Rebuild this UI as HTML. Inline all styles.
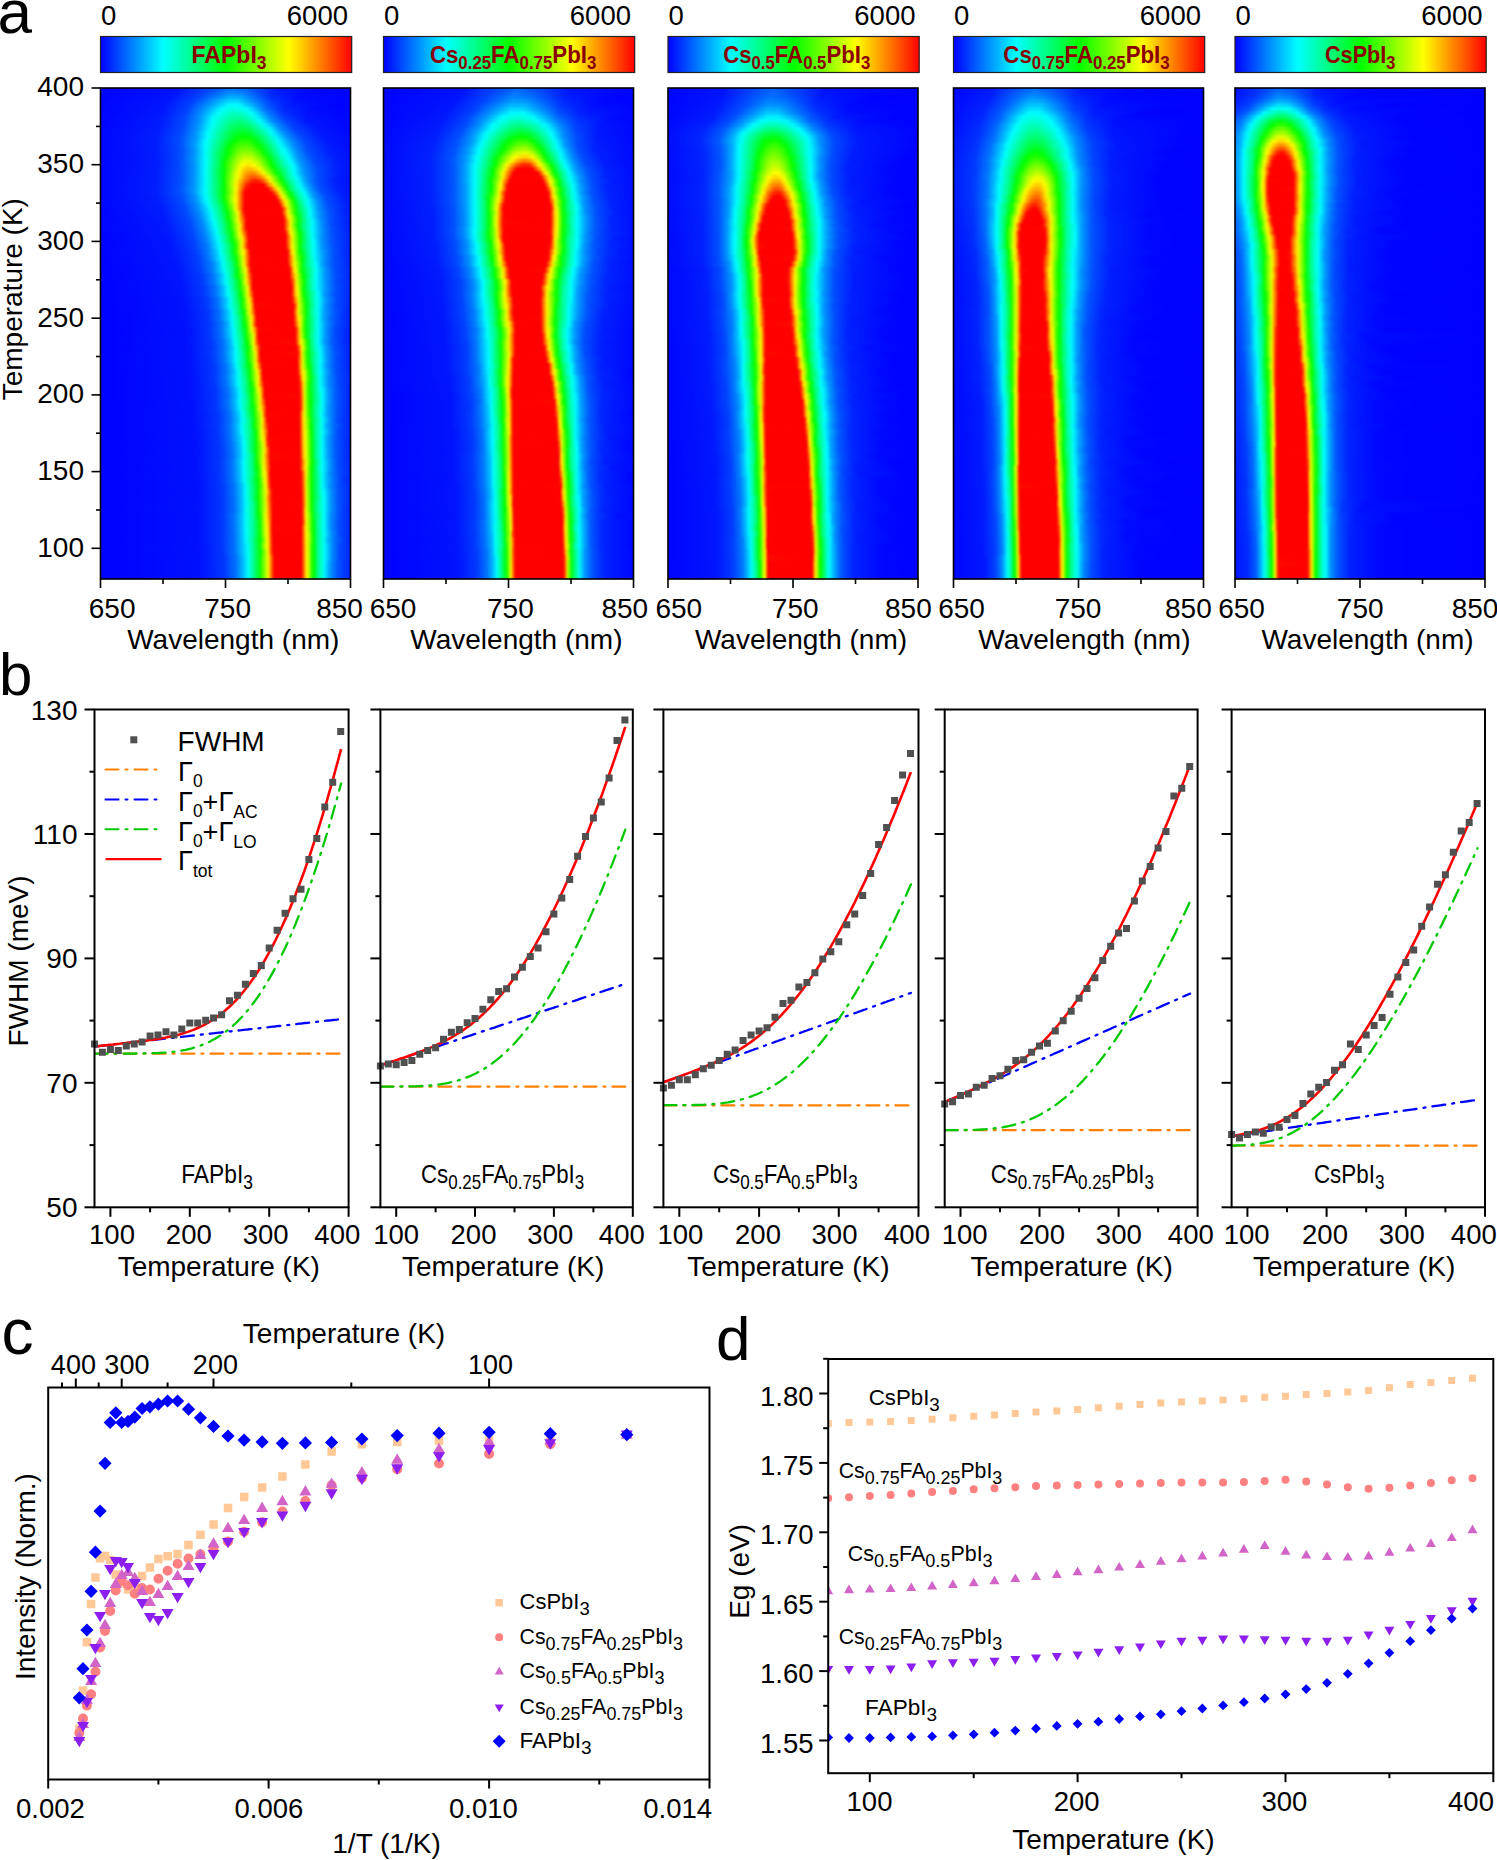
<!DOCTYPE html>
<html><head><meta charset="utf-8"><style>
html,body{margin:0;padding:0;background:#fff;width:1497px;height:1860px;overflow:hidden}
.hm{position:absolute;overflow:hidden}
.hb{position:absolute}
.hb i{position:absolute;left:0;width:100%;display:block}
svg{position:absolute;left:0;top:0}
</style></head><body>
<div class="hm" style="left:100.5px;top:88px;width:250.0px;height:491px"><div class="hb" style="left:-5px;top:-5px;width:260px;height:501px;filter:blur(1.0px)"><i style="top:0px;height:5px;background:linear-gradient(90deg,#0001ff 0px,#01f 84px,#0043ff 116px,#0067ff 138px,#004aff 154px,#0014ff 180px,#0001ff 242px,#0001ff 260px)"></i><i style="top:4px;height:5px;background:linear-gradient(90deg,#0001ff 0px,#0012ff 82px,#0041ff 112px,#0075ff 136px,#0063ff 150px,#001bff 178px,#0003ff 222px,#0001ff 260px)"></i><i style="top:8px;height:5px;background:linear-gradient(90deg,#0001ff 0px,#0013ff 80px,#0041ff 106px,#008dff 134px,#0082ff 146px,#0024ff 176px,#0006ff 210px,#0001ff 260px)"></i><i style="top:12px;height:5px;background:linear-gradient(90deg,#0001ff 0px,#0014ff 76px,#0040ff 102px,#00adff 134px,#00a7ff 144px,#002fff 174px,#000bff 202px,#0001ff 260px)"></i><i style="top:16px;height:5px;background:linear-gradient(90deg,#0002ff 0px,#0015ff 72px,#0042ff 98px,#00d2ff 132px,#00d3ff 142px,#0083ff 158px,#0037ff 176px,#000fff 200px,#0001ff 260px)"></i><i style="top:20px;height:5px;background:linear-gradient(90deg,#0002ff 0px,#0016ff 70px,#04f 94px,#09f 114px,#00f7ff 132px,#00fdff 142px,#00baff 154px,#0052ff 172px,#001dff 190px,#0004ff 234px,#0002ff 260px)"></i><i style="top:24px;height:5px;background:linear-gradient(90deg,#0002ff 0px,#0017ff 68px,#04f 92px,#0090ff 108px,#00fffd 126px,#00ffde 138px,#00fff6 148px,#00f7ff 152px,#0069ff 170px,#002cff 186px,#000aff 216px,#0002ff 260px)"></i><i style="top:28px;height:5px;background:linear-gradient(90deg,#0002ff 0px,#0017ff 66px,#04f 90px,#0093ff 106px,#00fffc 122px,#00ffc2 136px,#00ffc8 146px,#00fffe 156px,#0079ff 172px,#0035ff 186px,#000fff 212px,#0002ff 260px)"></i><i style="top:32px;height:5px;background:linear-gradient(90deg,#0003ff 0px,#0018ff 64px,#0046ff 88px,#0092ff 104px,#00fffe 118px,#00ffac 134px,#00ffa1 144px,#00ffcd 154px,#00fcff 160px,#0085ff 174px,#003eff 188px,#0013ff 210px,#0003ff 260px)"></i><i style="top:36px;height:5px;background:linear-gradient(90deg,#0003ff 0px,#001aff 64px,#004aff 88px,#0093ff 104px,#0ff 116px,#00ff94 134px,#00ff80 144px,#00ffa0 152px,#00fffe 164px,#008bff 176px,#0045ff 190px,#0017ff 210px,#0003ff 260px)"></i><i style="top:40px;height:5px;background:linear-gradient(90deg,#0003ff 0px,#001aff 64px,#004bff 88px,#0094ff 102px,#00fffc 116px,#00ff78 134px,#00ff5f 144px,#00ff7f 154px,#00fffc 168px,#0084ff 182px,#003eff 196px,#0014ff 218px,#0004ff 260px)"></i><i style="top:44px;height:5px;background:linear-gradient(90deg,#0003ff 0px,#001bff 62px,#004bff 86px,#0095ff 102px,#00fffa 114px,#00ff5c 136px,#00ff3e 146px,#00ff56 154px,#00ffcd 168px,#00f8ff 174px,#008cff 184px,#0043ff 198px,#0016ff 222px,#0005ff 260px)"></i><i style="top:48px;height:5px;background:linear-gradient(90deg,#0004ff 0px,#001cff 62px,#004cff 86px,#0096ff 100px,#0ff 112px,#00ff3d 136px,#00ff1d 146px,#00ff2e 154px,#00ff87 164px,#00fffd 176px,#008bff 188px,#0043ff 202px,#0016ff 226px,#0006ff 260px)"></i><i style="top:52px;height:5px;background:linear-gradient(90deg,#0004ff 0px,#001cff 60px,#004dff 84px,#0097ff 100px,#00fffd 112px,#00ff1d 138px,#04ff00 146px,#00ff08 154px,#00ff56 164px,#00f8ff 180px,#0094ff 190px,#004cff 204px,#001cff 224px,#0007ff 260px)"></i><i style="top:56px;height:5px;background:linear-gradient(90deg,#0004ff 0px,#001dff 60px,#004fff 84px,#009cff 100px,#00fffd 110px,#00ff02 138px,#27ff00 146px,#1eff00 154px,#00ff0a 160px,#00fffd 182px,#0093ff 194px,#0048ff 208px,#0019ff 230px,#0008ff 260px)"></i><i style="top:60px;height:5px;background:linear-gradient(90deg,#0004ff 0px,#001dff 60px,#004cff 84px,#0098ff 98px,#00feff 110px,#00ff4b 128px,#00ff02 134px,#4f0 144px,#48ff00 152px,#13ff00 160px,#00ff0c 164px,#00fff9 184px,#0087ff 198px,#0043ff 212px,#0017ff 236px,#0009ff 260px)"></i><i style="top:64px;height:5px;background:linear-gradient(90deg,#0004ff 0px,#001cff 60px,#004bff 84px,#0091ff 98px,#00fffd 110px,#00ff53 126px,#0f0 132px,#5cff00 142px,#72ff00 150px,#5bff00 156px,#02ff00 166px,#00ffe3 184px,#00fdff 188px,#0097ff 198px,#004fff 210px,#001eff 232px,#000aff 260px)"></i><i style="top:68px;height:5px;background:linear-gradient(90deg,#0004ff 0px,#001bff 60px,#004aff 84px,#008fff 98px,#00ebff 108px,#00fff3 110px,#0f5 124px,#06ff00 132px,#74ff00 142px,#98ff00 148px,#89ff00 156px,#40ff00 164px,#0f0 168px,#0fc 184px,#0ff 190px,#09f 200px,#0050ff 212px,#001fff 234px,#000bff 260px)"></i><i style="top:72px;height:5px;background:linear-gradient(90deg,#0004ff 0px,#001cff 62px,#004cff 84px,#0095ff 98px,#00fffb 110px,#00ff67 122px,#00ff05 130px,#93ff00 142px,#beff00 148px,#b3ff00 156px,#69ff00 164px,#00ff05 172px,#00ffcb 186px,#00fffe 192px,#0092ff 202px,#004aff 216px,#001bff 240px,#000dff 260px)"></i><i style="top:76px;height:5px;background:linear-gradient(90deg,#0004ff 0px,#001cff 62px,#004bff 84px,#0095ff 98px,#00fffa 110px,#00ff6d 122px,#00ff06 128px,#b1ff00 142px,#e6ff00 148px,#e5ff00 154px,#aeff00 162px,#04ff00 174px,#00ffc9 188px,#00fffd 194px,#0093ff 204px,#004aff 218px,#001bff 242px,#000eff 260px)"></i><i style="top:80px;height:5px;background:linear-gradient(90deg,#0004ff 0px,#001cff 62px,#004cff 84px,#008fff 98px,#00efff 108px,#00fff8 110px,#00ff68 122px,#04ff00 128px,#cf0 142px,#ff0 146px,#ffe700 152px,#feff00 158px,#9fff00 166px,#00ff03 176px,#00ffb0 188px,#00fffd 196px,#0092ff 206px,#0049ff 220px,#001bff 244px,#000fff 260px)"></i><i style="top:84px;height:5px;background:linear-gradient(90deg,#0004ff 0px,#001cff 60px,#004aff 84px,#0091ff 98px,#00f1ff 108px,#00fff6 110px,#00ff73 120px,#00ff07 128px,#fdff00 144px,#ffc200 150px,#ffbf00 156px,#fff000 162px,#f4ff00 164px,#05ff00 178px,#00ffbe 192px,#00fdff 198px,#009dff 206px,#0051ff 220px,#001fff 240px,#000fff 260px)"></i><i style="top:88px;height:5px;background:linear-gradient(90deg,#0004ff 0px,#001cff 60px,#004bff 84px,#0091ff 98px,#00f1ff 108px,#00fff6 110px,#00ff74 120px,#00ff06 128px,#fffc00 142px,#ffa400 150px,#ff8900 156px,#ff9d00 160px,#ffe900 166px,#f3ff00 168px,#0aff00 180px,#00ff2c 184px,#00ffc4 194px,#00fffd 198px,#0094ff 208px,#004bff 222px,#001bff 244px,#000eff 260px)"></i><i style="top:92px;height:5px;background:linear-gradient(90deg,#0004ff 0px,#001dff 60px,#004bff 84px,#0092ff 98px,#00f0ff 108px,#00fff7 110px,#00ff75 120px,#00ff07 128px,#79ff00 134px,#feff00 142px,#ff8400 150px,#ff5600 156px,#ff5c00 160px,#ff9200 166px,#feff00 172px,#00ff05 184px,#00ffa2 192px,#00fffb 200px,#0092ff 210px,#004cff 222px,#001cff 242px,#000eff 260px)"></i><i style="top:96px;height:5px;background:linear-gradient(90deg,#0004ff 0px,#001eff 60px,#004cff 84px,#0092ff 98px,#00efff 108px,#00fff8 110px,#0f7 120px,#00ff07 128px,#56ff00 132px,#f7ff00 140px,#ff6400 150px,#ff2300 156px,#ff1700 160px,#ff4100 166px,#ffb100 172px,#fff800 174px,#00ff01 186px,#00ff97 194px,#00fbff 202px,#009bff 210px,#0053ff 220px,#0021ff 238px,#000dff 260px)"></i><i style="top:100px;height:5px;background:linear-gradient(90deg,#0005ff 0px,#001eff 60px,#004dff 84px,#0092ff 98px,#00efff 108px,#00ffef 110px,#00ff68 122px,#00ff06 128px,#83ff00 134px,#fff800 140px,#ff2e00 150px,#ff0100 154px,#ff0200 168px,#ff6b00 172px,#fff000 178px,#f2ff00 178px,#09ff00 188px,#00ff4d 192px,#00ffd2 200px,#00f8ff 204px,#0097ff 212px,#0050ff 222px,#001eff 242px,#000eff 260px)"></i><i style="top:104px;height:5px;background:linear-gradient(90deg,#0005ff 0px,#001eff 60px,#0050ff 84px,#0098ff 98px,#00fffa 110px,#00ff78 120px,#00ff05 128px,#a0ff00 136px,#fdff00 140px,#ff0300 150px,#f00 172px,#ffc800 180px,#f8ff00 182px,#19ff00 190px,#01ff00 190px,#00ffa0 198px,#00fbff 206px,#0098ff 214px,#0050ff 224px,#001fff 242px,#000fff 260px)"></i><i style="top:108px;height:5px;background:linear-gradient(90deg,#0005ff 0px,#001eff 60px,#004eff 84px,#0094ff 98px,#00f3ff 108px,#00fff5 110px,#00ff7d 120px,#00ff08 128px,#49ff00 132px,#fff700 140px,#ff0b00 148px,#f00 150px,#f00 176px,#ffa000 182px,#faff00 184px,#2bff00 192px,#00ff08 194px,#00ff98 200px,#00fffd 208px,#009aff 216px,#0051ff 226px,#0020ff 244px,#0010ff 260px)"></i><i style="top:112px;height:5px;background:linear-gradient(90deg,#0005ff 0px,#001dff 62px,#004eff 86px,#0094ff 100px,#00fffd 110px,#00ff86 120px,#03ff00 128px,#b8ff00 136px,#fff700 140px,#ff1200 148px,#f00 148px,#f00 180px,#ff1200 180px,#ffec00 186px,#efff00 188px,#1bff00 194px,#02ff00 196px,#00ff93 202px,#00fffb 210px,#0092ff 218px,#004dff 230px,#001dff 248px,#0012ff 260px)"></i><i style="top:116px;height:5px;background:linear-gradient(90deg,#0004ff 0px,#001dff 62px,#004cff 86px,#0093ff 100px,#00f4ff 110px,#00fff4 112px,#00ff75 122px,#00ff0b 128px,#1eff00 130px,#e2ff00 138px,#feff00 140px,#ff0d00 148px,#f00 150px,#f00 182px,#ffe700 188px,#f3ff00 190px,#35ff00 196px,#00ff01 198px,#00ff96 204px,#00fffe 212px,#09f 220px,#0050ff 230px,#001fff 248px,#0013ff 260px)"></i><i style="top:120px;height:5px;background:linear-gradient(90deg,#0004ff 0px,#001cff 64px,#004aff 88px,#0090ff 102px,#00e5ff 110px,#0ff 112px,#00ff84 122px,#00ff09 130px,#38ff00 132px,#ef0 140px,#fff300 140px,#ff1400 148px,#f00 148px,#f00 184px,#ff0b00 184px,#fff800 190px,#25ff00 198px,#0aff00 198px,#00ff3f 202px,#00ffc3 208px,#00fffa 212px,#0093ff 222px,#004dff 232px,#001dff 252px,#0014ff 260px)"></i><i style="top:124px;height:5px;background:linear-gradient(90deg,#0004ff 0px,#001cff 66px,#004cff 90px,#008eff 102px,#00e2ff 112px,#00fff7 114px,#00ff85 124px,#00ff06 130px,#6eff00 136px,#f8ff00 140px,#ff8700 144px,#f00 148px,#ff0300 186px,#fff500 192px,#9fff00 194px,#0aff00 200px,#00ff3f 202px,#00ffc3 210px,#00fffb 214px,#0092ff 222px,#004cff 234px,#001dff 252px,#0015ff 260px)"></i><i style="top:128px;height:5px;background:linear-gradient(90deg,#0003ff 0px,#001bff 66px,#004aff 90px,#008bff 104px,#00e0ff 112px,#00fff8 116px,#00ff84 124px,#00ff03 132px,#8eff00 138px,#fffc00 142px,#ff0f00 148px,#f00 150px,#f00 186px,#ff0700 186px,#fffc00 192px,#3aff00 198px,#03ff00 200px,#00ff96 208px,#00fffe 214px,#00a2ff 222px,#0059ff 232px,#0024ff 248px,#0016ff 260px)"></i><i style="top:132px;height:5px;background:linear-gradient(90deg,#0003ff 0px,#001aff 68px,#0048ff 92px,#0089ff 104px,#00deff 114px,#00fffa 116px,#00ff84 126px,#0f0 132px,#b2ff00 140px,#ef0 142px,#fff100 142px,#f00 150px,#f00 186px,#ff1400 188px,#ffe300 192px,#f5ff00 194px,#30ff00 200px,#00ff07 202px,#00ff8b 208px,#00fff7 214px,#008bff 224px,#0049ff 236px,#001bff 256px,#0016ff 260px)"></i><i style="top:136px;height:5px;background:linear-gradient(90deg,#0003ff 0px,#0019ff 68px,#0047ff 92px,#0087ff 106px,#00dcff 114px,#00fffa 118px,#00ff83 126px,#04ff00 134px,#bf0 140px,#f9ff00 142px,#ff5900 148px,#ff0f00 150px,#f00 150px,#f00 188px,#fff400 194px,#c1ff00 196px,#07ff00 202px,#00ffa6 210px,#00fffd 216px,#09f 224px,#004fff 234px,#001fff 252px,#0017ff 260px)"></i><i style="top:140px;height:5px;background:linear-gradient(90deg,#0003ff 0px,#0018ff 70px,#0045ff 94px,#0085ff 106px,#00dbff 116px,#00fffb 118px,#00ff82 128px,#00ff0e 134px,#09ff00 134px,#c5ff00 142px,#fff900 144px,#f00 150px,#f00 188px,#ff0d00 188px,#ffe000 194px,#f7ff00 194px,#30ff00 200px,#00ff06 202px,#00ff8b 208px,#00fff8 216px,#008bff 226px,#0049ff 236px,#001aff 256px,#0017ff 260px)"></i><i style="top:144px;height:5px;background:linear-gradient(90deg,#0003ff 0px,#0018ff 70px,#04f 94px,#0084ff 108px,#00daff 116px,#00fffb 120px,#00ff80 128px,#00ff09 134px,#26ff00 136px,#d0ff00 142px,#f0ff00 144px,#ffec00 144px,#ff0e00 150px,#f00 152px,#f00 188px,#fff500 194px,#9cff00 198px,#05ff00 202px,#00ffa8 210px,#0ff 216px,#00a1ff 224px,#0058ff 234px,#0024ff 250px,#0017ff 260px)"></i><i style="top:148px;height:5px;background:linear-gradient(90deg,#0002ff 0px,#0018ff 72px,#0043ff 96px,#0083ff 108px,#00daff 118px,#00fffb 120px,#00ff8e 128px,#00ff04 136px,#7fff00 140px,#feff00 144px,#f00 152px,#f00 188px,#ff1000 190px,#ffe500 194px,#f2ff00 196px,#2bff00 202px,#00ff0b 204px,#00ff8f 210px,#00fffb 216px,#0092ff 226px,#004cff 236px,#001dff 256px,#0018ff 260px)"></i><i style="top:152px;height:5px;background:linear-gradient(90deg,#0002ff 0px,#0017ff 74px,#0042ff 96px,#0082ff 110px,#00daff 118px,#00fffb 122px,#00ff8b 130px,#03ff00 136px,#a8ff00 142px,#eaff00 144px,#fff200 146px,#ff0b00 152px,#f00 154px,#f00 190px,#fffd00 196px,#36ff00 202px,#00ff01 204px,#0f8 210px,#00fff6 216px,#00eaff 218px,#008cff 226px,#0049ff 238px,#001aff 258px,#0018ff 260px)"></i><i style="top:156px;height:5px;background:linear-gradient(90deg,#0002ff 0px,#0017ff 74px,#0041ff 98px,#0081ff 110px,#00daff 120px,#00fffa 122px,#0f8 130px,#00ff0e 136px,#0aff00 138px,#b5ff00 144px,#f9ff00 146px,#ff6f00 150px,#ff1d00 152px,#f00 152px,#f00 190px,#ff1800 190px,#fe0 196px,#eaff00 196px,#41ff00 202px,#08ff00 204px,#00ff82 210px,#00fff2 216px,#00fffe 218px,#00a2ff 224px,#0058ff 234px,#0024ff 252px,#0019ff 260px)"></i><i style="top:160px;height:7px;background:linear-gradient(90deg,#0002ff 0px,#0016ff 76px,#003fff 98px,#007fff 112px,#00d8ff 120px,#00fffb 124px,#00ff87 132px,#00ff0a 138px,#28ff00 140px,#fffa00 146px,#ff0a00 152px,#f00 156px,#f00 190px,#fdff00 196px,#4fff00 202px,#00ff06 204px,#00ff8c 210px,#00fff9 218px,#0092ff 226px,#004cff 238px,#001dff 256px,#0019ff 260px)"></i><i style="top:166px;height:7px;background:linear-gradient(90deg,#0002ff 0px,#0015ff 76px,#003dff 100px,#007bff 112px,#00d4ff 122px,#00fffe 124px,#00ff89 132px,#00ff0a 138px,#2aff00 140px,#e7ff00 146px,#fff200 148px,#f00 154px,#f00 190px,#ff0e00 192px,#ffe900 196px,#ef0 198px,#43ff00 202px,#09ff00 204px,#00ff42 208px,#00ffc7 214px,#0ff 218px,#00a1ff 226px,#0058ff 236px,#0023ff 252px,#0019ff 260px)"></i><i style="top:172px;height:7px;background:linear-gradient(90deg,#0002ff 0px,#0015ff 78px,#003eff 102px,#0080ff 114px,#00d1ff 122px,#00fdff 126px,#00ff9c 132px,#00ff08 140px,#4aff00 142px,#f0ff00 148px,#ffe800 148px,#ff1600 154px,#f00 154px,#f00 192px,#ff1b00 192px,#fff600 198px,#98ff00 200px,#00ff01 206px,#00ff8a 212px,#00fff8 218px,#0093ff 228px,#004cff 238px,#001cff 258px,#001aff 260px)"></i><i style="top:178px;height:7px;background:linear-gradient(90deg,#0002ff 0px,#0014ff 80px,#003cff 102px,#007dff 116px,#00ceff 124px,#00fbff 126px,#00ff9c 134px,#00ff1f 140px,#00ff06 140px,#6dff00 144px,#faff00 148px,#ff5e00 152px,#ff0300 154px,#f00 192px,#fcff00 198px,#4bff00 204px,#10ff00 206px,#00ff0b 206px,#00ff92 212px,#00fffe 220px,#00a1ff 226px,#0057ff 236px,#0023ff 254px,#001aff 260px)"></i><i style="top:184px;height:7px;background:linear-gradient(90deg,#0001ff 0px,#0014ff 82px,#003eff 104px,#007bff 116px,#0cf 124px,#00fff7 128px,#00ff8a 136px,#00ff03 142px,#95ff00 146px,#fff900 150px,#ff1e00 154px,#f00 156px,#ff0300 194px,#ffe700 198px,#ef0 200px,#3fff00 204px,#05ff00 206px,#00ff9a 214px,#00fff8 220px,#0089ff 230px,#0047ff 240px,#001bff 260px)"></i><i style="top:190px;height:7px;background:linear-gradient(90deg,#0001ff 0px,#0014ff 82px,#003cff 106px,#0079ff 118px,#00c9ff 126px,#00fff9 130px,#00ff8a 136px,#01ff00 142px,#9eff00 148px,#e9ff00 150px,#ffed00 150px,#ff0900 156px,#f00 160px,#f00 194px,#f10 194px,#fff600 200px,#72ff00 204px,#14ff00 206px,#00ff07 208px,#00ff91 214px,#00fffe 220px,#00a0ff 228px,#0056ff 238px,#0023ff 254px,#001bff 260px)"></i><i style="top:196px;height:7px;background:linear-gradient(90deg,#0001ff 0px,#0013ff 84px,#003bff 106px,#07f 118px,#00c8ff 126px,#00fffa 130px,#00ff89 138px,#05ff00 144px,#a7ff00 148px,#f5ff00 150px,#ffb400 152px,#ff2500 156px,#f00 156px,#f00 194px,#ff2100 196px,#ffdc00 200px,#f8ff00 200px,#43ff00 206px,#07ff00 208px,#00ff9b 214px,#00fff9 220px,#0090ff 230px,#004aff 240px,#001bff 260px)"></i><i style="top:202px;height:7px;background:linear-gradient(90deg,#0001ff 0px,#0013ff 86px,#003aff 108px,#0075ff 120px,#00c6ff 128px,#00fffa 132px,#00ff87 138px,#00ff12 144px,#0aff00 144px,#b1ff00 150px,#fffd00 152px,#ff1000 156px,#f00 158px,#f00 196px,#fe0 200px,#e6ff00 202px,#3f0 206px,#00ff08 208px,#00ff93 214px,#00fff5 220px,#00eaff 222px,#0092ff 230px,#004fff 240px,#001eff 258px,#001bff 260px)"></i><i style="top:208px;height:7px;background:linear-gradient(90deg,#0001ff 0px,#0013ff 86px,#0039ff 108px,#0074ff 120px,#00c5ff 128px,#00fffa 132px,#00ff86 140px,#00ff0d 144px,#10ff00 146px,#bf0 150px,#e4ff00 152px,#ffef00 152px,#f00 158px,#f00 196px,#ff1400 196px,#ffd700 200px,#fcff00 202px,#41ff00 206px,#04ff00 208px,#00ffa0 216px,#00fffe 222px,#009eff 228px,#0054ff 238px,#0021ff 256px,#001bff 260px)"></i><i style="top:214px;height:7px;background:linear-gradient(90deg,#0001ff 0px,#0012ff 88px,#0038ff 110px,#0073ff 122px,#00c5ff 130px,#00fffa 134px,#00ff83 140px,#00ff08 146px,#35ff00 148px,#f0ff00 152px,#ffe200 154px,#ff1b00 158px,#f00 158px,#f00 196px,#ffed00 202px,#e6ff00 202px,#2fff00 208px,#10ff00 208px,#00ff0d 210px,#00ff9a 216px,#00fffb 222px,#0096ff 230px,#0050ff 240px,#001fff 256px,#001bff 260px)"></i><i style="top:220px;height:7px;background:linear-gradient(90deg,#0001ff 0px,#0012ff 88px,#0037ff 110px,#0073ff 122px,#00c5ff 130px,#00fff9 134px,#00ff80 142px,#00ff02 146px,#83ff00 150px,#fdff00 154px,#ff3e00 158px,#ff0700 158px,#f00 190px,#f00 196px,#ff0d00 198px,#ffd700 202px,#faff00 202px,#3bff00 208px,#00ff03 210px,#00ff95 216px,#00fff9 222px,#008dff 230px,#004bff 240px,#001cff 258px,#001bff 260px)"></i><i style="top:226px;height:7px;background:linear-gradient(90deg,#0001ff 0px,#0012ff 90px,#0037ff 112px,#0073ff 124px,#00c7ff 132px,#00fff7 136px,#00ff7c 142px,#04ff00 148px,#b4ff00 152px,#fff400 154px,#f00 160px,#f00 198px,#ff2800 198px,#fff100 202px,#b6ff00 204px,#06ff00 210px,#00ffa4 216px,#00fff7 222px,#00a1ff 228px,#0059ff 238px,#0025ff 252px,#001aff 260px)"></i><i style="top:232px;height:7px;background:linear-gradient(90deg,#0001ff 0px,#0012ff 90px,#0037ff 112px,#0074ff 124px,#00c9ff 132px,#00faff 136px,#00ffa1 142px,#00ff12 148px,#0cff00 148px,#beff00 154px,#e9ff00 154px,#ffe800 156px,#ff1c00 160px,#f00 160px,#f00 198px,#ff0c00 198px,#ffdf00 202px,#f1ff00 204px,#51ff00 208px,#0eff00 210px,#00ff10 210px,#00ff8d 216px,#00fff6 222px,#00b9ff 226px,#006aff 234px,#0030ff 248px,#0019ff 260px)"></i><i style="top:238px;height:7px;background:linear-gradient(90deg,#0001ff 0px,#01f 90px,#0038ff 114px,#0076ff 126px,#0cf 134px,#00feff 136px,#00ff89 144px,#00ff0c 148px,#12ff00 150px,#c7ff00 154px,#f2ff00 156px,#ffde00 156px,#ff0f00 160px,#f00 162px,#f00 198px,#ff6400 200px,#fffd00 204px,#36ff00 208px,#00ff0b 210px,#00ff8c 216px,#00fff8 222px,#0092ff 230px,#004bff 240px,#001cff 256px,#0018ff 260px)"></i><i style="top:244px;height:7px;background:linear-gradient(90deg,#0001ff 0px,#01f 92px,#0039ff 114px,#0078ff 126px,#00cfff 134px,#00fffd 138px,#00ff84 144px,#00ff07 150px,#5aff00 152px,#faff00 156px,#ff7300 160px,#ff0600 162px,#f00 198px,#ff0f00 200px,#ffeb00 204px,#e3ff00 204px,#3fff00 208px,#00ff05 210px,#00ff8b 216px,#00fff9 222px,#008fff 230px,#004dff 238px,#001eff 254px,#0017ff 260px)"></i><i style="top:250px;height:7px;background:linear-gradient(90deg,#0001ff 0px,#01f 92px,#0037ff 114px,#0073ff 126px,#00c6ff 134px,#00fff8 138px,#00ff7e 146px,#02ff00 150px,#b0ff00 156px,#fff800 158px,#f00 162px,#f00 200px,#ff2a00 200px,#ffd200 204px,#faff00 204px,#4eff00 208px,#07ff00 210px,#00ff9a 216px,#00fff6 222px,#00e4ff 224px,#0090ff 230px,#004dff 238px,#001dff 254px,#0016ff 260px)"></i><i style="top:256px;height:7px;background:linear-gradient(90deg,#0001ff 0px,#0012ff 92px,#0039ff 116px,#0076ff 128px,#0cf 136px,#00feff 138px,#00ff8b 146px,#00ff10 150px,#0dff00 152px,#bfff00 156px,#e9ff00 158px,#ffe800 158px,#ff1d00 162px,#f00 164px,#ff0700 200px,#ffe800 204px,#e5ff00 206px,#3dff00 210px,#00ff08 212px,#00ff8f 216px,#00fffd 222px,#00a1ff 228px,#005aff 236px,#0025ff 250px,#0017ff 260px)"></i><i style="top:262px;height:7px;background:linear-gradient(90deg,#0001ff 0px,#01f 92px,#0037ff 116px,#0072ff 128px,#00c4ff 136px,#00fffa 140px,#00ff82 146px,#00ff04 152px,#80ff00 156px,#fbff00 158px,#ff7400 162px,#ff0800 164px,#f00 170px,#f00 200px,#ff2300 202px,#ff0 206px,#51ff00 210px,#09ff00 212px,#00ff51 214px,#00ffd5 220px,#00f7ff 224px,#009bff 230px,#0051ff 238px,#0020ff 254px,#0017ff 260px)"></i><i style="top:268px;height:7px;background:linear-gradient(90deg,#0001ff 0px,#0012ff 94px,#0039ff 116px,#0076ff 128px,#00cbff 136px,#00fbff 140px,#00ffa2 146px,#08ff00 152px,#b7ff00 158px,#fff200 160px,#f00 164px,#ff0600 202px,#ffe700 206px,#e5ff00 206px,#3dff00 210px,#00ff08 212px,#00ff8f 218px,#00fffe 224px,#00a0ff 230px,#005aff 238px,#0025ff 252px,#0018ff 260px)"></i><i style="top:274px;height:7px;background:linear-gradient(90deg,#0001ff 0px,#01f 94px,#0037ff 116px,#0072ff 128px,#00c3ff 136px,#00fffc 140px,#00ff85 148px,#00ff0a 152px,#34ff00 154px,#f0ff00 160px,#ffe100 160px,#ff1800 164px,#f00 166px,#f00 202px,#ff2900 202px,#ffd200 206px,#faff00 206px,#4dff00 210px,#06ff00 212px,#00ff9c 218px,#00fff8 224px,#008eff 232px,#004bff 240px,#001cff 256px,#0018ff 260px)"></i><i style="top:280px;height:7px;background:linear-gradient(90deg,#0001ff 0px,#0012ff 94px,#0038ff 118px,#0075ff 130px,#00c9ff 138px,#00f9ff 140px,#00ffa5 146px,#00ff1a 152px,#02ff00 154px,#aeff00 158px,#fffd00 160px,#ff0400 166px,#f00 202px,#ff1300 202px,#fff100 206px,#afff00 208px,#13ff00 212px,#00ff0e 214px,#00ff94 218px,#00fcff 224px,#009dff 230px,#0058ff 238px,#0024ff 252px,#0018ff 260px)"></i><i style="top:286px;height:7px;background:linear-gradient(90deg,#0001ff 0px,#01f 94px,#0037ff 118px,#0071ff 130px,#00c1ff 138px,#00fffe 142px,#00ff89 148px,#00ff0f 154px,#0eff00 154px,#bdff00 160px,#e6ff00 160px,#ffec00 162px,#ff2700 166px,#f00 166px,#f00 202px,#ffe000 206px,#ecff00 208px,#42ff00 212px,#00ff03 214px,#00ff8d 218px,#00fffd 224px,#0095ff 232px,#004eff 240px,#001fff 256px,#0019ff 260px)"></i><i style="top:292px;height:7px;background:linear-gradient(90deg,#0001ff 0px,#01f 96px,#0038ff 118px,#0074ff 130px,#00c7ff 138px,#00fff8 142px,#00ff80 150px,#00ff03 154px,#7fff00 158px,#f7ff00 162px,#ffad00 164px,#ff1400 166px,#f00 168px,#f00 202px,#ff2a00 204px,#ffd100 206px,#faff00 208px,#4dff00 212px,#06ff00 214px,#00ff9d 220px,#00fff9 224px,#008dff 232px,#004aff 242px,#001cff 258px,#0019ff 260px)"></i><i style="top:298px;height:7px;background:linear-gradient(90deg,#0001ff 0px,#01f 96px,#0036ff 118px,#0070ff 130px,#00bfff 138px,#00feff 142px,#00ff8c 150px,#00ff14 154px,#09ff00 156px,#b4ff00 160px,#fff700 162px,#ff0100 168px,#f00 202px,#ff1b00 204px,#fff700 208px,#32ff00 212px,#0fff00 214px,#00ff12 214px,#00ff97 220px,#00fff5 224px,#00e4ff 226px,#008fff 232px,#004bff 242px,#001cff 258px,#0019ff 260px)"></i><i style="top:304px;height:7px;background:linear-gradient(90deg,#0001ff 0px,#01f 96px,#0038ff 120px,#0073ff 132px,#00c5ff 140px,#00fffa 144px,#00ff83 150px,#00ff08 156px,#34ff00 158px,#edff00 162px,#ffe500 164px,#ff2300 168px,#f00 168px,#f00 202px,#ff0f00 204px,#ffec00 208px,#e1ff00 208px,#3aff00 212px,#00ff0b 214px,#00ff93 220px,#00fff2 224px,#00fcff 226px,#009cff 232px,#0057ff 240px,#0023ff 254px,#0019ff 260px)"></i><i style="top:310px;height:7px;background:linear-gradient(90deg,#0001ff 0px,#01f 96px,#0036ff 120px,#006fff 132px,#00beff 140px,#00fcff 144px,#00ffa2 150px,#04ff00 156px,#adff00 162px,#ff0 164px,#ff1000 168px,#f00 170px,#ff0500 204px,#ffe300 208px,#eaff00 208px,#41ff00 212px,#00ff05 214px,#00ff8f 220px,#0ff 226px,#009eff 232px,#0058ff 240px,#0024ff 254px,#0019ff 260px)"></i><i style="top:316px;height:7px;background:linear-gradient(90deg,#0001ff 0px,#01f 98px,#0037ff 120px,#0072ff 132px,#00c4ff 140px,#00fffb 144px,#00ff85 152px,#00ff0c 156px,#30ff00 158px,#e6ff00 164px,#ffed00 164px,#f00 170px,#f00 204px,#ffdb00 208px,#f2ff00 208px,#47ff00 212px,#0f0 214px,#00ff8b 220px,#00fffd 226px,#009fff 232px,#0058ff 240px,#0024ff 254px,#0019ff 260px)"></i><i style="top:322px;height:7px;background:linear-gradient(90deg,#0001ff 0px,#01f 98px,#0036ff 120px,#006fff 132px,#00bdff 140px,#00fbff 144px,#00ffa3 150px,#00ff1b 156px,#01ff00 158px,#a8ff00 162px,#f8ff00 164px,#ff7e00 168px,#ff1b00 170px,#f00 170px,#f00 204px,#ffd400 208px,#f8ff00 208px,#4cff00 212px,#05ff00 214px,#00ff9f 220px,#00fffb 226px,#0095ff 232px,#004dff 242px,#001eff 256px,#0019ff 260px)"></i><i style="top:328px;height:7px;background:linear-gradient(90deg,#0001ff 0px,#0010ff 98px,#0037ff 122px,#0072ff 134px,#00c4ff 142px,#00fffb 146px,#00ff86 152px,#00ff0d 158px,#0fff00 158px,#baff00 164px,#fff200 166px,#ff0500 170px,#f00 204px,#ff2a00 204px,#feff00 208px,#51ff00 212px,#09ff00 214px,#00ff6c 218px,#00ffe9 224px,#00f2ff 226px,#0096ff 232px,#004dff 242px,#001eff 256px,#0019ff 260px)"></i><i style="top:334px;height:7px;background:linear-gradient(90deg,#0001ff 0px,#01f 98px,#0036ff 122px,#006fff 134px,#00bdff 142px,#00fbff 146px,#00ffa3 152px,#00ff1b 158px,#01ff00 158px,#a6ff00 164px,#f6ff00 166px,#ffb100 168px,#ff2100 170px,#f00 172px,#f00 204px,#ff2400 204px,#fffa00 208px,#30ff00 214px,#0dff00 214px,#00ff32 216px,#00ffaf 222px,#00fff8 226px,#008bff 234px,#0048ff 242px,#001bff 258px,#0019ff 260px)"></i><i style="top:340px;height:7px;background:linear-gradient(90deg,#0001ff 0px,#0010ff 98px,#0037ff 122px,#0073ff 134px,#00c4ff 142px,#00fffa 146px,#00ff85 154px,#00ff0c 158px,#2fff00 160px,#e2ff00 166px,#fff300 166px,#ff0900 172px,#f00 176px,#f00 204px,#ff1f00 204px,#fff600 208px,#81ff00 212px,#10ff00 214px,#0f1 216px,#00ff97 220px,#00fff6 226px,#00b1ff 230px,#0068ff 238px,#002eff 250px,#0019ff 260px)"></i><i style="top:346px;height:7px;background:linear-gradient(90deg,#0001ff 0px,#01f 100px,#0036ff 122px,#0070ff 134px,#00bfff 142px,#00feff 146px,#00ff8d 154px,#04ff00 160px,#a9ff00 164px,#f8ff00 166px,#ff8100 170px,#ff2100 172px,#f00 172px,#f00 204px,#ff1b00 204px,#fff100 208px,#deff00 210px,#37ff00 214px,#14ff00 214px,#00ff0d 216px,#00ff95 220px,#00fff5 226px,#00e4ff 228px,#008dff 234px,#0049ff 242px,#001bff 258px,#0019ff 260px)"></i><i style="top:352px;height:7px;background:linear-gradient(90deg,#0001ff 0px,#01f 100px,#0035ff 122px,#006dff 134px,#00baff 142px,#00fff8 148px,#00ff81 154px,#00ff07 160px,#54ff00 162px,#e8ff00 166px,#ffed00 168px,#ff0500 172px,#f00 204px,#ff1600 204px,#ffec00 208px,#e2ff00 210px,#3bff00 214px,#00ff0a 216px,#00ff93 220px,#00fff4 226px,#00f9ff 226px,#09f 232px,#0054ff 240px,#02f 254px,#0019ff 260px)"></i><i style="top:358px;height:7px;background:linear-gradient(90deg,#0001ff 0px,#0010ff 100px,#0037ff 124px,#0072ff 136px,#00c3ff 144px,#00fffc 148px,#0f8 154px,#0f1 160px,#0bff00 160px,#b2ff00 166px,#fffc00 168px,#ff1800 172px,#f00 174px,#f00 204px,#ff1000 204px,#ffe600 208px,#e8ff00 210px,#40ff00 214px,#00ff06 216px,#00ff90 220px,#00fff2 226px,#00fbff 226px,#009aff 232px,#05f 240px,#02f 254px,#0019ff 260px)"></i><i style="top:364px;height:7px;background:linear-gradient(90deg,#0001ff 0px,#01f 100px,#0036ff 124px,#0070ff 136px,#00bfff 144px,#00fdff 148px,#00ff8e 154px,#03ff00 160px,#a7ff00 166px,#f5ff00 168px,#ffb400 170px,#f00 174px,#f00 204px,#ff0900 204px,#ffe000 208px,#ef0 210px,#4f0 214px,#00ff02 216px,#00ff8e 220px,#00feff 226px,#009cff 232px,#05f 240px,#02f 254px,#0019ff 260px)"></i><i style="top:370px;height:7px;background:linear-gradient(90deg,#0001ff 0px,#01f 100px,#0035ff 124px,#006eff 136px,#0bf 144px,#00f9ff 148px,#00ffa6 154px,#00ff20 160px,#00ff05 160px,#79ff00 164px,#e9ff00 168px,#ffeb00 168px,#ff0600 174px,#ff0200 204px,#ffd900 208px,#f4ff00 210px,#49ff00 214px,#02ff00 216px,#00ff8b 220px,#00fffe 226px,#009dff 232px,#0056ff 240px,#02f 254px,#0019ff 260px)"></i><i style="top:376px;height:7px;background:linear-gradient(90deg,#0001ff 0px,#0010ff 100px,#0038ff 124px,#0073ff 136px,#00c5ff 144px,#00fffa 148px,#00ff84 156px,#00ff0c 160px,#2eff00 162px,#fff700 168px,#ff1400 174px,#f00 174px,#f00 204px,#faff00 210px,#4fff00 214px,#07ff00 216px,#00ff9e 222px,#00fffc 226px,#0092ff 234px,#004bff 242px,#001dff 258px,#0019ff 260px)"></i><i style="top:382px;height:7px;background:linear-gradient(90deg,#0001ff 0px,#0010ff 100px,#0037ff 124px,#0071ff 136px,#00c2ff 144px,#00fffd 148px,#00ff89 156px,#00ff13 160px,#09ff00 162px,#aeff00 166px,#fcff00 168px,#f20 174px,#f00 174px,#f00 204px,#ff6300 206px,#fffd00 210px,#2fff00 214px,#0cff00 216px,#00ff34 218px,#00ffb1 222px,#00fffa 226px,#0094ff 234px,#004cff 242px,#001dff 258px,#001aff 260px)"></i><i style="top:388px;height:7px;background:linear-gradient(90deg,#0001ff 0px,#01f 102px,#0036ff 124px,#0070ff 136px,#00bfff 144px,#00fdff 148px,#00ff8e 156px,#02ff00 162px,#a4ff00 166px,#f1ff00 168px,#ffe300 170px,#f00 174px,#f00 204px,#ff2400 206px,#fff600 210px,#34ff00 214px,#10ff00 216px,#0f1 216px,#00ff98 222px,#00fff8 226px,#008aff 234px,#0047ff 244px,#001aff 260px)"></i><i style="top:394px;height:7px;background:linear-gradient(90deg,#0001ff 0px,#01f 102px,#0035ff 124px,#006eff 136px,#0bf 144px,#00f9ff 148px,#00ffa6 154px,#00ff21 160px,#00ff05 162px,#7f0 166px,#e7ff00 168px,#fe0 170px,#ff0c00 174px,#f00 176px,#f00 204px,#ff1d00 206px,#fff000 210px,#dfff00 210px,#38ff00 214px,#15ff00 216px,#00ff0d 216px,#00ff95 222px,#00fff6 226px,#00c0ff 230px,#006fff 238px,#03f 248px,#001aff 260px)"></i><i style="top:400px;height:7px;background:linear-gradient(90deg,#0001ff 0px,#0010ff 102px,#0038ff 126px,#0073ff 138px,#00c6ff 146px,#00fff9 150px,#00ff84 156px,#00ff0c 162px,#2eff00 164px,#fff900 170px,#ff1900 174px,#f00 176px,#f00 204px,#ff1600 206px,#ffea00 210px,#e5ff00 210px,#3dff00 214px,#00ff08 216px,#00ff93 222px,#00fff4 226px,#00e4ff 228px,#008cff 234px,#0048ff 244px,#001aff 260px)"></i><i style="top:406px;height:7px;background:linear-gradient(90deg,#0001ff 0px,#0010ff 102px,#0037ff 126px,#0072ff 138px,#00c3ff 146px,#00fffc 150px,#00ff89 156px,#00ff13 162px,#09ff00 162px,#aeff00 168px,#fbff00 170px,#f00 176px,#f00 204px,#ff0f00 206px,#ffe400 210px,#eaff00 210px,#42ff00 214px,#00ff04 216px,#00ff90 222px,#00fff2 226px,#00fbff 228px,#09f 234px,#0054ff 242px,#0021ff 256px,#001aff 260px)"></i><i style="top:412px;height:7px;background:linear-gradient(90deg,#0001ff 0px,#0010ff 102px,#0036ff 126px,#0070ff 138px,#00c0ff 146px,#0ff 150px,#00ff8d 156px,#03ff00 162px,#a5ff00 168px,#f2ff00 170px,#ffe300 170px,#ff0100 176px,#f00 204px,#ff0900 206px,#ffde00 210px,#f0ff00 210px,#47ff00 214px,#0f0 216px,#00ff8d 222px,#00fdff 228px,#009bff 234px,#0054ff 242px,#0021ff 256px,#001aff 260px)"></i><i style="top:418px;height:7px;background:linear-gradient(90deg,#0001ff 0px,#01f 102px,#0036ff 126px,#006fff 138px,#00bdff 146px,#00fbff 150px,#00ffa4 156px,#00ff1e 162px,#00ff03 162px,#9dff00 168px,#e9ff00 170px,#ffed00 170px,#ff0d00 176px,#f00 178px,#ff0200 206px,#ffd800 210px,#f6ff00 210px,#4bff00 214px,#04ff00 216px,#00ffa1 222px,#0ff 228px,#009cff 234px,#05f 242px,#0021ff 256px,#001aff 260px)"></i><i style="top:424px;height:7px;background:linear-gradient(90deg,#0001ff 0px,#01f 102px,#0035ff 126px,#006dff 138px,#00baff 146px,#00fff8 150px,#00ff81 158px,#00ff09 162px,#31ff00 164px,#e0ff00 170px,#fff600 170px,#ff1800 176px,#f00 176px,#f00 206px,#fbff00 210px,#4fff00 214px,#07ff00 216px,#00ff9f 222px,#00fffd 228px,#009dff 234px,#05f 242px,#0024ff 254px,#001aff 260px)"></i><i style="top:430px;height:7px;background:linear-gradient(90deg,#0001ff 0px,#0010ff 102px,#0038ff 126px,#0073ff 138px,#00c5ff 146px,#00fffa 150px,#00ff85 158px,#00ff0e 162px,#0eff00 164px,#b2ff00 168px,#fffe00 170px,#f20 176px,#f00 176px,#f00 206px,#fffe00 210px,#2eff00 216px,#0bff00 216px,#00ff35 218px,#00ffb2 224px,#00fffb 228px,#0092ff 234px,#004aff 244px,#001cff 258px,#001aff 260px)"></i><i style="top:436px;height:7px;background:linear-gradient(90deg,#0001ff 0px,#0010ff 102px,#0037ff 126px,#0072ff 138px,#00c3ff 146px,#00fffc 150px,#00ff89 158px,#08ff00 164px,#acff00 168px,#f8ff00 170px,#ff8600 174px,#f00 176px,#f00 206px,#ff6000 208px,#fff900 210px,#31ff00 216px,#0eff00 216px,#00ff13 218px,#00ff9a 222px,#00fffa 228px,#0093ff 234px,#0050ff 242px,#0020ff 256px,#001bff 260px)"></i><i style="top:442px;height:7px;background:linear-gradient(90deg,#0001ff 0px,#0010ff 102px,#0036ff 126px,#0071ff 138px,#00c0ff 146px,#0ff 150px,#00ff8c 158px,#04ff00 164px,#a5ff00 168px,#f1ff00 170px,#ffe400 172px,#ff0500 176px,#f00 206px,#ff2500 206px,#fff500 210px,#83ff00 214px,#1f0 216px,#00ff10 218px,#00ff98 222px,#00fff9 228px,#0094ff 234px,#0051ff 242px,#0020ff 256px,#001bff 260px)"></i><i style="top:448px;height:7px;background:linear-gradient(90deg,#0001ff 0px,#0010ff 102px,#0036ff 126px,#006fff 138px,#00beff 146px,#00fdff 150px,#00ff8f 158px,#00ff01 164px,#9fff00 168px,#ebff00 170px,#ffeb00 172px,#ff0d00 176px,#f00 178px,#f00 206px,#ff2000 206px,#fff100 210px,#deff00 212px,#38ff00 216px,#14ff00 216px,#00ff0d 218px,#00ff97 222px,#00fff7 228px,#008aff 236px,#0046ff 244px,#001bff 260px)"></i><i style="top:454px;height:7px;background:linear-gradient(90deg,#0001ff 0px,#0010ff 102px,#0036ff 126px,#006fff 138px,#00bdff 146px,#00faff 150px,#00ffa5 156px,#00ff20 162px,#00ff05 164px,#7f0 168px,#e5ff00 170px,#fff100 172px,#ff1400 176px,#f00 178px,#f00 206px,#ff1c00 206px,#ffed00 210px,#e1ff00 212px,#3bff00 216px,#00ff0b 218px,#00ff95 222px,#00fff6 228px,#00b0ff 232px,#06f 240px,#002cff 252px,#001bff 260px)"></i><i style="top:460px;height:7px;background:linear-gradient(90deg,#0001ff 0px,#01f 104px,#0035ff 126px,#006eff 138px,#0bf 146px,#00fff7 152px,#00ff80 158px,#00ff08 164px,#52ff00 166px,#e1ff00 170px,#fff600 172px,#ff1a00 176px,#f00 178px,#f00 206px,#ff1900 206px,#ffea00 210px,#e4ff00 212px,#19ff00 216px,#00ff09 218px,#00ff94 222px,#00fff5 228px,#00e3ff 230px,#008bff 236px,#0047ff 244px,#001bff 260px)"></i><i style="top:466px;height:7px;background:linear-gradient(90deg,#0001ff 0px,#01f 104px,#0035ff 126px,#006dff 138px,#00baff 146px,#00fff8 152px,#00ff82 158px,#00ff0b 164px,#2fff00 166px,#fffa00 172px,#ff1f00 176px,#f00 178px,#f00 206px,#ff1600 206px,#ffe800 210px,#e7ff00 212px,#1bff00 216px,#00ff07 218px,#00ff92 222px,#00fff4 228px,#00e4ff 230px,#008bff 236px,#0047ff 244px,#001bff 260px)"></i><i style="top:472px;height:7px;background:linear-gradient(90deg,#0001ff 0px,#0010ff 104px,#0038ff 128px,#0074ff 140px,#00c6ff 148px,#00fff9 152px,#00ff84 158px,#00ff0d 164px,#0fff00 164px,#b3ff00 170px,#fffe00 172px,#f00 178px,#f00 206px,#ff1300 206px,#ffe500 210px,#e9ff00 212px,#1cff00 216px,#00ff06 218px,#00ff91 222px,#00fff4 228px,#00e4ff 230px,#008cff 236px,#0047ff 244px,#001bff 260px)"></i><i style="top:478px;height:7px;background:linear-gradient(90deg,#0001ff 0px,#0010ff 104px,#0038ff 128px,#0073ff 140px,#00c5ff 148px,#00fffa 152px,#00ff85 158px,#00ff0f 164px,#0dff00 164px,#b1ff00 170px,#feff00 172px,#f00 178px,#f00 206px,#ff1200 206px,#ffe400 210px,#eaff00 212px,#1eff00 216px,#00ff04 218px,#00ff91 222px,#00fff3 228px,#00f9ff 228px,#0098ff 234px,#0052ff 242px,#0020ff 256px,#001bff 260px)"></i><i style="top:484px;height:7px;background:linear-gradient(90deg,#0001ff 0px,#0010ff 104px,#0037ff 128px,#0073ff 140px,#00c5ff 148px,#00fffb 152px,#00ff86 158px,#00ff10 164px,#0cff00 164px,#afff00 170px,#fcff00 172px,#f00 178px,#f00 206px,#ff1000 206px,#ffe300 210px,#ecff00 212px,#1eff00 216px,#00ff04 218px,#00ff90 222px,#00fff3 228px,#00faff 228px,#0098ff 234px,#0052ff 242px,#0020ff 256px,#001bff 260px)"></i><i style="top:490px;height:7px;background:linear-gradient(90deg,#0001ff 0px,#0010ff 104px,#0037ff 128px,#0073ff 140px,#00c4ff 148px,#00fffb 152px,#00ff86 158px,#0f1 164px,#0bff00 164px,#aeff00 170px,#fbff00 172px,#f00 178px,#f00 206px,#ff1000 206px,#ffe200 210px,#ecff00 212px,#1fff00 216px,#00ff03 218px,#00ff90 222px,#00fff3 228px,#00faff 228px,#0098ff 234px,#0052ff 242px,#0020ff 256px,#001bff 260px)"></i><i style="top:496px;height:5px;background:linear-gradient(90deg,#0001ff 0px,#0010ff 104px,#0037ff 128px,#0073ff 140px,#00c4ff 148px,#00fffb 152px,#00ff87 158px,#0f1 164px,#0bff00 164px,#aeff00 170px,#fbff00 172px,#f00 178px,#f00 206px,#ff1000 206px,#ffe200 210px,#ecff00 212px,#1fff00 216px,#00ff03 218px,#00ff90 222px,#00fff3 228px,#00faff 228px,#0098ff 234px,#0052ff 242px,#0020ff 256px,#001bff 260px)"></i></div></div>
<div class="hm" style="left:383.5px;top:88px;width:250.0px;height:491px"><div class="hb" style="left:-5px;top:-5px;width:260px;height:501px;filter:blur(1.0px)"><i style="top:0px;height:5px;background:linear-gradient(90deg,#0001ff 0px,#0012ff 84px,#0046ff 118px,#0063ff 138px,#003bff 164px,#000eff 196px,#0001ff 260px)"></i><i style="top:4px;height:5px;background:linear-gradient(90deg,#0001ff 0px,#0012ff 84px,#0045ff 116px,#0069ff 138px,#004aff 158px,#0014ff 190px,#0001ff 260px)"></i><i style="top:8px;height:5px;background:linear-gradient(90deg,#0001ff 0px,#0012ff 82px,#0043ff 112px,#0074ff 136px,#005fff 154px,#001bff 186px,#0003ff 242px,#0002ff 260px)"></i><i style="top:12px;height:5px;background:linear-gradient(90deg,#0001ff 0px,#0013ff 80px,#0045ff 108px,#0085ff 134px,#0076ff 150px,#0021ff 184px,#0005ff 228px,#0002ff 260px)"></i><i style="top:16px;height:5px;background:linear-gradient(90deg,#0001ff 0px,#0014ff 76px,#0042ff 104px,#009bff 134px,#0092ff 148px,#0029ff 184px,#0008ff 220px,#0002ff 260px)"></i><i style="top:20px;height:5px;background:linear-gradient(90deg,#0002ff 0px,#0015ff 74px,#04f 100px,#00b5ff 132px,#00b2ff 146px,#03f 182px,#000dff 214px,#0002ff 260px)"></i><i style="top:24px;height:5px;background:linear-gradient(90deg,#0002ff 0px,#0016ff 72px,#0047ff 98px,#00d6ff 132px,#00d4ff 144px,#003fff 182px,#0013ff 208px,#0003ff 260px)"></i><i style="top:28px;height:5px;background:linear-gradient(90deg,#0002ff 0px,#0017ff 68px,#0045ff 94px,#009fff 114px,#00faff 132px,#00f8ff 146px,#0051ff 180px,#001dff 202px,#0004ff 256px,#0003ff 260px)"></i><i style="top:32px;height:5px;background:linear-gradient(90deg,#0002ff 0px,#0018ff 66px,#0047ff 90px,#09f 108px,#00fffc 124px,#00ffda 138px,#00ffef 150px,#00f8ff 154px,#006aff 178px,#002cff 198px,#000aff 234px,#0004ff 260px)"></i><i style="top:36px;height:5px;background:linear-gradient(90deg,#0003ff 0px,#0019ff 64px,#0047ff 88px,#0097ff 104px,#00fff9 120px,#0fb 134px,#00ffba 144px,#00fff6 158px,#00eaff 162px,#0075ff 180px,#0034ff 198px,#000eff 230px,#0005ff 260px)"></i><i style="top:40px;height:5px;background:linear-gradient(90deg,#0003ff 0px,#001bff 62px,#004aff 86px,#0097ff 102px,#00fffe 114px,#00ff9a 132px,#00ff8a 142px,#00ffb2 154px,#00fbff 166px,#008aff 180px,#0041ff 196px,#0015ff 222px,#0005ff 260px)"></i><i style="top:44px;height:5px;background:linear-gradient(90deg,#0004ff 0px,#001cff 60px,#004dff 84px,#0096ff 98px,#00fffc 112px,#00ff73 132px,#00ff5a 142px,#00ff74 150px,#00f9ff 170px,#008eff 182px,#0045ff 196px,#0017ff 220px,#0005ff 260px)"></i><i style="top:48px;height:5px;background:linear-gradient(90deg,#0004ff 0px,#001eff 58px,#004eff 82px,#09f 96px,#00fffd 108px,#00ff4b 132px,#00ff2a 142px,#00ff3e 150px,#00ff9f 162px,#00fffd 172px,#008dff 184px,#0045ff 198px,#0017ff 220px,#0005ff 260px)"></i><i style="top:52px;height:5px;background:linear-gradient(90deg,#0005ff 0px,#001eff 56px,#004fff 80px,#009aff 94px,#00fffa 106px,#00ff1c 132px,#03ff00 140px,#00ff06 148px,#00ff50 158px,#00fffc 174px,#0090ff 184px,#0048ff 198px,#001aff 218px,#0005ff 260px)"></i><i style="top:56px;height:5px;background:linear-gradient(90deg,#0005ff 0px,#0020ff 56px,#0052ff 78px,#00a0ff 94px,#00fffa 104px,#00ff01 130px,#36ff00 140px,#32ff00 148px,#00ff03 154px,#00fffd 176px,#0093ff 186px,#004bff 198px,#001bff 218px,#0005ff 260px)"></i><i style="top:60px;height:5px;background:linear-gradient(90deg,#0006ff 0px,#0021ff 54px,#0054ff 78px,#009dff 92px,#00fffc 102px,#00ff50 120px,#00ff01 126px,#5cff00 138px,#6eff00 146px,#4eff00 152px,#00ff03 158px,#00ffe9 176px,#0ff 178px,#0097ff 186px,#004cff 198px,#001dff 218px,#0005ff 260px)"></i><i style="top:64px;height:5px;background:linear-gradient(90deg,#0006ff 0px,#0021ff 54px,#05f 76px,#00a0ff 90px,#00feff 100px,#00ff71 114px,#00ff01 124px,#81ff00 136px,#a7ff00 144px,#98ff00 150px,#4cff00 156px,#00ff01 162px,#00ffc7 174px,#00fbff 180px,#009cff 188px,#0052ff 198px,#0020ff 216px,#0005ff 260px)"></i><i style="top:68px;height:5px;background:linear-gradient(90deg,#0006ff 0px,#0021ff 52px,#05f 76px,#00a1ff 90px,#00fffd 100px,#00ff73 112px,#06ff00 122px,#adff00 134px,#e0ff00 142px,#e4ff00 148px,#b1ff00 154px,#00ff06 164px,#00ffba 176px,#00f7ff 182px,#0098ff 190px,#0050ff 200px,#001fff 218px,#0006ff 260px)"></i><i style="top:72px;height:5px;background:linear-gradient(90deg,#0006ff 0px,#02f 52px,#0054ff 74px,#00a1ff 88px,#00fffc 98px,#00ff78 110px,#00ff05 118px,#e9ff00 134px,#ff0 136px,#ffd100 144px,#ffd500 148px,#f7ff00 154px,#68ff00 162px,#03ff00 166px,#0fb 178px,#00fffc 182px,#0095ff 192px,#004eff 202px,#001dff 222px,#0006ff 260px)"></i><i style="top:76px;height:5px;background:linear-gradient(90deg,#0006ff 0px,#02f 52px,#0056ff 74px,#009eff 88px,#00fffc 98px,#00ff80 108px,#00ff08 116px,#4eff00 122px,#fdff00 132px,#f90 140px,#ff7b00 146px,#ff9000 150px,#ffd800 156px,#fffe00 158px,#0cff00 168px,#00ff1e 170px,#0fb 180px,#00fffd 184px,#0094ff 194px,#004eff 204px,#001dff 224px,#0006ff 260px)"></i><i style="top:80px;height:5px;background:linear-gradient(90deg,#0006ff 0px,#02f 52px,#0053ff 74px,#009aff 86px,#00feff 96px,#00ff80 108px,#0f0 116px,#fffd00 128px,#ff6c00 136px,#ff2a00 142px,#ff1e00 148px,#ff3d00 152px,#ff9300 156px,#fff100 160px,#f4ff00 162px,#00ff01 172px,#00ff9b 180px,#00fffd 186px,#0093ff 196px,#004dff 206px,#001dff 226px,#0007ff 260px)"></i><i style="top:84px;height:5px;background:linear-gradient(90deg,#0006ff 0px,#02f 52px,#0053ff 74px,#009bff 86px,#00fffc 96px,#00ff84 106px,#02ff00 114px,#f1ff00 126px,#fff500 126px,#ff1b00 136px,#f00 138px,#ff0300 154px,#ff9600 160px,#f6ff00 164px,#06ff00 174px,#0fa 182px,#00fffd 188px,#009cff 196px,#0052ff 208px,#0020ff 226px,#0008ff 260px)"></i><i style="top:88px;height:5px;background:linear-gradient(90deg,#0006ff 0px,#0021ff 52px,#0053ff 74px,#009cff 86px,#00fff9 96px,#00ff7b 106px,#00ff01 114px,#cdff00 122px,#fffd00 124px,#ff1000 134px,#f00 134px,#f00 158px,#ff1000 160px,#fff000 166px,#ef0 168px,#25ff00 174px,#00ff0d 176px,#00ff9a 184px,#0ff 190px,#009aff 198px,#0050ff 210px,#0020ff 228px,#0008ff 260px)"></i><i style="top:92px;height:5px;background:linear-gradient(90deg,#0006ff 0px,#0021ff 52px,#0053ff 74px,#009dff 86px,#00fdff 96px,#00ff93 104px,#00ff08 112px,#39ff00 116px,#fff700 124px,#ff0800 132px,#f00 140px,#ff0600 162px,#faff00 170px,#23ff00 176px,#09ff00 178px,#00ff69 182px,#00ffec 190px,#00f7ff 192px,#009dff 200px,#0056ff 210px,#0023ff 226px,#0009ff 260px)"></i><i style="top:96px;height:5px;background:linear-gradient(90deg,#0006ff 0px,#0021ff 52px,#0053ff 74px,#009eff 86px,#00fffe 96px,#00ff8e 104px,#03ff00 112px,#aeff00 120px,#fff900 122px,#ff1700 130px,#f00 130px,#f00 164px,#ff4500 166px,#ffe400 170px,#f5ff00 172px,#31ff00 178px,#00ff06 180px,#00ff9d 186px,#00fff8 192px,#008aff 202px,#0047ff 214px,#001aff 234px,#0009ff 260px)"></i><i style="top:100px;height:5px;background:linear-gradient(90deg,#0006ff 0px,#0021ff 52px,#0053ff 74px,#0096ff 86px,#00fffd 96px,#00ff8a 104px,#00ff0a 112px,#23ff00 114px,#deff00 120px,#fdff00 122px,#f10 128px,#f00 130px,#f00 166px,#fffa00 172px,#36ff00 178px,#00ff03 180px,#00ff8c 186px,#00fffb 194px,#09f 202px,#0053ff 212px,#0021ff 228px,#0009ff 260px)"></i><i style="top:104px;height:5px;background:linear-gradient(90deg,#0006ff 0px,#0021ff 52px,#0053ff 74px,#0097ff 86px,#00fffb 96px,#00ff86 104px,#00ff01 112px,#97ff00 118px,#f2ff00 120px,#ffeb00 122px,#f10 128px,#f00 128px,#f00 168px,#ff1700 168px,#fff600 174px,#74ff00 178px,#00ff06 182px,#00ff90 188px,#00fffe 194px,#00a0ff 202px,#0056ff 212px,#02f 228px,#0009ff 260px)"></i><i style="top:108px;height:5px;background:linear-gradient(90deg,#0006ff 0px,#0021ff 52px,#0052ff 74px,#0097ff 86px,#00fffa 96px,#00ff81 104px,#08ff00 112px,#a7ff00 118px,#fff700 120px,#ff1500 126px,#f00 128px,#f00 168px,#ff1400 170px,#fff900 174px,#2fff00 180px,#00ff0b 182px,#00ff94 188px,#00fcff 196px,#009dff 202px,#05f 212px,#02f 230px,#0009ff 260px)"></i><i style="top:112px;height:5px;background:linear-gradient(90deg,#0006ff 0px,#0020ff 52px,#0052ff 74px,#0097ff 86px,#00ebff 94px,#00fff9 96px,#00ff7d 104px,#00ff06 110px,#5eff00 114px,#f9ff00 120px,#ff7000 124px,#ff1d00 126px,#f00 126px,#f00 170px,#ff1b00 170px,#ffd800 174px,#fcff00 176px,#46ff00 180px,#0aff00 182px,#0f4 186px,#0fc 192px,#00f8ff 196px,#009bff 204px,#0054ff 214px,#02f 230px,#000aff 260px)"></i><i style="top:116px;height:5px;background:linear-gradient(90deg,#0005ff 0px,#0020ff 52px,#0051ff 74px,#0096ff 86px,#00ebff 94px,#00fff8 96px,#00ff8b 104px,#0f0 110px,#a6ff00 116px,#e8ff00 118px,#fff200 120px,#f00 126px,#f00 170px,#ffe600 176px,#ef0 176px,#3aff00 182px,#0f0 184px,#00ff8c 190px,#00fffb 196px,#09f 204px,#0053ff 214px,#02f 232px,#000aff 260px)"></i><i style="top:120px;height:5px;background:linear-gradient(90deg,#0005ff 0px,#001fff 52px,#004fff 74px,#0094ff 86px,#00eaff 94px,#00fff9 96px,#00ff8a 104px,#06ff00 110px,#b1ff00 116px,#f7ff00 118px,#ffbc00 120px,#ff0f00 124px,#f00 126px,#f00 170px,#ff0a00 172px,#fff900 176px,#2cff00 182px,#0fff00 184px,#00ff0d 184px,#00ff95 190px,#00fdff 198px,#009fff 204px,#0057ff 214px,#0023ff 232px,#000bff 260px)"></i><i style="top:124px;height:5px;background:linear-gradient(90deg,#0005ff 0px,#001fff 54px,#004eff 74px,#0093ff 86px,#00e9ff 94px,#00fffa 96px,#00ff89 104px,#00ff0f 110px,#0aff00 110px,#baff00 116px,#fffc00 118px,#f00 124px,#f00 172px,#ff5b00 174px,#ffe700 176px,#ecff00 178px,#39ff00 182px,#00ff02 184px,#00ff8d 190px,#00fffb 198px,#0091ff 206px,#004cff 218px,#001dff 236px,#000bff 260px)"></i><i style="top:128px;height:5px;background:linear-gradient(90deg,#0005ff 0px,#001fff 54px,#004dff 74px,#0091ff 86px,#00e7ff 94px,#00fffb 96px,#00ff89 104px,#00ff0d 110px,#0cff00 110px,#9fff00 116px,#e6ff00 118px,#fff200 118px,#ff1800 124px,#f00 124px,#f00 172px,#ff1700 172px,#ffdb00 176px,#f8ff00 178px,#41ff00 182px,#06ff00 184px,#00ff9a 192px,#00fff6 198px,#00daff 200px,#0083ff 208px,#0042ff 220px,#0017ff 242px,#000bff 260px)"></i><i style="top:132px;height:5px;background:linear-gradient(90deg,#0005ff 0px,#001eff 54px,#004cff 74px,#0090ff 86px,#00e6ff 94px,#00fffc 96px,#00ff89 104px,#00ff0b 110px,#29ff00 112px,#c7ff00 116px,#ebff00 118px,#ffec00 118px,#ff0c00 124px,#f00 126px,#f00 172px,#ff0e00 172px,#ffd400 176px,#ff0 178px,#46ff00 182px,#0aff00 184px,#00ff43 188px,#00ffca 194px,#00fdff 198px,#00a0ff 206px,#0058ff 216px,#0024ff 232px,#000bff 260px)"></i><i style="top:136px;height:5px;background:linear-gradient(90deg,#0005ff 0px,#001eff 54px,#004bff 74px,#008fff 86px,#00e5ff 94px,#00fffc 96px,#00ff89 104px,#00ff0a 110px,#2aff00 112px,#c9ff00 116px,#ef0 118px,#ffe800 118px,#ff0600 124px,#f00 172px,#ff0b00 172px,#ffd200 176px,#fffe00 178px,#48ff00 182px,#0cff00 184px,#00ff2a 186px,#00ffa8 192px,#00feff 198px,#00a1ff 206px,#0059ff 216px,#0025ff 232px,#000cff 260px)"></i><i style="top:140px;height:5px;background:linear-gradient(90deg,#0005ff 0px,#001eff 54px,#004bff 74px,#008eff 86px,#00e4ff 94px,#00fffd 96px,#00ff8a 104px,#00ff0b 110px,#29ff00 112px,#c9ff00 116px,#ef0 118px,#ffe900 118px,#ff0500 124px,#f00 172px,#ff0f00 172px,#ffd500 176px,#feff00 178px,#46ff00 182px,#0aff00 184px,#00ff43 188px,#00ffc9 194px,#00fdff 198px,#00a1ff 206px,#0059ff 216px,#0025ff 232px,#000cff 260px)"></i><i style="top:144px;height:5px;background:linear-gradient(90deg,#0005ff 0px,#001dff 54px,#004eff 74px,#0095ff 86px,#00f0ff 94px,#0ff 96px,#00ff8c 104px,#00ff0e 110px,#0bff00 110px,#a1ff00 116px,#eaff00 118px,#ffed00 118px,#ff0b00 124px,#f00 126px,#f00 172px,#ff1700 172px,#ffdb00 176px,#f8ff00 178px,#42ff00 182px,#07ff00 184px,#00ff98 192px,#00fcff 198px,#00a0ff 206px,#0058ff 216px,#0024ff 232px,#000cff 260px)"></i><i style="top:148px;height:5px;background:linear-gradient(90deg,#0005ff 0px,#001eff 54px,#004cff 74px,#0092ff 86px,#00ecff 94px,#00fff6 96px,#00ff7f 104px,#05ff00 110px,#9aff00 116px,#fff600 118px,#ff1700 124px,#f00 124px,#f00 172px,#f20 172px,#ffe300 176px,#f1ff00 178px,#3dff00 182px,#02ff00 184px,#00ff9b 192px,#00fff7 198px,#00b4ff 204px,#0068ff 212px,#002eff 228px,#000cff 258px,#000cff 260px)"></i><i style="top:152px;height:5px;background:linear-gradient(90deg,#0004ff 0px,#001dff 54px,#004bff 74px,#008fff 86px,#00e7ff 94px,#00fffa 96px,#00ff85 104px,#00ff03 110px,#8fff00 116px,#fbff00 118px,#ff5700 122px,#f00 124px,#f00 172px,#ffed00 176px,#e7ff00 178px,#37ff00 182px,#00ff03 184px,#00ff8c 190px,#00fff9 198px,#0093ff 206px,#004eff 218px,#001eff 236px,#000bff 260px)"></i><i style="top:156px;height:5px;background:linear-gradient(90deg,#0004ff 0px,#001cff 54px,#004cff 76px,#0093ff 88px,#00efff 96px,#00feff 96px,#00ff8c 104px,#00ff0d 110px,#0dff00 112px,#a4ff00 116px,#ecff00 118px,#ffeb00 120px,#ff0900 124px,#f00 128px,#f00 170px,#ff0c00 172px,#fff900 176px,#2fff00 182px,#00ff09 184px,#00ff90 190px,#00fffc 198px,#009bff 206px,#0051ff 216px,#0020ff 234px,#000bff 260px)"></i><i style="top:160px;height:7px;background:linear-gradient(90deg,#0004ff 0px,#001dff 56px,#0049ff 76px,#008eff 88px,#00e6ff 96px,#00fffb 98px,#00ff85 106px,#00ff02 112px,#91ff00 116px,#feff00 120px,#f00 126px,#f00 170px,#ff2400 172px,#ffe000 176px,#f4ff00 176px,#43ff00 182px,#08ff00 184px,#00ff96 190px,#0ff 198px,#00a2ff 204px,#0059ff 214px,#0025ff 232px,#000bff 260px)"></i><i style="top:166px;height:7px;background:linear-gradient(90deg,#0004ff 0px,#001cff 56px,#0049ff 76px,#008fff 88px,#00e8ff 96px,#00fff9 98px,#00ff80 106px,#05ff00 112px,#9bff00 118px,#fff500 120px,#ff1a00 126px,#f00 126px,#f00 170px,#ff1200 170px,#fff800 176px,#3f0 182px,#00ff05 184px,#00ff8c 190px,#00fff8 196px,#008bff 206px,#0046ff 218px,#0019ff 240px,#000bff 260px)"></i><i style="top:172px;height:7px;background:linear-gradient(90deg,#0004ff 0px,#001bff 56px,#0049ff 78px,#008fff 90px,#00eaff 98px,#00fff7 100px,#00ff7c 108px,#00ff0f 112px,#0bff00 114px,#a2ff00 118px,#eaff00 120px,#ffed00 122px,#ff1200 126px,#f00 128px,#f00 168px,#ff0b00 170px,#fe0 174px,#e8ff00 176px,#3dff00 180px,#04ff00 182px,#00ff97 190px,#00feff 196px,#00a2ff 204px,#005aff 214px,#0025ff 230px,#000bff 260px)"></i><i style="top:178px;height:7px;background:linear-gradient(90deg,#0003ff 0px,#001aff 58px,#0048ff 78px,#008dff 90px,#00e9ff 98px,#00fff8 100px,#00ff7c 108px,#00ff0e 114px,#0cff00 114px,#c6ff00 120px,#ebff00 122px,#ffed00 122px,#ff1600 128px,#f00 128px,#f00 168px,#ff1600 168px,#fff100 174px,#e7ff00 174px,#3eff00 180px,#06ff00 182px,#00ffa6 190px,#00fffd 196px,#009aff 204px,#0051ff 214px,#0020ff 232px,#000aff 260px)"></i><i style="top:184px;height:7px;background:linear-gradient(90deg,#0003ff 0px,#001aff 60px,#0045ff 80px,#008aff 92px,#00e5ff 100px,#00fffb 102px,#00ff80 110px,#08ff00 116px,#c0ff00 122px,#fff400 124px,#f00 130px,#ff0500 166px,#feff00 172px,#37ff00 178px,#0f0 180px,#00ff97 188px,#00fffe 194px,#009aff 202px,#0051ff 214px,#0020ff 232px,#000aff 260px)"></i><i style="top:190px;height:7px;background:linear-gradient(90deg,#0003ff 0px,#0019ff 60px,#0043ff 80px,#0087ff 92px,#00e0ff 100px,#00fffe 102px,#00ff83 110px,#03ff00 116px,#b9ff00 122px,#fffe00 124px,#ff0b00 130px,#f00 132px,#f00 164px,#fe0 170px,#ebff00 172px,#2dff00 178px,#00ff08 180px,#00ff9b 186px,#00fdff 194px,#00a2ff 200px,#005aff 210px,#0025ff 228px,#000aff 260px)"></i><i style="top:196px;height:7px;background:linear-gradient(90deg,#0003ff 0px,#0018ff 62px,#0042ff 82px,#0086ff 94px,#00e0ff 102px,#0ff 104px,#00ff83 112px,#04ff00 118px,#b8ff00 124px,#ff0 126px,#ff1500 132px,#f00 132px,#f00 162px,#ff1600 164px,#fff900 170px,#29ff00 176px,#00ff0b 178px,#00ff9c 186px,#00fdff 192px,#00a2ff 200px,#0059ff 210px,#0025ff 226px,#0009ff 260px)"></i><i style="top:202px;height:7px;background:linear-gradient(90deg,#0002ff 0px,#0018ff 62px,#0043ff 82px,#0080ff 94px,#00d7ff 102px,#00fff9 104px,#00ff7a 112px,#00ff0a 118px,#2bff00 120px,#e9ff00 126px,#fff100 126px,#ff0b00 132px,#f00 134px,#f00 162px,#f10 162px,#fff000 168px,#ecff00 170px,#3f0 176px,#00ff01 178px,#00ff95 184px,#00fffc 192px,#0093ff 200px,#004dff 212px,#001dff 230px,#0009ff 260px)"></i><i style="top:208px;height:7px;background:linear-gradient(90deg,#0002ff 0px,#0018ff 62px,#0042ff 82px,#0086ff 94px,#00e1ff 102px,#00fffd 104px,#00ff80 112px,#08ff00 118px,#bcff00 124px,#fffc00 126px,#ff1800 132px,#f00 134px,#f00 162px,#ff3f00 164px,#fff700 168px,#49ff00 174px,#00ff07 178px,#0f9 184px,#0ff 192px,#00a3ff 198px,#005aff 208px,#0024ff 226px,#0009ff 260px)"></i><i style="top:214px;height:7px;background:linear-gradient(90deg,#0002ff 0px,#0017ff 62px,#0040ff 82px,#0083ff 94px,#00dcff 102px,#00fcff 104px,#0f9 112px,#0f0 118px,#b2ff00 124px,#f7ff00 126px,#ff9800 130px,#f00 134px,#f00 162px,#ff1700 162px,#fff700 168px,#2bff00 176px,#00ff09 178px,#00ff9c 184px,#00faff 192px,#009fff 198px,#0057ff 208px,#0023ff 226px,#0008ff 260px)"></i><i style="top:220px;height:7px;background:linear-gradient(90deg,#0002ff 0px,#0018ff 64px,#0042ff 84px,#007fff 94px,#00d4ff 102px,#00fffb 106px,#00ff7c 114px,#00ff0c 118px,#29ff00 120px,#e7ff00 126px,#fff300 128px,#ff0e00 134px,#f00 136px,#f00 162px,#ff1300 162px,#fff600 168px,#62ff00 174px,#0dff00 176px,#00ff25 178px,#00ffb2 186px,#00fffb 190px,#0091ff 200px,#004bff 210px,#001cff 230px,#0008ff 260px)"></i><i style="top:226px;height:7px;background:linear-gradient(90deg,#0002ff 0px,#0017ff 64px,#0043ff 84px,#0081ff 96px,#00daff 104px,#00fff6 106px,#0f8 114px,#00ff01 120px,#b2ff00 126px,#f7ff00 128px,#ff9700 130px,#f00 134px,#f00 162px,#ff0c00 162px,#fff500 168px,#9fff00 172px,#09ff00 176px,#00ff58 180px,#00ffd7 188px,#00fdff 190px,#009eff 198px,#0054ff 208px,#0021ff 224px,#0007ff 260px)"></i><i style="top:232px;height:7px;background:linear-gradient(90deg,#0002ff 0px,#0017ff 64px,#0040ff 84px,#0083ff 96px,#00deff 104px,#00feff 106px,#00ff94 114px,#08ff00 120px,#beff00 126px,#fff900 128px,#ff1200 134px,#f00 136px,#ff0500 162px,#fff400 168px,#c1ff00 170px,#04ff00 176px,#00ff9b 184px,#00fffa 190px,#0097ff 198px,#0050ff 208px,#001fff 224px,#0007ff 260px)"></i><i style="top:238px;height:7px;background:linear-gradient(90deg,#0002ff 0px,#0017ff 66px,#0041ff 86px,#007dff 96px,#00d3ff 104px,#00fffc 108px,#00ff8f 114px,#00ff0a 120px,#2dff00 122px,#ef0 128px,#ffeb00 130px,#ff0200 136px,#f00 162px,#fff300 168px,#c0ff00 170px,#0f0 176px,#00ff8e 182px,#00fdff 190px,#009aff 196px,#0050ff 206px,#001eff 224px,#0006ff 260px)"></i><i style="top:244px;height:7px;background:linear-gradient(90deg,#0002ff 0px,#0016ff 66px,#0041ff 86px,#007fff 98px,#00d7ff 106px,#00fff8 108px,#0f8 116px,#0f0 122px,#b7ff00 128px,#feff00 130px,#ff1800 136px,#f00 136px,#f00 162px,#ff4900 164px,#fff000 168px,#e7ff00 170px,#19ff00 176px,#00ff04 176px,#00ff94 182px,#00fff9 188px,#0094ff 196px,#004cff 206px,#001cff 224px,#0006ff 260px)"></i><i style="top:250px;height:7px;background:linear-gradient(90deg,#0002ff 0px,#0016ff 66px,#003fff 86px,#0082ff 98px,#0df 106px,#00feff 108px,#00ff92 116px,#00ff0c 122px,#2aff00 124px,#efff00 130px,#ffea00 130px,#f00 136px,#f00 162px,#ff0e00 164px,#ffe700 168px,#efff00 170px,#3aff00 174px,#00ff03 176px,#00ff96 182px,#00fffc 188px,#009aff 196px,#0053ff 204px,#02f 220px,#0006ff 256px,#0005ff 260px)"></i><i style="top:256px;height:7px;background:linear-gradient(90deg,#0002ff 0px,#0016ff 66px,#0041ff 88px,#007eff 98px,#00d7ff 106px,#00fff8 110px,#00ff85 116px,#07ff00 122px,#c5ff00 128px,#eaff00 130px,#fe0 130px,#f00 136px,#f00 164px,#ff1a00 164px,#fff900 170px,#27ff00 176px,#08ff00 176px,#00ffa5 184px,#00fffa 188px,#0090ff 196px,#0048ff 206px,#001bff 224px,#0005ff 260px)"></i><i style="top:262px;height:7px;background:linear-gradient(90deg,#0002ff 0px,#0016ff 68px,#003fff 88px,#007cff 98px,#00d4ff 106px,#00fffb 110px,#0f8 116px,#06ff00 122px,#c9ff00 128px,#efff00 130px,#ffe800 130px,#ff1200 136px,#f00 136px,#f00 164px,#ff1400 166px,#fffe00 170px,#3eff00 176px,#00ff02 178px,#00ff85 182px,#00fff3 188px,#00fbff 190px,#009fff 196px,#0054ff 204px,#0021ff 220px,#0006ff 256px,#0005ff 260px)"></i><i style="top:268px;height:7px;background:linear-gradient(90deg,#0002ff 0px,#0016ff 68px,#003eff 88px,#007aff 98px,#00d1ff 106px,#00fffc 110px,#00ff89 116px,#00ff13 122px,#09ff00 122px,#adff00 128px,#faff00 130px,#f50 134px,#f00 136px,#ff0200 166px,#fffa00 172px,#3cff00 176px,#00ff05 178px,#00ff89 184px,#00fff8 190px,#0090ff 198px,#004cff 206px,#001dff 222px,#0005ff 260px)"></i><i style="top:274px;height:7px;background:linear-gradient(90deg,#0002ff 0px,#0015ff 68px,#003dff 88px,#0078ff 98px,#00cfff 106px,#00fffe 110px,#00ff89 116px,#0f1 122px,#0cff00 122px,#b6ff00 128px,#fff600 130px,#ff0a00 134px,#f00 138px,#f00 168px,#ff2100 168px,#fff100 172px,#dfff00 174px,#1bff00 178px,#00ff05 180px,#00ff8b 184px,#00fffa 190px,#008dff 198px,#004bff 208px,#001cff 224px,#0005ff 260px)"></i><i style="top:280px;height:7px;background:linear-gradient(90deg,#0002ff 0px,#0016ff 68px,#003fff 88px,#007dff 100px,#00cbff 106px,#00fdff 110px,#00ff9f 116px,#00ff0f 122px,#0eff00 122px,#bfff00 128px,#e9ff00 128px,#ffe900 130px,#ff2300 134px,#f00 134px,#f00 168px,#ff0a00 170px,#ffe600 174px,#e8ff00 174px,#41ff00 178px,#00ff04 180px,#00ff8c 186px,#00fffb 192px,#0096ff 198px,#004fff 208px,#001fff 222px,#0005ff 260px)"></i><i style="top:286px;height:7px;background:linear-gradient(90deg,#0002ff 0px,#0015ff 68px,#003dff 88px,#007aff 100px,#00c7ff 106px,#00f8ff 110px,#00ffb5 114px,#00ff2d 120px,#0eff00 122px,#c5ff00 128px,#f0ff00 128px,#ffe000 130px,#ff0d00 134px,#f00 136px,#f00 170px,#fd0 174px,#efff00 176px,#43ff00 180px,#00ff03 182px,#00ff8d 186px,#00fffd 192px,#00a0ff 198px,#005aff 206px,#0025ff 220px,#0007ff 252px,#0006ff 260px)"></i><i style="top:292px;height:7px;background:linear-gradient(90deg,#0002ff 0px,#0015ff 70px,#003eff 90px,#007eff 100px,#00d0ff 108px,#00fffb 110px,#00ff93 116px,#00ff15 122px,#0aff00 122px,#9bff00 126px,#f3ff00 128px,#ffdb00 130px,#f00 134px,#f00 172px,#ff2800 172px,#ffd800 176px,#f2ff00 176px,#42ff00 180px,#00ff05 182px,#00ff90 188px,#00feff 194px,#009eff 200px,#0058ff 208px,#0024ff 222px,#0007ff 254px,#0006ff 260px)"></i><i style="top:298px;height:7px;background:linear-gradient(90deg,#0002ff 0px,#0014ff 70px,#003cff 90px,#0079ff 100px,#00c8ff 108px,#00fcff 110px,#0f9 116px,#04ff00 122px,#98ff00 126px,#f2ff00 128px,#ffda00 130px,#f00 134px,#f00 172px,#ff2300 174px,#ffd900 176px,#f0ff00 178px,#3dff00 182px,#00ff0a 184px,#00ff95 188px,#00fff5 194px,#00e5ff 196px,#008fff 202px,#004bff 210px,#001cff 226px,#0006ff 260px)"></i><i style="top:304px;height:7px;background:linear-gradient(90deg,#0001ff 0px,#0014ff 70px,#003dff 90px,#007dff 102px,#00d0ff 108px,#00fff9 112px,#00ff8b 118px,#00ff04 122px,#68ff00 126px,#edff00 128px,#ffde00 130px,#ff3000 132px,#f00 134px,#f00 174px,#ff2800 174px,#ffe100 178px,#e7ff00 178px,#34ff00 182px,#0fff00 184px,#00ff13 184px,#00ff9c 190px,#00fffa 194px,#0095ff 202px,#004eff 210px,#001eff 226px,#0006ff 260px)"></i><i style="top:310px;height:7px;background:linear-gradient(90deg,#0001ff 0px,#0014ff 72px,#003eff 92px,#0078ff 102px,#00c9ff 108px,#00feff 112px,#00ff93 118px,#00ff0c 122px,#15ff00 124px,#b7ff00 128px,#e7ff00 128px,#ffe400 130px,#ff3100 132px,#f00 134px,#f00 174px,#fff000 178px,#d8ff00 180px,#26ff00 184px,#02ff00 184px,#00ff8f 190px,#00fff2 194px,#00fbff 196px,#009aff 202px,#05f 210px,#0023ff 224px,#0007ff 258px,#0006ff 260px)"></i><i style="top:316px;height:7px;background:linear-gradient(90deg,#0001ff 0px,#0014ff 72px,#003cff 92px,#0074ff 102px,#00c3ff 108px,#00f7ff 112px,#00ffae 116px,#00ff32 122px,#00ff13 122px,#0eff00 124px,#b0ff00 128px,#e0ff00 128px,#ffe900 130px,#f00 134px,#ff0600 176px,#ffcd00 178px,#f8ff00 180px,#65ff00 182px,#15ff00 184px,#00ff0f 186px,#00ff9c 190px,#00fffc 196px,#009eff 202px,#0057ff 210px,#0023ff 224px,#0007ff 256px,#0006ff 260px)"></i><i style="top:322px;height:7px;background:linear-gradient(90deg,#0001ff 0px,#0013ff 72px,#003aff 92px,#007aff 102px,#00ceff 110px,#00fffa 112px,#0f8 118px,#08ff00 124px,#af0 128px,#dbff00 128px,#ffef00 130px,#f00 134px,#f00 176px,#ff2300 176px,#ffe800 180px,#deff00 180px,#4eff00 184px,#0f0 186px,#00ff93 190px,#00fff7 196px,#00a2ff 202px,#0059ff 210px,#0026ff 222px,#0008ff 254px,#0006ff 260px)"></i><i style="top:328px;height:7px;background:linear-gradient(90deg,#0001ff 0px,#0014ff 72px,#003dff 92px,#07f 102px,#00c9ff 110px,#00fffe 112px,#00ff8d 118px,#02ff00 124px,#a4ff00 128px,#fff300 130px,#f00 134px,#f00 176px,#ffca00 180px,#f9ff00 180px,#61ff00 184px,#0fff00 186px,#00ff15 186px,#00ff8b 190px,#00fff2 196px,#00fbff 196px,#00a5ff 202px,#005aff 210px,#0026ff 222px,#0008ff 252px,#0006ff 260px)"></i><i style="top:334px;height:7px;background:linear-gradient(90deg,#0001ff 0px,#0013ff 72px,#003bff 92px,#0074ff 102px,#00c5ff 110px,#00fbff 112px,#00ffa8 118px,#00ff24 122px,#00ff03 124px,#71ff00 126px,#fff900 130px,#f00 134px,#f00 176px,#ff1e00 178px,#ffeb00 180px,#d9ff00 182px,#47ff00 184px,#00ff08 186px,#00ff83 190px,#00ffed 196px,#00fffe 196px,#009bff 202px,#0054ff 210px,#02f 224px,#0006ff 258px,#0006ff 260px)"></i><i style="top:340px;height:7px;background:linear-gradient(90deg,#0001ff 0px,#0013ff 72px,#003aff 92px,#0072ff 102px,#00c1ff 110px,#00fff6 114px,#00ff7e 120px,#00ff09 124px,#42ff00 126px,#cbff00 128px,#fffe00 130px,#f00 134px,#f00 178px,#ffd100 180px,#f1ff00 182px,#57ff00 184px,#05ff00 186px,#00ff95 192px,#00fffa 196px,#0091ff 204px,#004fff 212px,#0020ff 226px,#0006ff 260px)"></i><i style="top:346px;height:7px;background:linear-gradient(90deg,#0001ff 0px,#0013ff 74px,#003dff 94px,#0078ff 104px,#00cdff 110px,#00fffa 114px,#00ff83 120px,#00ff0e 124px,#15ff00 124px,#94ff00 128px,#fbff00 130px,#ff8a00 132px,#f00 134px,#f00 178px,#ff2500 178px,#fff600 182px,#3aff00 186px,#1f0 186px,#00ff15 188px,#00ff8e 192px,#00fff7 196px,#0092ff 204px,#004fff 212px,#0020ff 226px,#0006ff 260px)"></i><i style="top:352px;height:7px;background:linear-gradient(90deg,#0001ff 0px,#0013ff 74px,#003bff 94px,#0076ff 104px,#00c9ff 110px,#00fffd 114px,#00ff87 120px,#00ff13 124px,#10ff00 124px,#8eff00 128px,#f5ff00 130px,#ffce00 130px,#f00 134px,#ff0300 178px,#ffdf00 182px,#e1ff00 182px,#47ff00 186px,#00ff0a 188px,#0f8 192px,#00fff4 196px,#00e2ff 198px,#08f 204px,#0045ff 214px,#0019ff 230px,#0006ff 260px)"></i><i style="top:358px;height:7px;background:linear-gradient(90deg,#0001ff 0px,#0013ff 74px,#003aff 94px,#0074ff 104px,#00c6ff 110px,#00fdff 114px,#00ffa3 118px,#00ff19 124px,#0bff00 124px,#8f0 128px,#efff00 130px,#ffd400 130px,#ff0300 134px,#f00 178px,#ff3500 180px,#ffc800 182px,#f5ff00 182px,#5f0 186px,#0f0 188px,#00ff82 192px,#00fff1 196px,#00fbff 198px,#00a2ff 202px,#005dff 210px,#0028ff 222px,#0009ff 248px,#0006ff 260px)"></i><i style="top:364px;height:7px;background:linear-gradient(90deg,#0001ff 0px,#0012ff 74px,#0039ff 94px,#0072ff 104px,#00c2ff 110px,#00f9ff 114px,#00ffa7 118px,#00ff1e 124px,#05ff00 124px,#82ff00 128px,#e9ff00 130px,#ffda00 130px,#ff0900 134px,#f00 138px,#f00 178px,#ff1700 180px,#ffb100 182px,#fff400 182px,#95ff00 184px,#0aff00 188px,#00ff5f 190px,#00ffda 196px,#0ff 198px,#00a4ff 202px,#005dff 210px,#0028ff 222px,#0009ff 248px,#0006ff 260px)"></i><i style="top:370px;height:7px;background:linear-gradient(90deg,#0001ff 0px,#0013ff 74px,#003cff 94px,#0078ff 104px,#00cfff 112px,#00fff7 114px,#00ff94 120px,#00ff23 124px,#0f0 124px,#7cff00 128px,#e3ff00 130px,#ffe000 130px,#ff0e00 134px,#f00 134px,#f00 180px,#ffe000 182px,#dfff00 184px,#41ff00 186px,#15ff00 188px,#00ff13 188px,#00ff91 192px,#00fffc 198px,#0098ff 204px,#0051ff 212px,#001fff 226px,#0006ff 260px)"></i><i style="top:376px;height:7px;background:linear-gradient(90deg,#0001ff 0px,#0013ff 74px,#003bff 94px,#0076ff 104px,#0cf 112px,#00fff9 114px,#00ff98 120px,#00ff27 124px,#00ff05 124px,#7f0 128px,#df0 130px,#ffe700 130px,#ff1500 134px,#f00 134px,#f00 180px,#ff3000 180px,#ffca00 182px,#f2ff00 184px,#4dff00 186px,#00ff09 188px,#00ff8b 192px,#00fff9 198px,#008eff 204px,#004bff 212px,#001dff 226px,#0005ff 260px)"></i><i style="top:382px;height:7px;background:linear-gradient(90deg,#0001ff 0px,#0013ff 74px,#003bff 94px,#0075ff 104px,#00c9ff 112px,#00fffc 114px,#00ff9b 120px,#00ff2c 124px,#00ff0a 124px,#45ff00 126px,#d7ff00 130px,#ffed00 130px,#ff1b00 134px,#f00 134px,#f00 180px,#ff1200 180px,#ffb300 182px,#fff800 184px,#5bff00 186px,#02ff00 188px,#00ff85 192px,#00fff5 198px,#0cf 200px,#007aff 206px,#003dff 216px,#0015ff 232px,#0005ff 260px)"></i><i style="top:388px;height:7px;background:linear-gradient(90deg,#0001ff 0px,#0012ff 74px,#003aff 94px,#0073ff 104px,#00c7ff 112px,#0ff 114px,#00ff9f 120px,#00ff30 124px,#00ff0e 124px,#17ff00 126px,#9cff00 128px,#fff300 130px,#ff2100 134px,#f00 134px,#f00 180px,#ffe100 184px,#dcff00 184px,#3aff00 188px,#0eff00 188px,#00ff1a 190px,#0f9 194px,#00fff1 198px,#00faff 198px,#009fff 204px,#005aff 210px,#0026ff 222px,#0008ff 250px,#0005ff 260px)"></i><i style="top:394px;height:7px;background:linear-gradient(90deg,#0001ff 0px,#0012ff 74px,#0039ff 94px,#0072ff 104px,#00c4ff 112px,#00fcff 114px,#00ffa2 120px,#00ff34 124px,#00ff12 124px,#13ff00 126px,#97ff00 128px,#fff800 130px,#ff2700 134px,#f00 134px,#f00 180px,#ff2800 182px,#ffc800 184px,#f2ff00 184px,#4aff00 188px,#1cff00 188px,#00ff0e 190px,#00ff91 194px,#00fffe 198px,#00a2ff 204px,#005bff 210px,#0027ff 222px,#0008ff 250px,#0005ff 260px)"></i><i style="top:400px;height:7px;background:linear-gradient(90deg,#0001ff 0px,#0013ff 76px,#0039ff 94px,#0071ff 104px,#00c2ff 112px,#00f9ff 114px,#00ffa5 120px,#00ff38 124px,#0eff00 126px,#92ff00 128px,#fffe00 130px,#ff2d00 134px,#f00 134px,#ff0400 182px,#ffac00 184px,#fff400 184px,#8fff00 186px,#0f0 190px,#00ff89 194px,#00fffa 198px,#0098ff 204px,#004fff 212px,#0020ff 226px,#0005ff 260px)"></i><i style="top:406px;height:7px;background:linear-gradient(90deg,#0001ff 0px,#0013ff 76px,#003cff 96px,#0078ff 106px,#00bfff 112px,#00fff6 116px,#00ff91 120px,#00ff1b 124px,#09ff00 126px,#8cff00 128px,#f9ff00 130px,#ff8100 132px,#ff3500 134px,#f00 134px,#f00 182px,#ff3b00 182px,#ffda00 184px,#e0ff00 186px,#3aff00 188px,#0dff00 190px,#00ff40 192px,#00ffb5 196px,#00fff5 198px,#00dfff 200px,#008eff 206px,#004bff 214px,#001dff 228px,#0005ff 260px)"></i><i style="top:412px;height:7px;background:linear-gradient(90deg,#0001ff 0px,#0013ff 76px,#003bff 96px,#0076ff 106px,#00bdff 112px,#00fff8 116px,#00ff94 120px,#04ff00 126px,#85ff00 128px,#f2ff00 130px,#ffce00 132px,#ff3d00 134px,#f00 134px,#f00 182px,#ff1800 182px,#ffbf00 184px,#f8ff00 186px,#4aff00 188px,#1bff00 190px,#00ff0f 190px,#00ff94 194px,#00fff0 198px,#00fbff 200px,#009eff 204px,#0058ff 212px,#0025ff 224px,#0008ff 252px,#0005ff 260px)"></i><i style="top:418px;height:7px;background:linear-gradient(90deg,#0001ff 0px,#0013ff 76px,#003aff 96px,#0075ff 106px,#00caff 112px,#00fffb 116px,#0f9 120px,#00ff26 124px,#00ff02 126px,#7eff00 128px,#eaff00 130px,#ffd600 132px,#f00 134px,#f00 182px,#fe0 186px,#cdff00 186px,#2aff00 190px,#00ff02 190px,#00ff8d 194px,#00fffd 200px,#00a1ff 204px,#005aff 212px,#0026ff 224px,#0008ff 252px,#0005ff 260px)"></i><i style="top:424px;height:7px;background:linear-gradient(90deg,#0001ff 0px,#0012ff 76px,#003aff 96px,#0073ff 106px,#00c7ff 112px,#00fffe 116px,#00ff9d 120px,#00ff2c 124px,#00ff08 126px,#48ff00 128px,#e1ff00 130px,#ffe000 132px,#ff5200 134px,#f00 134px,#f00 182px,#ff3200 184px,#ffd700 186px,#e1ff00 186px,#37ff00 190px,#0aff00 190px,#00ff67 194px,#00ffd1 198px,#00fff9 200px,#0096ff 206px,#0054ff 212px,#0023ff 224px,#0007ff 254px,#0005ff 260px)"></i><i style="top:430px;height:7px;background:linear-gradient(90deg,#0001ff 0px,#0012ff 76px,#0039ff 96px,#0071ff 106px,#00c3ff 112px,#00fbff 116px,#00ffa2 120px,#00ff32 124px,#00ff0f 126px,#17ff00 126px,#a0ff00 130px,#d7ff00 130px,#ffea00 132px,#ff5d00 134px,#ff0c00 134px,#f00 136px,#f00 182px,#ff1300 184px,#ffc000 186px,#f5ff00 186px,#45ff00 190px,#15ff00 190px,#00ff15 192px,#00ff9b 196px,#00fff6 200px,#00c9ff 202px,#0075ff 208px,#003aff 218px,#0012ff 236px,#0005ff 260px)"></i><i style="top:436px;height:7px;background:linear-gradient(90deg,#0001ff 0px,#0013ff 76px,#003cff 96px,#0078ff 106px,#00c0ff 112px,#00f7ff 116px,#00ffbc 120px,#00ff38 124px,#00ff16 126px,#10ff00 126px,#97ff00 130px,#fff500 132px,#ff6900 134px,#ff1900 134px,#f00 136px,#f00 184px,#fff500 186px,#51ff00 190px,#20ff00 190px,#00ff0c 192px,#00ff95 196px,#00fff2 200px,#00f7ff 200px,#009aff 206px,#05f 212px,#0024ff 224px,#0007ff 254px,#0005ff 260px)"></i><i style="top:442px;height:7px;background:linear-gradient(90deg,#0001ff 0px,#0013ff 76px,#003bff 96px,#0076ff 106px,#00bcff 112px,#00fff8 116px,#00ff93 122px,#08ff00 126px,#8eff00 130px,#ff0 132px,#ff7600 134px,#ff2600 134px,#f00 136px,#f00 184px,#ff3d00 184px,#ffe300 186px,#d4ff00 188px,#2bff00 190px,#00ff03 192px,#00ff72 194px,#00ffdb 198px,#00fbff 200px,#009cff 206px,#0056ff 212px,#0024ff 224px,#0007ff 254px,#0005ff 260px)"></i><i style="top:448px;height:7px;background:linear-gradient(90deg,#0001ff 0px,#0012ff 76px,#003aff 96px,#0074ff 106px,#00c9ff 114px,#00fffc 116px,#00ff98 122px,#00ff23 126px,#01ff00 126px,#85ff00 130px,#f4ff00 132px,#ffca00 132px,#ff3400 134px,#f00 136px,#f00 184px,#ff2600 184px,#ffd300 186px,#e3ff00 188px,#34ff00 190px,#05ff00 192px,#00ff8b 196px,#00feff 200px,#009eff 206px,#0056ff 212px,#0024ff 224px,#0007ff 254px,#0005ff 260px)"></i><i style="top:454px;height:7px;background:linear-gradient(90deg,#0001ff 0px,#0012ff 76px,#0039ff 96px,#0072ff 106px,#00c5ff 114px,#0ff 116px,#00ff9d 122px,#00ff2a 126px,#00ff06 126px,#4cff00 128px,#eaff00 132px,#ffd500 132px,#f00 136px,#f00 184px,#f10 184px,#ffc400 186px,#f0ff00 188px,#3cff00 190px,#0dff00 192px,#00ff45 194px,#00ffbd 198px,#00fffe 200px,#009fff 206px,#0057ff 212px,#0024ff 224px,#0007ff 254px,#0005ff 260px)"></i><i style="top:460px;height:7px;background:linear-gradient(90deg,#0001ff 0px,#0013ff 78px,#0038ff 96px,#0070ff 106px,#00c2ff 114px,#00fbff 116px,#00ffa1 122px,#00ff30 126px,#00ff0c 126px,#1aff00 128px,#a8ff00 130px,#e0ff00 132px,#ffdf00 132px,#f00 136px,#f00 184px,#ffb600 186px,#fbff00 188px,#7aff00 190px,#13ff00 192px,#00ff19 192px,#00ffa1 196px,#00fffc 200px,#00a0ff 206px,#0057ff 212px,#0024ff 224px,#0007ff 254px,#0005ff 260px)"></i><i style="top:466px;height:7px;background:linear-gradient(90deg,#0001ff 0px,#0013ff 78px,#003bff 98px,#07f 108px,#00bfff 114px,#00f7ff 116px,#0fb 120px,#0f5 124px,#00ff12 126px,#14ff00 128px,#a0ff00 130px,#d8ff00 132px,#ffe800 132px,#ff5700 134px,#ff0200 136px,#f00 184px,#fff900 188px,#4aff00 190px,#18ff00 192px,#00ff15 192px,#00ff81 196px,#00ffe7 200px,#00fffb 200px,#0092ff 206px,#0050ff 214px,#001fff 226px,#0005ff 260px)"></i><i style="top:472px;height:7px;background:linear-gradient(90deg,#0001ff 0px,#0012ff 78px,#003aff 98px,#0076ff 108px,#00bdff 114px,#00fff7 118px,#00ff90 122px,#00ff16 126px,#10ff00 128px,#9aff00 130px,#d1ff00 132px,#ffef00 132px,#ff5f00 134px,#ff0c00 136px,#f00 138px,#f00 184px,#ff4800 186px,#fff100 188px,#87ff00 190px,#1cff00 192px,#0f1 192px,#00ff7f 196px,#00ffe6 200px,#00fffa 200px,#0093ff 206px,#0050ff 214px,#0021ff 226px,#0006ff 256px,#0005ff 260px)"></i><i style="top:478px;height:7px;background:linear-gradient(90deg,#0001ff 0px,#0012ff 78px,#003aff 98px,#0075ff 108px,#0bf 114px,#00fff9 118px,#00ff92 122px,#00ff1a 126px,#0cff00 128px,#95ff00 130px,#fff400 132px,#f60 134px,#ff1300 136px,#f00 136px,#f00 184px,#ff4000 186px,#ffeb00 188px,#cbff00 188px,#1fff00 192px,#00ff0e 192px,#00ff7d 196px,#00ffe5 200px,#00fff9 200px,#0093ff 206px,#0050ff 214px,#0021ff 226px,#0006ff 256px,#0005ff 260px)"></i><i style="top:484px;height:7px;background:linear-gradient(90deg,#0001ff 0px,#0012ff 78px,#003aff 98px,#0074ff 108px,#00baff 114px,#00fffa 118px,#00ff94 122px,#00ff1c 126px,#0aff00 128px,#92ff00 130px,#fff800 132px,#ff6a00 134px,#ff1700 136px,#f00 136px,#f00 184px,#ff3b00 186px,#ffe800 188px,#ceff00 188px,#21ff00 192px,#00ff0d 192px,#00ff7c 196px,#00ffe4 200px,#00fff8 200px,#0093ff 206px,#0050ff 214px,#0021ff 226px,#0006ff 256px,#0005ff 260px)"></i><i style="top:490px;height:7px;background:linear-gradient(90deg,#0001ff 0px,#0012ff 78px,#003aff 98px,#0074ff 108px,#00baff 114px,#00fffa 118px,#00ff95 122px,#08ff00 128px,#91ff00 130px,#fffa00 132px,#ff6c00 134px,#ff1900 136px,#f00 136px,#f00 184px,#ff3800 186px,#ffe600 188px,#cfff00 188px,#2f0 192px,#00ff0c 192px,#00ff7c 196px,#00ffe4 200px,#00fff8 200px,#0093ff 206px,#0050ff 214px,#0021ff 226px,#0006ff 256px,#0005ff 260px)"></i><i style="top:496px;height:5px;background:linear-gradient(90deg,#0001ff 0px,#0012ff 78px,#0039ff 98px,#0074ff 108px,#00baff 114px,#00fffa 118px,#00ff95 122px,#08ff00 128px,#90ff00 130px,#fffa00 132px,#ff6c00 134px,#ff1a00 136px,#f00 136px,#f00 184px,#ff3800 186px,#ffe600 188px,#d0ff00 188px,#2f0 192px,#00ff0c 192px,#00ff7c 196px,#00ffe4 200px,#00fff8 200px,#0093ff 206px,#0050ff 214px,#0021ff 226px,#0006ff 256px,#0005ff 260px)"></i></div></div>
<div class="hm" style="left:668.0px;top:88px;width:250.0px;height:491px"><div class="hb" style="left:-5px;top:-5px;width:260px;height:501px;filter:blur(1.0px)"><i style="top:0px;height:5px;background:linear-gradient(90deg,#0002ff 0px,#0015ff 64px,#0061ff 108px,#04f 130px,#01f 162px,#0001ff 250px,#00f 260px)"></i><i style="top:4px;height:5px;background:linear-gradient(90deg,#0002ff 0px,#0015ff 62px,#0064ff 108px,#0046ff 130px,#0012ff 162px,#0001ff 246px,#00f 260px)"></i><i style="top:8px;height:5px;background:linear-gradient(90deg,#0002ff 0px,#0016ff 62px,#0057ff 96px,#0068ff 112px,#0015ff 160px,#0001ff 230px,#0001ff 260px)"></i><i style="top:12px;height:5px;background:linear-gradient(90deg,#0002ff 0px,#0016ff 60px,#004dff 88px,#0073ff 108px,#0059ff 126px,#0019ff 158px,#0002ff 214px,#0001ff 260px)"></i><i style="top:16px;height:5px;background:linear-gradient(90deg,#0002ff 0px,#0017ff 58px,#004bff 84px,#0082ff 106px,#0070ff 122px,#0020ff 154px,#0005ff 198px,#0001ff 260px)"></i><i style="top:20px;height:5px;background:linear-gradient(90deg,#0002ff 0px,#0018ff 56px,#004cff 82px,#0095ff 106px,#0089ff 120px,#0029ff 152px,#0008ff 188px,#0001ff 260px)"></i><i style="top:24px;height:5px;background:linear-gradient(90deg,#0003ff 0px,#0019ff 54px,#004eff 78px,#00acff 104px,#00a8ff 116px,#0030ff 152px,#000bff 184px,#0001ff 260px)"></i><i style="top:28px;height:5px;background:linear-gradient(90deg,#0003ff 0px,#001bff 52px,#0050ff 76px,#00c8ff 104px,#00caff 114px,#0079ff 134px,#0031ff 156px,#000cff 188px,#0001ff 260px)"></i><i style="top:32px;height:5px;background:linear-gradient(90deg,#0004ff 0px,#001dff 50px,#0053ff 72px,#00edff 104px,#00f1ff 114px,#00b7ff 128px,#004cff 150px,#001aff 172px,#0003ff 230px,#0001ff 260px)"></i><i style="top:36px;height:5px;background:linear-gradient(90deg,#0005ff 0px,#001eff 48px,#0052ff 68px,#00afff 86px,#00fffe 98px,#00ffe2 110px,#00f7ff 124px,#0069ff 146px,#002cff 166px,#000aff 200px,#0001ff 260px)"></i><i style="top:40px;height:5px;background:linear-gradient(90deg,#0006ff 0px,#0020ff 44px,#0053ff 64px,#00a8ff 80px,#00fffc 90px,#00ffba 104px,#00ffbc 116px,#00f9ff 130px,#007dff 148px,#0039ff 164px,#0010ff 194px,#0002ff 260px)"></i><i style="top:44px;height:5px;background:linear-gradient(90deg,#0007ff 0px,#0024ff 42px,#005cff 62px,#00b3ff 76px,#00fff9 86px,#00ff91 102px,#00ff7f 112px,#00ffa6 122px,#00fffe 136px,#0086ff 150px,#0040ff 166px,#0015ff 192px,#0002ff 260px)"></i><i style="top:48px;height:5px;background:linear-gradient(90deg,#0008ff 0px,#0026ff 40px,#005dff 60px,#00afff 72px,#00fdff 80px,#00ff63 100px,#00ff47 110px,#00ff5c 118px,#00ffd1 134px,#00fcff 140px,#008cff 154px,#0046ff 168px,#0017ff 194px,#0003ff 260px)"></i><i style="top:52px;height:5px;background:linear-gradient(90deg,#0008ff 0px,#0028ff 40px,#005dff 58px,#00b0ff 70px,#00fffc 78px,#00ff36 100px,#00ff15 110px,#00ff2d 118px,#00ff9d 132px,#00feff 144px,#0091ff 156px,#0047ff 170px,#0019ff 194px,#0003ff 260px)"></i><i style="top:56px;height:5px;background:linear-gradient(90deg,#0008ff 0px,#0026ff 38px,#005bff 56px,#00a7ff 68px,#00fff9 78px,#00ff13 100px,#06ff00 104px,#13ff00 112px,#00ff05 118px,#00ff6e 130px,#00fcff 146px,#0094ff 156px,#004bff 170px,#001bff 194px,#0003ff 254px,#0003ff 260px)"></i><i style="top:60px;height:5px;background:linear-gradient(90deg,#0008ff 0px,#0027ff 40px,#005fff 58px,#00b1ff 70px,#0ff 76px,#00ff01 100px,#3f0 108px,#31ff00 114px,#00ff04 122px,#00fff9 146px,#0089ff 158px,#0045ff 172px,#0018ff 196px,#0003ff 260px)"></i><i style="top:64px;height:5px;background:linear-gradient(90deg,#0008ff 0px,#0025ff 40px,#005cff 58px,#00afff 70px,#0ff 76px,#00ff4e 92px,#00ff03 98px,#4bff00 106px,#52ff00 114px,#1fff00 122px,#0f0 124px,#00fff4 146px,#00f4ff 148px,#0091ff 158px,#004bff 170px,#001bff 192px,#0003ff 252px,#0003ff 260px)"></i><i style="top:68px;height:5px;background:linear-gradient(90deg,#0007ff 0px,#0024ff 40px,#0059ff 58px,#00a2ff 68px,#00feff 76px,#00ff61 90px,#00ff01 96px,#5dff00 106px,#70ff00 112px,#52ff00 118px,#00ff03 126px,#00ffe6 144px,#00f8ff 148px,#0091ff 158px,#0049ff 170px,#001aff 192px,#0003ff 254px,#0002ff 260px)"></i><i style="top:72px;height:5px;background:linear-gradient(90deg,#0007ff 0px,#0024ff 40px,#0057ff 58px,#00a1ff 68px,#00fdff 76px,#00ff6a 88px,#00ff03 96px,#6bff00 104px,#8aff00 110px,#7aff00 116px,#2aff00 124px,#01ff00 128px,#00ffd7 144px,#00faff 148px,#0098ff 156px,#004fff 168px,#001eff 188px,#0004ff 240px,#0002ff 260px)"></i><i style="top:76px;height:5px;background:linear-gradient(90deg,#0007ff 0px,#0024ff 40px,#0056ff 58px,#00a0ff 68px,#0ff 76px,#00ff73 88px,#00ff07 94px,#80ff00 104px,#a3ff00 110px,#95ff00 116px,#4dff00 124px,#04ff00 128px,#00ffd4 144px,#00fcff 148px,#0097ff 156px,#004dff 168px,#001cff 188px,#0004ff 240px,#0002ff 260px)"></i><i style="top:80px;height:5px;background:linear-gradient(90deg,#0007ff 0px,#0024ff 40px,#0056ff 58px,#00a1ff 68px,#00fffd 76px,#00ff6c 88px,#05ff00 94px,#8bff00 104px,#bf0 110px,#bf0 114px,#8bff00 120px,#04ff00 130px,#00ffd1 144px,#00feff 148px,#009eff 156px,#0054ff 166px,#0021ff 184px,#0006ff 228px,#0002ff 260px)"></i><i style="top:84px;height:5px;background:linear-gradient(90deg,#0007ff 0px,#0024ff 40px,#0057ff 58px,#00a3ff 68px,#00fffa 76px,#00ff64 88px,#01ff00 94px,#a2ff00 104px,#d8ff00 110px,#dbff00 114px,#a8ff00 120px,#04ff00 130px,#00ffcd 144px,#00fffe 148px,#009dff 156px,#0052ff 166px,#001fff 184px,#0005ff 228px,#0002ff 260px)"></i><i style="top:88px;height:5px;background:linear-gradient(90deg,#0007ff 0px,#02f 40px,#0053ff 56px,#009cff 68px,#00fcff 76px,#00ff8b 84px,#00ff03 92px,#bcff00 104px,#f8ff00 110px,#faff00 116px,#c9ff00 120px,#2bff00 130px,#04ff00 132px,#00ffc8 144px,#00fffc 148px,#0093ff 156px,#004cff 168px,#001dff 186px,#0004ff 234px,#0002ff 260px)"></i><i style="top:92px;height:5px;background:linear-gradient(90deg,#0007ff 0px,#0023ff 40px,#05f 56px,#009fff 68px,#00fffd 76px,#00ff72 86px,#00ff07 92px,#e7ff00 104px,#fffd00 106px,#ffd800 112px,#ffe300 116px,#fdff00 120px,#83ff00 126px,#06ff00 132px,#00ffc1 144px,#00faff 148px,#0095ff 156px,#004cff 168px,#001cff 186px,#0004ff 234px,#0002ff 260px)"></i><i style="top:96px;height:5px;background:linear-gradient(90deg,#0007ff 0px,#0023ff 40px,#0056ff 56px,#00a3ff 68px,#00fff8 76px,#00ff7a 84px,#08ff00 92px,#f7ff00 104px,#ffb300 110px,#ffaf00 116px,#ffe400 120px,#f8ff00 122px,#09ff00 134px,#00ff4b 138px,#00ffe1 146px,#00fffb 148px,#0090ff 158px,#0049ff 168px,#001aff 188px,#0003ff 240px,#0002ff 260px)"></i><i style="top:100px;height:5px;background:linear-gradient(90deg,#0007ff 0px,#0024ff 40px,#0057ff 56px,#00a6ff 68px,#0ff 74px,#00ff82 84px,#02ff00 90px,#f1ff00 102px,#ffe500 104px,#f90 108px,#ff7b00 114px,#ff8d00 118px,#ffd800 122px,#fdff00 124px,#0eff00 134px,#00ff09 136px,#00ffa6 144px,#00fffd 150px,#0097ff 158px,#0050ff 168px,#001fff 184px,#0005ff 228px,#0002ff 260px)"></i><i style="top:104px;height:5px;background:linear-gradient(90deg,#0007ff 0px,#0024ff 40px,#0058ff 56px,#009fff 66px,#00fffb 74px,#00ff7a 84px,#00ff06 90px,#b3ff00 98px,#faff00 100px,#ff7c00 108px,#ff4d00 112px,#ff5200 116px,#ff8300 120px,#faff00 126px,#00ff04 136px,#00ffa6 144px,#00fffe 150px,#00a0ff 158px,#0054ff 168px,#02f 184px,#0006ff 222px,#0002ff 260px)"></i><i style="top:108px;height:5px;background:linear-gradient(90deg,#0007ff 0px,#0024ff 40px,#0059ff 56px,#00a1ff 66px,#00fff8 74px,#00ff72 84px,#08ff00 90px,#ff0 100px,#ff6200 106px,#f20 112px,#ff1a00 116px,#ff4100 120px,#ffa700 124px,#fff500 128px,#d2ff00 130px,#00ff01 138px,#00ffa6 146px,#0ff 152px,#009fff 158px,#0054ff 168px,#02f 184px,#0006ff 224px,#0002ff 260px)"></i><i style="top:112px;height:5px;background:linear-gradient(90deg,#0007ff 0px,#0024ff 40px,#0059ff 56px,#00a3ff 66px,#00fdff 74px,#00ff8d 82px,#00ff01 88px,#fffc00 98px,#ff4b00 106px,#ff0500 110px,#ff0200 118px,#ff6200 124px,#ffeb00 128px,#f6ff00 130px,#17ff00 138px,#00ff02 138px,#00ff96 146px,#00fdff 152px,#009eff 160px,#0054ff 170px,#02f 186px,#0006ff 224px,#0002ff 260px)"></i><i style="top:116px;height:5px;background:linear-gradient(90deg,#0007ff 0px,#0024ff 40px,#05f 56px,#009bff 66px,#00fffd 74px,#00ff86 82px,#00ff0a 88px,#26ff00 90px,#fffa00 98px,#ff1f00 106px,#f00 108px,#f00 120px,#ff0800 122px,#fa0 128px,#f8ff00 130px,#12ff00 138px,#00ff07 140px,#00ff9b 146px,#00fff7 152px,#00d9ff 156px,#0080ff 164px,#003eff 176px,#0014ff 198px,#0002ff 260px)"></i><i style="top:120px;height:5px;background:linear-gradient(90deg,#0007ff 0px,#0024ff 40px,#05f 56px,#009cff 66px,#00fff9 74px,#00ff7e 82px,#04ff00 88px,#fffb00 96px,#ff0a00 104px,#f00 108px,#f00 122px,#ff2d00 124px,#ffea00 130px,#f4ff00 132px,#0bff00 140px,#00ff26 142px,#00ffb2 148px,#00fffb 154px,#008fff 162px,#0049ff 174px,#001aff 192px,#0003ff 246px,#0002ff 260px)"></i><i style="top:124px;height:5px;background:linear-gradient(90deg,#0007ff 0px,#0023ff 40px,#05f 56px,#009eff 66px,#00faff 72px,#00ff9b 80px,#00ff07 86px,#65ff00 90px,#fffd00 96px,#ff1600 102px,#f00 104px,#f00 124px,#ff0800 124px,#fff100 132px,#ecff00 132px,#1aff00 140px,#0f0 140px,#00ff97 148px,#00fdff 154px,#009fff 162px,#05f 172px,#0021ff 188px,#0006ff 230px,#0002ff 260px)"></i><i style="top:128px;height:5px;background:linear-gradient(90deg,#0006ff 0px,#0023ff 40px,#05f 56px,#009fff 66px,#00feff 72px,#00ff94 80px,#07ff00 86px,#daff00 94px,#fcff00 94px,#ff0a00 102px,#f00 104px,#ff0600 126px,#fffc00 132px,#0eff00 140px,#00ff0c 142px,#00ffa0 148px,#00fffa 154px,#0090ff 164px,#004aff 174px,#001bff 194px,#0003ff 246px,#0002ff 260px)"></i><i style="top:132px;height:5px;background:linear-gradient(90deg,#0006ff 0px,#02f 40px,#05f 56px,#00a0ff 66px,#00fffd 72px,#00ff8e 80px,#00ff06 86px,#6dff00 90px,#f4ff00 94px,#ffc000 96px,#ff0100 100px,#f00 126px,#ff0a00 126px,#ffe700 132px,#f4ff00 134px,#1bff00 140px,#0f0 142px,#00ff98 148px,#00fcff 156px,#009fff 162px,#0056ff 172px,#02f 190px,#0006ff 230px,#0002ff 260px)"></i><i style="top:136px;height:5px;background:linear-gradient(90deg,#0006ff 0px,#02f 40px,#0054ff 56px,#0096ff 64px,#00fffa 72px,#00ff87 80px,#07ff00 86px,#c6ff00 92px,#ebff00 92px,#fe0 94px,#f00 100px,#f00 126px,#ff1200 128px,#fff700 134px,#43ff00 140px,#0cff00 142px,#00ff27 144px,#00ffb3 150px,#00fffc 156px,#09f 164px,#0053ff 174px,#0021ff 190px,#0006ff 232px,#0002ff 260px)"></i><i style="top:140px;height:5px;background:linear-gradient(90deg,#0006ff 0px,#0021ff 40px,#0054ff 56px,#0096ff 64px,#00fff8 72px,#00ff80 80px,#00ff08 84px,#52ff00 88px,#fff800 92px,#f00 98px,#f00 128px,#ff7000 130px,#ffe400 134px,#f5ff00 134px,#32ff00 140px,#00ff04 142px,#00ff9c 150px,#00fff7 156px,#00b3ff 162px,#06f 170px,#002fff 184px,#000cff 214px,#0003ff 260px)"></i><i style="top:144px;height:5px;background:linear-gradient(90deg,#0006ff 0px,#0021ff 40px,#0053ff 56px,#0096ff 64px,#00f9ff 72px,#00ffa3 78px,#04ff00 84px,#abff00 90px,#f9ff00 92px,#ff5600 96px,#f00 98px,#ff0500 128px,#fff900 134px,#20ff00 142px,#05ff00 142px,#00ffa8 150px,#0ff 156px,#00a1ff 164px,#0057ff 174px,#0023ff 190px,#0007ff 230px,#0003ff 260px)"></i><i style="top:148px;height:5px;background:linear-gradient(90deg,#0005ff 0px,#0020ff 40px,#0052ff 56px,#0096ff 64px,#00e9ff 70px,#00fbff 72px,#00ff9e 78px,#00ff0e 84px,#10ff00 84px,#c0ff00 90px,#e8ff00 90px,#ffeb00 92px,#f00 96px,#f00 128px,#ff1b00 130px,#ffeb00 134px,#edff00 136px,#28ff00 142px,#0cff00 142px,#00ff27 144px,#00ffb4 152px,#00fffc 156px,#09f 164px,#0054ff 174px,#02f 192px,#0006ff 234px,#0003ff 260px)"></i><i style="top:152px;height:5px;background:linear-gradient(90deg,#0005ff 0px,#001fff 40px,#0052ff 56px,#0097ff 64px,#00ebff 70px,#00fdff 72px,#00ff9a 78px,#0f2 82px,#00ff05 84px,#82ff00 88px,#fbff00 90px,#ff4500 94px,#ff1200 96px,#f00 96px,#f00 128px,#ff0800 130px,#ffe000 134px,#f7ff00 136px,#4bff00 140px,#1f0 142px,#00ff09 144px,#00ff8f 150px,#00fffb 156px,#0091ff 166px,#004bff 176px,#001cff 196px,#0004ff 248px,#0003ff 260px)"></i><i style="top:156px;height:5px;background:linear-gradient(90deg,#0005ff 0px,#001fff 40px,#0052ff 56px,#0097ff 64px,#00ecff 70px,#0ff 72px,#00ff98 78px,#00ff1e 82px,#0f0 84px,#b0ff00 88px,#fff800 90px,#ff0100 96px,#f00 130px,#fffd00 136px,#32ff00 142px,#00ff06 144px,#00ff8e 150px,#00fffb 156px,#09f 164px,#0053ff 174px,#02f 192px,#0006ff 234px,#0003ff 260px)"></i><i style="top:160px;height:7px;background:linear-gradient(90deg,#0005ff 0px,#0020ff 40px,#0052ff 56px,#0097ff 64px,#00ebff 70px,#00feff 72px,#00ff9a 78px,#00ff21 82px,#00ff04 84px,#83ff00 88px,#ff0 90px,#ff0800 96px,#f00 104px,#f00 130px,#ff0800 130px,#ffed00 136px,#e8ff00 136px,#38ff00 142px,#00ff03 144px,#00ff8f 150px,#0ff 156px,#009fff 164px,#05f 174px,#0021ff 190px,#0006ff 232px,#0002ff 260px)"></i><i style="top:166px;height:7px;background:linear-gradient(90deg,#0006ff 0px,#0020ff 40px,#0052ff 56px,#0095ff 64px,#00e6ff 70px,#00fff6 72px,#00ff78 80px,#00ff13 84px,#0aff00 84px,#bf0 90px,#e4ff00 90px,#fe0 92px,#f00 96px,#f00 130px,#ff1e00 132px,#fd0 136px,#f6ff00 136px,#3cff00 142px,#00ff02 144px,#00ff93 150px,#00fff7 156px,#008dff 164px,#004bff 174px,#001cff 192px,#0004ff 242px,#0002ff 260px)"></i><i style="top:172px;height:7px;background:linear-gradient(90deg,#0006ff 0px,#001fff 40px,#004fff 56px,#008fff 64px,#00edff 72px,#00fffe 72px,#00ff85 80px,#00ff07 84px,#59ff00 88px,#f4ff00 92px,#ffb000 94px,#ff1c00 96px,#f00 98px,#ff0500 130px,#fff200 136px,#b9ff00 138px,#0dff00 142px,#00ff2b 144px,#00ffb0 150px,#0ff 156px,#00a6ff 162px,#005bff 170px,#0026ff 186px,#0008ff 220px,#0002ff 260px)"></i><i style="top:178px;height:7px;background:linear-gradient(90deg,#0005ff 0px,#001eff 40px,#004dff 56px,#008eff 66px,#0ef 72px,#00fffe 74px,#00ff81 80px,#0f0 86px,#adff00 90px,#ff0 92px,#ff1500 98px,#f00 98px,#f00 128px,#ff0900 128px,#ffe600 134px,#efff00 134px,#3eff00 140px,#03ff00 142px,#00ffa0 148px,#0ff 154px,#009dff 162px,#0052ff 172px,#0021ff 188px,#0006ff 228px,#0002ff 260px)"></i><i style="top:184px;height:7px;background:linear-gradient(90deg,#0004ff 0px,#001cff 42px,#004bff 58px,#008cff 66px,#00dcff 72px,#00fffd 74px,#00ff93 80px,#07ff00 86px,#b6ff00 92px,#fff600 94px,#ff1400 98px,#f00 100px,#f00 126px,#ff1900 126px,#ffe300 132px,#f5ff00 132px,#2dff00 138px,#00ff0b 140px,#00ff92 146px,#00feff 154px,#009dff 160px,#0054ff 170px,#0021ff 188px,#0005ff 230px,#0002ff 260px)"></i><i style="top:190px;height:7px;background:linear-gradient(90deg,#0004ff 0px,#001cff 42px,#004cff 58px,#0090ff 68px,#00e4ff 74px,#00fff6 76px,#00ff87 82px,#00ff06 86px,#80ff00 90px,#f6ff00 94px,#ffb300 96px,#f00 100px,#f00 124px,#ff1a00 126px,#fcff00 132px,#37ff00 138px,#00ff01 140px,#00ff8a 146px,#00fffa 152px,#008fff 162px,#0048ff 172px,#001aff 192px,#0003ff 246px,#0002ff 260px)"></i><i style="top:196px;height:7px;background:linear-gradient(90deg,#0004ff 0px,#001cff 42px,#004bff 58px,#008dff 68px,#00dfff 74px,#00fffa 76px,#00ff8d 82px,#00ff0d 86px,#1f0 88px,#c3ff00 92px,#ecff00 94px,#ffe800 94px,#ff0a00 100px,#f00 102px,#f00 124px,#ff1a00 126px,#fdff00 132px,#37ff00 138px,#00ff01 140px,#00ff8a 146px,#00fffa 152px,#008fff 162px,#0048ff 172px,#001aff 192px,#0003ff 246px,#0002ff 260px)"></i><i style="top:202px;height:7px;background:linear-gradient(90deg,#0004ff 0px,#001bff 42px,#0049ff 58px,#008aff 68px,#00daff 74px,#0ff 76px,#00ff94 82px,#00ff16 86px,#08ff00 88px,#b8ff00 92px,#fff400 94px,#ff1500 100px,#f00 100px,#f00 124px,#ff0e00 126px,#fff900 132px,#1fff00 138px,#04ff00 140px,#00ff9a 146px,#00fff9 152px,#008fff 162px,#0048ff 172px,#001aff 192px,#0003ff 246px,#0002ff 260px)"></i><i style="top:208px;height:7px;background:linear-gradient(90deg,#0004ff 0px,#001cff 44px,#004cff 60px,#0090ff 68px,#00e5ff 74px,#00fff5 76px,#00ff86 82px,#00ff02 88px,#abff00 92px,#fcff00 94px,#f00 100px,#f00 126px,#ffec00 132px,#ecff00 132px,#27ff00 138px,#0bff00 140px,#00ff2a 142px,#0fb 148px,#00f8ff 154px,#09f 160px,#0051ff 170px,#001fff 188px,#0005ff 230px,#0002ff 260px)"></i><i style="top:214px;height:7px;background:linear-gradient(90deg,#0004ff 0px,#001cff 44px,#004aff 60px,#008cff 68px,#00deff 74px,#00fffc 76px,#00ff8f 82px,#00ff0f 88px,#10ff00 88px,#c2ff00 94px,#ebff00 94px,#ffe900 96px,#ff0700 100px,#f00 126px,#ff1300 126px,#fbff00 132px,#30ff00 138px,#00ff09 140px,#00ff93 146px,#00fff5 152px,#00e9ff 154px,#0090ff 162px,#004cff 172px,#001cff 190px,#0004ff 238px,#0002ff 260px)"></i><i style="top:220px;height:7px;background:linear-gradient(90deg,#0004ff 0px,#001bff 44px,#0048ff 60px,#08f 68px,#00d6ff 74px,#00fbff 76px,#00ff98 82px,#02ff00 88px,#b1ff00 94px,#fffb00 96px,#ff1a00 100px,#f00 102px,#f00 126px,#fff200 132px,#c0ff00 134px,#0f0 140px,#00ff8e 146px,#00feff 154px,#009bff 160px,#0051ff 170px,#0020ff 186px,#0006ff 226px,#0002ff 260px)"></i><i style="top:226px;height:7px;background:linear-gradient(90deg,#0004ff 0px,#001cff 44px,#004bff 60px,#008dff 70px,#00dfff 76px,#00fffa 78px,#00ff8d 84px,#00ff0c 88px,#34ff00 90px,#f1ff00 96px,#ffe300 96px,#f00 102px,#f00 126px,#ff0e00 128px,#ffe000 132px,#f7ff00 134px,#27ff00 140px,#0aff00 140px,#00ff45 144px,#00ffc1 150px,#00fffe 154px,#009cff 160px,#0056ff 170px,#0024ff 184px,#0007ff 220px,#0002ff 260px)"></i><i style="top:232px;height:7px;background:linear-gradient(90deg,#0004ff 0px,#001bff 44px,#0049ff 60px,#0089ff 70px,#00d8ff 76px,#00fdff 78px,#00ff96 84px,#05ff00 90px,#b6ff00 94px,#fff500 96px,#ff1000 102px,#f00 102px,#f00 128px,#ff4c00 130px,#fff500 134px,#97ff00 136px,#14ff00 140px,#00ff09 142px,#00ff97 148px,#00fffb 154px,#0092ff 162px,#004cff 172px,#001cff 188px,#0004ff 234px,#0002ff 260px)"></i><i style="top:238px;height:7px;background:linear-gradient(90deg,#0004ff 0px,#001bff 44px,#0047ff 60px,#0085ff 70px,#00e2ff 76px,#00fff8 78px,#00ff8a 84px,#00ff07 90px,#5bff00 92px,#f8ff00 96px,#ff5100 100px,#ff2100 102px,#f00 102px,#ff0700 128px,#ffe200 134px,#f3ff00 134px,#3eff00 140px,#01ff00 142px,#00ff92 148px,#00fff9 154px,#0093ff 162px,#004bff 172px,#001cff 188px,#0004ff 234px,#0002ff 260px)"></i><i style="top:244px;height:7px;background:linear-gradient(90deg,#0004ff 0px,#001aff 44px,#0045ff 60px,#0081ff 70px,#00dbff 76px,#00fffe 78px,#00ff92 84px,#00ff12 90px,#0cff00 90px,#c0ff00 96px,#eaff00 96px,#ffe900 98px,#f00 102px,#f00 128px,#ff1c00 130px,#fff900 134px,#2aff00 140px,#0bff00 142px,#00ff2e 144px,#00ffb4 150px,#00f8ff 154px,#009fff 160px,#0056ff 170px,#0023ff 184px,#0006ff 220px,#0002ff 260px)"></i><i style="top:250px;height:7px;background:linear-gradient(90deg,#0004ff 0px,#001bff 46px,#0048ff 62px,#08f 70px,#00d6ff 76px,#00fbff 78px,#00ff98 84px,#03ff00 90px,#b5ff00 96px,#fff400 98px,#ff0900 102px,#f00 106px,#ff0100 130px,#ffe500 134px,#efff00 136px,#36ff00 140px,#00ff08 142px,#00ff9c 148px,#00fcff 154px,#00a1ff 160px,#0056ff 170px,#02f 184px,#0006ff 220px,#0002ff 260px)"></i><i style="top:256px;height:7px;background:linear-gradient(90deg,#0004ff 0px,#001bff 46px,#0047ff 62px,#0085ff 70px,#00d1ff 76px,#00fff7 80px,#0f8 86px,#00ff04 90px,#86ff00 94px,#fffc00 98px,#ff0d00 102px,#f00 104px,#f00 130px,#ff0f00 130px,#fff800 136px,#24ff00 142px,#05ff00 142px,#00ffa8 150px,#00fffd 154px,#0098ff 162px,#0051ff 170px,#0021ff 186px,#0006ff 224px,#0002ff 260px)"></i><i style="top:262px;height:7px;background:linear-gradient(90deg,#0003ff 0px,#001aff 46px,#0045ff 62px,#0082ff 70px,#00deff 78px,#00fffb 80px,#00ff8d 86px,#00ff09 90px,#38ff00 92px,#feff00 98px,#ff0c00 102px,#f00 104px,#f00 130px,#ff1900 132px,#ffd900 136px,#f8ff00 136px,#38ff00 142px,#00ff08 144px,#00ff89 148px,#00fff7 154px,#00b6ff 160px,#06f 168px,#002fff 180px,#000cff 204px,#0002ff 260px)"></i><i style="top:268px;height:7px;background:linear-gradient(90deg,#0003ff 0px,#001aff 46px,#04f 62px,#0080ff 70px,#00daff 78px,#00fffe 80px,#00ff91 86px,#00ff0e 90px,#12ff00 92px,#d0ff00 96px,#fcff00 98px,#ff0700 102px,#f00 132px,#ff1d00 132px,#ffe300 136px,#ef0 138px,#2cff00 142px,#0cff00 144px,#00ff30 146px,#0fb 152px,#00fffd 156px,#0096ff 162px,#0050ff 172px,#0020ff 186px,#0005ff 224px,#0002ff 260px)"></i><i style="top:274px;height:7px;background:linear-gradient(90deg,#0003ff 0px,#001bff 46px,#0047ff 62px,#0087ff 72px,#00d6ff 78px,#00fbff 80px,#00ff95 86px,#00ff12 90px,#0eff00 92px,#ceff00 96px,#fcff00 98px,#ff3800 102px,#f00 102px,#f00 132px,#ff1f00 134px,#ffea00 138px,#e6ff00 138px,#23ff00 144px,#03ff00 144px,#00ff9a 150px,#00fff5 156px,#00e6ff 158px,#0091ff 164px,#004dff 172px,#001dff 188px,#0004ff 230px,#0002ff 260px)"></i><i style="top:280px;height:7px;background:linear-gradient(90deg,#0003ff 0px,#001aff 46px,#0046ff 62px,#0084ff 72px,#00d2ff 78px,#00fff6 80px,#00ff82 86px,#00ff16 90px,#0aff00 92px,#a1ff00 96px,#fbff00 98px,#f00 102px,#f00 134px,#ff2000 134px,#fff000 138px,#dfff00 140px,#3eff00 144px,#00ff05 146px,#00ff8b 150px,#00fffa 156px,#0098ff 164px,#0050ff 172px,#0020ff 188px,#0005ff 226px,#0002ff 260px)"></i><i style="top:286px;height:7px;background:linear-gradient(90deg,#0003ff 0px,#001aff 46px,#04f 62px,#0081ff 72px,#00cdff 78px,#00fffa 80px,#00ff87 86px,#06ff00 92px,#9eff00 96px,#faff00 98px,#ff6700 100px,#f00 102px,#f00 134px,#ff2100 136px,#fff600 140px,#5bff00 144px,#14ff00 146px,#00ff0d 146px,#00ff92 152px,#0ff 158px,#009fff 164px,#0059ff 172px,#0025ff 186px,#0007ff 218px,#0002ff 260px)"></i><i style="top:292px;height:7px;background:linear-gradient(90deg,#0003ff 0px,#0019ff 46px,#0042ff 62px,#007eff 72px,#00c8ff 78px,#00fffe 80px,#00ff8c 86px,#0f0 92px,#9aff00 96px,#f7ff00 98px,#ff9e00 100px,#ff2900 102px,#f00 102px,#f00 136px,#ff2300 136px,#fffd00 140px,#53ff00 144px,#0bff00 146px,#0f3 148px,#00ffae 154px,#00f7ff 158px,#009aff 164px,#0051ff 174px,#0020ff 188px,#0005ff 226px,#0002ff 260px)"></i><i style="top:298px;height:7px;background:linear-gradient(90deg,#0003ff 0px,#001aff 48px,#0045ff 64px,#0083ff 72px,#00d3ff 78px,#00f9ff 80px,#00ffa9 86px,#00ff26 90px,#00ff06 92px,#6aff00 94px,#f3ff00 98px,#ffd700 98px,#ff2800 102px,#f00 102px,#f00 136px,#ff2700 138px,#ffd300 140px,#f8ff00 142px,#4aff00 146px,#03ff00 148px,#00ff89 152px,#00fffb 158px,#0096ff 166px,#004fff 174px,#001fff 190px,#0005ff 228px,#0002ff 260px)"></i><i style="top:304px;height:7px;background:linear-gradient(90deg,#0003ff 0px,#0019ff 48px,#0043ff 64px,#007fff 72px,#00cdff 78px,#00fff9 82px,#00ff81 88px,#00ff0d 92px,#15ff00 92px,#bcff00 96px,#ef0 98px,#ffdc00 98px,#ff2800 102px,#f00 102px,#f00 138px,#ff2f00 138px,#fd0 142px,#ef0 142px,#3fff00 146px,#00ff08 148px,#00ff92 154px,#00fff2 158px,#00fcff 160px,#009cff 166px,#0057ff 174px,#0024ff 188px,#0007ff 220px,#0002ff 260px)"></i><i style="top:310px;height:7px;background:linear-gradient(90deg,#0003ff 0px,#0019ff 48px,#0045ff 64px,#0085ff 74px,#00d8ff 80px,#0ff 82px,#0f8 88px,#00ff15 92px,#0dff00 92px,#b4ff00 96px,#e6ff00 98px,#ffe200 98px,#ff2b00 102px,#f00 102px,#f00 138px,#ffea00 142px,#e1ff00 144px,#3f0 148px,#0fff00 148px,#00ff13 150px,#00ff9b 154px,#00fff9 160px,#008cff 168px,#0049ff 176px,#001bff 192px,#0004ff 238px,#0002ff 260px)"></i><i style="top:316px;height:7px;background:linear-gradient(90deg,#0003ff 0px,#0019ff 48px,#0043ff 64px,#0081ff 74px,#00d1ff 80px,#00f8ff 82px,#00ffbd 86px,#00ff3e 90px,#05ff00 92px,#acff00 96px,#deff00 98px,#ffea00 98px,#ff3000 102px,#f00 102px,#f00 138px,#ff0800 140px,#ffc300 142px,#fffa00 144px,#4bff00 148px,#01ff00 150px,#00ff8e 154px,#00fdff 160px,#009cff 166px,#0057ff 174px,#0023ff 188px,#0007ff 222px,#0002ff 260px)"></i><i style="top:322px;height:7px;background:linear-gradient(90deg,#0003ff 0px,#0018ff 48px,#0040ff 64px,#007dff 74px,#00caff 80px,#00fffa 82px,#00ff97 88px,#00ff26 92px,#00ff04 92px,#74ff00 96px,#d5ff00 98px,#fff300 98px,#f00 102px,#f00 140px,#ff1c00 140px,#ffd700 144px,#f1ff00 144px,#3bff00 148px,#15ff00 150px,#00ff0e 150px,#0f9 156px,#00fff9 160px,#0095ff 168px,#004dff 176px,#001eff 192px,#0005ff 232px,#0002ff 260px)"></i><i style="top:328px;height:7px;background:linear-gradient(90deg,#0003ff 0px,#0018ff 50px,#0043ff 66px,#0083ff 74px,#00d6ff 80px,#0ff 82px,#00ff9e 88px,#00ff2e 92px,#00ff0d 92px,#18ff00 94px,#9f0 96px,#fffc00 98px,#f00 102px,#f00 140px,#f70 142px,#fe0 144px,#daff00 146px,#28ff00 150px,#03ff00 150px,#00ff8f 156px,#00fff2 160px,#00fbff 162px,#009aff 168px,#05f 176px,#02f 190px,#0006ff 224px,#0002ff 260px)"></i><i style="top:334px;height:7px;background:linear-gradient(90deg,#0003ff 0px,#0018ff 50px,#0041ff 66px,#007fff 74px,#00d1ff 80px,#00f8ff 82px,#00ffba 86px,#00ff36 92px,#00ff14 92px,#10ff00 94px,#91ff00 96px,#faff00 98px,#ff8a00 100px,#f00 102px,#f00 140px,#ff0b00 142px,#ffcf00 144px,#f6ff00 146px,#64ff00 148px,#14ff00 150px,#00ff0f 152px,#00ff9d 156px,#00fffd 162px,#009eff 168px,#0056ff 176px,#0023ff 190px,#0007ff 222px,#0002ff 260px)"></i><i style="top:340px;height:7px;background:linear-gradient(90deg,#0003ff 0px,#0017ff 50px,#0040ff 66px,#007cff 74px,#0cf 80px,#00fff8 84px,#00ff91 88px,#00ff1b 92px,#09ff00 94px,#89ff00 96px,#f2ff00 98px,#ffd100 100px,#ff0300 102px,#f00 142px,#ff2900 142px,#ffeb00 146px,#dcff00 146px,#4eff00 150px,#0f0 152px,#00ff7a 156px,#00ffe6 160px,#00f4ff 162px,#0095ff 168px,#0052ff 176px,#0021ff 190px,#0006ff 226px,#0002ff 260px)"></i><i style="top:346px;height:7px;background:linear-gradient(90deg,#0003ff 0px,#0018ff 50px,#0043ff 66px,#0084ff 76px,#00d9ff 82px,#00fffc 84px,#00ff97 88px,#02ff00 94px,#81ff00 96px,#eaff00 98px,#ffd900 100px,#ff0900 102px,#f00 106px,#f00 142px,#ffcd00 146px,#f7ff00 146px,#61ff00 150px,#10ff00 152px,#00ff14 152px,#00ffa2 158px,#00fbff 162px,#00a5ff 168px,#005aff 176px,#0026ff 188px,#0008ff 218px,#0002ff 260px)"></i><i style="top:352px;height:7px;background:linear-gradient(90deg,#0003ff 0px,#0018ff 50px,#0042ff 66px,#0081ff 76px,#00d4ff 82px,#00fdff 84px,#00ff9c 88px,#00ff28 92px,#00ff05 94px,#7aff00 96px,#e2ff00 98px,#ffe100 100px,#ff1000 102px,#f00 104px,#f00 142px,#f20 144px,#ffeb00 146px,#daff00 148px,#49ff00 150px,#00ff06 152px,#00ff81 156px,#00ffec 162px,#00fffd 162px,#009cff 168px,#05f 176px,#02f 190px,#0006ff 224px,#0002ff 260px)"></i><i style="top:358px;height:7px;background:linear-gradient(90deg,#0002ff 0px,#0017ff 50px,#0040ff 66px,#007eff 76px,#00d0ff 82px,#00f8ff 84px,#00ffb8 88px,#00ff4f 92px,#00ff0b 94px,#1bff00 94px,#a4ff00 98px,#daff00 98px,#ffe900 100px,#ff1700 102px,#f00 104px,#f00 144px,#ffce00 146px,#f4ff00 148px,#5bff00 150px,#09ff00 152px,#0f7 156px,#00ffe6 162px,#00f3ff 164px,#009fff 168px,#0056ff 176px,#0024ff 190px,#0007ff 220px,#0002ff 260px)"></i><i style="top:364px;height:7px;background:linear-gradient(90deg,#0002ff 0px,#0017ff 50px,#003fff 66px,#007bff 76px,#00cbff 82px,#00fff7 84px,#00ff8e 90px,#00ff12 94px,#14ff00 94px,#9cff00 98px,#d2ff00 98px,#fff100 100px,#ff1f00 102px,#f00 104px,#f00 144px,#f20 144px,#fff000 148px,#d4ff00 148px,#41ff00 152px,#17ff00 152px,#00ff0e 154px,#00ff89 158px,#00fff3 162px,#00f9ff 164px,#00a2ff 168px,#0057ff 176px,#0024ff 190px,#0007ff 220px,#0002ff 260px)"></i><i style="top:370px;height:7px;background:linear-gradient(90deg,#0002ff 0px,#0018ff 52px,#0042ff 68px,#0083ff 76px,#00d9ff 82px,#00fffb 84px,#00ff93 90px,#00ff19 94px,#0dff00 94px,#94ff00 98px,#fff900 100px,#ff2700 102px,#f00 104px,#f00 144px,#ffd600 148px,#ebff00 148px,#51ff00 152px,#00ff02 154px,#00ff81 158px,#00ffef 162px,#00feff 164px,#00a5ff 168px,#005fff 176px,#0029ff 188px,#0009ff 214px,#0002ff 260px)"></i><i style="top:376px;height:7px;background:linear-gradient(90deg,#0002ff 0px,#0017ff 52px,#0041ff 68px,#0080ff 76px,#00d5ff 82px,#0ff 84px,#00ff98 90px,#06ff00 94px,#8cff00 98px,#fcff00 100px,#ff7c00 102px,#ff3000 102px,#f00 104px,#f00 144px,#ff2a00 146px,#fffc00 148px,#61ff00 152px,#0bff00 154px,#00ff3d 156px,#00ffc3 160px,#00fffc 164px,#009aff 170px,#0052ff 178px,#0020ff 192px,#0005ff 226px,#0002ff 260px)"></i><i style="top:382px;height:7px;background:linear-gradient(90deg,#0002ff 0px,#0017ff 52px,#003fff 68px,#007dff 76px,#00d0ff 82px,#00f9ff 84px,#00ffb6 88px,#00ff48 92px,#00ff02 94px,#83ff00 98px,#f3ff00 100px,#fc0 100px,#ff3a00 102px,#f00 104px,#f00 144px,#ff0900 146px,#ffe600 148px,#dbff00 150px,#41ff00 152px,#17ff00 154px,#00ff10 154px,#00ff8e 158px,#00fff8 164px,#0090ff 170px,#004dff 178px,#001eff 192px,#0005ff 230px,#0002ff 260px)"></i><i style="top:388px;height:7px;background:linear-gradient(90deg,#0002ff 0px,#0016ff 52px,#003eff 68px,#007bff 76px,#0cf 82px,#00fff6 86px,#00ff89 90px,#00ff09 94px,#4bff00 96px,#eaff00 100px,#ffd500 100px,#f00 104px,#f00 146px,#ff3c00 146px,#ffcf00 148px,#efff00 150px,#4fff00 152px,#00ff06 154px,#00ff87 158px,#00fff5 164px,#00e0ff 166px,#0086ff 172px,#0043ff 180px,#0018ff 196px,#0002ff 246px,#0002ff 260px)"></i><i style="top:394px;height:7px;background:linear-gradient(90deg,#0002ff 0px,#0017ff 52px,#0041ff 68px,#0082ff 78px,#00daff 84px,#00fffa 86px,#00ff8f 90px,#00ff10 94px,#18ff00 96px,#a7ff00 98px,#e1ff00 100px,#ffde00 100px,#f00 104px,#f00 146px,#ff2000 146px,#fffc00 150px,#5cff00 152px,#04ff00 154px,#00ff9c 160px,#00fff2 164px,#00f9ff 164px,#00a0ff 170px,#005bff 176px,#0027ff 188px,#0008ff 216px,#0002ff 260px)"></i><i style="top:400px;height:7px;background:linear-gradient(90deg,#0002ff 0px,#0017ff 52px,#0040ff 68px,#0080ff 78px,#00d6ff 84px,#00fffe 86px,#00ff94 90px,#00ff16 94px,#1f0 96px,#9fff00 98px,#d8ff00 100px,#ffe700 100px,#ff5700 102px,#ff0400 104px,#ff0300 146px,#ffa400 148px,#ffe900 150px,#d6ff00 150px,#39ff00 154px,#0eff00 154px,#00ff19 156px,#00ff97 160px,#00fdff 164px,#00a1ff 170px,#005bff 176px,#0027ff 188px,#0008ff 216px,#0002ff 260px)"></i><i style="top:406px;height:7px;background:linear-gradient(90deg,#0002ff 0px,#0016ff 52px,#003fff 68px,#007dff 78px,#00d1ff 84px,#00fcff 86px,#0f9 90px,#00ff1d 94px,#0aff00 96px,#97ff00 98px,#d0ff00 100px,#fff000 100px,#ff6000 102px,#ff0d00 104px,#f00 106px,#f00 146px,#ff3f00 148px,#ffd600 150px,#e6ff00 150px,#4f0 154px,#18ff00 154px,#0f1 156px,#00ff92 160px,#00fffe 164px,#00a3ff 170px,#005cff 176px,#0027ff 188px,#0008ff 216px,#0002ff 260px)"></i><i style="top:412px;height:7px;background:linear-gradient(90deg,#0002ff 0px,#0016ff 52px,#003eff 68px,#007bff 78px,#00ceff 84px,#00f7ff 86px,#00ffb6 90px,#00ff46 94px,#04ff00 96px,#8fff00 98px,#fff800 100px,#ff6900 102px,#ff1600 104px,#f00 104px,#f00 146px,#ff2700 148px,#ffc400 150px,#f7ff00 150px,#4fff00 154px,#00ff08 156px,#00ff8d 160px,#00fffb 164px,#0097ff 170px,#004fff 178px,#0020ff 192px,#0005ff 226px,#0002ff 260px)"></i><i style="top:418px;height:7px;background:linear-gradient(90deg,#0002ff 0px,#0016ff 52px,#003dff 68px,#0079ff 78px,#00caff 84px,#00fff7 86px,#00ff87 92px,#00ff02 96px,#89ff00 98px,#feff00 100px,#ff7000 102px,#ff1e00 104px,#f00 104px,#f00 146px,#ff0d00 148px,#ffb000 150px,#fff600 150px,#2cff00 154px,#01ff00 156px,#00ff87 160px,#00fff8 164px,#008dff 172px,#004aff 180px,#001cff 194px,#0004ff 232px,#0002ff 260px)"></i><i style="top:424px;height:7px;background:linear-gradient(90deg,#0002ff 0px,#0017ff 54px,#0040ff 70px,#0081ff 78px,#00daff 84px,#00fffa 86px,#00ff8c 92px,#00ff07 96px,#50ff00 98px,#f8ff00 100px,#ffc300 102px,#ff2500 104px,#f00 104px,#f00 148px,#ffe400 150px,#d9ff00 152px,#37ff00 154px,#0bff00 156px,#00ff41 158px,#00ffb5 162px,#00fff4 164px,#00e0ff 166px,#008fff 172px,#004bff 180px,#001dff 194px,#0004ff 232px,#0002ff 260px)"></i><i style="top:430px;height:7px;background:linear-gradient(90deg,#0002ff 0px,#0016ff 54px,#003fff 70px,#007fff 78px,#00d6ff 84px,#00fffd 86px,#00ff90 92px,#00ff0c 96px,#1dff00 96px,#b4ff00 100px,#f1ff00 100px,#ffc900 102px,#ff2c00 104px,#f00 104px,#f00 148px,#ff3100 148px,#ffd000 150px,#eaff00 152px,#43ff00 154px,#16ff00 156px,#00ff13 156px,#00ff96 160px,#00fff0 164px,#00fbff 166px,#009eff 170px,#0059ff 178px,#0025ff 190px,#0008ff 218px,#0002ff 260px)"></i><i style="top:436px;height:7px;background:linear-gradient(90deg,#0002ff 0px,#0016ff 54px,#003eff 70px,#007dff 78px,#00d3ff 84px,#00feff 86px,#00ff94 92px,#00ff12 96px,#17ff00 96px,#aeff00 100px,#ebff00 100px,#ffd000 102px,#f30 104px,#f00 104px,#f00 148px,#ff1600 148px,#fb0 150px,#fdff00 152px,#50ff00 154px,#00ff09 156px,#00ff90 160px,#00fffe 166px,#00a1ff 170px,#005aff 178px,#0026ff 190px,#0008ff 218px,#0002ff 260px)"></i><i style="top:442px;height:7px;background:linear-gradient(90deg,#0002ff 0px,#0016ff 54px,#003dff 70px,#007bff 78px,#00cfff 84px,#00faff 86px,#00ffb1 90px,#00ff3c 94px,#00ff17 96px,#12ff00 96px,#a7ff00 100px,#e4ff00 100px,#ffd700 102px,#ff3a00 104px,#f00 104px,#f00 148px,#fe0 152px,#ceff00 152px,#2dff00 156px,#01ff00 156px,#00ff89 160px,#00fffb 166px,#0096ff 172px,#0054ff 178px,#0021ff 192px,#0006ff 224px,#0002ff 260px)"></i><i style="top:448px;height:7px;background:linear-gradient(90deg,#0002ff 0px,#0015ff 54px,#003cff 70px,#0079ff 78px,#0cf 84px,#00f6ff 86px,#0fc 90px,#00ff62 94px,#00ff1c 96px,#0cff00 96px,#a0ff00 100px,#dcff00 100px,#ffdf00 102px,#ff4200 104px,#f00 104px,#f00 148px,#ff3d00 150px,#ffdc00 152px,#deff00 152px,#38ff00 156px,#0bff00 156px,#00ff43 158px,#00ffb8 162px,#00fff7 166px,#008cff 172px,#0049ff 180px,#001cff 194px,#0004ff 234px,#0002ff 260px)"></i><i style="top:454px;height:7px;background:linear-gradient(90deg,#0002ff 0px,#0016ff 54px,#0040ff 70px,#0081ff 80px,#00c8ff 84px,#00fff7 88px,#00ff85 92px,#06ff00 96px,#9f0 100px,#d5ff00 100px,#ffe600 102px,#f00 104px,#f00 148px,#ff2600 150px,#ffcb00 152px,#edff00 152px,#42ff00 156px,#14ff00 156px,#00ff16 158px,#00ff9a 162px,#00fff4 166px,#00dfff 168px,#008eff 172px,#004aff 180px,#001cff 194px,#0004ff 234px,#0002ff 260px)"></i><i style="top:460px;height:7px;background:linear-gradient(90deg,#0002ff 0px,#0016ff 54px,#003fff 70px,#007fff 80px,#00c5ff 84px,#00fffa 88px,#00ff89 92px,#01ff00 96px,#93ff00 100px,#ceff00 100px,#fe0 102px,#f00 104px,#f00 148px,#ff1200 150px,#fb0 152px,#fbff00 152px,#4bff00 156px,#1cff00 156px,#00ff0f 158px,#00ff95 162px,#00fff1 166px,#00f9ff 166px,#009dff 172px,#0057ff 178px,#0024ff 190px,#0007ff 220px,#0002ff 260px)"></i><i style="top:466px;height:7px;background:linear-gradient(90deg,#0002ff 0px,#0016ff 54px,#003eff 70px,#007dff 80px,#00d5ff 86px,#00fffd 88px,#00ff8d 92px,#00ff04 96px,#57ff00 98px,#fff500 102px,#ff5b00 104px,#f00 104px,#f00 150px,#ffae00 152px,#fff700 152px,#53ff00 156px,#00ff08 158px,#00ff91 162px,#0fe 166px,#00fcff 166px,#009eff 172px,#0058ff 178px,#0025ff 190px,#0007ff 220px,#0002ff 260px)"></i><i style="top:472px;height:7px;background:linear-gradient(90deg,#0002ff 0px,#0015ff 54px,#003dff 70px,#007bff 80px,#00d2ff 86px,#00feff 88px,#00ff90 92px,#00ff09 96px,#52ff00 98px,#fffb00 102px,#ff6100 104px,#ff0700 104px,#f00 146px,#f00 150px,#ffed00 152px,#cdff00 154px,#29ff00 156px,#00ff03 158px,#00ff8e 162px,#0ff 166px,#009fff 172px,#0058ff 178px,#0025ff 190px,#0008ff 218px,#0002ff 260px)"></i><i style="top:478px;height:7px;background:linear-gradient(90deg,#0002ff 0px,#0015ff 54px,#003cff 70px,#007aff 80px,#00d0ff 86px,#00fcff 88px,#00ffad 92px,#0f3 96px,#00ff0c 96px,#1fff00 98px,#bdff00 100px,#feff00 102px,#ff6700 104px,#ff0d00 104px,#f00 106px,#f00 150px,#ff4500 150px,#ffe600 152px,#d4ff00 154px,#2dff00 156px,#01ff00 158px,#00ff8c 162px,#00fffe 166px,#00a0ff 172px,#0059ff 178px,#0025ff 190px,#0008ff 218px,#0001ff 260px)"></i><i style="top:484px;height:7px;background:linear-gradient(90deg,#0002ff 0px,#0015ff 54px,#003cff 70px,#0079ff 80px,#00cfff 86px,#00faff 88px,#00ffaf 92px,#00ff35 96px,#00ff0f 96px,#1cff00 98px,#baff00 100px,#fbff00 102px,#ff6a00 104px,#f10 104px,#f00 106px,#f00 150px,#ff3e00 150px,#ffe100 152px,#d8ff00 154px,#30ff00 156px,#03ff00 158px,#00ff8a 162px,#00fffd 166px,#00a1ff 172px,#0059ff 178px,#0025ff 190px,#0008ff 218px,#0001ff 260px)"></i><i style="top:490px;height:7px;background:linear-gradient(90deg,#0002ff 0px,#0015ff 54px,#003cff 70px,#0079ff 80px,#00ceff 86px,#00f9ff 88px,#00ffb0 92px,#00ff36 96px,#00ff10 96px,#1bff00 98px,#b9ff00 100px,#faff00 102px,#ff6c00 104px,#ff1200 104px,#f00 106px,#f00 150px,#ff3c00 150px,#ffdf00 152px,#daff00 154px,#32ff00 156px,#04ff00 158px,#00ff89 162px,#00fffc 166px,#00a1ff 172px,#0059ff 178px,#0025ff 190px,#0008ff 218px,#0001ff 260px)"></i><i style="top:496px;height:5px;background:linear-gradient(90deg,#0002ff 0px,#0015ff 54px,#003cff 70px,#0079ff 80px,#00ceff 86px,#00f9ff 88px,#00ffb0 92px,#00ff36 96px,#00ff10 96px,#1bff00 98px,#b9ff00 100px,#f9ff00 102px,#ff6c00 104px,#ff1300 104px,#f00 106px,#f00 150px,#ff3b00 150px,#ffde00 152px,#daff00 154px,#32ff00 156px,#04ff00 158px,#00ff89 162px,#00fffc 166px,#00a1ff 172px,#0059ff 178px,#0025ff 190px,#0008ff 218px,#0001ff 260px)"></i></div></div>
<div class="hm" style="left:953.5px;top:88px;width:250.0px;height:491px"><div class="hb" style="left:-5px;top:-5px;width:260px;height:501px;filter:blur(1.0px)"><i style="top:0px;height:5px;background:linear-gradient(90deg,#0003ff 0px,#001bff 46px,#0065ff 84px,#0047ff 104px,#0012ff 134px,#0001ff 212px,#00f 260px)"></i><i style="top:4px;height:5px;background:linear-gradient(90deg,#0003ff 0px,#001cff 46px,#006eff 84px,#0058ff 100px,#0017ff 132px,#0002ff 190px,#00f 260px)"></i><i style="top:8px;height:5px;background:linear-gradient(90deg,#0004ff 0px,#001dff 44px,#0063ff 70px,#007fff 86px,#005fff 102px,#001cff 130px,#0003ff 178px,#00f 260px)"></i><i style="top:12px;height:5px;background:linear-gradient(90deg,#0004ff 0px,#001fff 42px,#005dff 64px,#0093ff 82px,#0083ff 96px,#0028ff 126px,#0008ff 162px,#00f 260px)"></i><i style="top:16px;height:5px;background:linear-gradient(90deg,#0005ff 0px,#0020ff 40px,#005cff 60px,#00a9ff 80px,#00a5ff 92px,#002fff 126px,#000bff 158px,#00f 260px)"></i><i style="top:20px;height:5px;background:linear-gradient(90deg,#0006ff 0px,#02f 38px,#005dff 58px,#00c4ff 80px,#00c2ff 92px,#0039ff 126px,#0010ff 152px,#00f 260px)"></i><i style="top:24px;height:5px;background:linear-gradient(90deg,#0007ff 0px,#0025ff 36px,#0061ff 56px,#00deff 80px,#00e2ff 90px,#00a1ff 104px,#04f 124px,#0016ff 148px,#0002ff 216px,#0001ff 260px)"></i><i style="top:28px;height:5px;background:linear-gradient(90deg,#0008ff 0px,#0025ff 34px,#005eff 52px,#00fbff 80px,#00f8ff 92px,#0051ff 124px,#001eff 144px,#0004ff 192px,#0001ff 260px)"></i><i style="top:32px;height:5px;background:linear-gradient(90deg,#0009ff 0px,#0028ff 34px,#0065ff 52px,#00fffe 74px,#00ffe4 86px,#00fdff 98px,#0065ff 122px,#0028ff 140px,#0008ff 176px,#0001ff 260px)"></i><i style="top:36px;height:5px;background:linear-gradient(90deg,#0009ff 0px,#002aff 32px,#0065ff 50px,#00d4ff 66px,#00fffa 72px,#00ffd0 82px,#00ffdc 94px,#00fdff 102px,#0076ff 120px,#0034ff 138px,#000eff 166px,#0001ff 260px)"></i><i style="top:40px;height:5px;background:linear-gradient(90deg,#000aff 0px,#002cff 32px,#0069ff 48px,#00cfff 62px,#00fffa 68px,#00ffbe 80px,#00ffbc 90px,#0ff 104px,#007dff 122px,#0037ff 138px,#0010ff 166px,#0001ff 260px)"></i><i style="top:44px;height:5px;background:linear-gradient(90deg,#000bff 0px,#002eff 30px,#0068ff 46px,#00c5ff 60px,#00fffe 66px,#00ffab 80px,#00ffa1 88px,#00ffd2 100px,#00feff 108px,#0084ff 122px,#003dff 138px,#0013ff 164px,#0001ff 256px,#0001ff 260px)"></i><i style="top:48px;height:5px;background:linear-gradient(90deg,#000cff 0px,#002fff 30px,#006bff 46px,#00cdff 58px,#00fffe 64px,#00ff98 78px,#0f8 88px,#00ffb0 98px,#00f9ff 110px,#0085ff 124px,#003dff 140px,#0013ff 166px,#0001ff 256px,#0001ff 260px)"></i><i style="top:52px;height:5px;background:linear-gradient(90deg,#000dff 0px,#03f 30px,#0074ff 46px,#00d3ff 58px,#00feff 62px,#00ff87 78px,#00ff6f 86px,#00ff8d 96px,#00fcff 112px,#008bff 126px,#0043ff 140px,#0016ff 164px,#0002ff 236px,#0001ff 260px)"></i><i style="top:56px;height:5px;background:linear-gradient(90deg,#000eff 0px,#0034ff 28px,#0070ff 44px,#00ceff 56px,#00fffa 60px,#00ff70 78px,#0f5 86px,#00ff6f 96px,#00fcff 114px,#008fff 126px,#0045ff 142px,#0017ff 166px,#0002ff 236px,#0001ff 260px)"></i><i style="top:60px;height:5px;background:linear-gradient(90deg,#000fff 0px,#0034ff 28px,#0071ff 42px,#00d2ff 54px,#0ff 58px,#00ff59 78px,#00ff3a 86px,#00ff50 94px,#00ffbe 108px,#00f7ff 116px,#008aff 128px,#0041ff 144px,#0016ff 168px,#0002ff 242px,#0001ff 260px)"></i><i style="top:64px;height:5px;background:linear-gradient(90deg,#0010ff 0px,#0037ff 28px,#07f 42px,#00d4ff 54px,#00fffc 58px,#00ff40 78px,#00ff1e 86px,#00ff2f 94px,#00ff86 104px,#00faff 118px,#0090ff 128px,#0046ff 142px,#0018ff 166px,#0002ff 232px,#0001ff 260px)"></i><i style="top:68px;height:5px;background:linear-gradient(90deg,#0010ff 0px,#0036ff 26px,#0076ff 42px,#00d4ff 52px,#00fffb 56px,#00ff26 78px,#01ff00 86px,#00ff0c 92px,#00ff5c 102px,#00faff 118px,#0094ff 128px,#004aff 142px,#001bff 162px,#0003ff 218px,#0001ff 260px)"></i><i style="top:72px;height:5px;background:linear-gradient(90deg,#01f 0px,#0038ff 26px,#0075ff 40px,#00d4ff 52px,#00fffa 56px,#00ff01 78px,#23ff00 86px,#10ff00 94px,#00ff06 96px,#00fffa 118px,#08f 130px,#04f 144px,#0017ff 166px,#0002ff 232px,#0001ff 260px)"></i><i style="top:76px;height:5px;background:linear-gradient(90deg,#01f 0px,#003aff 26px,#007aff 40px,#00d2ff 50px,#00fffa 54px,#00ff01 76px,#40ff00 84px,#4f0 90px,#13ff00 98px,#00ff0f 100px,#00fffa 120px,#008dff 130px,#0045ff 144px,#0018ff 164px,#0002ff 226px,#0001ff 260px)"></i><i style="top:80px;height:5px;background:linear-gradient(90deg,#0012ff 0px,#0039ff 26px,#07f 40px,#00d0ff 50px,#00fffc 54px,#00ff4f 68px,#03ff00 74px,#58ff00 82px,#71ff00 88px,#5cff00 94px,#06ff00 102px,#00ffed 120px,#00f9ff 122px,#0094ff 130px,#004bff 142px,#001bff 162px,#0003ff 216px,#0001ff 260px)"></i><i style="top:84px;height:5px;background:linear-gradient(90deg,#0012ff 0px,#003aff 26px,#007bff 40px,#00d8ff 50px,#00fffe 52px,#00ff68 64px,#0f0 72px,#73ff00 80px,#98ff00 86px,#8cff00 92px,#4f0 100px,#00ff06 104px,#00ffd4 118px,#00faff 122px,#0093ff 132px,#004aff 144px,#001aff 164px,#0003ff 218px,#0001ff 260px)"></i><i style="top:88px;height:5px;background:linear-gradient(90deg,#0012ff 0px,#003bff 26px,#007eff 40px,#00d2ff 48px,#00fff8 52px,#00ff68 64px,#07ff00 70px,#8bff00 80px,#bcff00 86px,#bfff00 90px,#90ff00 96px,#06ff00 106px,#00ffd4 120px,#00f9ff 124px,#09f 132px,#0051ff 142px,#001fff 160px,#0005ff 206px,#0001ff 260px)"></i><i style="top:92px;height:5px;background:linear-gradient(90deg,#0012ff 0px,#003cff 26px,#0079ff 38px,#00cbff 48px,#00fffe 52px,#00ff6b 62px,#00ff07 68px,#b8ff00 80px,#e7ff00 86px,#e2ff00 92px,#a6ff00 98px,#00ff06 108px,#00ffbc 118px,#00fffc 124px,#0095ff 132px,#004eff 144px,#001eff 162px,#0004ff 208px,#0001ff 260px)"></i><i style="top:96px;height:5px;background:linear-gradient(90deg,#0012ff 0px,#0039ff 24px,#0073ff 38px,#00c3ff 46px,#00fff9 52px,#00ff70 62px,#00ff07 68px,#cf0 80px,#fffd00 84px,#ffef00 90px,#f7ff00 94px,#a5ff00 100px,#00ff07 108px,#00ffb5 118px,#00faff 124px,#0098ff 132px,#004fff 144px,#001eff 162px,#0004ff 208px,#0001ff 260px)"></i><i style="top:100px;height:5px;background:linear-gradient(90deg,#0012ff 0px,#0038ff 24px,#0074ff 38px,#00c7ff 46px,#00feff 50px,#00ff86 60px,#00ff09 66px,#32ff00 70px,#ecff00 80px,#fff700 82px,#ffce00 86px,#ffd600 92px,#feff00 96px,#6dff00 104px,#04ff00 108px,#00ffbf 120px,#00fdff 124px,#0098ff 132px,#004eff 144px,#001eff 162px,#0004ff 208px,#0001ff 260px)"></i><i style="top:104px;height:5px;background:linear-gradient(90deg,#01f 0px,#0038ff 24px,#0075ff 38px,#00cbff 46px,#00fffb 50px,#00ff7c 60px,#00ff0c 66px,#1dff00 68px,#fdff00 78px,#ffb500 84px,#ffab00 90px,#ffd800 94px,#f5ff00 98px,#0bff00 108px,#00ff1f 110px,#00ffbf 120px,#00fcff 124px,#0096ff 132px,#004dff 144px,#001dff 162px,#0004ff 208px,#0001ff 260px)"></i><i style="top:108px;height:5px;background:linear-gradient(90deg,#01f 0px,#0038ff 24px,#0076ff 38px,#00cfff 46px,#00faff 50px,#00ff93 58px,#07ff00 66px,#faff00 76px,#ffa300 82px,#ff8700 88px,#ff9b00 92px,#ffe300 96px,#f3ff00 98px,#0fff00 108px,#00ff07 110px,#00ffb1 118px,#00f9ff 124px,#0094ff 132px,#004cff 144px,#001cff 162px,#0004ff 210px,#0001ff 260px)"></i><i style="top:112px;height:5px;background:linear-gradient(90deg,#01f 0px,#0038ff 24px,#07f 38px,#00c6ff 46px,#00fffd 50px,#00ff76 58px,#04ff00 64px,#f1ff00 74px,#ffe100 76px,#ff8a00 82px,#ff6800 86px,#ff6e00 90px,#ffac00 94px,#fffd00 98px,#00ff06 110px,#00ffa3 118px,#00fff9 124px,#0092ff 132px,#004aff 144px,#001cff 162px,#0004ff 210px,#0001ff 260px)"></i><i style="top:116px;height:5px;background:linear-gradient(90deg,#0010ff 0px,#0037ff 24px,#0071ff 36px,#00bdff 44px,#00fff8 50px,#00ff7d 58px,#0f0 64px,#fcff00 74px,#ff8000 80px,#ff4d00 84px,#f40 88px,#f60 92px,#ffc200 96px,#f5ff00 100px,#00ff05 110px,#00ffa4 118px,#00fffb 124px,#0090ff 132px,#004aff 144px,#001aff 162px,#0003ff 216px,#0001ff 260px)"></i><i style="top:120px;height:5px;background:linear-gradient(90deg,#0010ff 0px,#0037ff 24px,#0072ff 36px,#00c1ff 44px,#00fdff 48px,#00ff84 56px,#00ff04 62px,#cfff00 70px,#fff800 72px,#ff6800 78px,#ff2c00 82px,#ff1d00 86px,#ff3c00 90px,#ff9800 96px,#fffd00 100px,#00ff02 110px,#00ffa3 118px,#00fffb 124px,#0090ff 132px,#004aff 144px,#001aff 162px,#0003ff 216px,#0001ff 260px)"></i><i style="top:124px;height:5px;background:linear-gradient(90deg,#0010ff 0px,#03f 24px,#006bff 36px,#00b7ff 44px,#00fffc 48px,#00ff79 56px,#00ff0a 62px,#29ff00 64px,#f2ff00 70px,#ffd100 72px,#ff3800 78px,#ff0700 82px,#ff0200 88px,#ff3f00 92px,#ffd200 98px,#f4ff00 100px,#03ff00 110px,#00ffa1 118px,#00fff9 124px,#0092ff 132px,#004aff 144px,#001bff 162px,#0003ff 214px,#0001ff 260px)"></i><i style="top:128px;height:5px;background:linear-gradient(90deg,#000fff 0px,#03f 24px,#006bff 36px,#00baff 44px,#00fff7 48px,#00ff82 56px,#00ff10 60px,#0aff00 62px,#faff00 70px,#ff3000 76px,#ff0200 78px,#f00 90px,#ff1e00 92px,#ffdb00 100px,#fff900 100px,#0bff00 110px,#00ff25 112px,#00ffad 118px,#00faff 124px,#009eff 132px,#05f 142px,#02f 158px,#0006ff 200px,#0001ff 260px)"></i><i style="top:132px;height:5px;background:linear-gradient(90deg,#000eff 0px,#0032ff 24px,#006bff 36px,#00bcff 44px,#00fdff 48px,#00ff8b 54px,#05ff00 60px,#fffb00 68px,#ff1000 76px,#f00 76px,#f00 92px,#ff8900 98px,#f8ff00 102px,#13ff00 110px,#00ff06 110px,#00ff98 118px,#0ff 124px,#00a1ff 132px,#0057ff 142px,#0024ff 158px,#0007ff 196px,#0001ff 260px)"></i><i style="top:136px;height:5px;background:linear-gradient(90deg,#000eff 0px,#0031ff 24px,#006bff 36px,#00bfff 44px,#00fffc 48px,#00ff80 54px,#00ff03 60px,#9cff00 64px,#e4ff00 66px,#fff400 68px,#ff1300 74px,#f00 74px,#f00 94px,#ff3200 96px,#fff600 102px,#8bff00 106px,#02ff00 110px,#00ffa4 118px,#00fffb 124px,#0091ff 134px,#004bff 144px,#001cff 164px,#0004ff 216px,#0001ff 260px)"></i><i style="top:140px;height:5px;background:linear-gradient(90deg,#000dff 0px,#0030ff 24px,#006aff 36px,#00b2ff 42px,#00fff9 48px,#00ff8d 54px,#00ff0e 58px,#0fff00 60px,#e2ff00 66px,#fff500 66px,#f00 72px,#f00 94px,#ff8100 98px,#ffe800 102px,#f5ff00 102px,#23ff00 110px,#09ff00 110px,#00ff54 114px,#00ffcf 122px,#00f8ff 126px,#009dff 132px,#0056ff 142px,#0023ff 160px,#0006ff 200px,#0001ff 260px)"></i><i style="top:144px;height:5px;background:linear-gradient(90deg,#000dff 0px,#002eff 24px,#0069ff 36px,#00b2ff 42px,#00fff8 48px,#00ff87 54px,#00ff02 58px,#adff00 64px,#feff00 66px,#f00 72px,#ff0600 96px,#ff0 102px,#28ff00 110px,#00ff0b 112px,#00ff9d 118px,#00fbff 126px,#00a0ff 132px,#0057ff 142px,#0023ff 160px,#0007ff 200px,#0001ff 260px)"></i><i style="top:148px;height:5px;background:linear-gradient(90deg,#000cff 0px,#002dff 24px,#06f 36px,#00afff 42px,#00fff8 48px,#00ff85 54px,#05ff00 58px,#bdff00 64px,#e7ff00 64px,#ffec00 66px,#ff0500 70px,#f00 96px,#fff900 102px,#1f0 110px,#00ff08 112px,#00ff9a 118px,#00fdff 126px,#00a1ff 132px,#0058ff 142px,#0024ff 160px,#0007ff 200px,#0001ff 260px)"></i><i style="top:152px;height:5px;background:linear-gradient(90deg,#000bff 0px,#002eff 24px,#0063ff 36px,#00acff 42px,#00fffb 48px,#00ff86 54px,#06ff00 58px,#c2ff00 64px,#edff00 64px,#ffe400 66px,#ff2600 70px,#f00 70px,#f00 96px,#ff3e00 98px,#fff600 102px,#84ff00 106px,#13ff00 110px,#00ff07 112px,#00ff9a 118px,#00feff 126px,#00a2ff 132px,#0059ff 142px,#0024ff 160px,#0007ff 198px,#0001ff 260px)"></i><i style="top:156px;height:5px;background:linear-gradient(90deg,#000bff 0px,#002cff 24px,#0060ff 36px,#00a6ff 42px,#00fdff 48px,#00ff8c 54px,#01ff00 58px,#beff00 64px,#eaff00 64px,#ffe700 66px,#ff2500 70px,#f00 70px,#f00 96px,#ff3f00 98px,#fff700 102px,#2cff00 110px,#00ff08 112px,#00ff9a 118px,#00fdff 126px,#00a1ff 132px,#0059ff 142px,#0024ff 160px,#0007ff 198px,#0001ff 260px)"></i><i style="top:160px;height:7px;background:linear-gradient(90deg,#000aff 0px,#002aff 24px,#005bff 36px,#009fff 42px,#00fff8 48px,#00ff7d 54px,#00ff0b 58px,#3aff00 60px,#df0 64px,#fff400 66px,#ff0100 70px,#f00 96px,#fffd00 102px,#28ff00 110px,#00ff0c 112px,#00ff9d 118px,#00faff 126px,#00a0ff 132px,#0058ff 142px,#0024ff 160px,#0007ff 200px,#0001ff 260px)"></i><i style="top:166px;height:7px;background:linear-gradient(90deg,#000aff 0px,#002aff 26px,#005dff 36px,#00a3ff 44px,#00faff 48px,#00ffa3 54px,#04ff00 60px,#c6ff00 64px,#f3ff00 66px,#ffae00 68px,#ff1b00 70px,#f00 72px,#f00 94px,#ff0d00 96px,#ffe800 102px,#f4ff00 102px,#1eff00 110px,#05ff00 110px,#00ffa3 118px,#00fffb 124px,#0092ff 134px,#004cff 144px,#001dff 164px,#0004ff 214px,#0001ff 260px)"></i><i style="top:172px;height:7px;background:linear-gradient(90deg,#0009ff 0px,#0027ff 26px,#005eff 38px,#00a6ff 44px,#00fffd 50px,#00ff82 56px,#00ff0f 60px,#13ff00 60px,#fff700 66px,#ff0900 72px,#f00 76px,#f00 94px,#fff700 102px,#14ff00 110px,#00ff05 110px,#0f9 118px,#00feff 124px,#00a1ff 132px,#0058ff 142px,#0023ff 158px,#0007ff 198px,#0001ff 260px)"></i><i style="top:178px;height:7px;background:linear-gradient(90deg,#0009ff 0px,#0027ff 26px,#0059ff 38px,#009dff 44px,#00fff7 50px,#0f7 56px,#01ff00 60px,#c3ff00 66px,#efff00 66px,#ffe100 68px,#ff2300 72px,#f00 72px,#f00 94px,#ff1000 94px,#faff00 102px,#25ff00 108px,#0bff00 110px,#00ff25 112px,#00ffb0 118px,#00f8ff 124px,#009eff 132px,#0056ff 142px,#0023ff 158px,#0006ff 200px,#0001ff 260px)"></i><i style="top:184px;height:7px;background:linear-gradient(90deg,#0008ff 0px,#0026ff 26px,#005bff 38px,#00a3ff 46px,#0ff 50px,#00ff83 56px,#00ff0e 60px,#15ff00 62px,#deff00 66px,#fff300 68px,#ff0800 72px,#f00 82px,#f00 94px,#ff5e00 96px,#ffe800 100px,#f4ff00 102px,#21ff00 108px,#07ff00 110px,#00ffb2 118px,#00fffa 124px,#0092ff 132px,#004cff 144px,#001cff 162px,#0004ff 214px,#0001ff 260px)"></i><i style="top:190px;height:7px;background:linear-gradient(90deg,#0008ff 0px,#0024ff 26px,#0058ff 38px,#009dff 46px,#00f6ff 50px,#00ffcf 54px,#0f5 58px,#0aff00 62px,#d2ff00 66px,#ff0 68px,#ff1200 72px,#f00 74px,#f00 94px,#ff3a00 96px,#ffe800 100px,#f5ff00 102px,#21ff00 108px,#07ff00 110px,#00ffa2 118px,#00fffb 124px,#0091ff 132px,#004bff 144px,#001cff 162px,#0004ff 214px,#0001ff 260px)"></i><i style="top:196px;height:7px;background:linear-gradient(90deg,#0008ff 0px,#0025ff 28px,#05f 38px,#0098ff 46px,#00fffa 52px,#00ff92 56px,#02ff00 62px,#caff00 66px,#f7ff00 68px,#ff4700 72px,#ff1700 72px,#f00 74px,#f00 94px,#ff0f00 94px,#f9ff00 102px,#2f0 108px,#08ff00 110px,#00ff91 116px,#00fffc 124px,#09f 132px,#0053ff 142px,#0021ff 158px,#0006ff 200px,#0001ff 260px)"></i><i style="top:202px;height:7px;background:linear-gradient(90deg,#0007ff 0px,#0024ff 28px,#0059ff 40px,#00a2ff 46px,#0ff 52px,#0f9 56px,#00ff06 62px,#6cff00 64px,#f0ff00 68px,#ffde00 68px,#ff1900 72px,#f00 74px,#ff0200 94px,#fffe00 102px,#24ff00 108px,#09ff00 110px,#00ff56 114px,#00ffd5 120px,#00fffe 124px,#0097ff 132px,#0051ff 142px,#0020ff 158px,#0005ff 202px,#0001ff 260px)"></i><i style="top:208px;height:7px;background:linear-gradient(90deg,#0007ff 0px,#0023ff 28px,#0057ff 40px,#009eff 46px,#00f9ff 52px,#00ffb6 56px,#00ff2d 60px,#00ff0c 62px,#18ff00 62px,#ebff00 68px,#ffe300 68px,#ff1a00 72px,#f00 74px,#f00 94px,#ff1600 96px,#fff700 102px,#42ff00 108px,#0aff00 110px,#00ff41 112px,#00ffc8 120px,#00fcff 124px,#009dff 130px,#0053ff 140px,#0020ff 158px,#0005ff 200px,#0001ff 260px)"></i><i style="top:214px;height:7px;background:linear-gradient(90deg,#0007ff 0px,#0023ff 28px,#05f 40px,#009aff 46px,#00f3ff 52px,#00ffe4 54px,#00ff6f 58px,#00ff12 62px,#12ff00 62px,#e6ff00 68px,#ffe700 68px,#ff1900 72px,#f00 74px,#ff0400 96px,#fe0 102px,#ebff00 102px,#26ff00 108px,#0aff00 110px,#00ff43 112px,#0fc 120px,#00f6ff 124px,#0098ff 130px,#0050ff 140px,#001fff 158px,#0005ff 200px,#0001ff 260px)"></i><i style="top:220px;height:7px;background:linear-gradient(90deg,#0007ff 0px,#02f 28px,#0053ff 40px,#0097ff 46px,#00fffa 52px,#00ff8e 58px,#00ff17 62px,#0dff00 62px,#b4ff00 66px,#e3ff00 68px,#ffe900 68px,#ff1600 72px,#f00 74px,#f00 96px,#ff1900 96px,#ffe500 102px,#f2ff00 102px,#26ff00 108px,#09ff00 110px,#00ff5d 114px,#00ffe0 120px,#00fffd 122px,#009dff 130px,#0057ff 138px,#0024ff 154px,#0007ff 190px,#0001ff 260px)"></i><i style="top:226px;height:7px;background:linear-gradient(90deg,#0007ff 0px,#0024ff 28px,#0052ff 40px,#0094ff 46px,#00fffd 52px,#00ff92 58px,#00ff1a 62px,#09ff00 62px,#b1ff00 66px,#e1ff00 68px,#ffea00 68px,#f10 72px,#f00 74px,#ff0600 96px,#ffdc00 102px,#f9ff00 102px,#26ff00 108px,#08ff00 110px,#00ffa0 116px,#00fbff 122px,#00a2ff 128px,#0058ff 138px,#0024ff 152px,#0007ff 188px,#0001ff 260px)"></i><i style="top:232px;height:7px;background:linear-gradient(90deg,#0007ff 0px,#0023ff 28px,#0057ff 40px,#00a0ff 48px,#00feff 52px,#00ff95 58px,#07ff00 62px,#b0ff00 66px,#e1ff00 68px,#ffea00 68px,#ff0b00 72px,#f00 74px,#f00 96px,#ff4e00 98px,#fffe00 102px,#25ff00 108px,#07ff00 110px,#00ffa5 116px,#00fff9 122px,#0091ff 130px,#004aff 140px,#001bff 156px,#0004ff 204px,#0001ff 260px)"></i><i style="top:238px;height:7px;background:linear-gradient(90deg,#0007ff 0px,#0023ff 28px,#0056ff 40px,#009eff 48px,#00fbff 52px,#00ff97 58px,#05ff00 62px,#b1ff00 66px,#e2ff00 68px,#ffe700 68px,#ff0200 72px,#f00 96px,#ff0f00 98px,#fff600 102px,#46ff00 108px,#05ff00 110px,#00ffa9 116px,#00fffe 122px,#0097ff 128px,#0051ff 138px,#0020ff 152px,#0005ff 190px,#0001ff 260px)"></i><i style="top:244px;height:7px;background:linear-gradient(90deg,#0006ff 0px,#02f 28px,#05f 40px,#009cff 48px,#00f9ff 52px,#00ffb2 56px,#00ff1f 62px,#05ff00 62px,#b3ff00 66px,#e6ff00 68px,#ffe200 68px,#f00 72px,#f00 98px,#ffef00 102px,#e3ff00 104px,#26ff00 108px,#06ff00 110px,#00ff97 116px,#00fcff 122px,#009fff 128px,#0053ff 136px,#0021ff 152px,#0006ff 188px,#0001ff 260px)"></i><i style="top:250px;height:7px;background:linear-gradient(90deg,#0006ff 0px,#0021ff 28px,#0054ff 40px,#009aff 48px,#00f7ff 52px,#00ffb2 56px,#00ff41 60px,#06ff00 62px,#b8ff00 66px,#ecff00 68px,#ffdb00 68px,#ff2700 72px,#f00 72px,#f00 98px,#ff1f00 98px,#ffe500 102px,#ebff00 104px,#28ff00 108px,#07ff00 110px,#00ffac 116px,#00faff 122px,#009dff 128px,#0052ff 136px,#0020ff 152px,#0005ff 188px,#0001ff 260px)"></i><i style="top:256px;height:7px;background:linear-gradient(90deg,#0006ff 0px,#0021ff 28px,#0053ff 40px,#09f 48px,#00f6ff 52px,#00ffcb 56px,#00ff41 60px,#08ff00 62px,#bdff00 66px,#f3ff00 68px,#ffd200 68px,#ff1800 72px,#f00 72px,#f00 98px,#ff0b00 98px,#ffd900 102px,#f6ff00 104px,#2eff00 108px,#0cff00 110px,#00ff31 112px,#00ffab 116px,#00faff 122px,#009cff 128px,#0057ff 136px,#0023ff 150px,#0007ff 182px,#0001ff 260px)"></i><i style="top:262px;height:7px;background:linear-gradient(90deg,#0006ff 0px,#0020ff 28px,#0051ff 40px,#0096ff 48px,#00f3ff 52px,#00ffe2 54px,#00ff61 60px,#09ff00 62px,#c4ff00 66px,#fbff00 68px,#ff4a00 70px,#ff0600 72px,#f00 98px,#ff6100 100px,#fff900 104px,#35ff00 108px,#13ff00 110px,#00ff0e 110px,#00ff93 116px,#00fcff 122px,#009cff 128px,#0057ff 136px,#0023ff 150px,#0007ff 182px,#0001ff 260px)"></i><i style="top:268px;height:7px;background:linear-gradient(90deg,#0006ff 0px,#0021ff 30px,#004fff 40px,#0093ff 48px,#00fff8 54px,#00ff81 58px,#00ff1d 62px,#0aff00 62px,#95ff00 66px,#fffb00 68px,#f00 72px,#f00 98px,#f10 100px,#ffe800 104px,#e6ff00 104px,#40ff00 108px,#00ff06 110px,#00ff8e 116px,#0ff 122px,#009eff 128px,#0057ff 136px,#0023ff 150px,#0007ff 182px,#0001ff 260px)"></i><i style="top:274px;height:7px;background:linear-gradient(90deg,#0006ff 0px,#0020ff 30px,#004dff 40px,#0090ff 48px,#00fffb 54px,#00ff83 58px,#00ff1d 62px,#0bff00 62px,#98ff00 66px,#fff300 68px,#ff2a00 70px,#f00 72px,#f00 100px,#ffd400 104px,#f8ff00 104px,#4bff00 108px,#04ff00 110px,#00ff9f 116px,#00fffc 122px,#0094ff 128px,#004dff 138px,#001eff 152px,#0004ff 192px,#0001ff 260px)"></i><i style="top:280px;height:7px;background:linear-gradient(90deg,#0005ff 0px,#001fff 30px,#0051ff 42px,#009aff 48px,#00fffe 54px,#00ff86 58px,#00ff1f 62px,#0aff00 62px,#9bff00 66px,#d4ff00 66px,#ffed00 68px,#ff1b00 70px,#f00 72px,#f00 100px,#ff1200 100px,#fff200 104px,#acff00 106px,#0fff00 110px,#00ff12 112px,#00ff9a 116px,#00fff8 122px,#008bff 130px,#0049ff 138px,#001bff 154px,#0003ff 200px,#0001ff 260px)"></i><i style="top:286px;height:7px;background:linear-gradient(90deg,#0005ff 0px,#001eff 30px,#004eff 42px,#0096ff 48px,#00e1ff 52px,#00faff 54px,#00ffa7 58px,#07ff00 62px,#9cff00 66px,#d7ff00 66px,#ffe800 68px,#ff0c00 70px,#f00 72px,#f00 100px,#fd0 104px,#ef0 106px,#3fff00 110px,#00ff08 112px,#00ff93 116px,#00fff4 122px,#00e5ff 124px,#008eff 130px,#004aff 138px,#001bff 154px,#0003ff 200px,#0001ff 260px)"></i><i style="top:292px;height:7px;background:linear-gradient(90deg,#0005ff 0px,#001fff 30px,#004bff 42px,#0091ff 48px,#00daff 52px,#00fff4 54px,#00ff8f 58px,#04ff00 62px,#9cff00 66px,#d8ff00 66px,#ffe400 68px,#f00 70px,#f00 100px,#ff1500 102px,#fffd00 106px,#4cff00 110px,#03ff00 112px,#00ff8c 116px,#0ff 122px,#009cff 128px,#0056ff 136px,#0023ff 150px,#0007ff 184px,#0001ff 260px)"></i><i style="top:298px;height:7px;background:linear-gradient(90deg,#0005ff 0px,#001dff 30px,#0048ff 42px,#008cff 48px,#00d4ff 52px,#00fff9 54px,#00ff95 58px,#00ff2b 62px,#0f0 62px,#9aff00 66px,#d8ff00 66px,#ffe200 68px,#f00 70px,#f00 102px,#ffe900 106px,#e1ff00 106px,#32ff00 110px,#0eff00 112px,#00ff34 114px,#00ffb3 118px,#00fffb 122px,#0093ff 130px,#004cff 138px,#001eff 154px,#0004ff 194px,#0001ff 260px)"></i><i style="top:304px;height:7px;background:linear-gradient(90deg,#0004ff 0px,#001cff 30px,#004bff 42px,#0086ff 48px,#00cdff 52px,#0ff 54px,#00ff9a 58px,#00ff30 62px,#00ff05 62px,#5eff00 64px,#d7ff00 66px,#ffe200 68px,#f00 70px,#f00 102px,#ff1f00 102px,#ffd500 106px,#f3ff00 106px,#3eff00 110px,#00ff0a 112px,#00ff97 118px,#00fff7 122px,#008bff 130px,#0048ff 140px,#001bff 156px,#0003ff 202px,#0001ff 260px)"></i><i style="top:310px;height:7px;background:linear-gradient(90deg,#0004ff 0px,#001dff 32px,#0048ff 42px,#0082ff 48px,#00deff 54px,#00f8ff 54px,#00ffbd 58px,#00ff36 62px,#00ff0b 62px,#25ff00 64px,#d5ff00 66px,#ffe200 68px,#ff4000 70px,#f00 70px,#ff0500 102px,#ffc200 106px,#fffa00 106px,#4aff00 110px,#00ff01 112px,#00ff91 118px,#00fff3 122px,#00f9ff 124px,#09f 130px,#0054ff 138px,#02f 152px,#0006ff 186px,#0001ff 260px)"></i><i style="top:316px;height:7px;background:linear-gradient(90deg,#0004ff 0px,#001bff 32px,#0046ff 42px,#007dff 48px,#00d7ff 54px,#00fff4 56px,#00ff86 60px,#00ff10 62px,#21ff00 64px,#d3ff00 66px,#ffe200 68px,#ff3c00 70px,#f00 70px,#f00 102px,#ff3100 104px,#ffe900 106px,#dfff00 108px,#2dff00 112px,#08ff00 112px,#00ffa3 118px,#00feff 124px,#009bff 130px,#05f 138px,#02f 152px,#0006ff 186px,#0001ff 260px)"></i><i style="top:322px;height:7px;background:linear-gradient(90deg,#0004ff 0px,#001aff 32px,#04f 42px,#0087ff 50px,#00d2ff 54px,#00fff8 56px,#00ff8a 60px,#00ff13 62px,#1dff00 64px,#d2ff00 66px,#ffe200 68px,#ff3700 70px,#f00 70px,#f00 102px,#ff1c00 104px,#ffda00 106px,#edff00 108px,#36ff00 112px,#10ff00 112px,#00ff13 114px,#00ff9e 118px,#00fffd 124px,#009dff 130px,#0056ff 138px,#0023ff 152px,#0006ff 186px,#0001ff 260px)"></i><i style="top:328px;height:7px;background:linear-gradient(90deg,#0004ff 0px,#001aff 32px,#0042ff 42px,#0085ff 50px,#00cfff 54px,#00fffa 56px,#00ff8d 60px,#00ff16 62px,#1bff00 64px,#d3ff00 66px,#ffe000 68px,#ff3200 70px,#f00 70px,#f00 102px,#ff0900 104px,#fc0 106px,#faff00 108px,#68ff00 110px,#17ff00 112px,#00ff0c 114px,#00ff9a 118px,#00fffb 124px,#0093ff 130px,#004bff 140px,#001dff 154px,#0004ff 196px,#0001ff 260px)"></i><i style="top:334px;height:7px;background:linear-gradient(90deg,#0004ff 0px,#001bff 32px,#0047ff 44px,#0083ff 50px,#00cdff 54px,#00fffc 56px,#00ff8e 60px,#00ff17 62px,#1bff00 64px,#d4ff00 66px,#ffde00 68px,#ff2c00 70px,#f00 70px,#f00 104px,#fff900 108px,#45ff00 112px,#00ff07 114px,#00ff97 118px,#00fff9 124px,#0094ff 130px,#0051ff 138px,#0021ff 152px,#0006ff 188px,#0001ff 260px)"></i><i style="top:340px;height:7px;background:linear-gradient(90deg,#0004ff 0px,#001bff 32px,#0047ff 44px,#0082ff 50px,#00cbff 54px,#00fffe 56px,#00ff90 60px,#00ff18 62px,#1aff00 64px,#d5ff00 66px,#ffdc00 68px,#ff2800 70px,#f00 70px,#f00 104px,#ff2c00 104px,#ffec00 108px,#dbff00 108px,#4dff00 112px,#00ff01 114px,#00ff7b 118px,#00ffe6 122px,#00f4ff 124px,#0095ff 130px,#0052ff 138px,#0021ff 152px,#0006ff 188px,#0001ff 260px)"></i><i style="top:346px;height:7px;background:linear-gradient(90deg,#0003ff 0px,#001bff 32px,#0046ff 44px,#0080ff 50px,#00c9ff 54px,#00feff 56px,#00ff92 60px,#00ff1a 62px,#18ff00 64px,#8eff00 66px,#d3ff00 66px,#fd0 68px,#ff2700 70px,#f00 70px,#f00 104px,#ff1900 104px,#ffdf00 108px,#e7ff00 108px,#56ff00 112px,#06ff00 114px,#00ff90 118px,#00fff5 124px,#00e3ff 126px,#008bff 132px,#0048ff 140px,#001aff 156px,#0003ff 202px,#0001ff 260px)"></i><i style="top:352px;height:7px;background:linear-gradient(90deg,#0003ff 0px,#001aff 32px,#0045ff 44px,#007fff 50px,#00c6ff 54px,#00fbff 56px,#00ffb5 58px,#00ff4a 62px,#00ff1e 62px,#14ff00 64px,#8aff00 66px,#d0ff00 66px,#ffe000 68px,#ff2900 70px,#f00 70px,#ff0300 104px,#ffcf00 108px,#f5ff00 108px,#5fff00 112px,#0eff00 114px,#00ff16 114px,#00ffa3 120px,#00faff 124px,#00a5ff 130px,#0059ff 138px,#0025ff 150px,#0008ff 180px,#0001ff 260px)"></i><i style="top:358px;height:7px;background:linear-gradient(90deg,#0003ff 0px,#001aff 32px,#04f 44px,#007dff 50px,#00c3ff 54px,#00f7ff 56px,#00ffb8 58px,#00ff4e 62px,#0f2 62px,#0fff00 64px,#85ff00 66px,#caff00 66px,#ffe600 68px,#ff2e00 70px,#f00 70px,#f00 104px,#ff3700 106px,#fffa00 108px,#3fff00 112px,#17ff00 114px,#00ff0e 114px,#00ff86 118px,#00ffef 124px,#00feff 124px,#00a7ff 130px,#005aff 138px,#0026ff 150px,#0008ff 180px,#0001ff 260px)"></i><i style="top:364px;height:7px;background:linear-gradient(90deg,#0003ff 0px,#001aff 32px,#0043ff 44px,#007bff 50px,#00c0ff 54px,#00f3ff 56px,#00ffd8 58px,#00ff7a 60px,#0aff00 64px,#7fff00 66px,#c4ff00 66px,#ffed00 68px,#ff3500 70px,#f00 70px,#f00 104px,#ff2100 106px,#ffea00 108px,#dbff00 110px,#4aff00 112px,#00ff05 114px,#00ff80 118px,#00ffec 124px,#00fffc 124px,#009cff 130px,#05f 138px,#02f 152px,#0006ff 186px,#0001ff 260px)"></i><i style="top:370px;height:7px;background:linear-gradient(90deg,#0003ff 0px,#0019ff 32px,#0042ff 44px,#0079ff 50px,#00bdff 54px,#00efff 56px,#00fff4 56px,#00ff7f 60px,#04ff00 64px,#7f0 66px,#fff500 68px,#ff3e00 70px,#f00 70px,#f00 104px,#ff0800 106px,#ffd800 108px,#ebff00 110px,#5f0 112px,#04ff00 114px,#00ff94 120px,#00fff9 124px,#0092ff 132px,#0050ff 140px,#0020ff 154px,#0005ff 190px,#0001ff 260px)"></i><i style="top:376px;height:7px;background:linear-gradient(90deg,#0003ff 0px,#0019ff 32px,#0041ff 44px,#07f 50px,#00baff 54px,#00fff7 56px,#00ff84 60px,#00ff03 64px,#70ff00 66px,#fffe00 68px,#ff4800 70px,#f00 70px,#f00 106px,#fcff00 110px,#61ff00 112px,#0eff00 114px,#00ff16 116px,#00ff8e 120px,#00fff5 124px,#00cfff 128px,#007fff 134px,#0041ff 142px,#0017ff 160px,#0002ff 214px,#0001ff 260px)"></i><i style="top:382px;height:7px;background:linear-gradient(90deg,#0003ff 0px,#0019ff 32px,#0040ff 44px,#0082ff 50px,#00cdff 54px,#00fffb 56px,#0f8 60px,#00ff09 64px,#2cff00 64px,#abff00 66px,#f7ff00 68px,#ffb200 68px,#f00 70px,#f00 106px,#ff2400 106px,#fff100 110px,#d4ff00 110px,#42ff00 114px,#19ff00 114px,#00ff0d 116px,#0f8 120px,#00fff2 124px,#00fbff 126px,#00a4ff 130px,#0058ff 138px,#0025ff 152px,#0007ff 182px,#0001ff 260px)"></i><i style="top:388px;height:7px;background:linear-gradient(90deg,#0003ff 0px,#001aff 34px,#0045ff 44px,#0080ff 50px,#00c9ff 54px,#00fffe 56px,#00ff8d 60px,#00ff10 64px,#25ff00 64px,#a3ff00 66px,#ef0 68px,#fb0 68px,#f00 70px,#f00 106px,#ff0b00 106px,#ffdf00 110px,#e4ff00 110px,#4dff00 114px,#00ff04 116px,#00ff81 120px,#0fe 124px,#0ff 126px,#00a6ff 130px,#0060ff 138px,#002aff 150px,#000aff 176px,#0001ff 260px)"></i><i style="top:394px;height:7px;background:linear-gradient(90deg,#0003ff 0px,#001aff 34px,#04f 44px,#007eff 50px,#00c6ff 54px,#00fcff 56px,#00ffb3 60px,#0f4 62px,#00ff16 64px,#1eff00 64px,#9bff00 66px,#e5ff00 68px,#ffc500 68px,#f00 70px,#f00 106px,#fc0 110px,#f4ff00 110px,#59ff00 114px,#06ff00 116px,#00ff95 120px,#00fffb 126px,#009cff 132px,#0054ff 140px,#0023ff 152px,#0007ff 184px,#0001ff 260px)"></i><i style="top:400px;height:7px;background:linear-gradient(90deg,#0003ff 0px,#001aff 34px,#0043ff 44px,#007cff 50px,#00c3ff 54px,#00f7ff 56px,#00ffb7 60px,#00ff4a 62px,#00ff1c 64px,#17ff00 64px,#93ff00 66px,#df0 68px,#ffce00 68px,#ff0700 70px,#f00 106px,#ff2a00 108px,#fffa00 110px,#38ff00 114px,#0fff00 116px,#00ff16 116px,#00ff8f 120px,#00fff8 126px,#0092ff 132px,#004fff 140px,#001fff 154px,#0005ff 192px,#0001ff 260px)"></i><i style="top:406px;height:7px;background:linear-gradient(90deg,#0003ff 0px,#0019ff 34px,#0042ff 44px,#007aff 50px,#00bfff 54px,#00f3ff 56px,#00ffd7 58px,#0f7 62px,#0f2 64px,#1f0 64px,#8cff00 66px,#d5ff00 68px,#ffd600 68px,#ff1000 70px,#f00 72px,#f00 106px,#ff1400 108px,#ffea00 110px,#d9ff00 112px,#42ff00 114px,#18ff00 116px,#00ff0e 116px,#00ff8a 120px,#00fff5 126px,#00e1ff 128px,#08f 134px,#0045ff 142px,#0019ff 158px,#0003ff 208px,#0001ff 260px)"></i><i style="top:412px;height:7px;background:linear-gradient(90deg,#0003ff 0px,#0019ff 34px,#0041ff 44px,#0078ff 50px,#00bcff 54px,#00f0ff 56px,#00fff4 58px,#00ff7b 62px,#00ff27 64px,#0cff00 64px,#86ff00 66px,#ceff00 68px,#fd0 68px,#ff1700 70px,#f00 72px,#f00 108px,#ffdb00 110px,#e6ff00 112px,#4cff00 114px,#00ff06 116px,#00ff85 120px,#00fff2 126px,#00faff 126px,#00a2ff 132px,#0056ff 140px,#0024ff 152px,#0007ff 184px,#0001ff 260px)"></i><i style="top:418px;height:7px;background:linear-gradient(90deg,#0003ff 0px,#0019ff 34px,#0040ff 44px,#0076ff 50px,#00baff 54px,#00fff6 58px,#00ff7f 62px,#07ff00 64px,#80ff00 66px,#c9ff00 68px,#ffe300 68px,#ff1d00 70px,#f00 72px,#f00 108px,#ff3b00 108px,#fc0 110px,#f3ff00 112px,#5f0 114px,#01ff00 116px,#00ff80 120px,#00ffef 126px,#00feff 126px,#00a4ff 132px,#005eff 138px,#0029ff 150px,#0009ff 178px,#0001ff 260px)"></i><i style="top:424px;height:7px;background:linear-gradient(90deg,#0003ff 0px,#0018ff 34px,#003fff 44px,#0074ff 50px,#00b7ff 54px,#00fff9 58px,#00ff83 62px,#02ff00 64px,#7bff00 66px,#c3ff00 68px,#ffe900 68px,#ff2300 70px,#f00 72px,#f00 108px,#ff2600 108px,#fffc00 112px,#60ff00 114px,#0aff00 116px,#00ff5e 120px,#00ffd9 124px,#00fffd 126px,#09f 132px,#0052ff 140px,#0020ff 154px,#0005ff 190px,#0001ff 260px)"></i><i style="top:430px;height:7px;background:linear-gradient(90deg,#0003ff 0px,#0018ff 34px,#0045ff 46px,#0080ff 52px,#00cbff 56px,#00fffc 58px,#00ff87 62px,#00ff02 64px,#76ff00 66px,#beff00 68px,#fe0 68px,#ff2800 70px,#f00 72px,#f00 108px,#ff0f00 108px,#ffeb00 112px,#d6ff00 112px,#3dff00 116px,#13ff00 116px,#00ff14 118px,#00ff90 122px,#00fffa 126px,#008fff 134px,#004dff 142px,#001eff 156px,#0005ff 194px,#0001ff 260px)"></i><i style="top:436px;height:7px;background:linear-gradient(90deg,#0003ff 0px,#0019ff 34px,#0043ff 46px,#007eff 52px,#00c7ff 56px,#0ff 58px,#00ff8b 62px,#00ff07 64px,#31ff00 66px,#b8ff00 68px,#fff400 68px,#ff2d00 70px,#f00 72px,#f00 108px,#ffda00 112px,#e5ff00 112px,#48ff00 116px,#1cff00 116px,#00ff0b 118px,#00ff8a 122px,#00fff6 126px,#00acff 132px,#0061ff 138px,#002aff 150px,#000aff 176px,#0001ff 260px)"></i><i style="top:442px;height:7px;background:linear-gradient(90deg,#0003ff 0px,#0019ff 34px,#0042ff 46px,#007bff 52px,#00c4ff 56px,#00faff 58px,#00ffb1 60px,#00ff3e 64px,#00ff0d 64px,#2bff00 66px,#b2ff00 68px,#fffb00 68px,#ff3400 70px,#f00 72px,#f00 108px,#f30 110px,#ffc900 112px,#f4ff00 112px,#53ff00 116px,#00ff03 118px,#00ff85 122px,#00fff3 126px,#00f8ff 128px,#00a0ff 132px,#005bff 140px,#0028ff 152px,#0009ff 180px,#0001ff 260px)"></i><i style="top:448px;height:7px;background:linear-gradient(90deg,#0003ff 0px,#0018ff 34px,#0041ff 46px,#0079ff 52px,#00c0ff 56px,#00f5ff 58px,#00ffd4 60px,#00ff6e 62px,#00ff13 64px,#24ff00 66px,#af0 68px,#fcff00 68px,#ffa500 70px,#ff3b00 70px,#f00 72px,#f00 108px,#ff1d00 110px,#ffb800 112px,#fffb00 112px,#5dff00 116px,#06ff00 118px,#00ff9a 122px,#00fcff 128px,#00a2ff 132px,#005cff 140px,#0028ff 152px,#0009ff 178px,#0001ff 260px)"></i><i style="top:454px;height:7px;background:linear-gradient(90deg,#0003ff 0px,#0018ff 34px,#003fff 46px,#0076ff 52px,#00bcff 56px,#00f0ff 58px,#00fff2 58px,#0f9 62px,#00ff19 64px,#1eff00 66px,#a3ff00 68px,#f4ff00 68px,#ffad00 70px,#f40 70px,#f00 72px,#f00 108px,#ff0900 110px,#ffa800 112px,#ffed00 112px,#d3ff00 114px,#38ff00 116px,#0dff00 118px,#00ff3d 120px,#00ffae 124px,#0ff 128px,#00a4ff 132px,#005dff 140px,#0028ff 152px,#0009ff 178px,#0001ff 260px)"></i><i style="top:460px;height:7px;background:linear-gradient(90deg,#0003ff 0px,#0017ff 34px,#003eff 46px,#0074ff 52px,#00b8ff 56px,#00fff6 58px,#00ff9e 62px,#00ff1f 64px,#17ff00 66px,#9bff00 68px,#ecff00 68px,#ffb600 70px,#ff4c00 70px,#f00 72px,#f00 110px,#ffe000 112px,#deff00 114px,#40ff00 116px,#14ff00 118px,#00ff14 118px,#00ff92 122px,#00fffc 128px,#0098ff 134px,#0051ff 142px,#001fff 156px,#0005ff 192px,#0001ff 260px)"></i><i style="top:466px;height:7px;background:linear-gradient(90deg,#0003ff 0px,#0017ff 34px,#003dff 46px,#0072ff 52px,#00b4ff 56px,#00fffa 58px,#00ffa3 62px,#00ff25 64px,#1f0 66px,#94ff00 68px,#e4ff00 68px,#ffbe00 70px,#f50 70px,#f00 72px,#f00 110px,#ff3e00 110px,#ffd500 112px,#e8ff00 114px,#46ff00 116px,#1aff00 118px,#00ff0e 118px,#00ff8f 122px,#00fffb 128px,#09f 134px,#0051ff 142px,#0021ff 154px,#0006ff 188px,#0001ff 260px)"></i><i style="top:472px;height:7px;background:linear-gradient(90deg,#0003ff 0px,#0018ff 36px,#0042ff 46px,#007dff 52px,#00c8ff 56px,#00fffd 58px,#00ffa7 62px,#00ff2a 64px,#0bff00 66px,#8dff00 68px,#df0 68px,#ffc500 70px,#f00 72px,#f00 110px,#ff3200 110px,#fc0 112px,#f0ff00 114px,#4bff00 116px,#1eff00 118px,#00ff0a 118px,#00ff8c 122px,#00fff9 128px,#009aff 134px,#0051ff 142px,#0021ff 154px,#0006ff 188px,#0001ff 260px)"></i><i style="top:478px;height:7px;background:linear-gradient(90deg,#0003ff 0px,#0018ff 36px,#0041ff 46px,#007bff 52px,#00c6ff 56px,#0ff 58px,#0fa 62px,#00ff2e 64px,#07ff00 66px,#8f0 68px,#d8ff00 68px,#ffcb00 70px,#f00 72px,#f00 110px,#ff2900 110px,#ffc500 112px,#f5ff00 114px,#4fff00 116px,#00ff07 118px,#00ff8b 122px,#00fff8 128px,#008eff 134px,#004cff 142px,#001eff 156px,#0004ff 194px,#0001ff 260px)"></i><i style="top:484px;height:7px;background:linear-gradient(90deg,#0003ff 0px,#0018ff 36px,#0040ff 46px,#007aff 52px,#00c4ff 56px,#00fcff 58px,#00ffac 62px,#00ff31 64px,#04ff00 66px,#85ff00 68px,#d4ff00 68px,#ffcf00 70px,#f00 72px,#f00 110px,#ff2400 110px,#ffc100 112px,#f9ff00 114px,#52ff00 116px,#00ff05 118px,#00ff89 122px,#00fff8 128px,#008eff 134px,#004cff 142px,#001eff 156px,#0004ff 194px,#0001ff 260px)"></i><i style="top:490px;height:7px;background:linear-gradient(90deg,#0003ff 0px,#0018ff 36px,#0040ff 46px,#0079ff 52px,#00c3ff 56px,#00fbff 58px,#00ffad 62px,#00ff32 64px,#02ff00 66px,#83ff00 68px,#d2ff00 68px,#ffd100 70px,#f00 72px,#f00 110px,#ff2100 110px,#ffbf00 112px,#fbff00 114px,#53ff00 116px,#00ff05 118px,#00ff89 122px,#00fff7 128px,#008fff 134px,#004cff 142px,#001eff 156px,#0004ff 194px,#0001ff 260px)"></i><i style="top:496px;height:5px;background:linear-gradient(90deg,#0003ff 0px,#0018ff 36px,#0040ff 46px,#0079ff 52px,#00c3ff 56px,#00fbff 58px,#00ffad 62px,#0f3 64px,#02ff00 66px,#83ff00 68px,#d2ff00 68px,#ffd200 70px,#f00 72px,#f00 110px,#ff2000 110px,#ffbf00 112px,#fbff00 114px,#53ff00 116px,#00ff04 118px,#00ff89 122px,#00fff7 128px,#008fff 134px,#004cff 142px,#001eff 156px,#0004ff 194px,#0001ff 260px)"></i></div></div>
<div class="hm" style="left:1235.0px;top:88px;width:250.0px;height:491px"><div class="hb" style="left:-5px;top:-5px;width:260px;height:501px;filter:blur(1.0px)"><i style="top:0px;height:5px;background:linear-gradient(90deg,#000aff 0px,#002fff 28px,#0062ff 50px,#004bff 64px,#0014ff 90px,#0001ff 148px,#00f 260px)"></i><i style="top:4px;height:5px;background:linear-gradient(90deg,#000aff 0px,#002fff 26px,#0068ff 50px,#004fff 64px,#0015ff 90px,#0001ff 144px,#00f 260px)"></i><i style="top:8px;height:5px;background:linear-gradient(90deg,#000bff 0px,#0032ff 26px,#0074ff 48px,#0062ff 62px,#001cff 86px,#0003ff 126px,#00f 260px)"></i><i style="top:12px;height:5px;background:linear-gradient(90deg,#000eff 0px,#0035ff 24px,#008aff 48px,#0080ff 58px,#0023ff 86px,#0006ff 118px,#00f 260px)"></i><i style="top:16px;height:5px;background:linear-gradient(90deg,#01f 0px,#003cff 22px,#00acff 48px,#00a4ff 58px,#0032ff 84px,#000cff 108px,#00f 248px,#00f 260px)"></i><i style="top:20px;height:5px;background:linear-gradient(90deg,#0016ff 0px,#04f 20px,#00abff 38px,#00dfff 48px,#00d2ff 58px,#04f 82px,#0015ff 102px,#0001ff 160px,#00f 260px)"></i><i style="top:24px;height:5px;background:linear-gradient(90deg,#001dff 0px,#004fff 18px,#00adff 32px,#00fffe 42px,#00ffe3 50px,#00fffa 60px,#00d7ff 66px,#0064ff 80px,#0029ff 96px,#0009ff 124px,#00f 260px)"></i><i style="top:28px;height:5px;background:linear-gradient(90deg,#0026ff 0px,#005dff 16px,#00baff 28px,#00fff9 34px,#00ffaf 46px,#00ffa6 54px,#00ffda 64px,#00fbff 68px,#0084ff 80px,#003dff 94px,#0013ff 114px,#0001ff 188px,#00f 260px)"></i><i style="top:32px;height:5px;background:linear-gradient(90deg,#0032ff 0px,#0073ff 14px,#00ceff 24px,#00fffd 28px,#00ff73 44px,#00ff5a 50px,#00ff6e 58px,#00ffe1 70px,#00fffe 74px,#0091ff 84px,#0047ff 96px,#0019ff 114px,#0003ff 168px,#00f 260px)"></i><i style="top:36px;height:5px;background:linear-gradient(90deg,#003eff 0px,#007fff 12px,#00d9ff 22px,#00fffd 24px,#00ff36 42px,#00ff12 50px,#0f2 56px,#00ff75 66px,#00fffd 78px,#008fff 88px,#0046ff 100px,#0019ff 118px,#0003ff 172px,#00f 260px)"></i><i style="top:40px;height:5px;background:linear-gradient(90deg,#0049ff 0px,#008cff 12px,#00f1ff 20px,#0ff 22px,#00ff03 42px,#2eff00 48px,#2aff00 54px,#00ff04 60px,#00fffd 80px,#008eff 90px,#0046ff 102px,#0018ff 122px,#0002ff 180px,#00f 260px)"></i><i style="top:44px;height:5px;background:linear-gradient(90deg,#0051ff 0px,#009cff 12px,#0ff 20px,#00ff5e 32px,#00ff03 38px,#59ff00 46px,#6eff00 52px,#50ff00 58px,#00ff02 64px,#00ffe3 80px,#00f7ff 84px,#0090ff 92px,#0047ff 104px,#0019ff 124px,#0003ff 182px,#00f 260px)"></i><i style="top:48px;height:5px;background:linear-gradient(90deg,#0057ff 0px,#009fff 10px,#00fffa 18px,#00ff5e 30px,#07ff00 36px,#7dff00 44px,#a7ff00 50px,#9fff00 54px,#65ff00 60px,#00ff04 68px,#00ffcb 80px,#00fffc 84px,#008eff 94px,#0047ff 106px,#0019ff 126px,#0003ff 184px,#00f 260px)"></i><i style="top:52px;height:5px;background:linear-gradient(90deg,#005cff 0px,#0af 10px,#00fff7 18px,#00ff64 28px,#00ff09 32px,#2fff00 36px,#b3ff00 44px,#e0ff00 48px,#dfff00 54px,#a8ff00 60px,#01ff00 70px,#00ffc2 82px,#00feff 86px,#009cff 94px,#0052ff 106px,#0020ff 124px,#0005ff 168px,#00f 260px)"></i><i style="top:56px;height:5px;background:linear-gradient(90deg,#0060ff 0px,#00a9ff 10px,#00fff7 16px,#00ff70 26px,#05ff00 32px,#dfff00 42px,#fcff00 44px,#ffd900 50px,#ffe300 54px,#feff00 58px,#8dff00 64px,#02ff00 72px,#0fb 82px,#00fffb 88px,#008dff 98px,#0046ff 110px,#0019ff 130px,#0003ff 188px,#00f 260px)"></i><i style="top:60px;height:5px;background:linear-gradient(90deg,#0063ff 0px,#00b0ff 10px,#00fffa 16px,#00ff80 24px,#00ff07 30px,#9bff00 36px,#f4ff00 40px,#ffe300 42px,#ff9f00 48px,#ff9100 52px,#ffb200 56px,#fdff00 62px,#00ff05 74px,#00ffa9 82px,#00fffa 88px,#008dff 98px,#0046ff 110px,#0019ff 130px,#0003ff 190px,#00f 260px)"></i><i style="top:64px;height:5px;background:linear-gradient(90deg,#0064ff 0px,#00b5ff 10px,#00feff 14px,#00ff84 22px,#00ff06 28px,#c6ff00 36px,#f9ff00 38px,#ff7200 46px,#ff4c00 50px,#ff5200 54px,#ff8f00 58px,#fff600 64px,#bfff00 66px,#0f0 74px,#00ff9b 82px,#00fffd 90px,#009bff 98px,#0050ff 108px,#001fff 126px,#0005ff 172px,#00f 260px)"></i><i style="top:68px;height:5px;background:linear-gradient(90deg,#0064ff 0px,#00b6ff 10px,#00fffc 14px,#00ff7b 22px,#00ff0c 28px,#26ff00 30px,#ebff00 36px,#fff600 38px,#ff5b00 44px,#ff1900 48px,#ff0700 52px,#ff2400 56px,#ff7f00 60px,#fffe00 66px,#14ff00 74px,#00ff03 76px,#00ffa3 84px,#00fff9 90px,#0093ff 98px,#004bff 110px,#001cff 128px,#0004ff 180px,#00f 260px)"></i><i style="top:72px;height:5px;background:linear-gradient(90deg,#0063ff 0px,#0af 8px,#00fffb 14px,#0f8 22px,#01ff00 28px,#edff00 36px,#fff200 36px,#ff3f00 42px,#f00 46px,#f00 56px,#ff3600 60px,#fff800 66px,#0bff00 76px,#00ff25 78px,#00ffae 84px,#00f8ff 90px,#009cff 98px,#0054ff 108px,#0021ff 124px,#0006ff 166px,#00f 260px)"></i><i style="top:76px;height:5px;background:linear-gradient(90deg,#0062ff 0px,#00a9ff 8px,#00fffa 14px,#00ff84 22px,#00ff0f 26px,#0cff00 28px,#e6ff00 34px,#fff500 36px,#ff1000 42px,#f00 44px,#ff0600 60px,#fffa00 68px,#17ff00 76px,#00ff02 76px,#0f9 84px,#00faff 90px,#009cff 98px,#0053ff 108px,#0020ff 124px,#0005ff 166px,#00f 260px)"></i><i style="top:80px;height:5px;background:linear-gradient(90deg,#0061ff 0px,#00a9ff 8px,#00fff9 14px,#00ff7f 22px,#00ff05 26px,#95ff00 32px,#ff0 34px,#ff0200 42px,#f00 60px,#ff3400 62px,#fdff00 68px,#25ff00 76px,#0aff00 76px,#00ff40 80px,#00ffc7 86px,#00feff 90px,#009dff 98px,#0053ff 108px,#02f 124px,#0006ff 162px,#00f 260px)"></i><i style="top:84px;height:5px;background:linear-gradient(90deg,#0060ff 0px,#00a9ff 8px,#00fff8 14px,#00ff7a 22px,#04ff00 26px,#caff00 32px,#f0ff00 34px,#ffe800 34px,#f00 40px,#f00 62px,#ff0f00 62px,#ffe800 68px,#f2ff00 70px,#16ff00 76px,#00ff05 78px,#00ffa0 84px,#00fffd 90px,#0095ff 98px,#004fff 108px,#001eff 126px,#0005ff 170px,#00f 260px)"></i><i style="top:88px;height:5px;background:linear-gradient(90deg,#005fff 0px,#00a8ff 8px,#00fff7 14px,#0f7 22px,#0f1 26px,#0cff00 26px,#daff00 32px,#fffd00 34px,#ff0400 40px,#f00 62px,#ff1400 64px,#fff800 70px,#04ff00 78px,#00ff9b 84px,#00fffa 90px,#0096ff 98px,#004fff 108px,#001eff 126px,#0005ff 170px,#00f 260px)"></i><i style="top:92px;height:5px;background:linear-gradient(90deg,#005eff 0px,#00a7ff 8px,#00fff8 14px,#00ff8c 20px,#00ff0d 26px,#10ff00 26px,#beff00 32px,#e6ff00 32px,#ffef00 34px,#ff1700 38px,#f00 40px,#f00 64px,#ffe900 70px,#efff00 70px,#28ff00 76px,#0bff00 78px,#00ff2a 80px,#00ffab 86px,#00fff9 90px,#008dff 100px,#004aff 110px,#001bff 128px,#0004ff 178px,#00f 260px)"></i><i style="top:96px;height:5px;background:linear-gradient(90deg,#005dff 0px,#00a6ff 8px,#00fff8 14px,#00ff8b 20px,#00ff0b 26px,#3f0 28px,#ef0 32px,#ffe600 34px,#ff0600 38px,#f00 64px,#ff1200 64px,#ffdf00 70px,#f9ff00 70px,#2cff00 76px,#00ff0d 78px,#00ff97 84px,#00fff8 90px,#008dff 100px,#004aff 110px,#001bff 128px,#0003ff 178px,#00f 260px)"></i><i style="top:100px;height:5px;background:linear-gradient(90deg,#005cff 0px,#00a4ff 8px,#00fff9 14px,#00ff8c 20px,#00ff0b 26px,#35ff00 28px,#f2ff00 32px,#ffe100 34px,#f00 38px,#f00 64px,#ff0900 64px,#fdff00 70px,#2eff00 76px,#00ff0c 78px,#00ff97 84px,#00fff9 90px,#008cff 100px,#0049ff 110px,#001bff 128px,#0003ff 178px,#00f 260px)"></i><i style="top:104px;height:5px;background:linear-gradient(90deg,#005bff 0px,#00a3ff 8px,#00fffb 14px,#00ff8d 20px,#00ff0c 26px,#34ff00 28px,#f2ff00 32px,#ffe100 34px,#f00 38px,#ff0600 64px,#fdff00 70px,#2cff00 76px,#0fff00 78px,#00ff0d 78px,#0f9 84px,#00fffb 90px,#0094ff 98px,#004dff 108px,#001dff 126px,#0004ff 170px,#00f 260px)"></i><i style="top:108px;height:5px;background:linear-gradient(90deg,#005aff 0px,#00a1ff 8px,#00fffd 14px,#00ff90 20px,#00ff0f 26px,#10ff00 26px,#c4ff00 32px,#ef0 32px,#ffe500 34px,#f00 38px,#f00 64px,#ff0900 64px,#faff00 70px,#29ff00 76px,#0cff00 78px,#00ff2b 80px,#00ffae 86px,#00fffd 90px,#009cff 98px,#0056ff 106px,#0024ff 122px,#0007ff 158px,#00f 260px)"></i><i style="top:112px;height:5px;background:linear-gradient(90deg,#0059ff 0px,#009fff 8px,#00feff 14px,#00ff94 20px,#00ff15 26px,#09ff00 26px,#bcff00 32px,#e5ff00 32px,#fe0 34px,#ff0900 38px,#f00 42px,#f00 64px,#ff0f00 64px,#ffe200 70px,#f5ff00 70px,#25ff00 76px,#07ff00 78px,#00ffb1 86px,#00feff 90px,#009aff 98px,#0054ff 106px,#0021ff 122px,#0006ff 162px,#00f 260px)"></i><i style="top:116px;height:5px;background:linear-gradient(90deg,#0056ff 0px,#009bff 8px,#00f7ff 14px,#00ffb0 20px,#00ff1e 26px,#0f0 26px,#afff00 32px,#fffc00 34px,#ff1a00 38px,#f00 40px,#f00 64px,#ff1700 64px,#ffe800 70px,#efff00 70px,#20ff00 76px,#03ff00 78px,#00ffa2 84px,#00faff 90px,#0097ff 98px,#004eff 108px,#001dff 124px,#0004ff 170px,#00f 260px)"></i><i style="top:120px;height:5px;background:linear-gradient(90deg,#0054ff 0px,#0096ff 8px,#00fffc 16px,#00ff8e 22px,#00ff0d 26px,#12ff00 28px,#c7ff00 32px,#f0ff00 34px,#ffe300 34px,#ff0200 40px,#f00 64px,#ff7500 66px,#fff000 70px,#e7ff00 70px,#1aff00 76px,#00ff03 78px,#00ff93 84px,#00fff8 90px,#008aff 98px,#0047ff 108px,#001aff 126px,#0003ff 178px,#00f 260px)"></i><i style="top:124px;height:5px;background:linear-gradient(90deg,#0051ff 0px,#009bff 10px,#00f9ff 16px,#00ffad 20px,#00ff1b 26px,#03ff00 28px,#b3ff00 32px,#fff900 34px,#ff1c00 40px,#f00 40px,#ff0200 64px,#fff800 70px,#15ff00 76px,#00ff08 78px,#00ff97 84px,#00fffc 90px,#0091ff 98px,#004aff 108px,#001cff 124px,#0004ff 172px,#00f 260px)"></i><i style="top:128px;height:5px;background:linear-gradient(90deg,#004dff 0px,#0095ff 10px,#00fffd 16px,#00ff8f 22px,#00ff0d 28px,#1f0 28px,#c4ff00 34px,#edff00 34px,#ffe700 36px,#ff0e00 40px,#f00 42px,#f00 62px,#ff0f00 64px,#fdff00 70px,#2cff00 76px,#0eff00 76px,#00ff0e 78px,#00ff9b 84px,#0ff 90px,#00a4ff 96px,#0058ff 104px,#0024ff 120px,#0007ff 154px,#00f 260px)"></i><i style="top:132px;height:5px;background:linear-gradient(90deg,#004aff 0px,#008eff 10px,#00e3ff 16px,#00fff7 18px,#00ff86 24px,#00ff01 28px,#acff00 34px,#fcff00 36px,#ff0300 42px,#f00 62px,#f40 64px,#ffe300 68px,#f4ff00 70px,#26ff00 76px,#08ff00 76px,#00ff8c 82px,#00fff4 88px,#00e8ff 90px,#008bff 98px,#0047ff 108px,#001aff 124px,#0003ff 174px,#00f 260px)"></i><i style="top:136px;height:5px;background:linear-gradient(90deg,#0046ff 0px,#0087ff 10px,#00d7ff 16px,#00fdff 18px,#00ff94 24px,#00ff14 28px,#0aff00 30px,#e0ff00 36px,#fff500 36px,#f00 42px,#ff0500 62px,#ffed00 68px,#ebff00 70px,#1fff00 76px,#02ff00 76px,#00ffa4 84px,#00fff8 88px,#08f 98px,#0046ff 108px,#0018ff 126px,#0003ff 180px,#00f 260px)"></i><i style="top:140px;height:5px;background:linear-gradient(90deg,#0043ff 0px,#0080ff 10px,#0cf 16px,#00fffb 18px,#00ff8c 24px,#00ff0a 30px,#35ff00 32px,#ecff00 36px,#ffea00 38px,#ff1f00 42px,#f00 44px,#f00 62px,#ff1500 62px,#fff700 68px,#19ff00 76px,#00ff04 76px,#00ff95 82px,#00fffb 88px,#0090ff 96px,#0049ff 106px,#001aff 124px,#0003ff 172px,#00f 260px)"></i><i style="top:144px;height:5px;background:linear-gradient(90deg,#003fff 0px,#0082ff 10px,#00d1ff 16px,#00fff6 20px,#00ff84 26px,#0f0 30px,#d0ff00 36px,#f7ff00 38px,#ff1b00 44px,#f00 44px,#ff0200 62px,#fdff00 68px,#13ff00 76px,#00ff0a 76px,#0f9 82px,#0ff 88px,#00a3ff 94px,#0056ff 104px,#0024ff 118px,#0007ff 150px,#00f 260px)"></i><i style="top:148px;height:5px;background:linear-gradient(90deg,#003cff 0px,#007cff 10px,#00d7ff 18px,#00fdff 20px,#00ff93 26px,#00ff13 30px,#0bff00 32px,#fffc00 38px,#ff1800 44px,#f00 46px,#f00 60px,#f10 62px,#ffe500 68px,#f4ff00 68px,#0dff00 76px,#00ff2a 78px,#00ffb0 84px,#00fbff 88px,#00a0ff 94px,#05f 104px,#0021ff 118px,#0006ff 154px,#00f 260px)"></i><i style="top:152px;height:5px;background:linear-gradient(90deg,#0039ff 0px,#0076ff 10px,#0cf 18px,#00fffb 20px,#00ff8b 26px,#00ff08 32px,#36ff00 34px,#e8ff00 38px,#fff000 40px,#ff1500 46px,#f00 46px,#ff0100 60px,#fe0 68px,#ecff00 68px,#08ff00 76px,#00ff8c 82px,#00fff6 88px,#00d4ff 90px,#007eff 98px,#0040ff 108px,#0015ff 126px,#0002ff 190px,#00f 260px)"></i><i style="top:156px;height:5px;background:linear-gradient(90deg,#0037ff 0px,#0070ff 10px,#00c3ff 18px,#00f9ff 20px,#00ffac 26px,#04ff00 32px,#f6ff00 40px,#ff7300 44px,#f10 46px,#f00 48px,#f00 60px,#ff0e00 60px,#ffd100 66px,#fff500 68px,#a1ff00 70px,#04ff00 76px,#00ffa3 82px,#00fff8 88px,#0090ff 96px,#004cff 104px,#001cff 120px,#0004ff 164px,#00f 260px)"></i><i style="top:160px;height:7px;background:linear-gradient(90deg,#0034ff 0px,#006bff 10px,#00b9ff 18px,#00fffe 22px,#00ff8f 28px,#00ff0e 32px,#10ff00 34px,#fffc00 40px,#ff2c00 46px,#f00 48px,#f00 60px,#ff9300 64px,#fffa00 68px,#01ff00 76px,#00ffa6 82px,#00fffa 88px,#008eff 96px,#004bff 104px,#001cff 120px,#0004ff 164px,#00f 260px)"></i><i style="top:166px;height:7px;background:linear-gradient(90deg,#0032ff 0px,#006eff 12px,#00c0ff 18px,#00fff7 22px,#00ff84 28px,#00ff01 34px,#ecff00 40px,#fe0 42px,#ff2600 48px,#f00 50px,#ff0700 60px,#ff9500 64px,#fffb00 68px,#01ff00 76px,#00ffa6 82px,#00fffb 88px,#0098ff 94px,#0050ff 104px,#001fff 118px,#0005ff 156px,#00f 260px)"></i><i style="top:172px;height:7px;background:linear-gradient(90deg,#0031ff 0px,#006bff 12px,#00baff 18px,#00fffd 22px,#00ff8d 28px,#00ff0c 34px,#32ff00 36px,#fffb00 42px,#ff3100 48px,#f00 50px,#ff0500 60px,#ff7000 64px,#fff600 68px,#80ff00 72px,#04ff00 76px,#00ffa5 82px,#00fffb 88px,#0098ff 94px,#004fff 104px,#001eff 118px,#0005ff 156px,#00f 260px)"></i><i style="top:178px;height:7px;background:linear-gradient(90deg,#0030ff 0px,#0069ff 12px,#00b5ff 18px,#00fcff 22px,#00ff93 28px,#00ff13 34px,#0bff00 34px,#fbff00 42px,#ff3500 48px,#ff0100 50px,#f00 60px,#ff4800 62px,#ffed00 68px,#ef0 68px,#0aff00 76px,#00ff48 78px,#00ffc8 84px,#00fff9 88px,#008dff 96px,#004aff 104px,#001bff 120px,#0003ff 164px,#00f 260px)"></i><i style="top:184px;height:7px;background:linear-gradient(90deg,#002fff 0px,#06f 12px,#00b1ff 18px,#00f7ff 22px,#00ffc1 26px,#00ff36 32px,#04ff00 34px,#f6ff00 42px,#ff9a00 44px,#ff1900 48px,#f00 50px,#ff0500 60px,#ff9b00 66px,#faff00 68px,#1f0 76px,#00ff0c 76px,#00ff9e 82px,#00fff7 88px,#008eff 96px,#004aff 104px,#001bff 120px,#0003ff 164px,#00f 260px)"></i><i style="top:190px;height:7px;background:linear-gradient(90deg,#002eff 0px,#0064ff 12px,#00adff 18px,#00fffa 24px,#00ff87 30px,#00ff01 34px,#cf0 40px,#f2ff00 42px,#ffc000 44px,#ff1500 48px,#f00 50px,#f00 60px,#ff0d00 62px,#ffd200 68px,#fff700 68px,#38ff00 74px,#00ff05 76px,#00ff9a 82px,#00fff5 88px,#00e5ff 90px,#008fff 96px,#004aff 104px,#001cff 120px,#0004ff 160px,#00f 260px)"></i><i style="top:196px;height:7px;background:linear-gradient(90deg,#002cff 0px,#0061ff 12px,#00a9ff 18px,#00fffe 24px,#00ff8c 30px,#00ff06 34px,#7fff00 38px,#f0ff00 42px,#ffe800 42px,#ff0e00 48px,#f00 50px,#f00 62px,#ff3400 64px,#ffe700 68px,#f2ff00 70px,#04ff00 76px,#0fa 84px,#00fcff 88px,#009cff 94px,#0056ff 102px,#02f 116px,#0006ff 150px,#00f 260px)"></i><i style="top:202px;height:7px;background:linear-gradient(90deg,#002bff 0px,#005fff 12px,#00a5ff 18px,#00fbff 24px,#00ffa7 28px,#00ff0b 34px,#35ff00 36px,#ef0 42px,#ffe800 42px,#ff0600 48px,#f00 62px,#ffaf00 68px,#fffb00 70px,#0dff00 76px,#00ff2d 78px,#00ffba 84px,#00fffe 88px,#009eff 94px,#0056ff 102px,#0024ff 116px,#0007ff 146px,#00f 260px)"></i><i style="top:208px;height:7px;background:linear-gradient(90deg,#002aff 0px,#005cff 12px,#00a1ff 18px,#00f5ff 24px,#00ffd4 26px,#00ff4a 32px,#00ff10 34px,#10ff00 36px,#edff00 42px,#ffe800 42px,#ff2000 48px,#f00 48px,#ff0500 64px,#ffe900 70px,#ef0 70px,#17ff00 76px,#00ff07 78px,#00ffa1 84px,#00fffc 88px,#0093ff 96px,#004bff 104px,#001cff 120px,#0004ff 160px,#00f 260px)"></i><i style="top:214px;height:7px;background:linear-gradient(90deg,#0029ff 0px,#0061ff 12px,#0af 20px,#00fffb 24px,#00ff83 30px,#00ff15 34px,#0bff00 36px,#ecff00 42px,#ffe800 42px,#ff1800 48px,#f00 48px,#f00 64px,#ff0e00 64px,#fffe00 70px,#2f0 76px,#02ff00 78px,#00ff9c 84px,#00fff9 88px,#0089ff 96px,#0046ff 106px,#0019ff 122px,#0003ff 168px,#00f 260px)"></i><i style="top:220px;height:7px;background:linear-gradient(90deg,#0027ff 0px,#005eff 12px,#00a5ff 20px,#00feff 24px,#0f8 30px,#06ff00 36px,#c1ff00 40px,#ebff00 42px,#ffe800 42px,#ff1000 48px,#f00 48px,#f00 64px,#ff1a00 66px,#ffeb00 70px,#eaff00 72px,#0dff00 78px,#00ff30 80px,#00ffc0 86px,#00f6ff 90px,#0096ff 96px,#0051ff 104px,#0020ff 118px,#0005ff 152px,#00f 260px)"></i><i style="top:226px;height:7px;background:linear-gradient(90deg,#0026ff 0px,#005bff 12px,#00a1ff 20px,#00f8ff 24px,#00ffa5 30px,#00ff1f 34px,#01ff00 36px,#bfff00 40px,#eaff00 42px,#ffe800 42px,#ff0800 48px,#f00 58px,#f00 66px,#fcff00 72px,#39ff00 76px,#00ff09 78px,#00ff91 84px,#00fff3 88px,#00faff 90px,#0098ff 96px,#0052ff 104px,#0020ff 118px,#0005ff 152px,#00f 260px)"></i><i style="top:232px;height:7px;background:linear-gradient(90deg,#0025ff 0px,#0058ff 12px,#009cff 20px,#00fff8 26px,#00ff7a 32px,#00ff04 36px,#92ff00 40px,#e8ff00 42px,#ffe900 42px,#f00 48px,#f00 66px,#ff0f00 66px,#ffef00 72px,#e4ff00 72px,#2f0 78px,#01ff00 78px,#00ff8b 84px,#00feff 90px,#00a7ff 94px,#0059ff 102px,#0024ff 116px,#0007ff 146px,#00f 260px)"></i><i style="top:238px;height:7px;background:linear-gradient(90deg,#0024ff 0px,#0056ff 12px,#0098ff 20px,#00fffd 26px,#00ff7f 32px,#00ff09 36px,#3eff00 38px,#e5ff00 42px,#ffea00 42px,#f00 48px,#f00 66px,#ff5000 68px,#ffdc00 72px,#f5ff00 72px,#2dff00 78px,#0bff00 78px,#00ff34 80px,#00ffb3 86px,#00fffd 90px,#009bff 96px,#0053ff 104px,#02f 116px,#0006ff 148px,#00f 260px)"></i><i style="top:244px;height:7px;background:linear-gradient(90deg,#0023ff 0px,#0053ff 12px,#0094ff 20px,#00e6ff 24px,#00fcff 26px,#00ff9d 30px,#00ff0e 36px,#14ff00 36px,#e3ff00 42px,#ffec00 42px,#ff2500 46px,#f00 48px,#f00 66px,#ff0700 68px,#fff600 72px,#39ff00 78px,#15ff00 78px,#00ff0c 80px,#00ff97 84px,#00fff9 90px,#0091ff 96px,#004dff 104px,#001eff 118px,#0004ff 156px,#00f 260px)"></i><i style="top:250px;height:7px;background:linear-gradient(90deg,#02f 0px,#0051ff 12px,#0090ff 20px,#00e1ff 24px,#00fff4 26px,#00ff8a 32px,#00ff14 36px,#0fff00 36px,#e0ff00 42px,#fe0 42px,#ff2100 46px,#f00 48px,#f00 68px,#ff1e00 68px,#ffe300 72px,#edff00 74px,#21ff00 78px,#00ff02 80px,#00ff91 84px,#00fff6 90px,#00bdff 94px,#006aff 100px,#002fff 112px,#000cff 134px,#00f 260px)"></i><i style="top:256px;height:7px;background:linear-gradient(90deg,#0021ff 0px,#004fff 12px,#008dff 20px,#00dbff 24px,#00fff9 26px,#00ff8f 32px,#00ff19 36px,#0aff00 36px,#aeff00 40px,#df0 42px,#fff000 42px,#ff1d00 46px,#f00 48px,#ff0200 68px,#fffe00 74px,#2dff00 78px,#09ff00 80px,#0f5 82px,#00ffcd 88px,#00faff 90px,#00a2ff 96px,#005cff 102px,#0027ff 114px,#0008ff 142px,#00f 260px)"></i><i style="top:262px;height:7px;background:linear-gradient(90deg,#0020ff 0px,#004dff 12px,#0096ff 20px,#00fffd 26px,#00ff93 32px,#05ff00 36px,#abff00 40px,#fff200 42px,#ff1900 46px,#f00 48px,#f00 68px,#ff1800 70px,#ffe700 74px,#e6ff00 74px,#16ff00 80px,#00ff0c 80px,#00ff9b 86px,#00fffe 90px,#0098ff 96px,#0050ff 104px,#0020ff 118px,#0005ff 150px,#00f 260px)"></i><i style="top:268px;height:7px;background:linear-gradient(90deg,#001fff 0px,#0051ff 14px,#0092ff 20px,#00e6ff 26px,#00fcff 26px,#00ff98 32px,#0f0 36px,#a7ff00 40px,#fff400 42px,#ff1500 46px,#f00 48px,#f00 70px,#fdff00 74px,#4bff00 78px,#01ff00 80px,#00ff93 86px,#00fff9 90px,#008fff 98px,#004bff 106px,#001cff 120px,#0004ff 158px,#00f 260px)"></i><i style="top:274px;height:7px;background:linear-gradient(90deg,#001eff 0px,#004fff 14px,#008eff 20px,#00e0ff 26px,#00fff3 28px,#00ff83 32px,#00ff05 36px,#75ff00 40px,#fff600 42px,#f10 46px,#f00 48px,#f00 70px,#ff0d00 70px,#ffe900 74px,#e3ff00 76px,#34ff00 80px,#0fff00 80px,#00ff14 82px,#00ffa3 86px,#00fff4 90px,#00e2ff 92px,#0086ff 98px,#0042ff 108px,#0016ff 124px,#0002ff 174px,#00f 260px)"></i><i style="top:280px;height:7px;background:linear-gradient(90deg,#001dff 0px,#004dff 14px,#008aff 20px,#00dbff 26px,#00fff8 28px,#00ff89 32px,#00ff0a 36px,#45ff00 38px,#fff900 42px,#ff0e00 46px,#f00 48px,#f00 70px,#ff2500 72px,#fbff00 76px,#45ff00 80px,#00ff07 82px,#00ff9a 86px,#00feff 92px,#00a3ff 96px,#005bff 104px,#0026ff 116px,#0008ff 142px,#00f 260px)"></i><i style="top:286px;height:7px;background:linear-gradient(90deg,#001cff 0px,#004aff 14px,#0087ff 20px,#00d5ff 26px,#00fffc 28px,#00ff8e 32px,#00ff10 36px,#16ff00 38px,#cdff00 42px,#fffc00 42px,#ff0b00 46px,#f00 48px,#ff0300 72px,#ffea00 76px,#e0ff00 76px,#2dff00 80px,#07ff00 82px,#0fa 88px,#00fffa 92px,#09f 98px,#004fff 106px,#001fff 118px,#0005ff 152px,#00f 260px)"></i><i style="top:292px;height:7px;background:linear-gradient(90deg,#001cff 0px,#0048ff 14px,#008fff 22px,#00e5ff 26px,#00fcff 28px,#00ff94 32px,#00ff16 36px,#10ff00 38px,#c8ff00 42px,#feff00 42px,#ff0900 46px,#f00 50px,#f00 72px,#ff1e00 72px,#ffd000 76px,#f8ff00 76px,#3eff00 80px,#16ff00 82px,#00ff0e 82px,#00ffa2 88px,#00fff5 92px,#00e0ff 94px,#0084ff 100px,#0045ff 108px,#0019ff 122px,#0003ff 168px,#00f 260px)"></i><i style="top:298px;height:7px;background:linear-gradient(90deg,#001bff 0px,#0046ff 14px,#008bff 22px,#00dfff 26px,#00fff4 28px,#00ff7e 34px,#00ff1d 36px,#0aff00 38px,#c3ff00 42px,#f9ff00 42px,#ff8d00 44px,#ff0900 46px,#f00 52px,#f00 72px,#ffed00 76px,#dcff00 78px,#25ff00 82px,#00ff01 82px,#00ff7f 86px,#00ffef 92px,#00fcff 92px,#00a0ff 98px,#0059ff 104px,#0025ff 116px,#0007ff 144px,#00f 260px)"></i><i style="top:304px;height:7px;background:linear-gradient(90deg,#001aff 0px,#04f 14px,#0087ff 22px,#00d9ff 26px,#00fff9 28px,#00ff84 34px,#03ff00 38px,#bdff00 42px,#f4ff00 42px,#ffcf00 44px,#ff0900 46px,#f00 50px,#f00 72px,#ff1a00 74px,#ffd400 76px,#f3ff00 78px,#35ff00 82px,#0dff00 82px,#00ff3a 84px,#00ffc1 90px,#00fffc 92px,#0096ff 98px,#004eff 106px,#001eff 120px,#0005ff 154px,#00f 260px)"></i><i style="top:310px;height:7px;background:linear-gradient(90deg,#0019ff 0px,#0042ff 14px,#0083ff 22px,#00d2ff 26px,#00fffe 28px,#00ff8b 34px,#00ff04 38px,#82ff00 40px,#ef0 42px,#ffd400 44px,#ff0a00 46px,#f00 50px,#f00 74px,#fff400 78px,#a0ff00 80px,#1bff00 82px,#00ff0b 84px,#00ff89 88px,#00fff7 92px,#008dff 100px,#0049ff 108px,#001bff 122px,#0004ff 160px,#00f 260px)"></i><i style="top:316px;height:7px;background:linear-gradient(90deg,#0018ff 0px,#0045ff 14px,#007fff 22px,#0cf 26px,#00faff 28px,#00ffac 32px,#00ff31 36px,#00ff0c 38px,#1eff00 38px,#afff00 42px,#e8ff00 42px,#ffda00 44px,#ff0c00 46px,#f00 48px,#f00 74px,#ff1e00 74px,#fd0 78px,#e8ff00 78px,#29ff00 82px,#01ff00 84px,#00ff9b 88px,#00fff2 92px,#00f8ff 94px,#009dff 98px,#0057ff 106px,#0024ff 118px,#0007ff 146px,#00f 260px)"></i><i style="top:322px;height:7px;background:linear-gradient(90deg,#0017ff 0px,#0043ff 14px,#0087ff 22px,#00dbff 28px,#00fff5 30px,#00ff7b 34px,#00ff13 38px,#16ff00 38px,#a8ff00 42px,#e1ff00 42px,#ffe000 44px,#ff0f00 46px,#f00 48px,#f00 74px,#ffc700 78px,#fcff00 78px,#62ff00 82px,#0dff00 84px,#00ff3b 86px,#00ffc5 90px,#00feff 94px,#00a0ff 98px,#0058ff 106px,#0024ff 118px,#0007ff 146px,#00f 260px)"></i><i style="top:328px;height:7px;background:linear-gradient(90deg,#0017ff 0px,#0041ff 14px,#0083ff 22px,#00d5ff 28px,#00fffb 30px,#00ff82 34px,#00ff1a 38px,#0fff00 38px,#a0ff00 42px,#daff00 42px,#ffe700 44px,#ff1300 46px,#f00 48px,#f00 74px,#ff2b00 76px,#fe0 78px,#d7ff00 80px,#43ff00 82px,#19ff00 84px,#00ff0e 84px,#00ff8e 88px,#00fffc 94px,#0095ff 100px,#0052ff 106px,#02f 118px,#0006ff 148px,#00f 260px)"></i><i style="top:334px;height:7px;background:linear-gradient(90deg,#0016ff 0px,#003fff 14px,#007fff 22px,#00cfff 28px,#00feff 30px,#0f8 34px,#07ff00 38px,#9f0 42px,#d2ff00 42px,#ffed00 44px,#ff1600 46px,#f00 48px,#f00 74px,#ff1200 76px,#ffdb00 78px,#e8ff00 80px,#4fff00 82px,#00ff05 84px,#0f8 88px,#00fff8 94px,#0097ff 100px,#0053ff 106px,#02f 118px,#0006ff 148px,#00f 260px)"></i><i style="top:340px;height:7px;background:linear-gradient(90deg,#0015ff 0px,#003dff 14px,#007bff 22px,#00c9ff 28px,#00f7ff 30px,#00ffc4 32px,#00ff4e 36px,#0f0 38px,#92ff00 42px,#fff400 44px,#ff1a00 46px,#f00 48px,#f00 76px,#ffca00 78px,#f7ff00 80px,#5aff00 82px,#04ff00 84px,#00ff9d 90px,#00fff5 94px,#00deff 96px,#008cff 100px,#0048ff 108px,#001aff 122px,#0003ff 162px,#00f 260px)"></i><i style="top:346px;height:7px;background:linear-gradient(90deg,#0015ff 0px,#003bff 14px,#0078ff 22px,#00c4ff 28px,#00fff6 30px,#00ff94 34px,#00ff07 38px,#56ff00 40px,#fffa00 44px,#ff1e00 46px,#f00 48px,#f00 76px,#ff3000 76px,#fff800 80px,#36ff00 84px,#0cff00 84px,#00ff3e 86px,#00ffb2 90px,#00f8ff 94px,#009bff 100px,#05f 106px,#0023ff 118px,#0006ff 148px,#00f 260px)"></i><i style="top:352px;height:7px;background:linear-gradient(90deg,#0014ff 0px,#0039ff 14px,#0074ff 22px,#00bfff 28px,#00fffa 30px,#00ff9a 34px,#00ff0d 38px,#1fff00 40px,#bfff00 42px,#feff00 44px,#ff2100 46px,#f00 48px,#f00 76px,#ff1e00 76px,#ffec00 80px,#d7ff00 80px,#3eff00 84px,#13ff00 84px,#00ff14 86px,#00ff95 90px,#00fff0 94px,#00fbff 94px,#009dff 100px,#0056ff 106px,#0023ff 118px,#0006ff 148px,#00f 260px)"></i><i style="top:358px;height:7px;background:linear-gradient(90deg,#0013ff 0px,#003dff 16px,#007dff 24px,#00cfff 28px,#00fffe 30px,#00ff9e 34px,#00ff12 38px,#1aff00 40px,#baff00 42px,#faff00 44px,#ff7400 46px,#ff2300 46px,#f00 48px,#f00 76px,#ff0f00 76px,#ffe100 80px,#e0ff00 80px,#45ff00 84px,#19ff00 84px,#00ff0f 86px,#00ff91 90px,#00fdff 94px,#009eff 100px,#0056ff 106px,#0023ff 118px,#0006ff 148px,#00f 260px)"></i><i style="top:364px;height:7px;background:linear-gradient(90deg,#0013ff 0px,#003bff 16px,#007aff 24px,#00caff 28px,#00fbff 30px,#00ffa3 34px,#00ff17 38px,#15ff00 40px,#b6ff00 42px,#f6ff00 44px,#ffc200 44px,#ff2500 46px,#f00 48px,#ff0200 76px,#ffd800 80px,#e8ff00 80px,#4aff00 84px,#1eff00 84px,#00ff0b 86px,#00ff8f 90px,#0ff 94px,#009fff 100px,#0056ff 106px,#0023ff 118px,#0006ff 148px,#00f 260px)"></i><i style="top:370px;height:7px;background:linear-gradient(90deg,#0012ff 0px,#003aff 16px,#07f 24px,#00c6ff 28px,#00f6ff 30px,#00ffc2 34px,#00ff43 38px,#00ff1b 38px,#1f0 40px,#b2ff00 42px,#f3ff00 44px,#ffc500 44px,#ff2500 46px,#f00 48px,#f00 76px,#ffd100 80px,#efff00 80px,#4fff00 84px,#00ff08 86px,#00ff8d 90px,#00fffe 94px,#009fff 100px,#0057ff 106px,#0023ff 118px,#0006ff 148px,#00f 260px)"></i><i style="top:376px;height:7px;background:linear-gradient(90deg,#0012ff 0px,#0038ff 16px,#0075ff 24px,#00c2ff 28px,#00fff5 32px,#00ff8d 36px,#00ff20 38px,#0dff00 40px,#aeff00 42px,#efff00 44px,#ffc800 44px,#ff2600 46px,#f00 48px,#f00 76px,#ff3b00 78px,#ffca00 80px,#f5ff00 80px,#53ff00 84px,#00ff04 86px,#00ff8b 90px,#00fffd 94px,#00a0ff 100px,#0057ff 106px,#0023ff 118px,#0007ff 146px,#00f 260px)"></i><i style="top:382px;height:7px;background:linear-gradient(90deg,#01f 0px,#0037ff 16px,#0072ff 24px,#00beff 28px,#00fff8 32px,#00ff91 36px,#08ff00 40px,#af0 42px,#ecff00 44px,#ffcb00 44px,#ff2700 46px,#f00 48px,#f00 76px,#ff3100 78px,#ffc200 80px,#fcff00 80px,#57ff00 84px,#00ff01 86px,#00ff89 90px,#00fffc 94px,#00a1ff 100px,#0057ff 106px,#0023ff 118px,#0007ff 146px,#00f 260px)"></i><i style="top:388px;height:7px;background:linear-gradient(90deg,#01f 0px,#0035ff 16px,#006fff 24px,#00baff 28px,#00fffc 32px,#00ff96 36px,#03ff00 40px,#a6ff00 42px,#e7ff00 44px,#ffcf00 44px,#ff2900 46px,#f00 48px,#f00 76px,#ff2800 78px,#fffc00 80px,#5cff00 84px,#02ff00 86px,#00ff87 90px,#00fffb 94px,#0093ff 100px,#0050ff 108px,#0021ff 120px,#0006ff 150px,#00f 260px)"></i><i style="top:394px;height:7px;background:linear-gradient(90deg,#0010ff 0px,#03f 16px,#006cff 24px,#00b5ff 28px,#00fdff 32px,#00ff9b 36px,#00ff2f 38px,#00ff03 40px,#64ff00 42px,#e2ff00 44px,#ffd300 44px,#ff2c00 46px,#f00 48px,#f00 76px,#ff1e00 78px,#fff500 80px,#60ff00 84px,#06ff00 86px,#00ffa1 90px,#00fffa 94px,#0094ff 100px,#0051ff 108px,#0021ff 120px,#0006ff 150px,#00f 260px)"></i><i style="top:400px;height:7px;background:linear-gradient(90deg,#0010ff 0px,#0032ff 16px,#0069ff 24px,#00b1ff 28px,#00f7ff 32px,#00ffbd 34px,#00ff5c 38px,#00ff08 40px,#5fff00 42px,#df0 44px,#ffd800 44px,#ff2f00 46px,#f00 48px,#f00 76px,#ff1400 78px,#ffef00 80px,#d1ff00 82px,#35ff00 84px,#09ff00 86px,#00ff83 90px,#00fff9 94px,#0094ff 100px,#0051ff 108px,#0021ff 120px,#0006ff 150px,#00f 260px)"></i><i style="top:406px;height:7px;background:linear-gradient(90deg,#000fff 0px,#0035ff 16px,#0071ff 24px,#00c0ff 30px,#00f1ff 32px,#00fff4 32px,#00ff86 36px,#00ff0e 40px,#2f0 40px,#d7ff00 44px,#fd0 44px,#f30 46px,#f00 48px,#f00 76px,#ff0b00 78px,#ffe800 80px,#d7ff00 82px,#38ff00 84px,#0cff00 86px,#00ff41 88px,#00ffb7 92px,#00fff8 94px,#0095ff 100px,#0051ff 108px,#0021ff 120px,#0006ff 150px,#00f 260px)"></i><i style="top:412px;height:7px;background:linear-gradient(90deg,#000fff 0px,#03f 16px,#006dff 24px,#0bf 30px,#00fff9 32px,#00ff8b 36px,#00ff15 40px,#1cff00 40px,#d1ff00 44px,#ffe300 44px,#ff3800 46px,#f00 48px,#ff0100 78px,#ffe200 80px,#dcff00 82px,#3cff00 84px,#0fff00 86px,#00ff19 86px,#00ff9c 90px,#00fff7 94px,#0096ff 100px,#0051ff 108px,#0021ff 120px,#0006ff 150px,#00f 260px)"></i><i style="top:418px;height:7px;background:linear-gradient(90deg,#000eff 0px,#0031ff 16px,#006aff 24px,#00b6ff 30px,#00fffd 32px,#00ff91 36px,#00ff1b 40px,#15ff00 40px,#cbff00 44px,#ffe900 44px,#ff3c00 46px,#f00 48px,#f00 78px,#ffdc00 80px,#e1ff00 82px,#3fff00 84px,#12ff00 86px,#00ff17 86px,#00ff9a 90px,#00fff6 94px,#00b5ff 98px,#0069ff 104px,#002fff 114px,#000cff 136px,#00f 260px)"></i><i style="top:424px;height:7px;background:linear-gradient(90deg,#000eff 0px,#0030ff 16px,#0067ff 24px,#00b1ff 30px,#00fbff 32px,#00ffb6 36px,#00ff4d 38px,#0f2 40px,#0fff00 40px,#c4ff00 44px,#fff000 44px,#ff4200 46px,#f00 48px,#f00 78px,#ffd700 80px,#e6ff00 82px,#43ff00 84px,#15ff00 86px,#00ff14 86px,#0f9 90px,#00fff5 94px,#00c8ff 98px,#0073ff 104px,#0037ff 112px,#0010ff 130px,#0001ff 212px,#00f 260px)"></i><i style="top:430px;height:7px;background:linear-gradient(90deg,#000dff 0px,#002eff 16px,#0064ff 24px,#00acff 30px,#00f5ff 32px,#00ffd7 34px,#00ff7a 38px,#08ff00 40px,#bdff00 44px,#fff600 44px,#ff4800 46px,#f00 48px,#f00 78px,#ff3c00 78px,#ffd100 80px,#ebff00 82px,#46ff00 84px,#18ff00 86px,#00ff12 86px,#00ff97 90px,#00fff4 94px,#0df 96px,#008aff 102px,#0046ff 110px,#0019ff 124px,#0003ff 166px,#00f 260px)"></i><i style="top:436px;height:7px;background:linear-gradient(90deg,#000dff 0px,#002dff 16px,#0061ff 24px,#00a8ff 30px,#00efff 32px,#00fff5 34px,#00ff7f 38px,#02ff00 40px,#b6ff00 44px,#fffd00 44px,#f00 48px,#f00 78px,#ff3500 78px,#fc0 80px,#efff00 82px,#49ff00 84px,#1aff00 86px,#00ff10 86px,#00ff96 90px,#00fff3 94px,#00deff 96px,#008aff 102px,#0046ff 110px,#0019ff 124px,#0003ff 166px,#00f 260px)"></i><i style="top:442px;height:7px;background:linear-gradient(90deg,#000cff 0px,#002cff 16px,#005fff 24px,#00a4ff 30px,#00fff9 34px,#00ff85 38px,#00ff05 40px,#6dff00 42px,#fbff00 44px,#f00 48px,#f00 78px,#ff2f00 78px,#ffc800 80px,#f3ff00 82px,#4bff00 84px,#1dff00 86px,#00ff0e 86px,#00ff95 90px,#00fff3 94px,#00f6ff 96px,#0098ff 100px,#0052ff 108px,#0021ff 120px,#0006ff 150px,#00f 260px)"></i><i style="top:448px;height:7px;background:linear-gradient(90deg,#000cff 0px,#002fff 18px,#0067ff 26px,#00b3ff 30px,#00fffd 34px,#00ff8a 38px,#00ff0b 40px,#2bff00 42px,#a9ff00 44px,#f4ff00 44px,#ffb600 46px,#f00 48px,#f00 78px,#ff2a00 78px,#ffc300 80px,#f7ff00 82px,#4eff00 84px,#1fff00 86px,#00ff0c 86px,#00ff94 90px,#00fff2 94px,#00f7ff 96px,#0098ff 100px,#0052ff 108px,#0021ff 120px,#0006ff 150px,#00f 260px)"></i><i style="top:454px;height:7px;background:linear-gradient(90deg,#000cff 0px,#002dff 18px,#0064ff 26px,#00afff 30px,#00fdff 34px,#00ffb0 36px,#00ff3f 40px,#00ff10 40px,#25ff00 42px,#a3ff00 44px,#ef0 44px,#ffbc00 46px,#f00 48px,#f00 78px,#ff2500 78px,#ffc000 80px,#faff00 82px,#50ff00 84px,#21ff00 86px,#00ff0a 86px,#00ff93 90px,#00fff1 94px,#00f8ff 96px,#09f 100px,#0053ff 108px,#0021ff 120px,#0006ff 150px,#00f 260px)"></i><i style="top:460px;height:7px;background:linear-gradient(90deg,#000bff 0px,#002cff 18px,#0062ff 26px,#00acff 30px,#00f8ff 34px,#00ffb4 36px,#0f4 40px,#00ff15 40px,#20ff00 42px,#9eff00 44px,#e9ff00 44px,#ffc200 46px,#f00 48px,#f00 78px,#ff2000 78px,#ffbc00 80px,#fdff00 82px,#52ff00 84px,#00ff09 86px,#00ff92 90px,#00fff1 94px,#00f8ff 96px,#09f 100px,#0053ff 108px,#0021ff 120px,#0006ff 150px,#00f 260px)"></i><i style="top:466px;height:7px;background:linear-gradient(90deg,#000bff 0px,#002bff 18px,#0060ff 26px,#00a9ff 30px,#00f4ff 34px,#00ffd5 36px,#00ff72 38px,#00ff19 40px,#1bff00 42px,#9f0 44px,#e4ff00 44px,#ffc600 46px,#f00 48px,#f00 78px,#ff1d00 78px,#fffe00 82px,#53ff00 84px,#00ff08 86px,#00ff91 90px,#00fff1 94px,#00f9ff 96px,#09f 100px,#0053ff 108px,#0021ff 120px,#0006ff 150px,#00f 260px)"></i><i style="top:472px;height:7px;background:linear-gradient(90deg,#000bff 0px,#002bff 18px,#005fff 26px,#00a7ff 30px,#00f1ff 34px,#00fff2 34px,#00ff9a 38px,#00ff1d 40px,#18ff00 42px,#95ff00 44px,#e0ff00 44px,#ffca00 46px,#ff0400 48px,#f00 78px,#ff1a00 78px,#fffd00 82px,#54ff00 84px,#00ff07 86px,#00ff91 90px,#00fff0 94px,#00f9ff 96px,#09f 100px,#0053ff 108px,#0021ff 120px,#0006ff 150px,#00f 260px)"></i><i style="top:478px;height:7px;background:linear-gradient(90deg,#000bff 0px,#002aff 18px,#005eff 26px,#00a5ff 30px,#00efff 34px,#00fff4 34px,#00ff9c 38px,#00ff1f 40px,#15ff00 42px,#92ff00 44px,#df0 44px,#ffcd00 46px,#ff0700 48px,#f00 78px,#ff1800 78px,#fffb00 82px,#5f0 84px,#00ff06 86px,#00ff91 90px,#00fff0 94px,#00f9ff 96px,#09f 100px,#0053ff 108px,#0021ff 120px,#0006ff 150px,#00f 260px)"></i><i style="top:484px;height:7px;background:linear-gradient(90deg,#000bff 0px,#002aff 18px,#005dff 26px,#00a4ff 30px,#00edff 34px,#00fff5 34px,#00ff9d 38px,#00ff21 40px,#13ff00 42px,#91ff00 44px,#dbff00 44px,#ffcf00 46px,#ff0800 48px,#f00 54px,#f00 78px,#ff1600 78px,#fffa00 82px,#56ff00 84px,#00ff06 86px,#00ff90 90px,#00fff0 94px,#00faff 96px,#009aff 100px,#0053ff 108px,#0021ff 120px,#0006ff 150px,#00f 260px)"></i><i style="top:490px;height:7px;background:linear-gradient(90deg,#000bff 0px,#002aff 18px,#005dff 26px,#00a3ff 30px,#00ecff 34px,#00fff5 34px,#00ff9e 38px,#0f2 40px,#13ff00 42px,#90ff00 44px,#daff00 44px,#ffd000 46px,#ff0900 48px,#f00 52px,#f00 78px,#ff1600 78px,#fffa00 82px,#56ff00 84px,#00ff06 86px,#00ff90 90px,#00fff0 94px,#00faff 96px,#009aff 100px,#0053ff 108px,#0021ff 120px,#0006ff 150px,#00f 260px)"></i><i style="top:496px;height:5px;background:linear-gradient(90deg,#000bff 0px,#002aff 18px,#005dff 26px,#00a3ff 30px,#00ecff 34px,#00fff5 34px,#00ff9e 38px,#0f2 40px,#12ff00 42px,#90ff00 44px,#daff00 44px,#ffd000 46px,#ff0900 48px,#f00 52px,#f00 78px,#ff1500 78px,#fffa00 82px,#56ff00 84px,#00ff05 86px,#00ff90 90px,#00fff0 94px,#00faff 96px,#009aff 100px,#0053ff 108px,#0021ff 120px,#0006ff 150px,#00f 260px)"></i></div></div>
<svg width="1497" height="1860" viewBox="0 0 1497 1860" font-family="Liberation Sans, sans-serif">
<text x="-2.5" y="33.3" font-size="62">a</text>
<defs><linearGradient id="jet"><stop offset="0" stop-color="#00f"/><stop offset=".25" stop-color="#0ff"/><stop offset=".5" stop-color="#0f0"/><stop offset=".75" stop-color="#ff0"/><stop offset="1" stop-color="#f00"/></linearGradient></defs>
<rect x="100.5" y="36.5" width="251.2" height="36" fill="url(#jet)" stroke="#222" stroke-width="1.2"/>
<text x="101.0" y="24.7" font-size="27.5" text-anchor="start" >0</text>
<text x="348.0" y="24.7" font-size="27.5" text-anchor="end" >6000</text>
<text x="229.0" y="62.5" font-size="24.5" text-anchor="middle" fill="#8b0000" font-weight="bold" textLength="75.0" lengthAdjust="spacingAndGlyphs"><tspan>FAPbI</tspan><tspan font-size="18.5" dy="6.5">3</tspan></text>
<rect x="100.5" y="88.0" width="250.0" height="491.0" fill="none" stroke="#000" stroke-width="1.6"/>
<line x1="100.5" y1="579.0" x2="100.5" y2="588.0" stroke="#000" stroke-width="1.6" />
<line x1="163.0" y1="579.0" x2="163.0" y2="584.0" stroke="#000" stroke-width="1.6" />
<line x1="225.5" y1="579.0" x2="225.5" y2="588.0" stroke="#000" stroke-width="1.6" />
<line x1="288.0" y1="579.0" x2="288.0" y2="584.0" stroke="#000" stroke-width="1.6" />
<line x1="350.5" y1="579.0" x2="350.5" y2="588.0" stroke="#000" stroke-width="1.6" />
<text x="112.1" y="617.5" font-size="28" text-anchor="middle" >650</text>
<text x="227.6" y="617.5" font-size="28" text-anchor="middle" >750</text>
<text x="339.5" y="617.5" font-size="28" text-anchor="middle" >850</text>
<text x="233.3" y="648.8" font-size="28" text-anchor="middle" >Wavelength (nm)</text>
<rect x="383.5" y="36.5" width="251.2" height="36" fill="url(#jet)" stroke="#222" stroke-width="1.2"/>
<text x="384.0" y="24.7" font-size="27.5" text-anchor="start" >0</text>
<text x="631.0" y="24.7" font-size="27.5" text-anchor="end" >6000</text>
<text x="513.1" y="62.5" font-size="24.5" text-anchor="middle" fill="#8b0000" font-weight="bold" textLength="166.4" lengthAdjust="spacingAndGlyphs"><tspan>Cs</tspan><tspan font-size="18.5" dy="6.5">0.25</tspan><tspan dy="-6.5">FA</tspan><tspan font-size="18.5" dy="6.5">0.75</tspan><tspan dy="-6.5">PbI</tspan><tspan font-size="18.5" dy="6.5">3</tspan></text>
<rect x="383.5" y="88.0" width="250.0" height="491.0" fill="none" stroke="#000" stroke-width="1.6"/>
<line x1="383.5" y1="579.0" x2="383.5" y2="588.0" stroke="#000" stroke-width="1.6" />
<line x1="446.0" y1="579.0" x2="446.0" y2="584.0" stroke="#000" stroke-width="1.6" />
<line x1="508.5" y1="579.0" x2="508.5" y2="588.0" stroke="#000" stroke-width="1.6" />
<line x1="571.0" y1="579.0" x2="571.0" y2="584.0" stroke="#000" stroke-width="1.6" />
<line x1="633.5" y1="579.0" x2="633.5" y2="588.0" stroke="#000" stroke-width="1.6" />
<text x="393.0" y="617.5" font-size="28" text-anchor="middle" >650</text>
<text x="510.4" y="617.5" font-size="28" text-anchor="middle" >750</text>
<text x="624.8" y="617.5" font-size="28" text-anchor="middle" >850</text>
<text x="516.4" y="648.8" font-size="28" text-anchor="middle" >Wavelength (nm)</text>
<rect x="668.0" y="36.5" width="251.2" height="36" fill="url(#jet)" stroke="#222" stroke-width="1.2"/>
<text x="668.5" y="24.7" font-size="27.5" text-anchor="start" >0</text>
<text x="915.5" y="24.7" font-size="27.5" text-anchor="end" >6000</text>
<text x="796.7" y="62.5" font-size="24.5" text-anchor="middle" fill="#8b0000" font-weight="bold" textLength="147.0" lengthAdjust="spacingAndGlyphs"><tspan>Cs</tspan><tspan font-size="18.5" dy="6.5">0.5</tspan><tspan dy="-6.5">FA</tspan><tspan font-size="18.5" dy="6.5">0.5</tspan><tspan dy="-6.5">PbI</tspan><tspan font-size="18.5" dy="6.5">3</tspan></text>
<rect x="668.0" y="88.0" width="250.0" height="491.0" fill="none" stroke="#000" stroke-width="1.6"/>
<line x1="668.0" y1="579.0" x2="668.0" y2="588.0" stroke="#000" stroke-width="1.6" />
<line x1="730.5" y1="579.0" x2="730.5" y2="584.0" stroke="#000" stroke-width="1.6" />
<line x1="793.0" y1="579.0" x2="793.0" y2="588.0" stroke="#000" stroke-width="1.6" />
<line x1="855.5" y1="579.0" x2="855.5" y2="584.0" stroke="#000" stroke-width="1.6" />
<line x1="918.0" y1="579.0" x2="918.0" y2="588.0" stroke="#000" stroke-width="1.6" />
<text x="678.8" y="617.5" font-size="28" text-anchor="middle" >650</text>
<text x="795.2" y="617.5" font-size="28" text-anchor="middle" >750</text>
<text x="908.4" y="617.5" font-size="28" text-anchor="middle" >850</text>
<text x="801.0" y="648.8" font-size="28" text-anchor="middle" >Wavelength (nm)</text>
<rect x="953.5" y="36.5" width="251.2" height="36" fill="url(#jet)" stroke="#222" stroke-width="1.2"/>
<text x="954.0" y="24.7" font-size="27.5" text-anchor="start" >0</text>
<text x="1201.0" y="24.7" font-size="27.5" text-anchor="end" >6000</text>
<text x="1086.5" y="62.5" font-size="24.5" text-anchor="middle" fill="#8b0000" font-weight="bold" textLength="166.3" lengthAdjust="spacingAndGlyphs"><tspan>Cs</tspan><tspan font-size="18.5" dy="6.5">0.75</tspan><tspan dy="-6.5">FA</tspan><tspan font-size="18.5" dy="6.5">0.25</tspan><tspan dy="-6.5">PbI</tspan><tspan font-size="18.5" dy="6.5">3</tspan></text>
<rect x="953.5" y="88.0" width="250.0" height="491.0" fill="none" stroke="#000" stroke-width="1.6"/>
<line x1="953.5" y1="579.0" x2="953.5" y2="588.0" stroke="#000" stroke-width="1.6" />
<line x1="1016.0" y1="579.0" x2="1016.0" y2="584.0" stroke="#000" stroke-width="1.6" />
<line x1="1078.5" y1="579.0" x2="1078.5" y2="588.0" stroke="#000" stroke-width="1.6" />
<line x1="1141.0" y1="579.0" x2="1141.0" y2="584.0" stroke="#000" stroke-width="1.6" />
<line x1="1203.5" y1="579.0" x2="1203.5" y2="588.0" stroke="#000" stroke-width="1.6" />
<text x="961.5" y="617.5" font-size="28" text-anchor="middle" >650</text>
<text x="1078.0" y="617.5" font-size="28" text-anchor="middle" >750</text>
<text x="1188.4" y="617.5" font-size="28" text-anchor="middle" >850</text>
<text x="1084.4" y="648.8" font-size="28" text-anchor="middle" >Wavelength (nm)</text>
<rect x="1235.0" y="36.5" width="251.2" height="36" fill="url(#jet)" stroke="#222" stroke-width="1.2"/>
<text x="1235.5" y="24.7" font-size="27.5" text-anchor="start" >0</text>
<text x="1482.5" y="24.7" font-size="27.5" text-anchor="end" >6000</text>
<text x="1360.2" y="62.5" font-size="24.5" text-anchor="middle" fill="#8b0000" font-weight="bold" textLength="70.4" lengthAdjust="spacingAndGlyphs"><tspan>CsPbI</tspan><tspan font-size="18.5" dy="6.5">3</tspan></text>
<rect x="1235.0" y="88.0" width="250.0" height="491.0" fill="none" stroke="#000" stroke-width="1.6"/>
<line x1="1235.0" y1="579.0" x2="1235.0" y2="588.0" stroke="#000" stroke-width="1.6" />
<line x1="1297.5" y1="579.0" x2="1297.5" y2="584.0" stroke="#000" stroke-width="1.6" />
<line x1="1360.0" y1="579.0" x2="1360.0" y2="588.0" stroke="#000" stroke-width="1.6" />
<line x1="1422.5" y1="579.0" x2="1422.5" y2="584.0" stroke="#000" stroke-width="1.6" />
<line x1="1485.0" y1="579.0" x2="1485.0" y2="588.0" stroke="#000" stroke-width="1.6" />
<text x="1241.5" y="617.5" font-size="28" text-anchor="middle" >650</text>
<text x="1360.2" y="617.5" font-size="28" text-anchor="middle" >750</text>
<text x="1475.0" y="617.5" font-size="28" text-anchor="middle" >850</text>
<text x="1367.5" y="648.8" font-size="28" text-anchor="middle" >Wavelength (nm)</text>
<line x1="91.5" y1="548.3" x2="100.5" y2="548.3" stroke="#000" stroke-width="1.6" />
<text x="84.0" y="556.6" font-size="28" text-anchor="end" >100</text>
<line x1="96.0" y1="510.0" x2="100.5" y2="510.0" stroke="#000" stroke-width="1.6" />
<line x1="91.5" y1="471.6" x2="100.5" y2="471.6" stroke="#000" stroke-width="1.6" />
<text x="84.0" y="479.9" font-size="28" text-anchor="end" >150</text>
<line x1="96.0" y1="433.2" x2="100.5" y2="433.2" stroke="#000" stroke-width="1.6" />
<line x1="91.5" y1="394.9" x2="100.5" y2="394.9" stroke="#000" stroke-width="1.6" />
<text x="84.0" y="403.2" font-size="28" text-anchor="end" >200</text>
<line x1="96.0" y1="356.5" x2="100.5" y2="356.5" stroke="#000" stroke-width="1.6" />
<line x1="91.5" y1="318.2" x2="100.5" y2="318.2" stroke="#000" stroke-width="1.6" />
<text x="84.0" y="326.5" font-size="28" text-anchor="end" >250</text>
<line x1="96.0" y1="279.8" x2="100.5" y2="279.8" stroke="#000" stroke-width="1.6" />
<line x1="91.5" y1="241.4" x2="100.5" y2="241.4" stroke="#000" stroke-width="1.6" />
<text x="84.0" y="249.7" font-size="28" text-anchor="end" >300</text>
<line x1="96.0" y1="203.1" x2="100.5" y2="203.1" stroke="#000" stroke-width="1.6" />
<line x1="91.5" y1="164.7" x2="100.5" y2="164.7" stroke="#000" stroke-width="1.6" />
<text x="84.0" y="173.0" font-size="28" text-anchor="end" >350</text>
<line x1="96.0" y1="126.4" x2="100.5" y2="126.4" stroke="#000" stroke-width="1.6" />
<line x1="91.5" y1="88.0" x2="100.5" y2="88.0" stroke="#000" stroke-width="1.6" />
<text x="84.0" y="96.3" font-size="28" text-anchor="end" >400</text>
<text transform="translate(21.5,299.2) rotate(-90)" font-size="28" text-anchor="middle">Temperature (K)</text>
<text x="-1" y="694.5" font-size="60">b</text>
<clipPath id="cb1"><rect x="94.5" y="709.5" width="254.1" height="497.8"/></clipPath>
<g clip-path="url(#cb1)" fill="none" stroke-width="2.3">
<path d="M94.5,1053.6 L96.6,1053.6 L98.6,1053.6 L100.7,1053.6 L102.8,1053.6 L104.9,1053.6 L106.9,1053.6 L109.0,1053.6 L111.1,1053.6 L113.1,1053.6 L115.2,1053.6 L117.3,1053.6 L119.4,1053.6 L121.4,1053.6 L123.5,1053.6 L125.6,1053.6 L127.7,1053.6 L129.7,1053.6 L131.8,1053.6 L133.9,1053.6 L135.9,1053.6 L138.0,1053.6 L140.1,1053.6 L142.2,1053.6 L144.2,1053.6 L146.3,1053.6 L148.4,1053.6 L150.4,1053.6 L152.5,1053.6 L154.6,1053.6 L156.7,1053.6 L158.7,1053.6 L160.8,1053.6 L162.9,1053.6 L164.9,1053.6 L167.0,1053.6 L169.1,1053.6 L171.2,1053.6 L173.2,1053.6 L175.3,1053.6 L177.4,1053.6 L179.4,1053.6 L181.5,1053.6 L183.6,1053.6 L185.7,1053.6 L187.7,1053.6 L189.8,1053.6 L191.9,1053.6 L194.0,1053.6 L196.0,1053.6 L198.1,1053.6 L200.2,1053.6 L202.2,1053.6 L204.3,1053.6 L206.4,1053.6 L208.5,1053.6 L210.5,1053.6 L212.6,1053.6 L214.7,1053.6 L216.7,1053.6 L218.8,1053.6 L220.9,1053.6 L223.0,1053.6 L225.0,1053.6 L227.1,1053.6 L229.2,1053.6 L231.2,1053.6 L233.3,1053.6 L235.4,1053.6 L237.5,1053.6 L239.5,1053.6 L241.6,1053.6 L243.7,1053.6 L245.7,1053.6 L247.8,1053.6 L249.9,1053.6 L252.0,1053.6 L254.0,1053.6 L256.1,1053.6 L258.2,1053.6 L260.3,1053.6 L262.3,1053.6 L264.4,1053.6 L266.5,1053.6 L268.5,1053.6 L270.6,1053.6 L272.7,1053.6 L274.8,1053.6 L276.8,1053.6 L278.9,1053.6 L281.0,1053.6 L283.0,1053.6 L285.1,1053.6 L287.2,1053.6 L289.3,1053.6 L291.3,1053.6 L293.4,1053.6 L295.5,1053.6 L297.5,1053.6 L299.6,1053.6 L301.7,1053.6 L303.8,1053.6 L305.8,1053.6 L307.9,1053.6 L310.0,1053.6 L312.0,1053.6 L314.1,1053.6 L316.2,1053.6 L318.3,1053.6 L320.3,1053.6 L322.4,1053.6 L324.5,1053.6 L326.6,1053.6 L328.6,1053.6 L330.7,1053.6 L332.8,1053.6 L334.8,1053.6 L336.9,1053.6 L339.0,1053.6 L341.1,1053.6" stroke="#ff8000" stroke-dasharray="13,7,2,7" stroke-linecap="round"/>
<path d="M94.5,1046.5 L96.6,1046.3 L98.6,1046.1 L100.7,1045.8 L102.8,1045.6 L104.9,1045.4 L106.9,1045.2 L109.0,1044.9 L111.1,1044.7 L113.1,1044.5 L115.2,1044.2 L117.3,1044.0 L119.4,1043.8 L121.4,1043.5 L123.5,1043.3 L125.6,1043.1 L127.7,1042.8 L129.7,1042.6 L131.8,1042.4 L133.9,1042.2 L135.9,1041.9 L138.0,1041.7 L140.1,1041.5 L142.2,1041.2 L144.2,1041.0 L146.3,1040.8 L148.4,1040.5 L150.4,1040.3 L152.5,1040.1 L154.6,1039.8 L156.7,1039.6 L158.7,1039.4 L160.8,1039.2 L162.9,1038.9 L164.9,1038.7 L167.0,1038.5 L169.1,1038.2 L171.2,1038.0 L173.2,1037.8 L175.3,1037.5 L177.4,1037.3 L179.4,1037.1 L181.5,1036.9 L183.6,1036.6 L185.7,1036.4 L187.7,1036.2 L189.8,1035.9 L191.9,1035.7 L194.0,1035.5 L196.0,1035.2 L198.1,1035.0 L200.2,1034.8 L202.2,1034.5 L204.3,1034.3 L206.4,1034.1 L208.5,1033.9 L210.5,1033.6 L212.6,1033.4 L214.7,1033.2 L216.7,1032.9 L218.8,1032.7 L220.9,1032.5 L223.0,1032.2 L225.0,1032.0 L227.1,1031.8 L229.2,1031.5 L231.2,1031.3 L233.3,1031.1 L235.4,1030.9 L237.5,1030.6 L239.5,1030.4 L241.6,1030.2 L243.7,1029.9 L245.7,1029.7 L247.8,1029.5 L249.9,1029.2 L252.0,1029.0 L254.0,1028.8 L256.1,1028.6 L258.2,1028.3 L260.3,1028.1 L262.3,1027.9 L264.4,1027.6 L266.5,1027.4 L268.5,1027.2 L270.6,1026.9 L272.7,1026.7 L274.8,1026.5 L276.8,1026.2 L278.9,1026.0 L281.0,1025.8 L283.0,1025.6 L285.1,1025.3 L287.2,1025.1 L289.3,1024.9 L291.3,1024.6 L293.4,1024.4 L295.5,1024.2 L297.5,1023.9 L299.6,1023.7 L301.7,1023.5 L303.8,1023.2 L305.8,1023.0 L307.9,1022.8 L310.0,1022.6 L312.0,1022.3 L314.1,1022.1 L316.2,1021.9 L318.3,1021.6 L320.3,1021.4 L322.4,1021.2 L324.5,1020.9 L326.6,1020.7 L328.6,1020.5 L330.7,1020.3 L332.8,1020.0 L334.8,1019.8 L336.9,1019.6 L339.0,1019.3 L341.1,1019.1" stroke="#0000ff" stroke-dasharray="13,7,2,7" stroke-linecap="round"/>
<path d="M94.5,1053.6 L96.6,1053.6 L98.6,1053.6 L100.7,1053.6 L102.8,1053.6 L104.9,1053.6 L106.9,1053.6 L109.0,1053.6 L111.1,1053.6 L113.1,1053.6 L115.2,1053.6 L117.3,1053.6 L119.4,1053.6 L121.4,1053.6 L123.5,1053.6 L125.6,1053.6 L127.7,1053.6 L129.7,1053.6 L131.8,1053.6 L133.9,1053.6 L135.9,1053.5 L138.0,1053.5 L140.1,1053.5 L142.2,1053.5 L144.2,1053.4 L146.3,1053.4 L148.4,1053.3 L150.4,1053.3 L152.5,1053.2 L154.6,1053.1 L156.7,1053.1 L158.7,1053.0 L160.8,1052.8 L162.9,1052.7 L164.9,1052.6 L167.0,1052.4 L169.1,1052.2 L171.2,1052.0 L173.2,1051.8 L175.3,1051.5 L177.4,1051.2 L179.4,1050.9 L181.5,1050.6 L183.6,1050.2 L185.7,1049.8 L187.7,1049.3 L189.8,1048.8 L191.9,1048.3 L194.0,1047.7 L196.0,1047.1 L198.1,1046.4 L200.2,1045.7 L202.2,1044.9 L204.3,1044.1 L206.4,1043.2 L208.5,1042.2 L210.5,1041.2 L212.6,1040.1 L214.7,1039.0 L216.7,1037.8 L218.8,1036.5 L220.9,1035.2 L223.0,1033.7 L225.0,1032.2 L227.1,1030.7 L229.2,1029.0 L231.2,1027.3 L233.3,1025.4 L235.4,1023.5 L237.5,1021.5 L239.5,1019.4 L241.6,1017.3 L243.7,1015.0 L245.7,1012.6 L247.8,1010.2 L249.9,1007.6 L252.0,1004.9 L254.0,1002.2 L256.1,999.3 L258.2,996.4 L260.3,993.3 L262.3,990.1 L264.4,986.8 L266.5,983.4 L268.5,979.9 L270.6,976.3 L272.7,972.6 L274.8,968.8 L276.8,964.8 L278.9,960.8 L281.0,956.6 L283.0,952.3 L285.1,947.9 L287.2,943.4 L289.3,938.7 L291.3,934.0 L293.4,929.1 L295.5,924.1 L297.5,919.0 L299.6,913.8 L301.7,908.4 L303.8,902.9 L305.8,897.3 L307.9,891.6 L310.0,885.8 L312.0,879.8 L314.1,873.7 L316.2,867.5 L318.3,861.2 L320.3,854.8 L322.4,848.2 L324.5,841.5 L326.6,834.7 L328.6,827.8 L330.7,820.7 L332.8,813.5 L334.8,806.2 L336.9,798.8 L339.0,791.2 L341.1,783.6" stroke="#00c800" stroke-dasharray="13,7,2,7" stroke-linecap="round"/>
<path d="M94.5,1046.5 L96.6,1046.3 L98.6,1046.1 L100.7,1045.8 L102.8,1045.6 L104.9,1045.4 L106.9,1045.2 L109.0,1044.9 L111.1,1044.7 L113.1,1044.5 L115.2,1044.2 L117.3,1044.0 L119.4,1043.8 L121.4,1043.5 L123.5,1043.3 L125.6,1043.1 L127.7,1042.8 L129.7,1042.6 L131.8,1042.3 L133.9,1042.1 L135.9,1041.9 L138.0,1041.6 L140.1,1041.4 L142.2,1041.1 L144.2,1040.8 L146.3,1040.6 L148.4,1040.3 L150.4,1040.0 L152.5,1039.7 L154.6,1039.4 L156.7,1039.1 L158.7,1038.7 L160.8,1038.4 L162.9,1038.0 L164.9,1037.7 L167.0,1037.3 L169.1,1036.8 L171.2,1036.4 L173.2,1035.9 L175.3,1035.5 L177.4,1034.9 L179.4,1034.4 L181.5,1033.8 L183.6,1033.2 L185.7,1032.6 L187.7,1031.9 L189.8,1031.1 L191.9,1030.4 L194.0,1029.6 L196.0,1028.7 L198.1,1027.8 L200.2,1026.9 L202.2,1025.8 L204.3,1024.8 L206.4,1023.7 L208.5,1022.5 L210.5,1021.2 L212.6,1019.9 L214.7,1018.6 L216.7,1017.1 L218.8,1015.6 L220.9,1014.0 L223.0,1012.4 L225.0,1010.7 L227.1,1008.8 L229.2,1007.0 L231.2,1005.0 L233.3,1002.9 L235.4,1000.8 L237.5,998.6 L239.5,996.2 L241.6,993.8 L243.7,991.3 L245.7,988.7 L247.8,986.0 L249.9,983.2 L252.0,980.3 L254.0,977.4 L256.1,974.3 L258.2,971.1 L260.3,967.8 L262.3,964.4 L264.4,960.9 L266.5,957.2 L268.5,953.5 L270.6,949.7 L272.7,945.7 L274.8,941.7 L276.8,937.5 L278.9,933.2 L281.0,928.8 L283.0,924.3 L285.1,919.6 L287.2,914.9 L289.3,910.0 L291.3,905.0 L293.4,899.9 L295.5,894.7 L297.5,889.3 L299.6,883.9 L301.7,878.3 L303.8,872.6 L305.8,866.8 L307.9,860.8 L310.0,854.7 L312.0,848.6 L314.1,842.2 L316.2,835.8 L318.3,829.2 L320.3,822.6 L322.4,815.8 L324.5,808.8 L326.6,801.8 L328.6,794.6 L330.7,787.3 L332.8,779.9 L334.8,772.4 L336.9,764.7 L339.0,757.0 L341.1,749.1" stroke="#ff0000" stroke-width="2.6"/>
</g>
<path d="M91.0,1040.6h7v7h-7zM98.9,1048.8h7v7h-7zM106.9,1046.1h7v7h-7zM114.8,1046.9h7v7h-7zM122.8,1042.5h7v7h-7zM130.7,1040.6h7v7h-7zM138.6,1038.4h7v7h-7zM146.6,1032.4h7v7h-7zM154.5,1031.6h7v7h-7zM162.5,1028.3h7v7h-7zM170.4,1031.6h7v7h-7zM178.3,1025.5h7v7h-7zM186.3,1019.5h7v7h-7zM194.2,1019.5h7v7h-7zM202.2,1016.8h7v7h-7zM210.1,1014.6h7v7h-7zM218.1,1011.3h7v7h-7zM226.0,997.3h7v7h-7zM233.9,991.8h7v7h-7zM241.9,980.8h7v7h-7zM249.8,970.1h7v7h-7zM257.8,961.9h7v7h-7zM265.7,944.6h7v7h-7zM273.6,926.8h7v7h-7zM281.6,909.8h7v7h-7zM289.5,895.3h7v7h-7zM297.5,885.7h7v7h-7zM305.4,856.1h7v7h-7zM313.3,835.0h7v7h-7zM321.3,803.4h7v7h-7zM329.2,778.8h7v7h-7zM337.2,728.0h7v7h-7z" fill="#505050"/>
<rect x="94.5" y="709.5" width="254.1" height="497.8" fill="none" stroke="#000" stroke-width="2"/>
<line x1="110.4" y1="1207.3" x2="110.4" y2="1216.8" stroke="#000" stroke-width="2" />
<line x1="150.1" y1="1207.3" x2="150.1" y2="1212.3" stroke="#000" stroke-width="2" />
<line x1="189.8" y1="1207.3" x2="189.8" y2="1216.8" stroke="#000" stroke-width="2" />
<line x1="229.5" y1="1207.3" x2="229.5" y2="1212.3" stroke="#000" stroke-width="2" />
<line x1="269.2" y1="1207.3" x2="269.2" y2="1216.8" stroke="#000" stroke-width="2" />
<line x1="308.9" y1="1207.3" x2="308.9" y2="1212.3" stroke="#000" stroke-width="2" />
<line x1="348.6" y1="1207.3" x2="348.6" y2="1216.8" stroke="#000" stroke-width="2" />
<line x1="84.5" y1="1207.3" x2="94.5" y2="1207.3" stroke="#000" stroke-width="2" />
<line x1="89.5" y1="1145.1" x2="94.5" y2="1145.1" stroke="#000" stroke-width="2" />
<line x1="84.5" y1="1082.8" x2="94.5" y2="1082.8" stroke="#000" stroke-width="2" />
<line x1="89.5" y1="1020.6" x2="94.5" y2="1020.6" stroke="#000" stroke-width="2" />
<line x1="84.5" y1="958.4" x2="94.5" y2="958.4" stroke="#000" stroke-width="2" />
<line x1="89.5" y1="896.2" x2="94.5" y2="896.2" stroke="#000" stroke-width="2" />
<line x1="84.5" y1="834.0" x2="94.5" y2="834.0" stroke="#000" stroke-width="2" />
<line x1="89.5" y1="771.7" x2="94.5" y2="771.7" stroke="#000" stroke-width="2" />
<line x1="84.5" y1="709.5" x2="94.5" y2="709.5" stroke="#000" stroke-width="2" />
<text x="112.0" y="1244.0" font-size="27.5" text-anchor="middle" >100</text>
<text x="188.8" y="1244.0" font-size="27.5" text-anchor="middle" >200</text>
<text x="265.7" y="1244.0" font-size="27.5" text-anchor="middle" >300</text>
<text x="337.3" y="1244.0" font-size="27.5" text-anchor="middle" >400</text>
<text x="218.8" y="1276.2" font-size="28" text-anchor="middle" >Temperature (K)</text>
<text x="217.1" y="1182.6" font-size="25.5" text-anchor="middle" fill="#000" textLength="71.8" lengthAdjust="spacingAndGlyphs"><tspan>FAPbI</tspan><tspan font-size="19.5" dy="6.0">3</tspan></text>
<clipPath id="cb2"><rect x="380.4" y="709.5" width="252.4" height="497.8"/></clipPath>
<g clip-path="url(#cb2)" fill="none" stroke-width="2.3">
<path d="M380.4,1086.6 L382.5,1086.6 L384.5,1086.6 L386.6,1086.6 L388.6,1086.6 L390.7,1086.6 L392.7,1086.6 L394.8,1086.6 L396.9,1086.6 L398.9,1086.6 L401.0,1086.6 L403.0,1086.6 L405.1,1086.6 L407.2,1086.6 L409.2,1086.6 L411.3,1086.6 L413.3,1086.6 L415.4,1086.6 L417.4,1086.6 L419.5,1086.6 L421.6,1086.6 L423.6,1086.6 L425.7,1086.6 L427.7,1086.6 L429.8,1086.6 L431.9,1086.6 L433.9,1086.6 L436.0,1086.6 L438.0,1086.6 L440.1,1086.6 L442.1,1086.6 L444.2,1086.6 L446.3,1086.6 L448.3,1086.6 L450.4,1086.6 L452.4,1086.6 L454.5,1086.6 L456.5,1086.6 L458.6,1086.6 L460.7,1086.6 L462.7,1086.6 L464.8,1086.6 L466.8,1086.6 L468.9,1086.6 L471.0,1086.6 L473.0,1086.6 L475.1,1086.6 L477.1,1086.6 L479.2,1086.6 L481.2,1086.6 L483.3,1086.6 L485.4,1086.6 L487.4,1086.6 L489.5,1086.6 L491.5,1086.6 L493.6,1086.6 L495.7,1086.6 L497.7,1086.6 L499.8,1086.6 L501.8,1086.6 L503.9,1086.6 L505.9,1086.6 L508.0,1086.6 L510.1,1086.6 L512.1,1086.6 L514.2,1086.6 L516.2,1086.6 L518.3,1086.6 L520.3,1086.6 L522.4,1086.6 L524.5,1086.6 L526.5,1086.6 L528.6,1086.6 L530.6,1086.6 L532.7,1086.6 L534.8,1086.6 L536.8,1086.6 L538.9,1086.6 L540.9,1086.6 L543.0,1086.6 L545.0,1086.6 L547.1,1086.6 L549.2,1086.6 L551.2,1086.6 L553.3,1086.6 L555.3,1086.6 L557.4,1086.6 L559.4,1086.6 L561.5,1086.6 L563.6,1086.6 L565.6,1086.6 L567.7,1086.6 L569.7,1086.6 L571.8,1086.6 L573.9,1086.6 L575.9,1086.6 L578.0,1086.6 L580.0,1086.6 L582.1,1086.6 L584.1,1086.6 L586.2,1086.6 L588.3,1086.6 L590.3,1086.6 L592.4,1086.6 L594.4,1086.6 L596.5,1086.6 L598.6,1086.6 L600.6,1086.6 L602.7,1086.6 L604.7,1086.6 L606.8,1086.6 L608.8,1086.6 L610.9,1086.6 L613.0,1086.6 L615.0,1086.6 L617.1,1086.6 L619.1,1086.6 L621.2,1086.6 L623.2,1086.6 L625.3,1086.6" stroke="#ff8000" stroke-dasharray="13,7,2,7" stroke-linecap="round"/>
<path d="M380.4,1065.5 L382.5,1064.8 L384.5,1064.2 L386.6,1063.5 L388.6,1062.8 L390.7,1062.1 L392.7,1061.4 L394.8,1060.7 L396.9,1060.0 L398.9,1059.3 L401.0,1058.7 L403.0,1058.0 L405.1,1057.3 L407.2,1056.6 L409.2,1055.9 L411.3,1055.2 L413.3,1054.5 L415.4,1053.9 L417.4,1053.2 L419.5,1052.5 L421.6,1051.8 L423.6,1051.1 L425.7,1050.4 L427.7,1049.7 L429.8,1049.0 L431.9,1048.4 L433.9,1047.7 L436.0,1047.0 L438.0,1046.3 L440.1,1045.6 L442.1,1044.9 L444.2,1044.2 L446.3,1043.5 L448.3,1042.9 L450.4,1042.2 L452.4,1041.5 L454.5,1040.8 L456.5,1040.1 L458.6,1039.4 L460.7,1038.7 L462.7,1038.1 L464.8,1037.4 L466.8,1036.7 L468.9,1036.0 L471.0,1035.3 L473.0,1034.6 L475.1,1033.9 L477.1,1033.2 L479.2,1032.6 L481.2,1031.9 L483.3,1031.2 L485.4,1030.5 L487.4,1029.8 L489.5,1029.1 L491.5,1028.4 L493.6,1027.8 L495.7,1027.1 L497.7,1026.4 L499.8,1025.7 L501.8,1025.0 L503.9,1024.3 L505.9,1023.6 L508.0,1022.9 L510.1,1022.3 L512.1,1021.6 L514.2,1020.9 L516.2,1020.2 L518.3,1019.5 L520.3,1018.8 L522.4,1018.1 L524.5,1017.5 L526.5,1016.8 L528.6,1016.1 L530.6,1015.4 L532.7,1014.7 L534.8,1014.0 L536.8,1013.3 L538.9,1012.6 L540.9,1012.0 L543.0,1011.3 L545.0,1010.6 L547.1,1009.9 L549.2,1009.2 L551.2,1008.5 L553.3,1007.8 L555.3,1007.1 L557.4,1006.5 L559.4,1005.8 L561.5,1005.1 L563.6,1004.4 L565.6,1003.7 L567.7,1003.0 L569.7,1002.3 L571.8,1001.7 L573.9,1001.0 L575.9,1000.3 L578.0,999.6 L580.0,998.9 L582.1,998.2 L584.1,997.5 L586.2,996.8 L588.3,996.2 L590.3,995.5 L592.4,994.8 L594.4,994.1 L596.5,993.4 L598.6,992.7 L600.6,992.0 L602.7,991.4 L604.7,990.7 L606.8,990.0 L608.8,989.3 L610.9,988.6 L613.0,987.9 L615.0,987.2 L617.1,986.5 L619.1,985.9 L621.2,985.2 L623.2,984.5 L625.3,983.8" stroke="#0000ff" stroke-dasharray="13,7,2,7" stroke-linecap="round"/>
<path d="M380.4,1086.6 L382.5,1086.6 L384.5,1086.6 L386.6,1086.6 L388.6,1086.6 L390.7,1086.6 L392.7,1086.6 L394.8,1086.6 L396.9,1086.6 L398.9,1086.5 L401.0,1086.5 L403.0,1086.5 L405.1,1086.5 L407.2,1086.5 L409.2,1086.4 L411.3,1086.4 L413.3,1086.3 L415.4,1086.3 L417.4,1086.2 L419.5,1086.1 L421.6,1086.0 L423.6,1085.9 L425.7,1085.8 L427.7,1085.6 L429.8,1085.5 L431.9,1085.3 L433.9,1085.1 L436.0,1084.8 L438.0,1084.6 L440.1,1084.3 L442.1,1084.0 L444.2,1083.7 L446.3,1083.3 L448.3,1082.9 L450.4,1082.4 L452.4,1081.9 L454.5,1081.4 L456.5,1080.9 L458.6,1080.3 L460.7,1079.6 L462.7,1078.9 L464.8,1078.2 L466.8,1077.4 L468.9,1076.6 L471.0,1075.7 L473.0,1074.8 L475.1,1073.8 L477.1,1072.7 L479.2,1071.6 L481.2,1070.5 L483.3,1069.3 L485.4,1068.0 L487.4,1066.7 L489.5,1065.3 L491.5,1063.8 L493.6,1062.3 L495.7,1060.7 L497.7,1059.1 L499.8,1057.4 L501.8,1055.6 L503.9,1053.8 L505.9,1051.9 L508.0,1049.9 L510.1,1047.9 L512.1,1045.8 L514.2,1043.7 L516.2,1041.4 L518.3,1039.1 L520.3,1036.8 L522.4,1034.3 L524.5,1031.8 L526.5,1029.3 L528.6,1026.6 L530.6,1023.9 L532.7,1021.2 L534.8,1018.3 L536.8,1015.4 L538.9,1012.4 L540.9,1009.4 L543.0,1006.3 L545.0,1003.1 L547.1,999.9 L549.2,996.6 L551.2,993.2 L553.3,989.7 L555.3,986.2 L557.4,982.6 L559.4,979.0 L561.5,975.3 L563.6,971.5 L565.6,967.6 L567.7,963.7 L569.7,959.8 L571.8,955.7 L573.9,951.6 L575.9,947.5 L578.0,943.2 L580.0,939.0 L582.1,934.6 L584.1,930.2 L586.2,925.7 L588.3,921.2 L590.3,916.6 L592.4,911.9 L594.4,907.2 L596.5,902.5 L598.6,897.6 L600.6,892.7 L602.7,887.8 L604.7,882.8 L606.8,877.7 L608.8,872.6 L610.9,867.4 L613.0,862.2 L615.0,856.9 L617.1,851.6 L619.1,846.2 L621.2,840.7 L623.2,835.3 L625.3,829.7" stroke="#00c800" stroke-dasharray="13,7,2,7" stroke-linecap="round"/>
<path d="M380.4,1065.5 L382.5,1064.8 L384.5,1064.1 L386.6,1063.5 L388.6,1062.8 L390.7,1062.1 L392.7,1061.4 L394.8,1060.7 L396.9,1060.0 L398.9,1059.3 L401.0,1058.6 L403.0,1057.9 L405.1,1057.2 L407.2,1056.5 L409.2,1055.7 L411.3,1055.0 L413.3,1054.3 L415.4,1053.5 L417.4,1052.8 L419.5,1052.0 L421.6,1051.2 L423.6,1050.4 L425.7,1049.6 L427.7,1048.8 L429.8,1047.9 L431.9,1047.1 L433.9,1046.2 L436.0,1045.2 L438.0,1044.3 L440.1,1043.3 L442.1,1042.3 L444.2,1041.3 L446.3,1040.2 L448.3,1039.1 L450.4,1038.0 L452.4,1036.8 L454.5,1035.6 L456.5,1034.4 L458.6,1033.1 L460.7,1031.8 L462.7,1030.4 L464.8,1029.0 L466.8,1027.5 L468.9,1026.0 L471.0,1024.4 L473.0,1022.8 L475.1,1021.1 L477.1,1019.4 L479.2,1017.6 L481.2,1015.8 L483.3,1013.9 L485.4,1011.9 L487.4,1009.9 L489.5,1007.8 L491.5,1005.7 L493.6,1003.5 L495.7,1001.2 L497.7,998.9 L499.8,996.5 L501.8,994.1 L503.9,991.5 L505.9,989.0 L508.0,986.3 L510.1,983.6 L512.1,980.8 L514.2,978.0 L516.2,975.1 L518.3,972.1 L520.3,969.0 L522.4,965.9 L524.5,962.7 L526.5,959.5 L528.6,956.1 L530.6,952.8 L532.7,949.3 L534.8,945.8 L536.8,942.2 L538.9,938.5 L540.9,934.8 L543.0,931.0 L545.0,927.1 L547.1,923.2 L549.2,919.2 L551.2,915.1 L553.3,911.0 L555.3,906.8 L557.4,902.5 L559.4,898.2 L561.5,893.8 L563.6,889.3 L565.6,884.8 L567.7,880.2 L569.7,875.5 L571.8,870.8 L573.9,866.0 L575.9,861.2 L578.0,856.3 L580.0,851.3 L582.1,846.2 L584.1,841.1 L586.2,836.0 L588.3,830.8 L590.3,825.5 L592.4,820.1 L594.4,814.7 L596.5,809.3 L598.6,803.8 L600.6,798.2 L602.7,792.6 L604.7,786.9 L606.8,781.1 L608.8,775.3 L610.9,769.5 L613.0,763.5 L615.0,757.6 L617.1,751.5 L619.1,745.5 L621.2,739.3 L623.2,733.2 L625.3,726.9" stroke="#ff0000" stroke-width="2.6"/>
</g>
<path d="M376.9,1062.6h7v7h-7zM384.8,1060.6h7v7h-7zM392.7,1061.2h7v7h-7zM400.6,1059.0h7v7h-7zM408.4,1057.1h7v7h-7zM416.3,1050.8h7v7h-7zM424.2,1046.9h7v7h-7zM432.1,1044.2h7v7h-7zM440.0,1035.7h7v7h-7zM447.9,1028.8h7v7h-7zM455.8,1026.1h7v7h-7zM463.7,1019.2h7v7h-7zM471.5,1015.1h7v7h-7zM479.4,1005.8h7v7h-7zM487.3,996.2h7v7h-7zM495.2,988.0h7v7h-7zM503.1,985.2h7v7h-7zM511.0,973.4h7v7h-7zM518.9,963.8h7v7h-7zM526.8,952.9h7v7h-7zM534.6,944.6h7v7h-7zM542.5,928.2h7v7h-7zM550.4,910.4h7v7h-7zM558.3,894.5h7v7h-7zM566.2,876.1h7v7h-7zM574.1,852.8h7v7h-7zM582.0,833.1h7v7h-7zM589.9,814.4h7v7h-7zM597.8,798.5h7v7h-7zM605.6,774.6h7v7h-7zM613.5,737.1h7v7h-7zM621.4,716.5h7v7h-7z" fill="#505050"/>
<rect x="380.4" y="709.5" width="252.4" height="497.8" fill="none" stroke="#000" stroke-width="2"/>
<line x1="396.2" y1="1207.3" x2="396.2" y2="1216.8" stroke="#000" stroke-width="2" />
<line x1="435.6" y1="1207.3" x2="435.6" y2="1212.3" stroke="#000" stroke-width="2" />
<line x1="475.0" y1="1207.3" x2="475.0" y2="1216.8" stroke="#000" stroke-width="2" />
<line x1="514.5" y1="1207.3" x2="514.5" y2="1212.3" stroke="#000" stroke-width="2" />
<line x1="553.9" y1="1207.3" x2="553.9" y2="1216.8" stroke="#000" stroke-width="2" />
<line x1="593.4" y1="1207.3" x2="593.4" y2="1212.3" stroke="#000" stroke-width="2" />
<line x1="632.8" y1="1207.3" x2="632.8" y2="1216.8" stroke="#000" stroke-width="2" />
<line x1="370.4" y1="1207.3" x2="380.4" y2="1207.3" stroke="#000" stroke-width="2" />
<line x1="375.4" y1="1145.1" x2="380.4" y2="1145.1" stroke="#000" stroke-width="2" />
<line x1="370.4" y1="1082.8" x2="380.4" y2="1082.8" stroke="#000" stroke-width="2" />
<line x1="375.4" y1="1020.6" x2="380.4" y2="1020.6" stroke="#000" stroke-width="2" />
<line x1="370.4" y1="958.4" x2="380.4" y2="958.4" stroke="#000" stroke-width="2" />
<line x1="375.4" y1="896.2" x2="380.4" y2="896.2" stroke="#000" stroke-width="2" />
<line x1="370.4" y1="834.0" x2="380.4" y2="834.0" stroke="#000" stroke-width="2" />
<line x1="375.4" y1="771.7" x2="380.4" y2="771.7" stroke="#000" stroke-width="2" />
<line x1="370.4" y1="709.5" x2="380.4" y2="709.5" stroke="#000" stroke-width="2" />
<text x="396.2" y="1244.0" font-size="27.5" text-anchor="middle" >100</text>
<text x="473.5" y="1244.0" font-size="27.5" text-anchor="middle" >200</text>
<text x="550.3" y="1244.0" font-size="27.5" text-anchor="middle" >300</text>
<text x="621.8" y="1244.0" font-size="27.5" text-anchor="middle" >400</text>
<text x="503.2" y="1276.2" font-size="28" text-anchor="middle" >Temperature (K)</text>
<text x="502.6" y="1182.6" font-size="25.5" text-anchor="middle" fill="#000" textLength="163.0" lengthAdjust="spacingAndGlyphs"><tspan>Cs</tspan><tspan font-size="19.5" dy="6.0">0.25</tspan><tspan dy="-6.0">FA</tspan><tspan font-size="19.5" dy="6.0">0.75</tspan><tspan dy="-6.0">PbI</tspan><tspan font-size="19.5" dy="6.0">3</tspan></text>
<clipPath id="cb3"><rect x="663.4" y="709.5" width="255.1" height="497.8"/></clipPath>
<g clip-path="url(#cb3)" fill="none" stroke-width="2.3">
<path d="M663.4,1105.3 L665.5,1105.3 L667.6,1105.3 L669.6,1105.3 L671.7,1105.3 L673.8,1105.3 L675.9,1105.3 L678.0,1105.3 L680.0,1105.3 L682.1,1105.3 L684.2,1105.3 L686.3,1105.3 L688.4,1105.3 L690.4,1105.3 L692.5,1105.3 L694.6,1105.3 L696.7,1105.3 L698.8,1105.3 L700.8,1105.3 L702.9,1105.3 L705.0,1105.3 L707.1,1105.3 L709.2,1105.3 L711.2,1105.3 L713.3,1105.3 L715.4,1105.3 L717.5,1105.3 L719.6,1105.3 L721.6,1105.3 L723.7,1105.3 L725.8,1105.3 L727.9,1105.3 L730.0,1105.3 L732.0,1105.3 L734.1,1105.3 L736.2,1105.3 L738.3,1105.3 L740.4,1105.3 L742.4,1105.3 L744.5,1105.3 L746.6,1105.3 L748.7,1105.3 L750.8,1105.3 L752.8,1105.3 L754.9,1105.3 L757.0,1105.3 L759.1,1105.3 L761.2,1105.3 L763.2,1105.3 L765.3,1105.3 L767.4,1105.3 L769.5,1105.3 L771.6,1105.3 L773.6,1105.3 L775.7,1105.3 L777.8,1105.3 L779.9,1105.3 L782.0,1105.3 L784.0,1105.3 L786.1,1105.3 L788.2,1105.3 L790.3,1105.3 L792.4,1105.3 L794.4,1105.3 L796.5,1105.3 L798.6,1105.3 L800.7,1105.3 L802.8,1105.3 L804.8,1105.3 L806.9,1105.3 L809.0,1105.3 L811.1,1105.3 L813.2,1105.3 L815.2,1105.3 L817.3,1105.3 L819.4,1105.3 L821.5,1105.3 L823.6,1105.3 L825.6,1105.3 L827.7,1105.3 L829.8,1105.3 L831.9,1105.3 L834.0,1105.3 L836.0,1105.3 L838.1,1105.3 L840.2,1105.3 L842.3,1105.3 L844.4,1105.3 L846.4,1105.3 L848.5,1105.3 L850.6,1105.3 L852.7,1105.3 L854.8,1105.3 L856.8,1105.3 L858.9,1105.3 L861.0,1105.3 L863.1,1105.3 L865.2,1105.3 L867.2,1105.3 L869.3,1105.3 L871.4,1105.3 L873.5,1105.3 L875.6,1105.3 L877.6,1105.3 L879.7,1105.3 L881.8,1105.3 L883.9,1105.3 L886.0,1105.3 L888.0,1105.3 L890.1,1105.3 L892.2,1105.3 L894.3,1105.3 L896.4,1105.3 L898.4,1105.3 L900.5,1105.3 L902.6,1105.3 L904.7,1105.3 L906.8,1105.3 L908.8,1105.3 L910.9,1105.3" stroke="#ff8000" stroke-dasharray="13,7,2,7" stroke-linecap="round"/>
<path d="M663.4,1082.3 L665.5,1081.5 L667.6,1080.8 L669.6,1080.0 L671.7,1079.3 L673.8,1078.5 L675.9,1077.8 L678.0,1077.0 L680.0,1076.3 L682.1,1075.5 L684.2,1074.8 L686.3,1074.0 L688.4,1073.3 L690.4,1072.5 L692.5,1071.8 L694.6,1071.0 L696.7,1070.3 L698.8,1069.5 L700.8,1068.8 L702.9,1068.0 L705.0,1067.3 L707.1,1066.5 L709.2,1065.8 L711.2,1065.0 L713.3,1064.3 L715.4,1063.5 L717.5,1062.7 L719.6,1062.0 L721.6,1061.2 L723.7,1060.5 L725.8,1059.7 L727.9,1059.0 L730.0,1058.2 L732.0,1057.5 L734.1,1056.7 L736.2,1056.0 L738.3,1055.2 L740.4,1054.5 L742.4,1053.7 L744.5,1053.0 L746.6,1052.2 L748.7,1051.5 L750.8,1050.7 L752.8,1050.0 L754.9,1049.2 L757.0,1048.5 L759.1,1047.7 L761.2,1047.0 L763.2,1046.2 L765.3,1045.5 L767.4,1044.7 L769.5,1044.0 L771.6,1043.2 L773.6,1042.5 L775.7,1041.7 L777.8,1041.0 L779.9,1040.2 L782.0,1039.5 L784.0,1038.7 L786.1,1038.0 L788.2,1037.2 L790.3,1036.5 L792.4,1035.7 L794.4,1035.0 L796.5,1034.2 L798.6,1033.5 L800.7,1032.7 L802.8,1032.0 L804.8,1031.2 L806.9,1030.5 L809.0,1029.7 L811.1,1029.0 L813.2,1028.2 L815.2,1027.5 L817.3,1026.7 L819.4,1026.0 L821.5,1025.2 L823.6,1024.5 L825.6,1023.7 L827.7,1023.0 L829.8,1022.2 L831.9,1021.5 L834.0,1020.7 L836.0,1020.0 L838.1,1019.2 L840.2,1018.5 L842.3,1017.7 L844.4,1017.0 L846.4,1016.2 L848.5,1015.5 L850.6,1014.7 L852.7,1014.0 L854.8,1013.2 L856.8,1012.5 L858.9,1011.7 L861.0,1011.0 L863.1,1010.2 L865.2,1009.5 L867.2,1008.7 L869.3,1008.0 L871.4,1007.2 L873.5,1006.5 L875.6,1005.7 L877.6,1005.0 L879.7,1004.2 L881.8,1003.5 L883.9,1002.7 L886.0,1002.0 L888.0,1001.2 L890.1,1000.5 L892.2,999.7 L894.3,999.0 L896.4,998.2 L898.4,997.5 L900.5,996.7 L902.6,996.0 L904.7,995.2 L906.8,994.5 L908.8,993.7 L910.9,993.0" stroke="#0000ff" stroke-dasharray="13,7,2,7" stroke-linecap="round"/>
<path d="M663.4,1105.2 L665.5,1105.2 L667.6,1105.2 L669.6,1105.2 L671.7,1105.2 L673.8,1105.2 L675.9,1105.2 L678.0,1105.2 L680.0,1105.2 L682.1,1105.2 L684.2,1105.2 L686.3,1105.2 L688.4,1105.1 L690.4,1105.1 L692.5,1105.1 L694.6,1105.0 L696.7,1105.0 L698.8,1104.9 L700.8,1104.8 L702.9,1104.8 L705.0,1104.7 L707.1,1104.6 L709.2,1104.4 L711.2,1104.3 L713.3,1104.1 L715.4,1103.9 L717.5,1103.7 L719.6,1103.5 L721.6,1103.3 L723.7,1103.0 L725.8,1102.7 L727.9,1102.4 L730.0,1102.0 L732.0,1101.6 L734.1,1101.2 L736.2,1100.8 L738.3,1100.3 L740.4,1099.8 L742.4,1099.2 L744.5,1098.6 L746.6,1098.0 L748.7,1097.3 L750.8,1096.6 L752.8,1095.8 L754.9,1095.0 L757.0,1094.2 L759.1,1093.3 L761.2,1092.3 L763.2,1091.3 L765.3,1090.3 L767.4,1089.2 L769.5,1088.1 L771.6,1086.9 L773.6,1085.6 L775.7,1084.3 L777.8,1083.0 L779.9,1081.6 L782.0,1080.1 L784.0,1078.6 L786.1,1077.0 L788.2,1075.4 L790.3,1073.8 L792.4,1072.0 L794.4,1070.2 L796.5,1068.4 L798.6,1066.5 L800.7,1064.5 L802.8,1062.5 L804.8,1060.5 L806.9,1058.4 L809.0,1056.2 L811.1,1053.9 L813.2,1051.6 L815.2,1049.3 L817.3,1046.9 L819.4,1044.4 L821.5,1041.9 L823.6,1039.3 L825.6,1036.7 L827.7,1034.0 L829.8,1031.3 L831.9,1028.5 L834.0,1025.6 L836.0,1022.7 L838.1,1019.8 L840.2,1016.8 L842.3,1013.7 L844.4,1010.6 L846.4,1007.4 L848.5,1004.2 L850.6,1000.9 L852.7,997.6 L854.8,994.2 L856.8,990.7 L858.9,987.2 L861.0,983.7 L863.1,980.1 L865.2,976.5 L867.2,972.8 L869.3,969.0 L871.4,965.2 L873.5,961.4 L875.6,957.5 L877.6,953.6 L879.7,949.6 L881.8,945.6 L883.9,941.5 L886.0,937.4 L888.0,933.2 L890.1,929.0 L892.2,924.7 L894.3,920.4 L896.4,916.1 L898.4,911.7 L900.5,907.2 L902.6,902.7 L904.7,898.2 L906.8,893.7 L908.8,889.0 L910.9,884.4" stroke="#00c800" stroke-dasharray="13,7,2,7" stroke-linecap="round"/>
<path d="M663.4,1082.3 L665.5,1081.5 L667.6,1080.7 L669.6,1080.0 L671.7,1079.2 L673.8,1078.5 L675.9,1077.7 L678.0,1077.0 L680.0,1076.2 L682.1,1075.5 L684.2,1074.7 L686.3,1073.9 L688.4,1073.1 L690.4,1072.4 L692.5,1071.6 L694.6,1070.8 L696.7,1070.0 L698.8,1069.2 L700.8,1068.3 L702.9,1067.5 L705.0,1066.7 L707.1,1065.8 L709.2,1064.9 L711.2,1064.0 L713.3,1063.1 L715.4,1062.2 L717.5,1061.2 L719.6,1060.3 L721.6,1059.3 L723.7,1058.3 L725.8,1057.2 L727.9,1056.1 L730.0,1055.0 L732.0,1053.9 L734.1,1052.7 L736.2,1051.5 L738.3,1050.3 L740.4,1049.0 L742.4,1047.7 L744.5,1046.4 L746.6,1045.0 L748.7,1043.5 L750.8,1042.1 L752.8,1040.6 L754.9,1039.0 L757.0,1037.4 L759.1,1035.8 L761.2,1034.1 L763.2,1032.3 L765.3,1030.5 L767.4,1028.7 L769.5,1026.8 L771.6,1024.9 L773.6,1022.9 L775.7,1020.8 L777.8,1018.7 L779.9,1016.6 L782.0,1014.4 L784.0,1012.1 L786.1,1009.8 L788.2,1007.4 L790.3,1005.0 L792.4,1002.5 L794.4,1000.0 L796.5,997.4 L798.6,994.7 L800.7,992.0 L802.8,989.3 L804.8,986.5 L806.9,983.6 L809.0,980.7 L811.1,977.7 L813.2,974.6 L815.2,971.5 L817.3,968.4 L819.4,965.2 L821.5,961.9 L823.6,958.6 L825.6,955.2 L827.7,951.8 L829.8,948.3 L831.9,944.7 L834.0,941.1 L836.0,937.5 L838.1,933.8 L840.2,930.0 L842.3,926.2 L844.4,922.3 L846.4,918.4 L848.5,914.4 L850.6,910.4 L852.7,906.3 L854.8,902.2 L856.8,898.0 L858.9,893.7 L861.0,889.4 L863.1,885.1 L865.2,880.7 L867.2,876.3 L869.3,871.8 L871.4,867.2 L873.5,862.6 L875.6,858.0 L877.6,853.3 L879.7,848.6 L881.8,843.8 L883.9,839.0 L886.0,834.1 L888.0,829.2 L890.1,824.2 L892.2,819.2 L894.3,814.2 L896.4,809.0 L898.4,803.9 L900.5,798.7 L902.6,793.5 L904.7,788.2 L906.8,782.9 L908.8,777.5 L910.9,772.1" stroke="#ff0000" stroke-width="2.6"/>
</g>
<path d="M659.9,1084.5h7v7h-7zM667.9,1081.7h7v7h-7zM675.8,1076.3h7v7h-7zM683.8,1076.3h7v7h-7zM691.8,1071.3h7v7h-7zM699.8,1065.3h7v7h-7zM707.7,1061.7h7v7h-7zM715.7,1057.1h7v7h-7zM723.7,1050.8h7v7h-7zM731.6,1046.4h7v7h-7zM739.6,1037.1h7v7h-7zM747.6,1031.6h7v7h-7zM755.6,1027.5h7v7h-7zM763.5,1024.2h7v7h-7zM771.5,1013.7h7v7h-7zM779.5,1000.0h7v7h-7zM787.5,996.7h7v7h-7zM795.4,983.6h7v7h-7zM803.4,978.9h7v7h-7zM811.4,969.3h7v7h-7zM819.3,955.6h7v7h-7zM827.3,948.2h7v7h-7zM835.3,938.3h7v7h-7zM843.3,921.3h7v7h-7zM851.2,910.4h7v7h-7zM859.2,892.0h7v7h-7zM867.2,870.1h7v7h-7zM875.1,841.0h7v7h-7zM883.1,824.0h7v7h-7zM891.1,796.9h7v7h-7zM899.1,771.6h7v7h-7zM907.0,750.0h7v7h-7z" fill="#505050"/>
<rect x="663.4" y="709.5" width="255.1" height="497.8" fill="none" stroke="#000" stroke-width="2"/>
<line x1="679.3" y1="1207.3" x2="679.3" y2="1216.8" stroke="#000" stroke-width="2" />
<line x1="719.2" y1="1207.3" x2="719.2" y2="1212.3" stroke="#000" stroke-width="2" />
<line x1="759.1" y1="1207.3" x2="759.1" y2="1216.8" stroke="#000" stroke-width="2" />
<line x1="798.9" y1="1207.3" x2="798.9" y2="1212.3" stroke="#000" stroke-width="2" />
<line x1="838.8" y1="1207.3" x2="838.8" y2="1216.8" stroke="#000" stroke-width="2" />
<line x1="878.6" y1="1207.3" x2="878.6" y2="1212.3" stroke="#000" stroke-width="2" />
<line x1="918.5" y1="1207.3" x2="918.5" y2="1216.8" stroke="#000" stroke-width="2" />
<line x1="653.4" y1="1207.3" x2="663.4" y2="1207.3" stroke="#000" stroke-width="2" />
<line x1="658.4" y1="1145.1" x2="663.4" y2="1145.1" stroke="#000" stroke-width="2" />
<line x1="653.4" y1="1082.8" x2="663.4" y2="1082.8" stroke="#000" stroke-width="2" />
<line x1="658.4" y1="1020.6" x2="663.4" y2="1020.6" stroke="#000" stroke-width="2" />
<line x1="653.4" y1="958.4" x2="663.4" y2="958.4" stroke="#000" stroke-width="2" />
<line x1="658.4" y1="896.2" x2="663.4" y2="896.2" stroke="#000" stroke-width="2" />
<line x1="653.4" y1="834.0" x2="663.4" y2="834.0" stroke="#000" stroke-width="2" />
<line x1="658.4" y1="771.7" x2="663.4" y2="771.7" stroke="#000" stroke-width="2" />
<line x1="653.4" y1="709.5" x2="663.4" y2="709.5" stroke="#000" stroke-width="2" />
<text x="680.4" y="1244.0" font-size="27.5" text-anchor="middle" >100</text>
<text x="758.0" y="1244.0" font-size="27.5" text-anchor="middle" >200</text>
<text x="834.5" y="1244.0" font-size="27.5" text-anchor="middle" >300</text>
<text x="907.0" y="1244.0" font-size="27.5" text-anchor="middle" >400</text>
<text x="788.4" y="1276.2" font-size="28" text-anchor="middle" >Temperature (K)</text>
<text x="785.3" y="1182.6" font-size="25.5" text-anchor="middle" fill="#000" textLength="144.8" lengthAdjust="spacingAndGlyphs"><tspan>Cs</tspan><tspan font-size="19.5" dy="6.0">0.5</tspan><tspan dy="-6.0">FA</tspan><tspan font-size="19.5" dy="6.0">0.5</tspan><tspan dy="-6.0">PbI</tspan><tspan font-size="19.5" dy="6.0">3</tspan></text>
<clipPath id="cb4"><rect x="944.7" y="709.5" width="252.9" height="497.8"/></clipPath>
<g clip-path="url(#cb4)" fill="none" stroke-width="2.3">
<path d="M944.7,1130.1 L946.8,1130.1 L948.8,1130.1 L950.9,1130.1 L952.9,1130.1 L955.0,1130.1 L957.1,1130.1 L959.1,1130.1 L961.2,1130.1 L963.3,1130.1 L965.3,1130.1 L967.4,1130.1 L969.4,1130.1 L971.5,1130.1 L973.6,1130.1 L975.6,1130.1 L977.7,1130.1 L979.8,1130.1 L981.8,1130.1 L983.9,1130.1 L985.9,1130.1 L988.0,1130.1 L990.1,1130.1 L992.1,1130.1 L994.2,1130.1 L996.3,1130.1 L998.3,1130.1 L1000.4,1130.1 L1002.4,1130.1 L1004.5,1130.1 L1006.6,1130.1 L1008.6,1130.1 L1010.7,1130.1 L1012.7,1130.1 L1014.8,1130.1 L1016.9,1130.1 L1018.9,1130.1 L1021.0,1130.1 L1023.1,1130.1 L1025.1,1130.1 L1027.2,1130.1 L1029.2,1130.1 L1031.3,1130.1 L1033.4,1130.1 L1035.4,1130.1 L1037.5,1130.1 L1039.6,1130.1 L1041.6,1130.1 L1043.7,1130.1 L1045.7,1130.1 L1047.8,1130.1 L1049.9,1130.1 L1051.9,1130.1 L1054.0,1130.1 L1056.1,1130.1 L1058.1,1130.1 L1060.2,1130.1 L1062.2,1130.1 L1064.3,1130.1 L1066.4,1130.1 L1068.4,1130.1 L1070.5,1130.1 L1072.6,1130.1 L1074.6,1130.1 L1076.7,1130.1 L1078.7,1130.1 L1080.8,1130.1 L1082.9,1130.1 L1084.9,1130.1 L1087.0,1130.1 L1089.0,1130.1 L1091.1,1130.1 L1093.2,1130.1 L1095.2,1130.1 L1097.3,1130.1 L1099.4,1130.1 L1101.4,1130.1 L1103.5,1130.1 L1105.5,1130.1 L1107.6,1130.1 L1109.7,1130.1 L1111.7,1130.1 L1113.8,1130.1 L1115.9,1130.1 L1117.9,1130.1 L1120.0,1130.1 L1122.0,1130.1 L1124.1,1130.1 L1126.2,1130.1 L1128.2,1130.1 L1130.3,1130.1 L1132.4,1130.1 L1134.4,1130.1 L1136.5,1130.1 L1138.5,1130.1 L1140.6,1130.1 L1142.7,1130.1 L1144.7,1130.1 L1146.8,1130.1 L1148.8,1130.1 L1150.9,1130.1 L1153.0,1130.1 L1155.0,1130.1 L1157.1,1130.1 L1159.2,1130.1 L1161.2,1130.1 L1163.3,1130.1 L1165.3,1130.1 L1167.4,1130.1 L1169.5,1130.1 L1171.5,1130.1 L1173.6,1130.1 L1175.7,1130.1 L1177.7,1130.1 L1179.8,1130.1 L1181.8,1130.1 L1183.9,1130.1 L1186.0,1130.1 L1188.0,1130.1 L1190.1,1130.1" stroke="#ff8000" stroke-dasharray="13,7,2,7" stroke-linecap="round"/>
<path d="M944.7,1102.2 L946.8,1101.3 L948.8,1100.3 L950.9,1099.4 L952.9,1098.5 L955.0,1097.6 L957.1,1096.7 L959.1,1095.8 L961.2,1094.9 L963.3,1094.0 L965.3,1093.0 L967.4,1092.1 L969.4,1091.2 L971.5,1090.3 L973.6,1089.4 L975.6,1088.5 L977.7,1087.6 L979.8,1086.7 L981.8,1085.7 L983.9,1084.8 L985.9,1083.9 L988.0,1083.0 L990.1,1082.1 L992.1,1081.2 L994.2,1080.3 L996.3,1079.4 L998.3,1078.4 L1000.4,1077.5 L1002.4,1076.6 L1004.5,1075.7 L1006.6,1074.8 L1008.6,1073.9 L1010.7,1073.0 L1012.7,1072.1 L1014.8,1071.1 L1016.9,1070.2 L1018.9,1069.3 L1021.0,1068.4 L1023.1,1067.5 L1025.1,1066.6 L1027.2,1065.7 L1029.2,1064.8 L1031.3,1063.8 L1033.4,1062.9 L1035.4,1062.0 L1037.5,1061.1 L1039.6,1060.2 L1041.6,1059.3 L1043.7,1058.4 L1045.7,1057.5 L1047.8,1056.5 L1049.9,1055.6 L1051.9,1054.7 L1054.0,1053.8 L1056.1,1052.9 L1058.1,1052.0 L1060.2,1051.1 L1062.2,1050.2 L1064.3,1049.2 L1066.4,1048.3 L1068.4,1047.4 L1070.5,1046.5 L1072.6,1045.6 L1074.6,1044.7 L1076.7,1043.8 L1078.7,1042.9 L1080.8,1041.9 L1082.9,1041.0 L1084.9,1040.1 L1087.0,1039.2 L1089.0,1038.3 L1091.1,1037.4 L1093.2,1036.5 L1095.2,1035.6 L1097.3,1034.6 L1099.4,1033.7 L1101.4,1032.8 L1103.5,1031.9 L1105.5,1031.0 L1107.6,1030.1 L1109.7,1029.2 L1111.7,1028.3 L1113.8,1027.3 L1115.9,1026.4 L1117.9,1025.5 L1120.0,1024.6 L1122.0,1023.7 L1124.1,1022.8 L1126.2,1021.9 L1128.2,1021.0 L1130.3,1020.0 L1132.4,1019.1 L1134.4,1018.2 L1136.5,1017.3 L1138.5,1016.4 L1140.6,1015.5 L1142.7,1014.6 L1144.7,1013.7 L1146.8,1012.7 L1148.8,1011.8 L1150.9,1010.9 L1153.0,1010.0 L1155.0,1009.1 L1157.1,1008.2 L1159.2,1007.3 L1161.2,1006.4 L1163.3,1005.4 L1165.3,1004.5 L1167.4,1003.6 L1169.5,1002.7 L1171.5,1001.8 L1173.6,1000.9 L1175.7,1000.0 L1177.7,999.1 L1179.8,998.1 L1181.8,997.2 L1183.9,996.3 L1186.0,995.4 L1188.0,994.5 L1190.1,993.6" stroke="#0000ff" stroke-dasharray="13,7,2,7" stroke-linecap="round"/>
<path d="M944.7,1130.1 L946.8,1130.1 L948.8,1130.1 L950.9,1130.1 L952.9,1130.1 L955.0,1130.1 L957.1,1130.1 L959.1,1130.1 L961.2,1130.1 L963.3,1130.0 L965.3,1130.0 L967.4,1130.0 L969.4,1129.9 L971.5,1129.9 L973.6,1129.8 L975.6,1129.8 L977.7,1129.7 L979.8,1129.6 L981.8,1129.5 L983.9,1129.4 L985.9,1129.2 L988.0,1129.1 L990.1,1128.9 L992.1,1128.7 L994.2,1128.4 L996.3,1128.2 L998.3,1127.9 L1000.4,1127.6 L1002.4,1127.3 L1004.5,1126.9 L1006.6,1126.5 L1008.6,1126.1 L1010.7,1125.6 L1012.7,1125.2 L1014.8,1124.6 L1016.9,1124.0 L1018.9,1123.4 L1021.0,1122.8 L1023.1,1122.1 L1025.1,1121.4 L1027.2,1120.6 L1029.2,1119.8 L1031.3,1118.9 L1033.4,1118.0 L1035.4,1117.0 L1037.5,1116.0 L1039.6,1114.9 L1041.6,1113.8 L1043.7,1112.7 L1045.7,1111.5 L1047.8,1110.2 L1049.9,1108.9 L1051.9,1107.5 L1054.0,1106.1 L1056.1,1104.7 L1058.1,1103.1 L1060.2,1101.6 L1062.2,1099.9 L1064.3,1098.3 L1066.4,1096.5 L1068.4,1094.7 L1070.5,1092.9 L1072.6,1091.0 L1074.6,1089.1 L1076.7,1087.1 L1078.7,1085.0 L1080.8,1082.9 L1082.9,1080.7 L1084.9,1078.5 L1087.0,1076.2 L1089.0,1073.9 L1091.1,1071.5 L1093.2,1069.1 L1095.2,1066.6 L1097.3,1064.1 L1099.4,1061.5 L1101.4,1058.9 L1103.5,1056.2 L1105.5,1053.4 L1107.6,1050.6 L1109.7,1047.8 L1111.7,1044.9 L1113.8,1042.0 L1115.9,1039.0 L1117.9,1035.9 L1120.0,1032.8 L1122.0,1029.7 L1124.1,1026.5 L1126.2,1023.3 L1128.2,1020.0 L1130.3,1016.6 L1132.4,1013.3 L1134.4,1009.8 L1136.5,1006.4 L1138.5,1002.9 L1140.6,999.3 L1142.7,995.7 L1144.7,992.0 L1146.8,988.3 L1148.8,984.6 L1150.9,980.8 L1153.0,977.0 L1155.0,973.1 L1157.1,969.2 L1159.2,965.3 L1161.2,961.3 L1163.3,957.2 L1165.3,953.2 L1167.4,949.1 L1169.5,944.9 L1171.5,940.7 L1173.6,936.5 L1175.7,932.2 L1177.7,927.9 L1179.8,923.6 L1181.8,919.2 L1183.9,914.8 L1186.0,910.3 L1188.0,905.9 L1190.1,901.3" stroke="#00c800" stroke-dasharray="13,7,2,7" stroke-linecap="round"/>
<path d="M944.7,1102.2 L946.8,1101.2 L948.8,1100.3 L950.9,1099.4 L952.9,1098.5 L955.0,1097.6 L957.1,1096.6 L959.1,1095.7 L961.2,1094.8 L963.3,1093.9 L965.3,1092.9 L967.4,1092.0 L969.4,1091.0 L971.5,1090.1 L973.6,1089.1 L975.6,1088.1 L977.7,1087.1 L979.8,1086.1 L981.8,1085.1 L983.9,1084.0 L985.9,1083.0 L988.0,1081.9 L990.1,1080.8 L992.1,1079.7 L994.2,1078.6 L996.3,1077.4 L998.3,1076.2 L1000.4,1075.0 L1002.4,1073.8 L1004.5,1072.5 L1006.6,1071.2 L1008.6,1069.8 L1010.7,1068.5 L1012.7,1067.1 L1014.8,1065.6 L1016.9,1064.1 L1018.9,1062.6 L1021.0,1061.0 L1023.1,1059.4 L1025.1,1057.8 L1027.2,1056.1 L1029.2,1054.4 L1031.3,1052.6 L1033.4,1050.8 L1035.4,1048.9 L1037.5,1047.0 L1039.6,1045.0 L1041.6,1043.0 L1043.7,1040.9 L1045.7,1038.8 L1047.8,1036.6 L1049.9,1034.4 L1051.9,1032.1 L1054.0,1029.8 L1056.1,1027.4 L1058.1,1025.0 L1060.2,1022.5 L1062.2,1020.0 L1064.3,1017.4 L1066.4,1014.7 L1068.4,1012.0 L1070.5,1009.3 L1072.6,1006.5 L1074.6,1003.6 L1076.7,1000.7 L1078.7,997.7 L1080.8,994.7 L1082.9,991.6 L1084.9,988.5 L1087.0,985.3 L1089.0,982.1 L1091.1,978.8 L1093.2,975.4 L1095.2,972.0 L1097.3,968.6 L1099.4,965.1 L1101.4,961.6 L1103.5,957.9 L1105.5,954.3 L1107.6,950.6 L1109.7,946.8 L1111.7,943.0 L1113.8,939.2 L1115.9,935.3 L1117.9,931.3 L1120.0,927.3 L1122.0,923.2 L1124.1,919.1 L1126.2,915.0 L1128.2,910.8 L1130.3,906.5 L1132.4,902.3 L1134.4,897.9 L1136.5,893.5 L1138.5,889.1 L1140.6,884.6 L1142.7,880.1 L1144.7,875.5 L1146.8,870.9 L1148.8,866.3 L1150.9,861.6 L1153.0,856.9 L1155.0,852.1 L1157.1,847.3 L1159.2,842.4 L1161.2,837.5 L1163.3,832.5 L1165.3,827.6 L1167.4,822.5 L1169.5,817.5 L1171.5,812.4 L1173.6,807.2 L1175.7,802.1 L1177.7,796.8 L1179.8,791.6 L1181.8,786.3 L1183.9,781.0 L1186.0,775.6 L1188.0,770.2 L1190.1,764.8" stroke="#ff0000" stroke-width="2.6"/>
</g>
<path d="M941.2,1100.4h7v7h-7zM949.1,1098.2h7v7h-7zM957.0,1091.9h7v7h-7zM964.9,1090.5h7v7h-7zM972.8,1083.7h7v7h-7zM980.7,1081.7h7v7h-7zM988.6,1074.9h7v7h-7zM996.5,1072.2h7v7h-7zM1004.4,1065.8h7v7h-7zM1012.3,1057.1h7v7h-7zM1020.2,1056.2h7v7h-7zM1028.1,1048.8h7v7h-7zM1036.0,1042.5h7v7h-7zM1043.9,1039.8h7v7h-7zM1051.8,1027.5h7v7h-7zM1059.7,1017.3h7v7h-7zM1067.7,1007.7h7v7h-7zM1075.6,994.8h7v7h-7zM1083.5,985.0h7v7h-7zM1091.4,974.3h7v7h-7zM1099.3,957.0h7v7h-7zM1107.2,942.7h7v7h-7zM1115.1,929.6h7v7h-7zM1123.0,924.9h7v7h-7zM1130.9,897.5h7v7h-7zM1138.8,877.5h7v7h-7zM1146.7,862.9h7v7h-7zM1154.6,844.6h7v7h-7zM1162.5,828.1h7v7h-7zM1170.4,792.5h7v7h-7zM1178.3,784.8h7v7h-7zM1186.2,762.9h7v7h-7z" fill="#505050"/>
<rect x="944.7" y="709.5" width="252.9" height="497.8" fill="none" stroke="#000" stroke-width="2"/>
<line x1="960.5" y1="1207.3" x2="960.5" y2="1216.8" stroke="#000" stroke-width="2" />
<line x1="1000.0" y1="1207.3" x2="1000.0" y2="1212.3" stroke="#000" stroke-width="2" />
<line x1="1039.5" y1="1207.3" x2="1039.5" y2="1216.8" stroke="#000" stroke-width="2" />
<line x1="1079.1" y1="1207.3" x2="1079.1" y2="1212.3" stroke="#000" stroke-width="2" />
<line x1="1118.6" y1="1207.3" x2="1118.6" y2="1216.8" stroke="#000" stroke-width="2" />
<line x1="1158.1" y1="1207.3" x2="1158.1" y2="1212.3" stroke="#000" stroke-width="2" />
<line x1="1197.6" y1="1207.3" x2="1197.6" y2="1216.8" stroke="#000" stroke-width="2" />
<line x1="934.7" y1="1207.3" x2="944.7" y2="1207.3" stroke="#000" stroke-width="2" />
<line x1="939.7" y1="1145.1" x2="944.7" y2="1145.1" stroke="#000" stroke-width="2" />
<line x1="934.7" y1="1082.8" x2="944.7" y2="1082.8" stroke="#000" stroke-width="2" />
<line x1="939.7" y1="1020.6" x2="944.7" y2="1020.6" stroke="#000" stroke-width="2" />
<line x1="934.7" y1="958.4" x2="944.7" y2="958.4" stroke="#000" stroke-width="2" />
<line x1="939.7" y1="896.2" x2="944.7" y2="896.2" stroke="#000" stroke-width="2" />
<line x1="934.7" y1="834.0" x2="944.7" y2="834.0" stroke="#000" stroke-width="2" />
<line x1="939.7" y1="771.7" x2="944.7" y2="771.7" stroke="#000" stroke-width="2" />
<line x1="934.7" y1="709.5" x2="944.7" y2="709.5" stroke="#000" stroke-width="2" />
<text x="964.6" y="1244.0" font-size="27.5" text-anchor="middle" >100</text>
<text x="1042.0" y="1244.0" font-size="27.5" text-anchor="middle" >200</text>
<text x="1118.8" y="1244.0" font-size="27.5" text-anchor="middle" >300</text>
<text x="1190.8" y="1244.0" font-size="27.5" text-anchor="middle" >400</text>
<text x="1071.6" y="1276.2" font-size="28" text-anchor="middle" >Temperature (K)</text>
<text x="1072.3" y="1182.6" font-size="25.5" text-anchor="middle" fill="#000" textLength="163.2" lengthAdjust="spacingAndGlyphs"><tspan>Cs</tspan><tspan font-size="19.5" dy="6.0">0.75</tspan><tspan dy="-6.0">FA</tspan><tspan font-size="19.5" dy="6.0">0.25</tspan><tspan dy="-6.0">PbI</tspan><tspan font-size="19.5" dy="6.0">3</tspan></text>
<clipPath id="cb5"><rect x="1231.6" y="709.5" width="253.4" height="497.8"/></clipPath>
<g clip-path="url(#cb5)" fill="none" stroke-width="2.3">
<path d="M1231.6,1145.7 L1233.7,1145.7 L1235.7,1145.7 L1237.8,1145.7 L1239.9,1145.7 L1241.9,1145.7 L1244.0,1145.7 L1246.1,1145.7 L1248.1,1145.7 L1250.2,1145.7 L1252.3,1145.7 L1254.3,1145.7 L1256.4,1145.7 L1258.5,1145.7 L1260.5,1145.7 L1262.6,1145.7 L1264.7,1145.7 L1266.7,1145.7 L1268.8,1145.7 L1270.9,1145.7 L1272.9,1145.7 L1275.0,1145.7 L1277.1,1145.7 L1279.1,1145.7 L1281.2,1145.7 L1283.3,1145.7 L1285.3,1145.7 L1287.4,1145.7 L1289.5,1145.7 L1291.5,1145.7 L1293.6,1145.7 L1295.7,1145.7 L1297.7,1145.7 L1299.8,1145.7 L1301.9,1145.7 L1303.9,1145.7 L1306.0,1145.7 L1308.0,1145.7 L1310.1,1145.7 L1312.2,1145.7 L1314.2,1145.7 L1316.3,1145.7 L1318.4,1145.7 L1320.4,1145.7 L1322.5,1145.7 L1324.6,1145.7 L1326.6,1145.7 L1328.7,1145.7 L1330.8,1145.7 L1332.8,1145.7 L1334.9,1145.7 L1337.0,1145.7 L1339.0,1145.7 L1341.1,1145.7 L1343.2,1145.7 L1345.2,1145.7 L1347.3,1145.7 L1349.4,1145.7 L1351.4,1145.7 L1353.5,1145.7 L1355.6,1145.7 L1357.6,1145.7 L1359.7,1145.7 L1361.8,1145.7 L1363.8,1145.7 L1365.9,1145.7 L1368.0,1145.7 L1370.0,1145.7 L1372.1,1145.7 L1374.2,1145.7 L1376.2,1145.7 L1378.3,1145.7 L1380.4,1145.7 L1382.4,1145.7 L1384.5,1145.7 L1386.6,1145.7 L1388.6,1145.7 L1390.7,1145.7 L1392.8,1145.7 L1394.8,1145.7 L1396.9,1145.7 L1399.0,1145.7 L1401.0,1145.7 L1403.1,1145.7 L1405.2,1145.7 L1407.2,1145.7 L1409.3,1145.7 L1411.4,1145.7 L1413.4,1145.7 L1415.5,1145.7 L1417.6,1145.7 L1419.6,1145.7 L1421.7,1145.7 L1423.8,1145.7 L1425.8,1145.7 L1427.9,1145.7 L1430.0,1145.7 L1432.0,1145.7 L1434.1,1145.7 L1436.2,1145.7 L1438.2,1145.7 L1440.3,1145.7 L1442.4,1145.7 L1444.4,1145.7 L1446.5,1145.7 L1448.6,1145.7 L1450.6,1145.7 L1452.7,1145.7 L1454.7,1145.7 L1456.8,1145.7 L1458.9,1145.7 L1460.9,1145.7 L1463.0,1145.7 L1465.1,1145.7 L1467.1,1145.7 L1469.2,1145.7 L1471.3,1145.7 L1473.3,1145.7 L1475.4,1145.7 L1477.5,1145.7" stroke="#ff8000" stroke-dasharray="13,7,2,7" stroke-linecap="round"/>
<path d="M1231.6,1136.3 L1233.7,1136.0 L1235.7,1135.7 L1237.8,1135.4 L1239.9,1135.1 L1241.9,1134.8 L1244.0,1134.4 L1246.1,1134.1 L1248.1,1133.8 L1250.2,1133.5 L1252.3,1133.2 L1254.3,1132.9 L1256.4,1132.6 L1258.5,1132.3 L1260.5,1132.0 L1262.6,1131.7 L1264.7,1131.4 L1266.7,1131.1 L1268.8,1130.8 L1270.9,1130.5 L1272.9,1130.2 L1275.0,1129.8 L1277.1,1129.5 L1279.1,1129.2 L1281.2,1128.9 L1283.3,1128.6 L1285.3,1128.3 L1287.4,1128.0 L1289.5,1127.7 L1291.5,1127.4 L1293.6,1127.1 L1295.7,1126.8 L1297.7,1126.5 L1299.8,1126.2 L1301.9,1125.9 L1303.9,1125.5 L1306.0,1125.2 L1308.0,1124.9 L1310.1,1124.6 L1312.2,1124.3 L1314.2,1124.0 L1316.3,1123.7 L1318.4,1123.4 L1320.4,1123.1 L1322.5,1122.8 L1324.6,1122.5 L1326.6,1122.2 L1328.7,1121.9 L1330.8,1121.6 L1332.8,1121.3 L1334.9,1120.9 L1337.0,1120.6 L1339.0,1120.3 L1341.1,1120.0 L1343.2,1119.7 L1345.2,1119.4 L1347.3,1119.1 L1349.4,1118.8 L1351.4,1118.5 L1353.5,1118.2 L1355.6,1117.9 L1357.6,1117.6 L1359.7,1117.3 L1361.8,1117.0 L1363.8,1116.6 L1365.9,1116.3 L1368.0,1116.0 L1370.0,1115.7 L1372.1,1115.4 L1374.2,1115.1 L1376.2,1114.8 L1378.3,1114.5 L1380.4,1114.2 L1382.4,1113.9 L1384.5,1113.6 L1386.6,1113.3 L1388.6,1113.0 L1390.7,1112.7 L1392.8,1112.4 L1394.8,1112.0 L1396.9,1111.7 L1399.0,1111.4 L1401.0,1111.1 L1403.1,1110.8 L1405.2,1110.5 L1407.2,1110.2 L1409.3,1109.9 L1411.4,1109.6 L1413.4,1109.3 L1415.5,1109.0 L1417.6,1108.7 L1419.6,1108.4 L1421.7,1108.1 L1423.8,1107.8 L1425.8,1107.4 L1427.9,1107.1 L1430.0,1106.8 L1432.0,1106.5 L1434.1,1106.2 L1436.2,1105.9 L1438.2,1105.6 L1440.3,1105.3 L1442.4,1105.0 L1444.4,1104.7 L1446.5,1104.4 L1448.6,1104.1 L1450.6,1103.8 L1452.7,1103.5 L1454.7,1103.1 L1456.8,1102.8 L1458.9,1102.5 L1460.9,1102.2 L1463.0,1101.9 L1465.1,1101.6 L1467.1,1101.3 L1469.2,1101.0 L1471.3,1100.7 L1473.3,1100.4 L1475.4,1100.1 L1477.5,1099.8" stroke="#0000ff" stroke-dasharray="13,7,2,7" stroke-linecap="round"/>
<path d="M1231.6,1145.6 L1233.7,1145.6 L1235.7,1145.5 L1237.8,1145.4 L1239.9,1145.4 L1241.9,1145.3 L1244.0,1145.2 L1246.1,1145.0 L1248.1,1144.9 L1250.2,1144.7 L1252.3,1144.5 L1254.3,1144.3 L1256.4,1144.0 L1258.5,1143.7 L1260.5,1143.4 L1262.6,1143.0 L1264.7,1142.6 L1266.7,1142.2 L1268.8,1141.7 L1270.9,1141.1 L1272.9,1140.6 L1275.0,1139.9 L1277.1,1139.3 L1279.1,1138.5 L1281.2,1137.8 L1283.3,1136.9 L1285.3,1136.0 L1287.4,1135.1 L1289.5,1134.1 L1291.5,1133.1 L1293.6,1132.0 L1295.7,1130.8 L1297.7,1129.6 L1299.8,1128.4 L1301.9,1127.0 L1303.9,1125.7 L1306.0,1124.2 L1308.0,1122.7 L1310.1,1121.2 L1312.2,1119.6 L1314.2,1117.9 L1316.3,1116.2 L1318.4,1114.4 L1320.4,1112.6 L1322.5,1110.7 L1324.6,1108.7 L1326.6,1106.7 L1328.7,1104.7 L1330.8,1102.6 L1332.8,1100.4 L1334.9,1098.2 L1337.0,1095.9 L1339.0,1093.6 L1341.1,1091.2 L1343.2,1088.8 L1345.2,1086.3 L1347.3,1083.8 L1349.4,1081.2 L1351.4,1078.6 L1353.5,1075.9 L1355.6,1073.2 L1357.6,1070.4 L1359.7,1067.6 L1361.8,1064.7 L1363.8,1061.8 L1365.9,1058.9 L1368.0,1055.9 L1370.0,1052.9 L1372.1,1049.8 L1374.2,1046.6 L1376.2,1043.5 L1378.3,1040.3 L1380.4,1037.0 L1382.4,1033.7 L1384.5,1030.4 L1386.6,1027.0 L1388.6,1023.6 L1390.7,1020.2 L1392.8,1016.7 L1394.8,1013.2 L1396.9,1009.7 L1399.0,1006.1 L1401.0,1002.5 L1403.1,998.8 L1405.2,995.1 L1407.2,991.4 L1409.3,987.6 L1411.4,983.8 L1413.4,980.0 L1415.5,976.2 L1417.6,972.3 L1419.6,968.4 L1421.7,964.4 L1423.8,960.5 L1425.8,956.5 L1427.9,952.5 L1430.0,948.4 L1432.0,944.3 L1434.1,940.2 L1436.2,936.1 L1438.2,931.9 L1440.3,927.7 L1442.4,923.5 L1444.4,919.3 L1446.5,915.0 L1448.6,910.7 L1450.6,906.4 L1452.7,902.1 L1454.7,897.7 L1456.8,893.3 L1458.9,888.9 L1460.9,884.5 L1463.0,880.1 L1465.1,875.6 L1467.1,871.1 L1469.2,866.6 L1471.3,862.0 L1473.3,857.5 L1475.4,852.9 L1477.5,848.3" stroke="#00c800" stroke-dasharray="13,7,2,7" stroke-linecap="round"/>
<path d="M1231.6,1136.2 L1233.7,1135.8 L1235.7,1135.5 L1237.8,1135.1 L1239.9,1134.7 L1241.9,1134.3 L1244.0,1133.9 L1246.1,1133.5 L1248.1,1133.0 L1250.2,1132.5 L1252.3,1132.0 L1254.3,1131.5 L1256.4,1130.9 L1258.5,1130.3 L1260.5,1129.7 L1262.6,1129.0 L1264.7,1128.3 L1266.7,1127.5 L1268.8,1126.7 L1270.9,1125.9 L1272.9,1125.0 L1275.0,1124.1 L1277.1,1123.1 L1279.1,1122.1 L1281.2,1121.0 L1283.3,1119.8 L1285.3,1118.7 L1287.4,1117.4 L1289.5,1116.1 L1291.5,1114.8 L1293.6,1113.4 L1295.7,1111.9 L1297.7,1110.4 L1299.8,1108.8 L1301.9,1107.2 L1303.9,1105.5 L1306.0,1103.8 L1308.0,1102.0 L1310.1,1100.1 L1312.2,1098.2 L1314.2,1096.2 L1316.3,1094.2 L1318.4,1092.1 L1320.4,1090.0 L1322.5,1087.8 L1324.6,1085.5 L1326.6,1083.2 L1328.7,1080.8 L1330.8,1078.4 L1332.8,1076.0 L1334.9,1073.4 L1337.0,1070.9 L1339.0,1068.2 L1341.1,1065.5 L1343.2,1062.8 L1345.2,1060.0 L1347.3,1057.2 L1349.4,1054.3 L1351.4,1051.4 L1353.5,1048.4 L1355.6,1045.4 L1357.6,1042.3 L1359.7,1039.2 L1361.8,1036.0 L1363.8,1032.8 L1365.9,1029.5 L1368.0,1026.2 L1370.0,1022.9 L1372.1,1019.5 L1374.2,1016.1 L1376.2,1012.6 L1378.3,1009.1 L1380.4,1005.5 L1382.4,1001.9 L1384.5,998.3 L1386.6,994.6 L1388.6,990.9 L1390.7,987.2 L1392.8,983.4 L1394.8,979.6 L1396.9,975.7 L1399.0,971.8 L1401.0,967.9 L1403.1,963.9 L1405.2,959.9 L1407.2,955.9 L1409.3,951.8 L1411.4,947.7 L1413.4,943.6 L1415.5,939.5 L1417.6,935.3 L1419.6,931.1 L1421.7,926.8 L1423.8,922.5 L1425.8,918.2 L1427.9,913.9 L1430.0,909.5 L1432.0,905.1 L1434.1,900.7 L1436.2,896.3 L1438.2,891.8 L1440.3,887.3 L1442.4,882.8 L1444.4,878.3 L1446.5,873.7 L1448.6,869.1 L1450.6,864.5 L1452.7,859.8 L1454.7,855.2 L1456.8,850.5 L1458.9,845.8 L1460.9,841.0 L1463.0,836.3 L1465.1,831.5 L1467.1,826.7 L1469.2,821.9 L1471.3,817.0 L1473.3,812.2 L1475.4,807.3 L1477.5,802.4" stroke="#ff0000" stroke-width="2.6"/>
</g>
<path d="M1228.1,1131.1h7v7h-7zM1236.0,1134.4h7v7h-7zM1243.9,1131.1h7v7h-7zM1251.9,1128.4h7v7h-7zM1259.8,1129.7h7v7h-7zM1267.7,1123.4h7v7h-7zM1275.6,1123.7h7v7h-7zM1283.5,1116.0h7v7h-7zM1291.4,1111.9h7v7h-7zM1299.4,1100.1h7v7h-7zM1307.3,1090.5h7v7h-7zM1315.2,1083.7h7v7h-7zM1323.1,1079.0h7v7h-7zM1331.0,1066.7h7v7h-7zM1339.0,1061.2h7v7h-7zM1346.9,1040.6h7v7h-7zM1354.8,1046.1h7v7h-7zM1362.7,1031.6h7v7h-7zM1370.6,1022.0h7v7h-7zM1378.6,1014.0h7v7h-7zM1386.5,990.7h7v7h-7zM1394.4,973.4h7v7h-7zM1402.3,958.9h7v7h-7zM1410.2,946.6h7v7h-7zM1418.2,922.7h7v7h-7zM1426.1,903.5h7v7h-7zM1434.0,880.8h7v7h-7zM1441.9,871.2h7v7h-7zM1449.8,848.7h7v7h-7zM1457.7,827.6h7v7h-7zM1465.7,819.1h7v7h-7zM1473.6,799.9h7v7h-7z" fill="#505050"/>
<rect x="1231.6" y="709.5" width="253.4" height="497.8" fill="none" stroke="#000" stroke-width="2"/>
<line x1="1247.4" y1="1207.3" x2="1247.4" y2="1216.8" stroke="#000" stroke-width="2" />
<line x1="1287.0" y1="1207.3" x2="1287.0" y2="1212.3" stroke="#000" stroke-width="2" />
<line x1="1326.6" y1="1207.3" x2="1326.6" y2="1216.8" stroke="#000" stroke-width="2" />
<line x1="1366.2" y1="1207.3" x2="1366.2" y2="1212.3" stroke="#000" stroke-width="2" />
<line x1="1405.8" y1="1207.3" x2="1405.8" y2="1216.8" stroke="#000" stroke-width="2" />
<line x1="1445.4" y1="1207.3" x2="1445.4" y2="1212.3" stroke="#000" stroke-width="2" />
<line x1="1485.0" y1="1207.3" x2="1485.0" y2="1216.8" stroke="#000" stroke-width="2" />
<line x1="1221.6" y1="1207.3" x2="1231.6" y2="1207.3" stroke="#000" stroke-width="2" />
<line x1="1226.6" y1="1145.1" x2="1231.6" y2="1145.1" stroke="#000" stroke-width="2" />
<line x1="1221.6" y1="1082.8" x2="1231.6" y2="1082.8" stroke="#000" stroke-width="2" />
<line x1="1226.6" y1="1020.6" x2="1231.6" y2="1020.6" stroke="#000" stroke-width="2" />
<line x1="1221.6" y1="958.4" x2="1231.6" y2="958.4" stroke="#000" stroke-width="2" />
<line x1="1226.6" y1="896.2" x2="1231.6" y2="896.2" stroke="#000" stroke-width="2" />
<line x1="1221.6" y1="834.0" x2="1231.6" y2="834.0" stroke="#000" stroke-width="2" />
<line x1="1226.6" y1="771.7" x2="1231.6" y2="771.7" stroke="#000" stroke-width="2" />
<line x1="1221.6" y1="709.5" x2="1231.6" y2="709.5" stroke="#000" stroke-width="2" />
<text x="1246.7" y="1244.0" font-size="27.5" text-anchor="middle" >100</text>
<text x="1325.0" y="1244.0" font-size="27.5" text-anchor="middle" >200</text>
<text x="1401.8" y="1244.0" font-size="27.5" text-anchor="middle" >300</text>
<text x="1473.8" y="1244.0" font-size="27.5" text-anchor="middle" >400</text>
<text x="1354.1" y="1276.2" font-size="28" text-anchor="middle" >Temperature (K)</text>
<text x="1349.2" y="1182.6" font-size="25.5" text-anchor="middle" fill="#000" textLength="70.5" lengthAdjust="spacingAndGlyphs"><tspan>CsPbI</tspan><tspan font-size="19.5" dy="6.0">3</tspan></text>
<text x="77.5" y="719.5" font-size="28" text-anchor="end" >130</text>
<text x="77.5" y="844.0" font-size="28" text-anchor="end" >110</text>
<text x="77.5" y="968.4" font-size="28" text-anchor="end" >90</text>
<text x="77.5" y="1092.8" font-size="28" text-anchor="end" >70</text>
<text x="77.5" y="1217.3" font-size="28" text-anchor="end" >50</text>
<text transform="translate(28.2,961) rotate(-90)" font-size="28" text-anchor="middle">FWHM (meV)</text>
<rect x="130.3" y="736.3" width="7" height="7" fill="#505050"/>
<text x="177.6" y="750.7" font-size="28" text-anchor="start" >FWHM</text>
<line x1="105.5" y1="769.4" x2="160" y2="769.4" stroke="#ff8000" stroke-width="2" stroke-dasharray="13,7,2,7" stroke-linecap="round"/>
<line x1="105.5" y1="799.4" x2="160" y2="799.4" stroke="#0000ff" stroke-width="2" stroke-dasharray="13,7,2,7" stroke-linecap="round"/>
<line x1="105.5" y1="829.3" x2="160" y2="829.3" stroke="#00c800" stroke-width="2" stroke-dasharray="13,7,2,7" stroke-linecap="round"/>
<line x1="105.5" y1="859.2" x2="161.5" y2="859.2" stroke="#ff0000" stroke-width="2.2" />
<text x="178.0" y="780.7" font-size="27">Γ<tspan font-size="17.5" dy="6.4">0</tspan></text>
<text x="178.0" y="810.6" font-size="27">Γ<tspan font-size="17.5" dy="6.4">0</tspan><tspan dy="-6.4">+Γ</tspan><tspan font-size="17.5" dy="7.5">AC</tspan></text>
<text x="178.0" y="840.5" font-size="27">Γ<tspan font-size="17.5" dy="6.4">0</tspan><tspan dy="-6.4">+Γ</tspan><tspan font-size="17.5" dy="7.5">LO</tspan></text>
<text x="178.0" y="870.4" font-size="27">Γ<tspan font-size="17.5" dy="6.4">tot</tspan></text>
<text x="1.5" y="1353.5" font-size="64">c</text>
<rect x="48.2" y="1387.5" width="661.3" height="392.0" fill="none" stroke="#000" stroke-width="2"/>
<line x1="48.2" y1="1779.5" x2="48.2" y2="1788.5" stroke="#000" stroke-width="2" />
<line x1="158.4" y1="1779.5" x2="158.4" y2="1784.5" stroke="#000" stroke-width="2" />
<line x1="268.6" y1="1779.5" x2="268.6" y2="1788.5" stroke="#000" stroke-width="2" />
<line x1="378.8" y1="1779.5" x2="378.8" y2="1784.5" stroke="#000" stroke-width="2" />
<line x1="489.1" y1="1779.5" x2="489.1" y2="1788.5" stroke="#000" stroke-width="2" />
<line x1="599.3" y1="1779.5" x2="599.3" y2="1784.5" stroke="#000" stroke-width="2" />
<line x1="709.5" y1="1779.5" x2="709.5" y2="1788.5" stroke="#000" stroke-width="2" />
<text x="50.5" y="1818.0" font-size="27.5" text-anchor="middle" >0.002</text>
<text x="268.9" y="1818.0" font-size="27.5" text-anchor="middle" >0.006</text>
<text x="483.4" y="1818.0" font-size="27.5" text-anchor="middle" >0.010</text>
<text x="677.7" y="1818.0" font-size="27.5" text-anchor="middle" >0.014</text>
<text x="386.5" y="1852.5" font-size="28" text-anchor="middle" >1/T (1/K)</text>
<text transform="translate(35,1576.6) rotate(-90)" font-size="28" text-anchor="middle">Intensity (Norm.)</text>
<line x1="75.8" y1="1387.5" x2="75.8" y2="1378.5" stroke="#000" stroke-width="2" />
<line x1="121.7" y1="1387.5" x2="121.7" y2="1378.5" stroke="#000" stroke-width="2" />
<line x1="213.5" y1="1387.5" x2="213.5" y2="1378.5" stroke="#000" stroke-width="2" />
<line x1="489.1" y1="1387.5" x2="489.1" y2="1378.5" stroke="#000" stroke-width="2" />
<line x1="62.0" y1="1387.5" x2="62.0" y2="1382.5" stroke="#000" stroke-width="2" />
<line x1="98.7" y1="1387.5" x2="98.7" y2="1382.5" stroke="#000" stroke-width="2" />
<line x1="167.6" y1="1387.5" x2="167.6" y2="1382.5" stroke="#000" stroke-width="2" />
<line x1="351.3" y1="1387.5" x2="351.3" y2="1382.5" stroke="#000" stroke-width="2" />
<text x="73.4" y="1373.5" font-size="27" text-anchor="middle" >400</text>
<text x="126.9" y="1373.5" font-size="27" text-anchor="middle" >300</text>
<text x="215.4" y="1373.5" font-size="27" text-anchor="middle" >200</text>
<text x="490.6" y="1373.5" font-size="27" text-anchor="middle" >100</text>
<text x="344.0" y="1343.4" font-size="28" text-anchor="middle" >Temperature (K)</text>
<path d="M75.0,1724.8h8.5v8.5h-8.5zM78.8,1686.2h8.5v8.5h-8.5zM82.7,1638.0h8.5v8.5h-8.5zM86.8,1599.8h8.5v8.5h-8.5zM91.2,1573.3h8.5v8.5h-8.5zM95.8,1554.0h8.5v8.5h-8.5zM100.7,1551.8h8.5v8.5h-8.5zM105.9,1555.8h8.5v8.5h-8.5zM111.5,1570.2h8.5v8.5h-8.5zM117.4,1578.8h8.5v8.5h-8.5zM123.8,1585.2h8.5v8.5h-8.5zM130.5,1580.8h8.5v8.5h-8.5zM137.8,1571.8h8.5v8.5h-8.5zM145.7,1563.3h8.5v8.5h-8.5zM154.2,1554.8h8.5v8.5h-8.5zM163.4,1552.0h8.5v8.5h-8.5zM173.3,1549.8h8.5v8.5h-8.5zM184.2,1540.8h8.5v8.5h-8.5zM196.2,1530.5h8.5v8.5h-8.5zM209.3,1520.2h8.5v8.5h-8.5zM223.8,1503.8h8.5v8.5h-8.5zM239.9,1492.8h8.5v8.5h-8.5zM257.9,1483.3h8.5v8.5h-8.5zM278.2,1472.2h8.5v8.5h-8.5zM301.1,1460.2h8.5v8.5h-8.5zM327.4,1447.2h8.5v8.5h-8.5zM357.6,1440.0h8.5v8.5h-8.5zM393.0,1437.7h8.5v8.5h-8.5zM434.7,1436.2h8.5v8.5h-8.5zM484.8,1436.2h8.5v8.5h-8.5zM546.0,1436.2h8.5v8.5h-8.5zM622.6,1430.5h8.5v8.5h-8.5z" fill="#ffc896"/>
<path d="M74.3,1733.0a5.0,5.0 0 1,0 10.0,0a5.0,5.0 0 1,0 -10.0,0zM78.0,1718.5a5.0,5.0 0 1,0 10.0,0a5.0,5.0 0 1,0 -10.0,0zM81.9,1705.6a5.0,5.0 0 1,0 10.0,0a5.0,5.0 0 1,0 -10.0,0zM86.1,1694.3a5.0,5.0 0 1,0 10.0,0a5.0,5.0 0 1,0 -10.0,0zM90.4,1671.7a5.0,5.0 0 1,0 10.0,0a5.0,5.0 0 1,0 -10.0,0zM95.1,1647.5a5.0,5.0 0 1,0 10.0,0a5.0,5.0 0 1,0 -10.0,0zM100.0,1630.9a5.0,5.0 0 1,0 10.0,0a5.0,5.0 0 1,0 -10.0,0zM105.2,1611.0a5.0,5.0 0 1,0 10.0,0a5.0,5.0 0 1,0 -10.0,0zM110.8,1590.5a5.0,5.0 0 1,0 10.0,0a5.0,5.0 0 1,0 -10.0,0zM116.7,1581.0a5.0,5.0 0 1,0 10.0,0a5.0,5.0 0 1,0 -10.0,0zM123.0,1585.2a5.0,5.0 0 1,0 10.0,0a5.0,5.0 0 1,0 -10.0,0zM129.8,1593.7a5.0,5.0 0 1,0 10.0,0a5.0,5.0 0 1,0 -10.0,0zM137.1,1588.0a5.0,5.0 0 1,0 10.0,0a5.0,5.0 0 1,0 -10.0,0zM144.9,1589.5a5.0,5.0 0 1,0 10.0,0a5.0,5.0 0 1,0 -10.0,0zM153.4,1578.8a5.0,5.0 0 1,0 10.0,0a5.0,5.0 0 1,0 -10.0,0zM162.6,1570.8a5.0,5.0 0 1,0 10.0,0a5.0,5.0 0 1,0 -10.0,0zM172.6,1563.8a5.0,5.0 0 1,0 10.0,0a5.0,5.0 0 1,0 -10.0,0zM183.5,1558.5a5.0,5.0 0 1,0 10.0,0a5.0,5.0 0 1,0 -10.0,0zM195.4,1554.2a5.0,5.0 0 1,0 10.0,0a5.0,5.0 0 1,0 -10.0,0zM208.5,1548.0a5.0,5.0 0 1,0 10.0,0a5.0,5.0 0 1,0 -10.0,0zM223.0,1541.4a5.0,5.0 0 1,0 10.0,0a5.0,5.0 0 1,0 -10.0,0zM239.1,1531.8a5.0,5.0 0 1,0 10.0,0a5.0,5.0 0 1,0 -10.0,0zM257.1,1522.2a5.0,5.0 0 1,0 10.0,0a5.0,5.0 0 1,0 -10.0,0zM277.4,1511.6a5.0,5.0 0 1,0 10.0,0a5.0,5.0 0 1,0 -10.0,0zM300.4,1501.1a5.0,5.0 0 1,0 10.0,0a5.0,5.0 0 1,0 -10.0,0zM326.6,1485.2a5.0,5.0 0 1,0 10.0,0a5.0,5.0 0 1,0 -10.0,0zM356.9,1478.0a5.0,5.0 0 1,0 10.0,0a5.0,5.0 0 1,0 -10.0,0zM392.2,1469.3a5.0,5.0 0 1,0 10.0,0a5.0,5.0 0 1,0 -10.0,0zM434.0,1463.5a5.0,5.0 0 1,0 10.0,0a5.0,5.0 0 1,0 -10.0,0zM484.1,1453.9a5.0,5.0 0 1,0 10.0,0a5.0,5.0 0 1,0 -10.0,0zM545.3,1444.3a5.0,5.0 0 1,0 10.0,0a5.0,5.0 0 1,0 -10.0,0zM621.8,1434.7a5.0,5.0 0 1,0 10.0,0a5.0,5.0 0 1,0 -10.0,0z" fill="#ff8080"/>
<path d="M79.3,1730.7l6.0,10.4h-12.0zM83.0,1717.7l6.0,10.4h-12.0zM86.9,1693.7l6.0,10.4h-12.0zM91.1,1674.7l6.0,10.4h-12.0zM95.4,1656.7l6.0,10.4h-12.0zM100.1,1636.7l6.0,10.4h-12.0zM105.0,1618.7l6.0,10.4h-12.0zM110.2,1596.7l6.0,10.4h-12.0zM115.8,1577.7l6.0,10.4h-12.0zM121.7,1568.7l6.0,10.4h-12.0zM128.0,1565.7l6.0,10.4h-12.0zM134.8,1571.7l6.0,10.4h-12.0zM142.1,1584.7l6.0,10.4h-12.0zM149.9,1595.7l6.0,10.4h-12.0zM158.4,1587.7l6.0,10.4h-12.0zM167.6,1579.7l6.0,10.4h-12.0zM177.6,1569.7l6.0,10.4h-12.0zM188.5,1559.7l6.0,10.4h-12.0zM200.4,1548.7l6.0,10.4h-12.0zM213.5,1537.2l6.0,10.4h-12.0zM228.0,1521.7l6.0,10.4h-12.0zM244.1,1513.7l6.0,10.4h-12.0zM262.1,1501.5l6.0,10.4h-12.0zM282.4,1494.8l6.0,10.4h-12.0zM305.4,1485.1l6.0,10.4h-12.0zM331.6,1477.4l6.0,10.4h-12.0zM361.9,1465.9l6.0,10.4h-12.0zM397.2,1453.4l6.0,10.4h-12.0zM439.0,1442.8l6.0,10.4h-12.0zM489.1,1435.6l6.0,10.4h-12.0zM550.3,1434.2l6.0,10.4h-12.0zM626.8,1428.4l6.0,10.4h-12.0z" fill="#d264c8"/>
<path d="M79.3,1747.3l6.0,-10.4h-12.0zM83.0,1732.3l6.0,-10.4h-12.0zM86.9,1708.3l6.0,-10.4h-12.0zM91.1,1685.3l6.0,-10.4h-12.0zM95.4,1654.3l6.0,-10.4h-12.0zM100.1,1622.3l6.0,-10.4h-12.0zM105.0,1600.3l6.0,-10.4h-12.0zM110.2,1575.3l6.0,-10.4h-12.0zM115.8,1567.3l6.0,-10.4h-12.0zM121.7,1568.3l6.0,-10.4h-12.0zM128.0,1573.3l6.0,-10.4h-12.0zM134.8,1589.3l6.0,-10.4h-12.0zM142.1,1609.3l6.0,-10.4h-12.0zM149.9,1623.3l6.0,-10.4h-12.0zM158.4,1626.3l6.0,-10.4h-12.0zM167.6,1619.3l6.0,-10.4h-12.0zM177.6,1603.3l6.0,-10.4h-12.0zM188.5,1588.3l6.0,-10.4h-12.0zM200.4,1573.3l6.0,-10.4h-12.0zM213.5,1560.3l6.0,-10.4h-12.0zM228.0,1548.3l6.0,-10.4h-12.0zM244.1,1538.3l6.0,-10.4h-12.0zM262.1,1528.5l6.0,-10.4h-12.0zM282.4,1521.8l6.0,-10.4h-12.0zM305.4,1512.2l6.0,-10.4h-12.0zM331.6,1499.7l6.0,-10.4h-12.0zM361.9,1485.2l6.0,-10.4h-12.0zM397.2,1474.7l6.0,-10.4h-12.0zM439.0,1462.6l6.0,-10.4h-12.0zM489.1,1455.4l6.0,-10.4h-12.0zM550.3,1449.6l6.0,-10.4h-12.0zM626.8,1441.0l6.0,-10.4h-12.0z" fill="#8c1ef0"/>
<path d="M79.3,1691.2l6.6,6.6l-6.6,6.6l-6.6,-6.6zM83.0,1662.1l6.6,6.6l-6.6,6.6l-6.6,-6.6zM86.9,1623.4l6.6,6.6l-6.6,6.6l-6.6,-6.6zM91.1,1584.7l6.6,6.6l-6.6,6.6l-6.6,-6.6zM95.4,1545.6l6.6,6.6l-6.6,6.6l-6.6,-6.6zM100.1,1504.5l6.6,6.6l-6.6,6.6l-6.6,-6.6zM105.0,1456.7l6.6,6.6l-6.6,6.6l-6.6,-6.6zM110.2,1415.9l6.6,6.6l-6.6,6.6l-6.6,-6.6zM115.8,1406.2l6.6,6.6l-6.6,6.6l-6.6,-6.6zM121.7,1415.9l6.6,6.6l-6.6,6.6l-6.6,-6.6zM128.0,1414.8l6.6,6.6l-6.6,6.6l-6.6,-6.6zM134.8,1410.5l6.6,6.6l-6.6,6.6l-6.6,-6.6zM142.1,1401.9l6.6,6.6l-6.6,6.6l-6.6,-6.6zM149.9,1400.2l6.6,6.6l-6.6,6.6l-6.6,-6.6zM158.4,1397.6l6.6,6.6l-6.6,6.6l-6.6,-6.6zM167.6,1394.4l6.6,6.6l-6.6,6.6l-6.6,-6.6zM177.6,1394.4l6.6,6.6l-6.6,6.6l-6.6,-6.6zM188.5,1402.6l6.6,6.6l-6.6,6.6l-6.6,-6.6zM200.4,1411.2l6.6,6.6l-6.6,6.6l-6.6,-6.6zM213.5,1419.8l6.6,6.6l-6.6,6.6l-6.6,-6.6zM228.0,1429.4l6.6,6.6l-6.6,6.6l-6.6,-6.6zM244.1,1433.5l6.6,6.6l-6.6,6.6l-6.6,-6.6zM262.1,1435.3l6.6,6.6l-6.6,6.6l-6.6,-6.6zM282.4,1436.7l6.6,6.6l-6.6,6.6l-6.6,-6.6zM305.4,1436.3l6.6,6.6l-6.6,6.6l-6.6,-6.6zM331.6,1435.8l6.6,6.6l-6.6,6.6l-6.6,-6.6zM361.9,1432.4l6.6,6.6l-6.6,6.6l-6.6,-6.6zM397.2,1429.0l6.6,6.6l-6.6,6.6l-6.6,-6.6zM439.0,1426.6l6.6,6.6l-6.6,6.6l-6.6,-6.6zM489.1,1425.7l6.6,6.6l-6.6,6.6l-6.6,-6.6zM550.3,1427.1l6.6,6.6l-6.6,6.6l-6.6,-6.6zM626.8,1428.1l6.6,6.6l-6.6,6.6l-6.6,-6.6z" fill="#0000ff"/>
<path d="M495.4,1599.0h7.5v7.5h-7.5z" fill="#ffc896"/>
<text x="519.6" y="1609.2" font-size="22.5" text-anchor="start" fill="#000" textLength="70.2" lengthAdjust="spacingAndGlyphs"><tspan>CsPbI</tspan><tspan font-size="19.0" dy="6.0">3</tspan></text>
<path d="M495.2,1637.2a4.0,4.0 0 1,0 8.0,0a4.0,4.0 0 1,0 -8.0,0z" fill="#ff8080"/>
<text x="519.6" y="1643.7" font-size="22.5" text-anchor="start" fill="#000" textLength="163.5" lengthAdjust="spacingAndGlyphs"><tspan>Cs</tspan><tspan font-size="19.0" dy="6.0">0.75</tspan><tspan dy="-6.0">FA</tspan><tspan font-size="19.0" dy="6.0">0.25</tspan><tspan dy="-6.0">PbI</tspan><tspan font-size="19.0" dy="6.0">3</tspan></text>
<path d="M499.2,1666.7l4.5,7.8h-9.0z" fill="#d264c8"/>
<text x="519.6" y="1677.9" font-size="22.5" text-anchor="start" fill="#000" textLength="145.0" lengthAdjust="spacingAndGlyphs"><tspan>Cs</tspan><tspan font-size="19.0" dy="6.0">0.5</tspan><tspan dy="-6.0">FA</tspan><tspan font-size="19.0" dy="6.0">0.5</tspan><tspan dy="-6.0">PbI</tspan><tspan font-size="19.0" dy="6.0">3</tspan></text>
<path d="M499.2,1712.2l4.5,-7.8h-9.0z" fill="#8c1ef0"/>
<text x="519.6" y="1714.0" font-size="22.5" text-anchor="start" fill="#000" textLength="163.5" lengthAdjust="spacingAndGlyphs"><tspan>Cs</tspan><tspan font-size="19.0" dy="6.0">0.25</tspan><tspan dy="-6.0">FA</tspan><tspan font-size="19.0" dy="6.0">0.75</tspan><tspan dy="-6.0">PbI</tspan><tspan font-size="19.0" dy="6.0">3</tspan></text>
<path d="M499.2,1734.8l6.5,6.5l-6.5,6.5l-6.5,-6.5z" fill="#0000ff"/>
<text x="519.6" y="1747.8" font-size="22.5" text-anchor="start" fill="#000" textLength="72.0" lengthAdjust="spacingAndGlyphs"><tspan>FAPbI</tspan><tspan font-size="19.0" dy="6.0">3</tspan></text>
<text x="716" y="1359.5" font-size="62">d</text>
<clipPath id="cd"><rect x="828.2" y="1359.0" width="665.1" height="414.2"/></clipPath>
<g clip-path="url(#cd)">
<path d="M824.7,1420.1h7.0v7.0h-7.0zM845.5,1419.0h7.0v7.0h-7.0zM866.3,1418.5h7.0v7.0h-7.0zM887.1,1418.0h7.0v7.0h-7.0zM907.8,1416.9h7.0v7.0h-7.0zM928.6,1415.8h7.0v7.0h-7.0zM949.4,1414.3h7.0v7.0h-7.0zM970.2,1412.7h7.0v7.0h-7.0zM991.0,1411.6h7.0v7.0h-7.0zM1011.8,1410.1h7.0v7.0h-7.0zM1032.5,1408.5h7.0v7.0h-7.0zM1053.3,1407.4h7.0v7.0h-7.0zM1074.1,1405.9h7.0v7.0h-7.0zM1094.9,1404.3h7.0v7.0h-7.0zM1115.7,1402.7h7.0v7.0h-7.0zM1136.5,1401.1h7.0v7.0h-7.0zM1157.2,1399.5h7.0v7.0h-7.0zM1178.0,1398.5h7.0v7.0h-7.0zM1198.8,1397.4h7.0v7.0h-7.0zM1219.6,1396.4h7.0v7.0h-7.0zM1240.4,1395.3h7.0v7.0h-7.0zM1261.2,1393.8h7.0v7.0h-7.0zM1282.0,1392.7h7.0v7.0h-7.0zM1302.7,1391.1h7.0v7.0h-7.0zM1323.5,1390.1h7.0v7.0h-7.0zM1344.3,1388.5h7.0v7.0h-7.0zM1365.1,1386.9h7.0v7.0h-7.0zM1385.9,1384.3h7.0v7.0h-7.0zM1406.7,1381.1h7.0v7.0h-7.0zM1427.4,1379.0h7.0v7.0h-7.0zM1448.2,1376.9h7.0v7.0h-7.0zM1469.0,1374.8h7.0v7.0h-7.0z" fill="#ffc896"/>
<path d="M824.2,1498.2a4.0,4.0 0 1,0 8.0,0a4.0,4.0 0 1,0 -8.0,0zM845.0,1497.2a4.0,4.0 0 1,0 8.0,0a4.0,4.0 0 1,0 -8.0,0zM865.8,1496.1a4.0,4.0 0 1,0 8.0,0a4.0,4.0 0 1,0 -8.0,0zM886.6,1495.1a4.0,4.0 0 1,0 8.0,0a4.0,4.0 0 1,0 -8.0,0zM907.3,1493.5a4.0,4.0 0 1,0 8.0,0a4.0,4.0 0 1,0 -8.0,0zM928.1,1491.9a4.0,4.0 0 1,0 8.0,0a4.0,4.0 0 1,0 -8.0,0zM948.9,1490.9a4.0,4.0 0 1,0 8.0,0a4.0,4.0 0 1,0 -8.0,0zM969.7,1489.3a4.0,4.0 0 1,0 8.0,0a4.0,4.0 0 1,0 -8.0,0zM990.5,1488.2a4.0,4.0 0 1,0 8.0,0a4.0,4.0 0 1,0 -8.0,0zM1011.3,1487.2a4.0,4.0 0 1,0 8.0,0a4.0,4.0 0 1,0 -8.0,0zM1032.0,1486.1a4.0,4.0 0 1,0 8.0,0a4.0,4.0 0 1,0 -8.0,0zM1052.8,1485.6a4.0,4.0 0 1,0 8.0,0a4.0,4.0 0 1,0 -8.0,0zM1073.6,1485.1a4.0,4.0 0 1,0 8.0,0a4.0,4.0 0 1,0 -8.0,0zM1094.4,1484.5a4.0,4.0 0 1,0 8.0,0a4.0,4.0 0 1,0 -8.0,0zM1115.2,1484.0a4.0,4.0 0 1,0 8.0,0a4.0,4.0 0 1,0 -8.0,0zM1136.0,1483.5a4.0,4.0 0 1,0 8.0,0a4.0,4.0 0 1,0 -8.0,0zM1156.8,1483.0a4.0,4.0 0 1,0 8.0,0a4.0,4.0 0 1,0 -8.0,0zM1177.5,1482.4a4.0,4.0 0 1,0 8.0,0a4.0,4.0 0 1,0 -8.0,0zM1198.3,1482.4a4.0,4.0 0 1,0 8.0,0a4.0,4.0 0 1,0 -8.0,0zM1219.1,1482.4a4.0,4.0 0 1,0 8.0,0a4.0,4.0 0 1,0 -8.0,0zM1239.9,1481.9a4.0,4.0 0 1,0 8.0,0a4.0,4.0 0 1,0 -8.0,0zM1260.7,1480.9a4.0,4.0 0 1,0 8.0,0a4.0,4.0 0 1,0 -8.0,0zM1281.5,1479.8a4.0,4.0 0 1,0 8.0,0a4.0,4.0 0 1,0 -8.0,0zM1302.2,1481.4a4.0,4.0 0 1,0 8.0,0a4.0,4.0 0 1,0 -8.0,0zM1323.0,1484.5a4.0,4.0 0 1,0 8.0,0a4.0,4.0 0 1,0 -8.0,0zM1343.8,1487.2a4.0,4.0 0 1,0 8.0,0a4.0,4.0 0 1,0 -8.0,0zM1364.6,1488.7a4.0,4.0 0 1,0 8.0,0a4.0,4.0 0 1,0 -8.0,0zM1385.4,1487.7a4.0,4.0 0 1,0 8.0,0a4.0,4.0 0 1,0 -8.0,0zM1406.2,1485.6a4.0,4.0 0 1,0 8.0,0a4.0,4.0 0 1,0 -8.0,0zM1426.9,1483.0a4.0,4.0 0 1,0 8.0,0a4.0,4.0 0 1,0 -8.0,0zM1447.7,1480.3a4.0,4.0 0 1,0 8.0,0a4.0,4.0 0 1,0 -8.0,0zM1468.5,1478.2a4.0,4.0 0 1,0 8.0,0a4.0,4.0 0 1,0 -8.0,0z" fill="#ff8080"/>
<path d="M828.2,1585.5l5.0,8.7h-10.0zM849.0,1584.5l5.0,8.7h-10.0zM869.8,1583.9l5.0,8.7h-10.0zM890.6,1583.4l5.0,8.7h-10.0zM911.3,1582.4l5.0,8.7h-10.0zM932.1,1580.8l5.0,8.7h-10.0zM952.9,1579.2l5.0,8.7h-10.0zM973.7,1577.6l5.0,8.7h-10.0zM994.5,1575.5l5.0,8.7h-10.0zM1015.3,1573.4l5.0,8.7h-10.0zM1036.0,1571.3l5.0,8.7h-10.0zM1056.8,1569.2l5.0,8.7h-10.0zM1077.6,1566.6l5.0,8.7h-10.0zM1098.4,1564.5l5.0,8.7h-10.0zM1119.2,1561.9l5.0,8.7h-10.0zM1140.0,1559.2l5.0,8.7h-10.0zM1160.8,1556.1l5.0,8.7h-10.0zM1181.5,1553.5l5.0,8.7h-10.0zM1202.3,1550.8l5.0,8.7h-10.0zM1223.1,1547.7l5.0,8.7h-10.0zM1243.9,1544.0l5.0,8.7h-10.0zM1264.7,1540.3l5.0,8.7h-10.0zM1285.5,1546.1l5.0,8.7h-10.0zM1306.2,1549.8l5.0,8.7h-10.0zM1327.0,1551.4l5.0,8.7h-10.0zM1347.8,1551.9l5.0,8.7h-10.0zM1368.6,1550.8l5.0,8.7h-10.0zM1389.4,1547.1l5.0,8.7h-10.0zM1410.2,1542.9l5.0,8.7h-10.0zM1430.9,1538.2l5.0,8.7h-10.0zM1451.7,1532.4l5.0,8.7h-10.0zM1472.5,1524.5l5.0,8.7h-10.0z" fill="#d264c8"/>
<path d="M828.2,1674.8l5.0,-8.7h-10.0zM849.0,1674.8l5.0,-8.7h-10.0zM869.8,1674.8l5.0,-8.7h-10.0zM890.6,1674.3l5.0,-8.7h-10.0zM911.3,1672.2l5.0,-8.7h-10.0zM932.1,1669.0l5.0,-8.7h-10.0zM952.9,1668.0l5.0,-8.7h-10.0zM973.7,1667.5l5.0,-8.7h-10.0zM994.5,1666.4l5.0,-8.7h-10.0zM1015.3,1664.8l5.0,-8.7h-10.0zM1036.0,1663.3l5.0,-8.7h-10.0zM1056.8,1661.7l5.0,-8.7h-10.0zM1077.6,1660.1l5.0,-8.7h-10.0zM1098.4,1657.5l5.0,-8.7h-10.0zM1119.2,1654.9l5.0,-8.7h-10.0zM1140.0,1652.2l5.0,-8.7h-10.0zM1160.8,1649.1l5.0,-8.7h-10.0zM1181.5,1646.4l5.0,-8.7h-10.0zM1202.3,1645.4l5.0,-8.7h-10.0zM1223.1,1644.3l5.0,-8.7h-10.0zM1243.9,1644.3l5.0,-8.7h-10.0zM1264.7,1644.9l5.0,-8.7h-10.0zM1285.5,1645.4l5.0,-8.7h-10.0zM1306.2,1646.4l5.0,-8.7h-10.0zM1327.0,1646.4l5.0,-8.7h-10.0zM1347.8,1645.4l5.0,-8.7h-10.0zM1368.6,1640.1l5.0,-8.7h-10.0zM1389.4,1635.4l5.0,-8.7h-10.0zM1410.2,1629.6l5.0,-8.7h-10.0zM1430.9,1623.8l5.0,-8.7h-10.0zM1451.7,1615.9l5.0,-8.7h-10.0zM1472.5,1606.5l5.0,-8.7h-10.0z" fill="#8c1ef0"/>
<path d="M828.2,1732.5l4.9,4.9l-4.9,4.9l-4.9,-4.9zM849.0,1733.1l4.9,4.9l-4.9,4.9l-4.9,-4.9zM869.8,1733.1l4.9,4.9l-4.9,4.9l-4.9,-4.9zM890.6,1732.5l4.9,4.9l-4.9,4.9l-4.9,-4.9zM911.3,1732.0l4.9,4.9l-4.9,4.9l-4.9,-4.9zM932.1,1731.5l4.9,4.9l-4.9,4.9l-4.9,-4.9zM952.9,1730.4l4.9,4.9l-4.9,4.9l-4.9,-4.9zM973.7,1729.4l4.9,4.9l-4.9,4.9l-4.9,-4.9zM994.5,1727.8l4.9,4.9l-4.9,4.9l-4.9,-4.9zM1015.3,1725.7l4.9,4.9l-4.9,4.9l-4.9,-4.9zM1036.0,1723.6l4.9,4.9l-4.9,4.9l-4.9,-4.9zM1056.8,1721.0l4.9,4.9l-4.9,4.9l-4.9,-4.9zM1077.6,1718.9l4.9,4.9l-4.9,4.9l-4.9,-4.9zM1098.4,1716.8l4.9,4.9l-4.9,4.9l-4.9,-4.9zM1119.2,1714.1l4.9,4.9l-4.9,4.9l-4.9,-4.9zM1140.0,1711.5l4.9,4.9l-4.9,4.9l-4.9,-4.9zM1160.8,1709.4l4.9,4.9l-4.9,4.9l-4.9,-4.9zM1181.5,1706.3l4.9,4.9l-4.9,4.9l-4.9,-4.9zM1202.3,1703.6l4.9,4.9l-4.9,4.9l-4.9,-4.9zM1223.1,1700.5l4.9,4.9l-4.9,4.9l-4.9,-4.9zM1243.9,1697.3l4.9,4.9l-4.9,4.9l-4.9,-4.9zM1264.7,1693.6l4.9,4.9l-4.9,4.9l-4.9,-4.9zM1285.5,1689.4l4.9,4.9l-4.9,4.9l-4.9,-4.9zM1306.2,1684.2l4.9,4.9l-4.9,4.9l-4.9,-4.9zM1327.0,1677.9l4.9,4.9l-4.9,4.9l-4.9,-4.9zM1347.8,1668.9l4.9,4.9l-4.9,4.9l-4.9,-4.9zM1368.6,1658.4l4.9,4.9l-4.9,4.9l-4.9,-4.9zM1389.4,1647.9l4.9,4.9l-4.9,4.9l-4.9,-4.9zM1410.2,1636.3l4.9,4.9l-4.9,4.9l-4.9,-4.9zM1430.9,1625.3l4.9,4.9l-4.9,4.9l-4.9,-4.9zM1451.7,1613.7l4.9,4.9l-4.9,4.9l-4.9,-4.9zM1472.5,1603.7l4.9,4.9l-4.9,4.9l-4.9,-4.9z" fill="#0000ff"/>
</g>
<rect x="828.2" y="1359.0" width="665.1" height="414.2" fill="none" stroke="#000" stroke-width="2"/>
<line x1="869.8" y1="1773.2" x2="869.8" y2="1782.2" stroke="#000" stroke-width="2" />
<line x1="973.7" y1="1773.2" x2="973.7" y2="1778.2" stroke="#000" stroke-width="2" />
<line x1="1077.6" y1="1773.2" x2="1077.6" y2="1782.2" stroke="#000" stroke-width="2" />
<line x1="1181.5" y1="1773.2" x2="1181.5" y2="1778.2" stroke="#000" stroke-width="2" />
<line x1="1285.5" y1="1773.2" x2="1285.5" y2="1782.2" stroke="#000" stroke-width="2" />
<line x1="1389.4" y1="1773.2" x2="1389.4" y2="1778.2" stroke="#000" stroke-width="2" />
<line x1="1493.3" y1="1773.2" x2="1493.3" y2="1782.2" stroke="#000" stroke-width="2" />
<line x1="819.2" y1="1740.5" x2="828.2" y2="1740.5" stroke="#000" stroke-width="2" />
<line x1="823.2" y1="1705.8" x2="828.2" y2="1705.8" stroke="#000" stroke-width="2" />
<line x1="819.2" y1="1671.1" x2="828.2" y2="1671.1" stroke="#000" stroke-width="2" />
<line x1="823.2" y1="1636.4" x2="828.2" y2="1636.4" stroke="#000" stroke-width="2" />
<line x1="819.2" y1="1601.7" x2="828.2" y2="1601.7" stroke="#000" stroke-width="2" />
<line x1="823.2" y1="1567.0" x2="828.2" y2="1567.0" stroke="#000" stroke-width="2" />
<line x1="819.2" y1="1532.3" x2="828.2" y2="1532.3" stroke="#000" stroke-width="2" />
<line x1="823.2" y1="1497.6" x2="828.2" y2="1497.6" stroke="#000" stroke-width="2" />
<line x1="819.2" y1="1462.9" x2="828.2" y2="1462.9" stroke="#000" stroke-width="2" />
<line x1="823.2" y1="1428.2" x2="828.2" y2="1428.2" stroke="#000" stroke-width="2" />
<line x1="819.2" y1="1393.5" x2="828.2" y2="1393.5" stroke="#000" stroke-width="2" />
<line x1="823.2" y1="1358.8" x2="828.2" y2="1358.8" stroke="#000" stroke-width="2" />
<text x="813.5" y="1752.5" font-size="27.5" text-anchor="end" >1.55</text>
<text x="813.5" y="1683.1" font-size="27.5" text-anchor="end" >1.60</text>
<text x="813.5" y="1613.7" font-size="27.5" text-anchor="end" >1.65</text>
<text x="813.5" y="1544.3" font-size="27.5" text-anchor="end" >1.70</text>
<text x="813.5" y="1474.9" font-size="27.5" text-anchor="end" >1.75</text>
<text x="813.5" y="1405.5" font-size="27.5" text-anchor="end" >1.80</text>
<text x="869.5" y="1811.0" font-size="27.5" text-anchor="middle" >100</text>
<text x="1076.7" y="1811.0" font-size="27.5" text-anchor="middle" >200</text>
<text x="1284.4" y="1811.0" font-size="27.5" text-anchor="middle" >300</text>
<text x="1471.0" y="1811.0" font-size="27.5" text-anchor="middle" >400</text>
<text x="1113.5" y="1849.4" font-size="28" text-anchor="middle" >Temperature (K)</text>
<text transform="translate(749,1571.4) rotate(-90)" font-size="28" text-anchor="middle">Eg (eV)</text>
<text x="868.8" y="1405.0" font-size="22.5" text-anchor="start" fill="#000" textLength="71.0" lengthAdjust="spacingAndGlyphs"><tspan>CsPbI</tspan><tspan font-size="19.0" dy="6.0">3</tspan></text>
<text x="838.8" y="1477.7" font-size="22.5" text-anchor="start" fill="#000" textLength="163.5" lengthAdjust="spacingAndGlyphs"><tspan>Cs</tspan><tspan font-size="19.0" dy="6.0">0.75</tspan><tspan dy="-6.0">FA</tspan><tspan font-size="19.0" dy="6.0">0.25</tspan><tspan dy="-6.0">PbI</tspan><tspan font-size="19.0" dy="6.0">3</tspan></text>
<text x="847.7" y="1561.3" font-size="22.5" text-anchor="start" fill="#000" textLength="145.0" lengthAdjust="spacingAndGlyphs"><tspan>Cs</tspan><tspan font-size="19.0" dy="6.0">0.5</tspan><tspan dy="-6.0">FA</tspan><tspan font-size="19.0" dy="6.0">0.5</tspan><tspan dy="-6.0">PbI</tspan><tspan font-size="19.0" dy="6.0">3</tspan></text>
<text x="838.8" y="1644.4" font-size="22.5" text-anchor="start" fill="#000" textLength="163.5" lengthAdjust="spacingAndGlyphs"><tspan>Cs</tspan><tspan font-size="19.0" dy="6.0">0.25</tspan><tspan dy="-6.0">FA</tspan><tspan font-size="19.0" dy="6.0">0.75</tspan><tspan dy="-6.0">PbI</tspan><tspan font-size="19.0" dy="6.0">3</tspan></text>
<text x="865.1" y="1715.4" font-size="22.5" text-anchor="start" fill="#000" textLength="72.0" lengthAdjust="spacingAndGlyphs"><tspan>FAPbI</tspan><tspan font-size="19.0" dy="6.0">3</tspan></text>
</svg>
</body></html>
